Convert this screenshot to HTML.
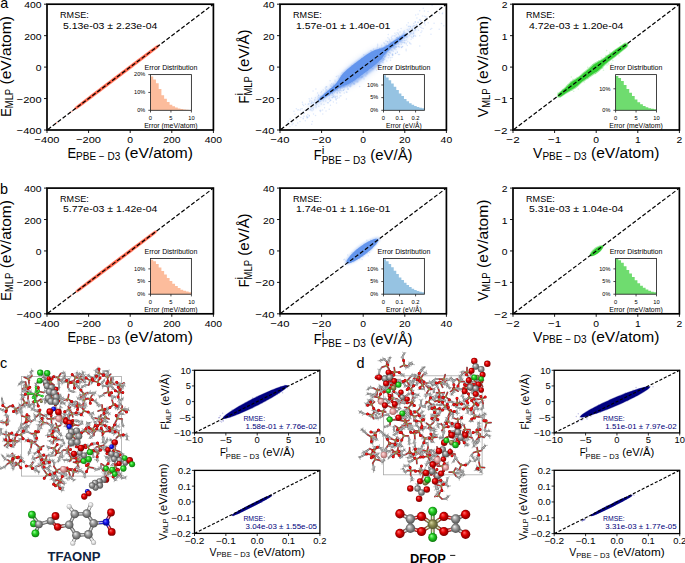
<!DOCTYPE html><html><head><meta charset="utf-8"><style>html,body{margin:0;padding:0;background:#fff;width:685px;height:563px;overflow:hidden}svg{display:block}text{font-family:"Liberation Sans",sans-serif}</style></head><body>
<svg width="685" height="563" viewBox="0 0 685 563">
<rect width="685" height="563" fill="#fff"/>
<defs><filter id="b1" x="-20%" y="-20%" width="140%" height="140%"><feGaussianBlur stdDeviation="0.7"/></filter><filter id="b2" x="-20%" y="-20%" width="140%" height="140%"><feGaussianBlur stdDeviation="1.3"/></filter><filter id="b3" x="-30%" y="-30%" width="160%" height="160%"><feGaussianBlur stdDeviation="2.5"/></filter></defs>
<path d="M73.26 110.15L74.48 107.24L76.61 105.53L78.75 103.84L80.91 102.17L83.07 100.5L85.23 98.84L87.4 97.18L89.56 95.52L91.73 93.87L93.9 92.21L96.07 90.56L98.24 88.91L100.42 87.26L102.59 85.61L104.76 83.96L106.94 82.31L109.11 80.67L111.29 79.02L113.46 77.37L115.64 75.73L117.81 74.08L119.99 72.44L122.17 70.79L124.35 69.15L126.53 67.51L128.7 65.87L130.88 64.23L133.06 62.59L135.24 60.95L137.43 59.31L139.61 57.67L141.79 56.04L143.98 54.4L146.17 52.77L148.35 51.15L150.55 49.52L152.75 47.91L154.95 46.3L157.18 44.72L160.31 44.34L160.31 44.34L159.08 47.24L156.96 48.96L154.81 50.64L152.66 52.32L150.5 53.98L148.34 55.65L146.17 57.3L144 58.96L141.84 60.62L139.67 62.27L137.5 63.92L135.32 65.58L133.15 67.23L130.98 68.88L128.81 70.52L126.63 72.17L124.46 73.82L122.28 75.47L120.11 77.11L117.93 78.76L115.75 80.4L113.58 82.05L111.4 83.69L109.22 85.33L107.04 86.98L104.86 88.62L102.68 90.26L100.5 91.9L98.32 93.54L96.14 95.18L93.96 96.81L91.77 98.45L89.59 100.08L87.4 101.71L85.21 103.34L83.02 104.96L80.82 106.58L78.62 108.18L76.39 109.76L73.26 110.15Z" fill="#ff6347" opacity="0.45"/>
<path d="M74.46 109.24L75.88 106.73L77.95 105.06L80.04 103.43L82.13 101.8L84.23 100.18L86.34 98.56L88.44 96.95L90.55 95.34L92.66 93.73L94.77 92.12L96.88 90.51L98.99 88.91L101.11 87.3L103.22 85.7L105.33 84.09L107.45 82.49L109.56 80.89L111.68 79.29L113.79 77.69L115.91 76.09L118.03 74.49L120.14 72.89L122.26 71.29L124.38 69.69L126.5 68.09L128.62 66.5L130.74 64.9L132.86 63.31L134.98 61.71L137.1 60.12L139.22 58.53L141.34 56.94L143.47 55.35L145.6 53.76L147.72 52.18L149.86 50.6L151.99 49.02L154.14 47.46L156.3 45.93L159.11 45.24L159.11 45.24L157.69 47.76L155.62 49.42L153.53 51.06L151.44 52.69L149.34 54.31L147.23 55.92L145.12 57.54L143.02 59.15L140.91 60.76L138.8 62.37L136.69 63.97L134.57 65.58L132.46 67.18L130.35 68.79L128.23 70.39L126.12 71.99L124.01 73.6L121.89 75.2L119.77 76.8L117.66 78.4L115.54 80L113.42 81.6L111.31 83.2L109.19 84.79L107.07 86.39L104.95 87.99L102.83 89.58L100.71 91.18L98.59 92.77L96.47 94.37L94.35 95.96L92.22 97.55L90.1 99.14L87.97 100.72L85.84 102.31L83.71 103.89L81.57 105.46L79.43 107.02L77.27 108.56L74.46 109.24Z" fill="#ff6347"/>
<path d="M70.18 112.3h0M56.57 122.77h0M71.96 111.44h0" stroke="#ff6347" stroke-width="1.8" stroke-linecap="round" fill="none" opacity="0.5"/>
<path d="M74.51 293.02L75.64 290.19L77.68 288.54L79.74 286.92L81.8 285.32L83.87 283.72L85.95 282.12L88.03 280.53L90.1 278.94L92.19 277.35L94.27 275.77L96.35 274.18L98.43 272.6L100.52 271.02L102.6 269.44L104.69 267.86L106.77 266.27L108.86 264.7L110.94 263.12L113.03 261.54L115.12 259.96L117.21 258.38L119.3 256.81L121.38 255.23L123.47 253.66L125.56 252.08L127.65 250.51L129.75 248.94L131.84 247.36L133.93 245.79L136.02 244.22L138.12 242.66L140.21 241.09L142.31 239.52L144.41 237.96L146.51 236.4L148.61 234.85L150.72 233.3L152.84 231.76L154.98 230.25L158.02 229.93L158.02 229.93L156.88 232.77L154.85 234.42L152.79 236.03L150.72 237.64L148.65 239.24L146.58 240.83L144.5 242.42L142.42 244.01L140.34 245.6L138.26 247.19L136.18 248.77L134.1 250.36L132.01 251.94L129.93 253.52L127.84 255.1L125.76 256.68L123.67 258.26L121.58 259.84L119.5 261.42L117.41 262.99L115.32 264.57L113.23 266.15L111.14 267.72L109.05 269.3L106.96 270.87L104.87 272.45L102.78 274.02L100.69 275.59L98.6 277.16L96.5 278.73L94.41 280.3L92.31 281.87L90.22 283.43L88.12 284.99L86.02 286.55L83.91 288.11L81.8 289.66L79.69 291.19L77.55 292.7L74.51 293.02Z" fill="#ff6347" opacity="0.45"/>
<path d="M75.7 292.12L77.04 289.67L79.02 288.07L81.02 286.5L83.03 284.94L85.04 283.39L87.05 281.84L89.07 280.3L91.09 278.75L93.11 277.21L95.13 275.67L97.16 274.13L99.18 272.6L101.21 271.06L103.23 269.52L105.26 267.99L107.28 266.45L109.31 264.92L111.33 263.39L113.36 261.85L115.39 260.32L117.42 258.79L119.45 257.26L121.48 255.73L123.51 254.2L125.54 252.67L127.57 251.14L129.6 249.61L131.63 248.08L133.66 246.56L135.69 245.03L137.73 243.51L139.76 241.99L141.8 240.47L143.84 238.95L145.88 237.43L147.92 235.92L149.97 234.42L152.03 232.92L154.1 231.45L156.82 230.84L156.82 230.84L155.49 233.29L153.51 234.88L151.51 236.45L149.5 238.01L147.49 239.56L145.47 241.11L143.46 242.66L141.44 244.2L139.42 245.74L137.39 247.28L135.37 248.82L133.35 250.36L131.32 251.9L129.3 253.43L127.27 254.97L125.25 256.5L123.22 258.04L121.19 259.57L119.17 261.1L117.14 262.63L115.11 264.17L113.08 265.7L111.05 267.23L109.02 268.76L106.99 270.29L104.96 271.82L102.93 273.34L100.9 274.87L98.87 276.4L96.83 277.92L94.8 279.45L92.76 280.97L90.73 282.49L88.69 284.01L86.65 285.52L84.61 287.03L82.56 288.54L80.5 290.03L78.42 291.5L75.7 292.12Z" fill="#ff6347"/>
<path d="M71.22 295.33h0M67.8 297.77h0" stroke="#ff6347" stroke-width="1.8" stroke-linecap="round" fill="none" opacity="0.5"/>
<path d="M354.75 72.24h0M357.45 73.83h0M334.88 90.67h0M398.32 39.14h0M396.42 41.61h0M376.19 57.43h0M308.16 104.14h0M379.01 53.77h0M315.53 115.57h0M336.82 90.55h0M373.84 60.26h0M382.1 56.89h0M373 58.93h0M338.77 77.98h0M378.97 50.38h0M345.97 84.79h0M353.25 76.11h0M383.58 51.47h0M351.88 81.14h0M344.57 76.33h0M337.6 86.18h0M380.94 61.62h0M362.98 62.94h0M300.82 117.53h0M362.25 72.23h0M380.01 55.69h0M314.79 99.56h0M383.07 48.33h0M408.89 31.32h0M370.43 68.09h0M385.09 54.58h0M352.41 82.2h0M334.52 92.69h0M410.94 44.1h0M316.77 101.72h0M408.33 30.41h0M311.7 124.34h0M377.01 61.01h0M325.59 90.97h0M398.73 40.35h0M370.93 60.36h0M412.95 26.52h0M379.29 53.32h0M310.03 100.14h0M393.09 42.62h0M303.15 117.93h0M395.48 53.27h0M356.03 69.16h0M317.53 93h0M381.96 54.65h0M372.96 57.8h0M365.53 61.54h0M343.89 84.78h0M397.17 42.28h0M333.48 85.53h0M412.09 33.91h0M320.36 101.31h0M359.85 71.9h0M411.85 37.62h0M407.83 41.86h0M337.31 84.4h0M397.65 37.15h0M374.71 58.76h0M367.69 62.27h0M357.81 71h0M382.27 53.68h0M386.97 47.21h0M427.05 17.54h0M351.19 78.92h0M361.79 65.45h0M352.42 74.51h0M430.98 34.24h0M327.47 93.73h0M376.18 57.19h0M348.77 75.96h0M374.12 62.17h0M440.23 7.15h0M346.55 81.18h0M356.93 73.12h0M399.29 47.28h0M359.99 66.61h0M387.52 41.82h0M310.83 110.02h0M351.76 73.93h0M406.13 50.82h0M402.67 46.44h0M389.41 55.81h0M367.15 60.01h0M358.85 70.59h0M389.08 47.8h0M358.12 65.59h0M398.24 43.25h0M393.87 46.35h0M366.8 62.42h0M369.76 60.37h0M319.85 110.4h0M385.91 55.69h0M335.17 97.46h0M402.28 34.14h0M413.81 35.68h0M366.23 70.39h0M384.49 43.8h0M331.58 83.66h0M396 44.29h0M296.36 108.82h0M362.13 71.42h0M375.84 56.66h0M414.88 35.43h0M396.16 34.68h0M410.88 33.18h0M337.75 82.12h0M367.43 64.39h0M410.22 34.18h0M292.11 124.74h0M302.17 108.68h0M375.44 61.6h0M362.08 65.6h0M363.88 62.11h0M359.99 66.26h0M406.75 25.11h0M340.44 80.89h0M307.7 117.46h0M297.79 110.11h0M324.73 97.27h0M357.93 72.21h0M344.57 81.04h0M421.01 24.1h0M378.63 51.63h0M360.3 75.73h0M343.78 77.59h0M313.34 109.68h0M394.04 40.41h0M362.68 65.25h0M371.71 66.69h0M316.05 107.81h0M394.91 47.18h0M337.2 91.9h0M315.48 104.92h0M325.35 94.61h0M287.5 122.85h0M348.18 89.13h0M387.8 50.91h0M295.95 125.4h0M374.27 61.78h0M387.02 46.22h0M384.47 50.39h0M404.65 32.8h0M383.1 62.84h0M389.23 41.41h0M355.53 75.99h0M431.77 28.45h0M373.46 48.92h0M332.61 87.5h0M424.59 22.52h0M379.8 51.17h0M335.33 89.65h0M371.57 58.1h0M363.28 68.84h0M332.54 93.28h0M392.19 45.64h0M338.93 90.91h0M390.54 60.33h0M382.69 51h0M416.39 25.09h0M360.81 67.76h0M298.52 109.84h0M375.89 61.67h0M401.07 28.61h0M321.21 103.92h0M372.9 59.95h0M353.45 79.97h0M428.07 11.6h0M329.65 101.28h0M415.21 22.28h0M419.47 20.09h0M335.51 87.65h0M297.69 123.06h0M361.09 67.56h0M341.09 85.45h0M377.78 55.31h0M383.86 51.45h0M351.96 73.06h0M367.2 68.46h0M344.03 82.6h0M360.19 69.73h0M363.64 67.06h0M362.27 74.11h0M375.09 54.22h0M378.29 57.58h0M380.42 59.61h0M303.3 112.98h0M332.38 87.4h0M336.54 103.09h0M326.6 86.98h0M354.84 80.71h0M338.35 84.2h0M379.45 54.98h0M409.22 28.9h0M362.17 66.47h0M413.76 23.57h0M399.56 46.63h0M357.78 69.11h0M352.25 71.62h0M380.88 50.28h0M351.92 65.61h0M404.18 38.39h0M361.71 58.47h0M351.14 73.26h0M395.27 43.83h0M326.24 94.97h0M372.99 55.56h0M388.92 48.53h0M389.86 45.09h0M370.46 62.38h0M354.79 71.46h0M332.06 95.17h0M366.99 71.12h0M354.6 83.98h0M340.83 82.15h0M382.2 54.01h0M359.57 77.03h0M420.64 21.19h0M401.29 44.3h0M361.84 76.94h0M386.57 45.59h0M303.63 113.5h0M388.32 57.86h0M309.22 116.11h0M347.27 87.1h0M364.52 66.09h0M382.55 49.99h0M408.43 26.61h0M323.6 101.07h0M333.08 96.91h0M361.4 69.45h0M383.27 60.47h0M324.57 97.44h0M358.28 73.17h0M363.48 71.01h0M385.51 49.44h0" stroke="#6495ed" stroke-width="1.5" stroke-linecap="round" fill="none" opacity="0.22"/>
<path d="M362.54 71.39h0M364.04 79.1h0M332.59 91.04h0M315.41 102.99h0M371.51 67.65h0M356.67 74.42h0M377.29 54.58h0M364.51 70.58h0M359.53 71.16h0M386.71 48.82h0M344.27 89.32h0M353.72 78.65h0M328.84 94.74h0M348.09 79.03h0M381.65 56.14h0M439.32 12.97h0M398.82 40.49h0M406.12 49.18h0M339.41 84.82h0M377.7 45.66h0M371.52 56.06h0M386.1 45.9h0M380.63 55.67h0M382.72 58.5h0M404.53 42.75h0M367.48 55.57h0M356.83 72.84h0M401.04 39.35h0M337.58 86.12h0M380.9 51.25h0M334.99 80.37h0M417.13 27.22h0M373.48 62.22h0M411.2 36.14h0M386.67 52.77h0M340.11 81.93h0M406.59 35.36h0M340.42 81.24h0M361.81 67.89h0M409.16 26.23h0M342.15 73.07h0M362.59 65.41h0M343.45 83.26h0M302.45 102.16h0M411.12 39.25h0M320.87 110.28h0M402.79 40.83h0M362.69 69.78h0M362.33 73.33h0M367.57 70.62h0M361.11 68.42h0M379.45 56.92h0M334.75 88.75h0M344.97 74.47h0M388.78 49.36h0M350.56 80.98h0M335.02 91.33h0M372.3 58.93h0M377.24 47.28h0M341.48 84.46h0M346.97 79.56h0M368.09 62.67h0M355.61 72.24h0M364.17 64.22h0M306.53 117.02h0M365.92 70.19h0M328.98 90.47h0M341.74 81.16h0M387.04 48.51h0M380.45 55.56h0M319.13 101.61h0M379.69 58.12h0M359.32 67.92h0M334.34 86.51h0M425.25 24.97h0M368.98 64.37h0M412.18 29.07h0M394.42 48.2h0M363.5 67.91h0M302.7 104.21h0M397.21 51.77h0M388.07 49.97h0M377.48 55.59h0M316.81 104.5h0M413.36 33.78h0M334.99 96.97h0M324.09 95.71h0M416.65 24.88h0M367.13 55.35h0M348.98 82.09h0M379.59 53.07h0M334.74 96.1h0M372.76 59.78h0M322.88 99.79h0M345.62 79.18h0M360.45 70.55h0M350.42 72.98h0M409.45 35.38h0M392.92 49.64h0M364.81 63.8h0M413.47 32.5h0M361.25 68.77h0M316.15 103.57h0M341.54 82.62h0M333.38 101.94h0M364.71 65.9h0M344.42 78.01h0M356.57 75.79h0M382.81 60.7h0M342.43 83.91h0M391.5 47.57h0M375.25 61.93h0M370.05 55.5h0M336.36 76.46h0M343.42 82.98h0M367.42 60.53h0M330.46 105.19h0M381.45 50.39h0M377.64 44.17h0M370.01 61.86h0M392.69 43.81h0M420.97 32.5h0M359.61 86.59h0M390.86 49.14h0M387.88 37.81h0M364.3 68.29h0M349.98 82.09h0M342.36 80.69h0M365.05 66.44h0M356.59 69.19h0M380.09 56.01h0M385.58 51.95h0M323.19 89.99h0M381.02 59.15h0M397.49 40.24h0M309.16 98.72h0M372.71 56.9h0M370.62 63.14h0M311.64 100.93h0M365.52 67.51h0M375.03 58.81h0M386.46 52.39h0M367.02 73.91h0M348.98 75.71h0M407.71 36.65h0M356.93 66.2h0M352.02 73.26h0M417.43 26.85h0M405.15 40.55h0M370.79 62.7h0M365.39 61.72h0M442.69 13.07h0M344.48 79.83h0M328.99 91.18h0M382.9 54.56h0M384.53 59.43h0M392.08 54.24h0M343.13 86.09h0M349.29 74.65h0M367.4 66.58h0M377.67 49.53h0M363.49 66.41h0M402.8 36.59h0M315.92 89.05h0M441.47 23.49h0M361.93 67.36h0M393.06 41.88h0M357.56 77.03h0M365.21 62.28h0M332.03 97.48h0M366.99 73.09h0M356.62 75h0M379.97 58.72h0M336.87 90.12h0M363.71 70.43h0M362.93 65.28h0M397.06 32.63h0M340.05 87.79h0M340.96 85.09h0M383.81 59.04h0M378.86 56.39h0M304.79 110.29h0M407.33 45.59h0M389.23 47.33h0M378.15 54.72h0M406.25 36.9h0M392.92 47.82h0M389.23 52.59h0M357.07 65.52h0M378.57 57.22h0M329.65 98h0M368.23 60.26h0M376.42 55.67h0M360.02 65h0M352.75 78.54h0M392.17 45.86h0M356.34 75.84h0M354.48 71.95h0M377.93 62.46h0M377.2 56.69h0M330.04 88.91h0M355.77 75.21h0M386.08 43.93h0M340.97 82.7h0M330.11 80.79h0M345.51 75.8h0M341.4 80.54h0M443.78 25.86h0M349.01 76.5h0M362.37 71.51h0M432.39 15.22h0M308.87 103.64h0M305.41 104.2h0M345.23 80.99h0M403.9 36.64h0M324.59 107.64h0M399.67 36.24h0M335.8 84.31h0M378.36 53.56h0M293 123.41h0M390.84 43.28h0M398.43 54.58h0M368.38 62.09h0M353.42 75.34h0M393.41 47.63h0M402.78 42.7h0M373.63 62.54h0M370.46 65.55h0M309.66 101.57h0M374.88 61.77h0M368.36 59.94h0M333.1 91.46h0M379.98 52.88h0M357.88 81.64h0M402.73 36.29h0M364.96 67.9h0M373.31 62.34h0M333.28 94.83h0M346.4 83.81h0M325.27 93.12h0" stroke="#6495ed" stroke-width="1.5" stroke-linecap="round" fill="none" opacity="0.22"/>
<path d="M320.31 96.58h0M330.69 90.73h0M407.25 33.57h0M340.56 84.97h0M372.26 68.6h0M344.22 81.65h0M348.85 78.58h0M385.53 47.3h0M391.38 43.64h0M354.85 74.5h0M356.01 74.92h0M361.82 76.53h0M353.42 75.61h0M332.99 91.08h0M380.83 55.56h0M439.21 29.24h0M361.21 77.5h0M388.26 34.6h0M283.69 127.22h0M381.26 55.9h0M386.83 61.1h0M390.24 45.69h0M365.87 68.46h0M385.53 53.64h0M372.19 63.53h0M292.42 121.85h0M368.89 60.55h0M336.13 88.75h0M383.35 52.16h0M398.01 30.08h0M339.98 95.99h0M387.43 41.68h0M391.31 42.46h0M345.96 84.67h0M394.69 49.17h0M309.37 115.52h0M343.87 86.4h0M372.96 64h0M406.03 36.2h0M325.78 89h0M344.87 80.88h0M364.21 68.61h0M375.87 61.64h0M312.36 121.53h0M325.74 100.91h0M363.16 67.91h0M381.46 53.72h0M340.46 88.99h0M296.98 119.39h0M378.26 54.21h0M360.48 70.89h0M393.84 44.86h0M386.11 47.8h0M368.08 58.76h0M346.57 82.43h0M340.22 89.64h0M408.27 22.85h0M363.62 65.48h0M399.26 36.18h0M406 43.1h0M342.52 81.49h0M409.49 32.47h0M337.51 89.4h0M344.99 86.17h0M413.79 33.78h0M360.45 61.45h0M400.86 37.68h0M343.5 80.97h0M413.81 25.82h0M403.97 36.7h0M380.94 55.66h0M374.71 53.35h0M318.52 102.27h0M372.87 63.29h0M352.48 72.69h0M425.74 16.4h0M377.77 64.08h0M425.25 20.66h0M365.11 71.21h0M364.35 71.73h0M365.34 64.57h0M364.45 66.02h0M333.18 83.23h0M347.53 89.04h0M359.59 74.11h0M332.72 93.11h0M375.82 63.82h0M356.72 66.99h0M386.15 51.52h0M368.32 64.74h0M361.04 66.75h0M365.85 76.08h0M365.04 70.31h0M386.25 53.73h0M364.3 58.05h0M333.62 96.75h0M326.03 110.9h0M302.86 111.23h0M348.11 88.8h0M314.84 100.81h0M340.18 87.41h0M371.6 55.64h0M422.49 16.12h0M368.21 63.54h0M416.88 17.92h0M353.11 73.69h0M373.04 60.43h0M351.08 83.58h0M350.54 85.11h0M401.54 35.98h0M321.61 91.42h0M397.37 52.49h0M420.11 19.59h0M434.08 23.28h0M379.95 53.4h0M370.09 62.16h0M401.63 47.41h0M328.31 102.68h0M347.62 82.82h0M375.14 57.86h0M366.32 68.49h0M347.76 75.33h0M388.12 48.75h0M350.35 70.84h0M343.51 79.81h0M401.54 40.64h0M393.16 51.32h0M395.78 42.37h0M311.31 103.05h0M332.23 84.66h0M342.73 84.41h0M373.74 61.61h0M373.45 62.79h0M385.42 51.28h0M376.47 69.99h0M400.97 39.37h0M306.81 110.09h0M376.48 53.02h0M325.26 88.07h0M354.02 64.87h0M357.95 69.2h0M354.75 79.58h0M396.52 37.78h0M410.48 26.94h0M349.61 86.48h0M344.86 85.34h0M336.52 85.22h0M375.04 60.37h0M369.81 63.73h0M369.22 60.29h0M396.41 46.74h0M311.61 98.15h0M365.43 61.79h0M312.6 108.5h0M367.67 70.56h0M345.87 77.74h0M394.09 35.77h0M340.03 93.07h0M378.44 52.08h0M372.85 66.41h0M386.98 46.02h0M382.79 55.65h0M372 57.92h0M350.47 86.67h0M373.44 58.2h0M362.71 64.89h0M345.48 81.91h0M353.03 73.24h0M415.69 30.03h0M424.35 11.02h0M387.76 46.48h0M421.08 25.55h0M362.56 73.03h0M376.03 52.05h0M380.01 53.36h0M357.24 71.88h0M315.42 97.77h0M353.38 80.64h0M342.06 88.32h0M388.59 43.3h0M317.98 96.68h0M393.83 48.05h0M318.81 106.32h0M342.96 81.71h0M357.03 82h0M374.67 66.12h0M396.01 49.78h0M343.97 86.96h0M343.67 76.6h0M389.65 44.92h0M377.53 64.22h0M348.66 81.74h0M331.47 89.3h0M342.1 87.69h0M336.2 100h0M379.85 48.99h0M371.58 65.94h0M401.97 37.06h0M389.74 40.05h0M401.17 41.92h0M395.49 39.35h0M316.19 106.21h0M318.89 102.27h0M384.96 56.87h0M293.97 111.22h0M372.78 54.12h0M318.7 95.38h0M423.29 8.36h0M356.74 71.83h0M357.05 68.52h0M396.88 42.16h0M318.48 97.43h0M347.58 76.95h0M368.95 56.6h0M401.54 41.7h0M371.29 53.99h0M345.85 79.13h0M398.49 34.14h0M383.59 59.02h0M323.06 96.99h0M370.73 50.71h0M333.61 84.44h0M392.74 54.41h0M337.47 86.68h0M348.61 79.87h0M380.84 58.59h0M380.32 58.16h0M345.37 78.99h0M345.03 80.44h0M414.95 28.81h0M357.84 69.04h0M349.96 73.18h0M321.3 96.11h0M349.5 82.28h0M423.2 28.42h0M417.95 22.34h0M413.27 36.3h0M398.18 33.19h0M360.55 70.65h0M441.71 7.38h0" stroke="#6495ed" stroke-width="1.5" stroke-linecap="round" fill="none" opacity="0.22"/>
<path d="M351.92 79.56h0M377.48 55.76h0M366.12 58.53h0M352.51 74.05h0M413.56 36.26h0M392.23 35.95h0M323.97 104.4h0M335.82 99.1h0M382.63 62.12h0M376.59 51.06h0M313.44 107.76h0M300.22 110.35h0M341.13 86.15h0M364.66 64.77h0M352.9 75.82h0M346.29 80.33h0M326.41 95.55h0M303.98 116.27h0M424.85 20.95h0M323.07 96.93h0M337.32 96.71h0M338.69 82.87h0M376.46 58.52h0M337.24 93.56h0M406.36 34h0M339.16 97.77h0M313.06 90.98h0M327.55 95.5h0M371.03 62.87h0M358.05 78.08h0M325.92 86.84h0M337.77 82.98h0M310.82 109.5h0M370.14 58.3h0M326.54 92.42h0M377.95 60.34h0M381.27 58.69h0M338.65 86.77h0M335.97 96.76h0M348.73 75.5h0M348.28 73.54h0M330.63 100.28h0M412.28 28.47h0M396.31 47.56h0M389.01 47.23h0M384.63 51.77h0M404.31 40.81h0M337.13 95.88h0M403.08 42.21h0M333.24 96h0M352.66 82.02h0M356.07 76.28h0M348.64 83.75h0M366.08 67.81h0M367.16 64.07h0M379.62 65.59h0M348.75 82.86h0M392.63 54.02h0M341.92 85.69h0M351.12 72.76h0M347.7 75.31h0M322.65 110.02h0M401.68 36.47h0M379.28 55.36h0M382.23 59.48h0M395.66 46.46h0M395.22 43.42h0M305.35 120.83h0M400.36 40.79h0M350.84 76.33h0M351.65 79.37h0M366.98 64.65h0M412.26 30.73h0M418.05 14.31h0M415.41 21.64h0M367.89 63.98h0M360.94 72.9h0M363.15 70.78h0M414.66 25.74h0M354.07 83.98h0M363.12 69.87h0M332.44 97.77h0M290.18 119.1h0M356.8 62.33h0M363.3 68.63h0M409.68 32.14h0M370.1 64.47h0M341.14 77.4h0M391.37 37.34h0M352.77 75.85h0M333.41 85.46h0M317.89 98.91h0M395.13 35.98h0M331.17 86.41h0M343.08 87.16h0M318.45 95h0M418.45 30.19h0M340.61 86.93h0M350.86 86.1h0M339.67 79.93h0M424.47 23.6h0M343.18 85.82h0M300.84 109.03h0M326.47 89.87h0M313.54 114.01h0M374.84 62.7h0M388.91 48.63h0M324.79 93.55h0M395.72 53.62h0M420.66 21.31h0M392.87 55.26h0M341.89 85.99h0M402.32 46.75h0M341.01 95.72h0M355.58 72.35h0M312.06 110.64h0M376.64 50.37h0M385.92 52.45h0M329.02 99.36h0M342.45 83.05h0M359.14 64.36h0M375.45 63.6h0M410.38 26.42h0M368.67 66.97h0M307.66 117.07h0M395.17 48.26h0M321.33 98.59h0M370.5 59.93h0M381.53 47.21h0M334.74 84.46h0M330.66 88.89h0M369.21 62.52h0M394.93 44.21h0M397.1 37.5h0M369.47 65.75h0M341.26 87.4h0M357.59 72.45h0M382.53 49.67h0M338.35 90.66h0M353.4 74.65h0M326.63 86.78h0M343.51 77.75h0M289.49 123.88h0M372.46 60.26h0M382.54 52.11h0M373.05 68.71h0M346.96 92.29h0M383.32 51.37h0M359.47 74.46h0M341.1 75.79h0M419.42 25.98h0M409.64 42.44h0M303.86 116.31h0M337.52 90.5h0M363.75 54.7h0M342.79 83.28h0M372.89 60.93h0M389.08 38.93h0M323.86 96.89h0M354.79 72.89h0M320.47 111.51h0M288.19 120.88h0M369.97 62.67h0M289.85 126.39h0M343.4 90.35h0M332.98 87.19h0M381.42 54.44h0M381.8 56.93h0M366.19 65.68h0M381.85 54.34h0M359.71 71.32h0M338.07 75.98h0M379.42 53.79h0M432.09 5.56h0M312.21 102.24h0M385.96 40.96h0M403.76 32.82h0M328.86 99.1h0M371.51 59.6h0M332.43 93.5h0M351.09 76.98h0M375.36 60.21h0M321.03 92.69h0M415.25 29.43h0M395.51 41.21h0M383.89 50.05h0M338.22 84.03h0M398.63 46.28h0M419.73 10.8h0M415.71 14.97h0M388.52 50.69h0M346.78 84.51h0M367.77 64.79h0M390.26 57.78h0M361.81 66.42h0M378.55 55.2h0M357.59 72.88h0M337.24 86.79h0M362.61 67.26h0M336.61 87.99h0M364.34 64.78h0M328.94 91.65h0M393.8 41.7h0M353.32 77.82h0M354.93 71.17h0M414.03 30.68h0M342.59 81.81h0M372.41 65.07h0M340.72 85.62h0M388.31 55.11h0M330.18 90.3h0M324.62 96.64h0M375.48 59.32h0M331.67 92.27h0M352.67 74.55h0M334.47 84.07h0M311.1 108.64h0M362.39 64.85h0M343.29 80.47h0M344.19 78.89h0M420.71 27.28h0M380.22 59.58h0M391.86 39.81h0M367.35 69.58h0M374.29 54.42h0M396.56 38.29h0M307.81 114.58h0M413 38h0M394.93 33.37h0M385.53 45.44h0M356.04 79.04h0M361.12 70.51h0M361.12 66.84h0M358.99 70.47h0M377.54 57.28h0M421.38 21.12h0M367.11 66.01h0M340.85 78.35h0M370.99 66.79h0M346.37 81.49h0" stroke="#6495ed" stroke-width="1.5" stroke-linecap="round" fill="none" opacity="0.22"/>
<path d="M347.34 75.02h0M325.57 93.72h0M370.97 67.21h0M365.7 66.6h0M381.03 56.77h0M377.25 64.92h0M327.29 90.82h0M397.27 42.42h0M342.33 78.57h0M300.01 121.6h0M383.87 49.2h0M336.11 99.08h0M409.87 31.87h0M335.26 88.93h0M399.47 54.6h0M397.41 38.04h0M294.95 114.2h0M303.54 105.59h0M371.72 51.28h0M344.5 82.22h0M399.14 44.51h0M342.41 85.71h0M363.82 72.1h0M378.21 54.18h0M362.91 61.32h0M350.71 71.66h0M344.8 78.36h0M301.6 113.3h0M359.42 73.08h0M345.34 83.32h0M346.41 91.97h0M346.27 83.6h0M349.71 83.38h0M358.08 68.67h0M357.06 74.91h0M404.47 30.99h0M390.41 41.29h0M353.84 75.76h0M401.04 42.65h0M359.42 69.38h0M376.5 59.31h0M395.85 44.4h0M384.52 46.53h0M383.27 49.26h0M330.62 100.28h0M343.13 80.93h0M415.57 36.17h0M375.62 62.53h0M341.31 86.06h0M385.55 50.13h0M404.38 42.67h0M389.98 42.88h0M365.27 64.57h0M348.57 84.46h0M352.5 79.17h0M416.02 26.86h0M372.36 57.85h0M336.86 83.27h0M379.35 62.84h0M381.88 51.27h0M374.87 51.85h0M349.64 75.99h0M390.1 52.39h0M406.34 43.93h0M321.02 96.88h0M329.57 94.19h0M311.3 106.9h0M326.89 93.6h0M313.74 102.67h0M355.36 73.75h0M361.59 68.79h0M329.24 109.17h0M366.92 69.1h0M348.53 77.19h0M303.22 118.79h0M347.04 85.53h0M374.73 60.02h0M340.3 90.58h0M391.42 50.22h0M381.61 51.99h0M307.15 117.91h0M363.44 66.55h0M386.88 46.04h0M398 43.88h0M355.67 70.44h0M348.06 74.63h0M311.28 103.17h0M362.52 77.03h0M394.44 42.78h0M366.76 69.76h0M345.72 74.19h0M346.38 99.07h0M339.73 92.21h0M360.58 71.74h0M337.07 92.39h0M401.31 47.35h0M428.25 22.71h0M326.99 91.03h0M384.44 57.11h0M392.44 55.45h0M331.6 85.91h0M358.6 77.31h0M378.29 52.31h0M366.8 72.69h0M352.04 74.65h0M383.92 42.86h0M356.96 74.94h0M360.42 65.3h0M330.55 85.71h0M341.33 82.33h0M388.84 54.69h0M360.76 68.95h0M384.93 56.23h0M337.45 98.16h0M360.03 77h0M395.07 46.91h0M407.28 29.52h0M363.25 65.12h0M329.41 95.5h0M348.6 85.34h0M364.83 67.46h0M419.75 46.04h0M344.77 86.65h0M348.24 77.43h0M376.82 57.68h0M347.75 77.45h0M379.52 64.16h0M358.55 77.68h0M325.89 95.46h0M365.7 65.75h0M336.58 89.3h0M333.89 88.21h0M381.71 45.25h0M406.69 39.99h0M351.52 81.35h0M369.5 54.48h0M391.98 57.51h0M327.55 102.69h0M380.43 55.07h0M369.74 55.21h0M339.75 90.29h0M425.58 18.56h0M344.21 92.98h0M322.78 114.08h0M366.09 65.74h0M396.05 44.04h0M343.67 86.62h0M430.5 29.36h0M369.49 63.24h0M384.64 53.89h0M378.06 52.99h0M360.23 72.29h0M360.05 74.63h0M358 73.34h0M367.93 58.75h0M407.01 37.65h0M382.54 52.03h0M388.25 49.06h0M373.47 62.41h0M336.79 83.54h0M403.54 33.65h0M377.31 56.2h0M353.66 83.68h0M384.69 50.86h0M348.57 83.84h0M409.92 43.49h0M418.17 22.29h0M442.26 13.77h0M364.29 69.33h0M369.38 64.32h0M337.46 82.04h0M340.22 88.11h0M382.95 55.78h0M349.33 76.93h0M355 79.99h0M361.18 70.55h0M421.87 30.97h0M397 46.85h0M353.36 77.03h0M370.8 58.55h0M421.87 27.98h0M403.56 31.61h0M391.84 50.43h0M393.02 46.14h0M375.86 59.75h0M382.5 47.92h0M400.65 40.96h0M391.91 38.4h0M330.32 84.99h0M319.82 97.63h0M379.45 48.54h0M373.92 62.13h0M341.71 90.87h0M389.03 49.8h0M339.8 83.09h0M340.68 87.39h0M345.63 73.61h0M411.15 32.84h0M313.02 104.28h0M365.6 64.85h0M382.79 54.85h0M391.34 42.31h0M371.57 63.54h0M347.09 77.01h0M329.35 94.6h0M343.51 90.15h0M383.32 53.02h0M363.43 64.37h0M316.53 103.81h0M371.43 58.18h0M327.44 91.1h0M368.17 58.46h0M398.82 38.03h0M432.56 15.68h0M351.22 78.75h0M334.07 90.29h0M304.34 113.18h0M375.37 54.29h0M349.89 71.87h0M343.54 83.64h0M306.59 116.11h0M335.1 81.76h0M383.01 58.29h0M379.54 53.49h0M356.68 72.94h0M355.63 76.19h0M309.05 109.63h0M400.05 31.99h0M356.87 76.12h0M355.59 70.07h0M376.19 60.87h0M375.72 59.55h0M380.97 56.57h0M318.02 101.91h0M390.33 53.13h0M358.94 67.76h0M353.74 78.15h0M424.44 16.16h0M398.4 46.58h0M419.72 35.71h0" stroke="#6495ed" stroke-width="1.5" stroke-linecap="round" fill="none" opacity="0.22"/>
<path d="M306.76 109.81L307.7 107.18L309.19 105.28L310.77 103.51L312.4 101.8L314.07 100.13L315.76 98.5L317.47 96.89L319.19 95.3L320.93 93.73L322.68 92.18L324.44 90.63L326.2 89.1L327.97 87.57L329.73 86.03L331.47 84.46L333.17 82.83L334.8 81.13L336.37 79.34L337.89 77.48L339.39 75.59L340.89 73.71L342.44 71.89L344.05 70.14L345.71 68.48L347.44 66.9L349.22 65.37L351.03 63.9L352.86 62.46L354.71 61.03L356.57 59.62L358.43 58.22L360.31 56.83L362.2 55.46L364.11 54.12L366.05 52.82L368.05 51.59L370.1 50.44L372.22 49.37L374.4 48.38L376.61 47.44L378.84 46.52L381.04 45.57L383.19 44.54L385.28 43.43L387.31 42.24L389.29 41L391.25 39.72L393.21 38.44L395.16 37.16L397.13 35.89L399.1 34.63L401.09 33.39L403.09 32.16L405.1 30.96L407.13 29.78L409.19 28.63L411.28 27.52L413.42 26.48L415.65 25.57L418.44 25.39L418.44 25.39L417.5 28.02L416.01 29.92L414.43 31.69L412.8 33.4L411.13 35.07L409.44 36.7L407.73 38.31L406.01 39.9L404.27 41.47L402.52 43.02L400.76 44.57L399 46.1L397.23 47.63L395.47 49.17L393.73 50.74L392.03 52.37L390.4 54.07L388.83 55.86L387.31 57.72L385.81 59.61L384.31 61.49L382.76 63.31L381.15 65.06L379.49 66.72L377.76 68.3L375.98 69.83L374.17 71.3L372.34 72.74L370.49 74.17L368.63 75.58L366.77 76.98L364.89 78.37L363 79.74L361.09 81.08L359.15 82.38L357.15 83.61L355.1 84.76L352.98 85.83L350.8 86.82L348.59 87.76L346.36 88.68L344.16 89.63L342.01 90.66L339.92 91.77L337.89 92.96L335.91 94.2L333.95 95.48L331.99 96.76L330.04 98.04L328.07 99.31L326.1 100.57L324.11 101.81L322.11 103.04L320.1 104.24L318.07 105.42L316.01 106.57L313.92 107.68L311.78 108.72L309.55 109.63L306.76 109.81Z" fill="#6495ed" opacity="0.2" filter="url(#b3)"/>
<path d="M317.93 101.07L318.8 99.13L320.07 97.71L321.4 96.37L322.76 95.08L324.14 93.81L325.53 92.55L326.94 91.32L328.35 90.09L329.77 88.88L331.2 87.67L332.62 86.46L334.02 85.21L335.35 83.87L336.56 82.38L337.65 80.73L338.67 78.98L339.68 77.22L340.74 75.53L341.88 73.94L343.12 72.48L344.43 71.12L345.8 69.84L347.21 68.61L348.64 67.41L350.1 66.24L351.56 65.08L353.03 63.93L354.51 62.78L355.99 61.65L357.47 60.52L358.97 59.4L360.46 58.28L361.96 57.17L363.47 56.08L365 54.99L366.53 53.93L368.1 52.9L369.7 51.93L371.37 51.04L373.12 50.26L374.96 49.59L376.88 49.04L378.85 48.56L380.81 48.06L382.69 47.45L384.45 46.68L386.09 45.75L387.67 44.74L389.21 43.69L390.76 42.64L392.31 41.6L393.87 40.56L395.43 39.53L397 38.52L398.59 37.52L400.19 36.54L401.8 35.58L403.45 34.67L405.16 33.83L407.27 33.53L407.27 33.53L406.4 35.47L405.13 36.89L403.8 38.23L402.44 39.52L401.06 40.79L399.67 42.05L398.26 43.28L396.85 44.51L395.43 45.72L394 46.93L392.57 48.13L391.14 49.33L389.73 50.57L388.4 51.9L387.18 53.38L386.08 55.02L385.06 56.77L384.06 58.54L383 60.24L381.86 61.83L380.63 63.29L379.32 64.65L377.95 65.94L376.54 67.16L375.09 68.35L373.64 69.52L372.17 70.67L370.69 71.82L369.21 72.95L367.73 74.08L366.23 75.2L364.74 76.32L363.24 77.43L361.73 78.53L360.21 79.62L358.69 80.7L357.15 81.75L355.58 82.77L353.97 83.74L352.3 84.63L350.56 85.42L348.73 86.09L346.81 86.65L344.84 87.14L342.87 87.64L340.99 88.24L339.23 89L337.57 89.91L335.99 90.92L334.44 91.96L332.89 93L331.33 94.04L329.77 95.07L328.2 96.08L326.61 97.08L325.01 98.06L323.4 99.02L321.75 99.93L320.04 100.77L317.93 101.07Z" fill="#6495ed" opacity="0.55" filter="url(#b2)"/>
<path d="M317.93 101.07L318.54 99.56L319.48 98.48L320.47 97.46L321.48 96.48L322.5 95.51L323.54 94.56L324.58 93.62L325.64 92.7L326.7 91.77L327.76 90.86L328.83 89.95L329.9 89.04L330.97 88.14L332.04 87.24L333.11 86.33L334.16 85.4L335.18 84.42L336.14 83.37L337.03 82.23L337.86 81.01L338.66 79.74L339.44 78.45L340.23 77.18L341.06 75.95L341.93 74.78L342.85 73.67L343.81 72.62L344.81 71.63L345.84 70.67L346.89 69.74L347.96 68.83L349.05 67.94L350.14 67.06L351.23 66.19L352.33 65.33L353.44 64.47L354.55 63.61L355.66 62.76L356.77 61.91L357.88 61.06L359 60.22L360.12 59.38L361.25 58.55L362.37 57.71L363.5 56.89L364.64 56.07L365.78 55.26L366.93 54.46L368.1 53.68L369.28 52.93L370.5 52.21L371.74 51.53L373.03 50.91L374.36 50.36L375.74 49.86L377.17 49.42L378.62 49.02L380.07 48.62L381.5 48.19L382.87 47.69L384.19 47.1L385.43 46.43L386.63 45.7L387.81 44.92L388.96 44.13L390.12 43.34L391.28 42.55L392.44 41.76L393.6 40.98L394.76 40.2L395.94 39.43L397.11 38.66L398.29 37.9L399.48 37.15L400.68 36.41L401.88 35.69L403.11 34.99L404.36 34.32L405.65 33.71L407.27 33.53L407.27 33.53L406.52 34.86L405.54 35.88L404.52 36.86L403.48 37.8L402.43 38.74L401.38 39.66L400.31 40.57L399.24 41.48L398.17 42.38L397.09 43.28L396.01 44.17L394.93 45.06L393.84 45.95L392.76 46.83L391.67 47.71L390.58 48.6L389.51 49.5L388.45 50.42L387.43 51.39L386.46 52.43L385.53 53.53L384.65 54.68L383.78 55.85L382.91 57.02L382.02 58.16L381.1 59.27L380.14 60.32L379.15 61.33L378.13 62.3L377.08 63.24L376.02 64.15L374.94 65.04L373.84 65.92L372.75 66.79L371.64 67.65L370.54 68.51L369.43 69.37L368.32 70.22L367.2 71.07L366.09 71.91L364.97 72.75L363.85 73.59L362.73 74.43L361.6 75.27L360.48 76.1L359.35 76.93L358.22 77.75L357.08 78.57L355.94 79.38L354.79 80.18L353.62 80.96L352.44 81.72L351.24 82.45L350.01 83.15L348.75 83.8L347.45 84.4L346.12 84.96L344.76 85.49L343.4 86.01L342.04 86.53L340.71 87.1L339.43 87.73L338.2 88.42L337.01 89.16L335.84 89.94L334.69 90.74L333.54 91.54L332.39 92.34L331.24 93.14L330.09 93.94L328.93 94.73L327.77 95.52L326.61 96.3L325.44 97.07L324.26 97.84L323.08 98.59L321.88 99.33L320.67 100.05L319.42 100.72L317.93 101.07Z" fill="#6495ed" filter="url(#b1)"/>
<path d="M357.32 252.52h0M374.41 245.28h0M357.03 254.48h0M346.38 260.79h0M367.54 248.64h0M365.46 246.25h0M364.11 248.14h0M375.05 243.23h0M364.53 251.08h0M371.18 245.83h0M365.96 247.95h0M360.49 247.27h0M359.75 248.73h0M366.77 243.38h0M359.85 250.14h0M369.31 247.88h0M364.77 249.69h0M360.32 248.69h0M359.6 258.71h0M349.86 262.19h0M357.51 254.73h0M364.13 244.09h0M364.18 248.28h0M355.93 254.06h0M370.71 240.11h0M345.87 260.26h0M373.27 239.91h0M351.52 260.38h0M366.37 246.73h0M357.67 257.59h0M372.08 248.24h0M373.49 242.63h0" stroke="#6495ed" stroke-width="1.4" stroke-linecap="round" fill="none" opacity="0.22"/>
<path d="M366.81 251.91h0M356.85 253.04h0M347.69 254.88h0M353.78 261.87h0M362.13 249.82h0M368.71 247.52h0M361.26 252.67h0M362.07 259.61h0M369.47 244.89h0M364.64 251.31h0M364.45 249.57h0M360.3 249.31h0M348.86 260.4h0M354.84 257.86h0M375.83 244.76h0M362.6 252.72h0M371.35 247.58h0M348.71 259.57h0M360.27 253.69h0M372.23 246.66h0M359.42 252.87h0M366.45 249.64h0M366.8 240.2h0M356.54 249.62h0M343.8 259.86h0M359.66 252.72h0M360.85 254.23h0M353.37 259.26h0M370.54 240.99h0M360.63 254.07h0M359 257.55h0M375.16 239.02h0" stroke="#6495ed" stroke-width="1.4" stroke-linecap="round" fill="none" opacity="0.22"/>
<path d="M364.12 251.28h0M352.54 254.1h0M369.99 248.47h0M371.86 247.64h0M368.91 249.26h0M358.57 252.41h0M364.28 246.46h0M353.58 252.53h0M372.82 243.24h0M367.25 249.88h0M363.28 254.46h0M362.89 250.1h0M371.21 241.13h0M369.31 247.04h0M361.28 252.97h0M367.07 253.51h0M370.87 249.81h0M358.52 253.94h0M356.02 250.6h0M359.45 248.52h0M372.31 245.29h0M363.61 246.08h0M359.82 252.75h0M358.13 254.11h0M359.67 252.88h0M367.93 242.23h0M363.22 249.84h0M369.52 246.66h0M352.59 254.74h0M353.85 254.44h0M352.17 252.69h0M353.13 255.22h0" stroke="#6495ed" stroke-width="1.4" stroke-linecap="round" fill="none" opacity="0.22"/>
<path d="M375.62 244.48h0M375.27 244.25h0M347.73 259.55h0M368.19 247.36h0M343.26 265.75h0M360.73 253.52h0M362.96 256.22h0M355.38 250.61h0M374.96 242.87h0M356.43 254.3h0M369.46 243.3h0M353.28 257.41h0M361.46 247.39h0M370.8 242.94h0M372.47 244.83h0M375.01 243.06h0M364.14 246.87h0M356.62 257.77h0M348.75 260.79h0M362.55 251.95h0M369.55 252.4h0M362.19 250.97h0M359.28 250.97h0M376.7 241.89h0M356.27 257.72h0M362.35 249.33h0M354.32 253.88h0M353.31 255.16h0M365.07 247.6h0M379.5 239.15h0M360.53 251.03h0M371.24 248.82h0" stroke="#6495ed" stroke-width="1.4" stroke-linecap="round" fill="none" opacity="0.22"/>
<path d="M365.71 250.87h0M365.2 244.54h0M363.05 250.91h0M368.27 255.72h0M367.52 245.37h0M364.34 250.82h0M357.18 255.6h0M371.96 244.2h0M377.12 248.89h0M358.56 253.11h0M364.8 254.26h0M355.46 252.27h0M354.25 260.65h0M355 258.54h0M366.5 246.06h0M344.34 259.3h0M358.87 255.63h0M375.42 241.54h0M354.06 259.57h0M358.52 257.3h0M358.63 251.18h0M367.26 251.72h0M354.73 256.48h0M361.64 249.35h0M359.3 251.99h0M378.46 238.59h0M353.67 256.56h0M356.93 256.42h0M363.44 249.25h0M359.05 250.97h0M362.95 254.67h0M369.8 246.69h0" stroke="#6495ed" stroke-width="1.4" stroke-linecap="round" fill="none" opacity="0.22"/>
<path d="M344.95 264.26L344.94 262.43L345.38 261.18L345.92 260.08L346.52 259.04L347.15 258.06L347.82 257.12L348.51 256.21L349.23 255.33L349.96 254.48L350.71 253.64L351.47 252.83L352.25 252.04L353.05 251.26L353.85 250.5L354.67 249.76L355.5 249.03L356.34 248.31L357.19 247.61L358.05 246.93L358.92 246.26L359.8 245.6L360.7 244.96L361.6 244.34L362.52 243.72L363.44 243.13L364.38 242.54L365.33 241.98L366.3 241.43L367.27 240.89L368.26 240.38L369.27 239.89L370.29 239.42L371.33 238.97L372.4 238.55L373.49 238.17L374.6 237.82L375.76 237.53L376.98 237.32L378.29 237.23L380.05 237.74L380.05 237.74L379.9 239.36L379.38 240.5L378.78 241.53L378.13 242.49L377.45 243.42L376.74 244.31L376.02 245.17L375.27 246.01L374.51 246.83L373.74 247.63L372.96 248.42L372.16 249.19L371.35 249.94L370.53 250.69L369.71 251.42L368.87 252.13L368.02 252.84L367.17 253.53L366.3 254.21L365.43 254.88L364.55 255.54L363.66 256.18L362.76 256.81L361.85 257.44L360.93 258.05L360 258.64L359.06 259.23L358.12 259.8L357.16 260.35L356.19 260.89L355.21 261.42L354.21 261.92L353.2 262.41L352.17 262.87L351.12 263.31L350.04 263.71L348.94 264.07L347.78 264.37L346.55 264.56L344.95 264.26Z" fill="#6495ed" opacity="0.4" filter="url(#b2)"/>
<path d="M346.54 263.26L346.51 261.55L346.94 260.47L347.46 259.5L348.03 258.59L348.64 257.73L349.27 256.91L349.92 256.12L350.59 255.34L351.28 254.59L351.97 253.86L352.68 253.14L353.41 252.43L354.14 251.74L354.88 251.07L355.63 250.4L356.39 249.75L357.16 249.11L357.94 248.48L358.72 247.86L359.52 247.25L360.32 246.65L361.13 246.07L361.95 245.49L362.77 244.93L363.61 244.37L364.45 243.83L365.31 243.3L366.17 242.79L367.05 242.29L367.93 241.8L368.83 241.33L369.74 240.88L370.67 240.44L371.61 240.03L372.58 239.65L373.57 239.3L374.59 239L375.67 238.77L376.83 238.65L378.46 239.14L378.46 239.14L378.34 240.65L377.84 241.65L377.27 242.55L376.66 243.4L376.02 244.21L375.36 244.99L374.68 245.75L373.98 246.5L373.28 247.22L372.56 247.93L371.84 248.63L371.1 249.31L370.36 249.99L369.61 250.65L368.85 251.31L368.08 251.95L367.3 252.58L366.52 253.21L365.74 253.82L364.94 254.43L364.14 255.03L363.33 255.62L362.52 256.2L361.7 256.77L360.87 257.33L360.03 257.88L359.19 258.43L358.33 258.96L357.47 259.48L356.6 259.99L355.73 260.48L354.83 260.96L353.93 261.43L353.01 261.87L352.08 262.29L351.12 262.69L350.14 263.04L349.12 263.35L348.02 263.55L346.54 263.26Z" fill="#6495ed" filter="url(#b1)"/>
<path d="M614.04 55.9h0M601.91 62.28h0M569.1 91.23h0M619.02 55.7h0M606.57 56.51h0M600.11 62.6h0M584.36 76.48h0M595.9 66.51h0M604.9 61.52h0M581.67 80.12h0M601.93 67.97h0M572.15 86.88h0M583.76 77.69h0M587.3 74.95h0M608.53 63.9h0M586.88 73.18h0M599.29 61.72h0M611.94 58.63h0M603.89 62.66h0M577.03 77.56h0M583.27 79.75h0M587.01 76.92h0M609.15 56.61h0M615.75 51.53h0M580.86 76.07h0M582.29 79.36h0M589.82 72.22h0M613.71 56.02h0M598.68 65.71h0M572.98 88.23h0M588.43 72.21h0M597.44 65.18h0M594.15 70.36h0M601.3 66.55h0M570.46 87.92h0M569.25 89.37h0M580.84 80.72h0M593.06 72.2h0M587.94 78.71h0M596.38 69.92h0M603.48 70.2h0M578.8 79.96h0M586.47 74.58h0M596.53 71.59h0M596.38 66.94h0M575.2 81.22h0M591.84 70.74h0M584.32 74.89h0M592.76 66.81h0M601.21 65.51h0" stroke="#32cd32" stroke-width="1.6" stroke-linecap="round" fill="none" opacity="0.2"/>
<path d="M587.63 71.31h0M585.98 74.12h0M601.8 63.79h0M594.64 68.06h0M596.06 69.82h0M613.39 54.9h0M583.13 79.47h0M600.31 67.57h0M572.92 79.28h0M613.46 51.39h0M615.03 51.53h0M562.43 89.56h0M613.04 53.34h0M557.74 92.96h0M616.58 53.53h0M593.78 67.07h0M589.71 69.21h0M593.11 67.82h0M596.22 71.8h0M571.34 77.07h0M595.61 64.13h0M609.65 52.34h0M602.96 64.13h0M595.71 73.47h0M588.23 70.89h0M594.89 66.09h0M616.6 54.79h0M584.24 82.02h0M574.6 82.28h0M571.25 82.34h0M600.67 65.57h0M591.24 70.61h0M620.15 42.78h0M593.61 66.6h0M615.24 51.62h0M599.1 65.85h0M587.47 77.7h0M626.57 45.85h0M597.25 66.81h0M593.15 64.5h0M591.26 72.01h0M580 79.82h0M584.93 75.43h0M600.62 66.67h0M624.42 43.64h0M605.62 58.29h0M605.74 58.32h0M615.36 50.07h0M616.43 53.68h0M593.69 71.54h0" stroke="#32cd32" stroke-width="1.6" stroke-linecap="round" fill="none" opacity="0.2"/>
<path d="M607.88 56.24h0M583.92 75.08h0M615.4 56.26h0M590.23 70.16h0M591.55 69.89h0M612.4 54.3h0M572.94 83h0M590.88 71.2h0M584.97 80.04h0M571.9 86.91h0M578.25 89.03h0M613.96 57.48h0M579.56 78.52h0M616.72 54.24h0M604.66 62.52h0M597.78 66h0M595.26 73.57h0M567.64 89.22h0M617.57 52.95h0M601.57 62.97h0M599.57 62.05h0M566.69 89.01h0M590.1 73.03h0M579.21 82.65h0M576.65 85.5h0M621.75 48.16h0M606.77 62.38h0M561.34 93.44h0M617.37 51.62h0M575.93 83.54h0M577.61 85.65h0M589.29 73.9h0M580.06 82.3h0M576.46 81.74h0M616.82 52.53h0M564.64 90.56h0M573.15 85.4h0M593.66 67.79h0M612.8 56.58h0M571.72 86.56h0M598.71 67.66h0M605.61 55.46h0M567.86 87.87h0M612.8 60.59h0M596.54 67.91h0M566.5 86.1h0M597.09 68.24h0M599.38 63.21h0M605.04 59.12h0M601.35 67.06h0" stroke="#32cd32" stroke-width="1.6" stroke-linecap="round" fill="none" opacity="0.2"/>
<path d="M585.31 75.36h0M587.7 77.03h0M561.24 93.21h0M594.08 70.82h0M586.83 77.2h0M580.02 80.02h0M580.73 77.21h0M590.08 71.75h0M597.84 62.54h0M602.66 61.95h0M591.04 73.76h0M585.88 73.3h0M597.12 67.94h0M572.08 90.23h0M596.75 64.07h0M601.03 67.88h0M588.75 72.49h0M576.51 81.38h0M590.45 74.3h0M570.32 84.69h0M600.05 67.19h0M574.1 81.6h0M603.32 63.01h0M620.35 50.1h0M573.1 81.77h0M588.99 71.94h0M594.76 71.53h0M572.68 85.85h0M618.14 53.86h0M615.61 52.18h0M573.32 84.02h0M603.66 64.5h0M600.36 67.61h0M602.92 68.02h0M591.42 73.49h0M567.75 89.72h0M596.41 68.98h0M572.24 85h0M562.08 91.73h0M598.71 60.69h0M607.28 58.09h0M597.16 66.7h0M568.02 84.53h0M602.09 63.89h0M571.06 82.17h0M603.44 65.49h0M601.49 57.96h0M591.75 69.7h0M586.49 76.68h0M606.67 50.59h0" stroke="#32cd32" stroke-width="1.6" stroke-linecap="round" fill="none" opacity="0.2"/>
<path d="M594.86 68.88h0M606.65 60.49h0M603.96 59.22h0M576.88 85.24h0M590.27 69.56h0M595.68 64.27h0M568.55 86.97h0M581.96 77.98h0M599.55 67.81h0M590.44 75.26h0M598.43 68.3h0M583.98 76.1h0M579.96 76.43h0M580.66 76.78h0M598.97 68.43h0M590.16 74.51h0M586.92 75.31h0M624.24 47.53h0M618.77 49.14h0M573.71 91.25h0M607.03 65.12h0M603.48 59h0M599.63 65.52h0M588.07 72.9h0M588.3 75.04h0M584.77 72.74h0M581.62 77.42h0M574.13 86.27h0M569.62 88.17h0M603.88 60.81h0M583.47 75.35h0M586.28 73.92h0M596.59 65.63h0M569.49 85.45h0M587.74 67.37h0M589.48 74.19h0M617.3 49.94h0M624.22 44.84h0M588.23 71.42h0M579.95 81.09h0M583.59 77.68h0M606.59 61.05h0M598.87 66.94h0M611.55 63.92h0M588.94 72.5h0M572.98 82.11h0M594.58 65h0M608.12 56.63h0M591.68 74.08h0M589.61 73.83h0" stroke="#32cd32" stroke-width="1.6" stroke-linecap="round" fill="none" opacity="0.2"/>
<path d="M556.94 97.19L557.28 93.92L558.92 92.37L560.61 90.89L562.32 89.44L564.02 87.97L565.67 86.44L567.25 84.81L568.79 83.13L570.42 81.56L572.21 80.22L574.16 79.08L576.14 77.98L578.03 76.77L579.79 75.38L581.44 73.85L583.09 72.3L584.82 70.88L586.61 69.53L588.34 68.1L589.95 66.52L591.57 64.93L593.31 63.52L595.23 62.35L597.26 61.31L599.29 60.29L601.26 59.17L603.15 57.95L604.99 56.67L606.81 55.36L608.62 54.03L610.43 52.71L612.24 51.39L614.06 50.08L615.88 48.77L617.71 47.48L619.55 46.19L621.41 44.93L623.29 43.7L625.23 42.55L628.46 43.11L628.46 43.11L628.12 46.38L626.48 47.93L624.79 49.41L623.07 50.85L621.33 52.27L619.59 53.68L617.83 55.07L616.08 56.46L614.31 57.85L612.55 59.23L610.78 60.61L609.02 62L607.28 63.42L605.6 64.91L603.99 66.5L602.44 68.17L600.9 69.84L599.24 71.37L597.41 72.66L595.45 73.78L593.49 74.91L591.63 76.17L589.85 77.53L588.01 78.81L586.07 79.97L584.15 81.14L582.34 82.46L580.65 83.95L579.05 85.55L577.42 87.11L575.65 88.48L573.69 89.61L571.66 90.64L569.66 91.72L567.74 92.89L565.86 94.12L564 95.37L562.11 96.6L560.17 97.75L556.94 97.19Z" fill="#32cd32" opacity="0.45" filter="url(#b1)"/>
<path d="M557.74 96.58L558.42 93.86L560.06 92.39L561.73 90.97L563.42 89.57L565.09 88.14L566.72 86.67L568.31 85.13L569.89 83.58L571.54 82.14L573.33 80.86L575.2 79.71L577.08 78.56L578.88 77.32L580.6 75.95L582.24 74.49L583.89 73.03L585.61 71.67L587.36 70.35L589.06 68.96L590.68 67.48L592.3 65.99L594.02 64.62L595.85 63.42L597.77 62.32L599.7 61.24L601.58 60.09L603.41 58.88L605.2 57.61L606.97 56.32L608.74 55.02L610.5 53.72L612.27 52.42L614.04 51.13L615.81 49.84L617.59 48.56L619.38 47.29L621.18 46.04L622.99 44.81L624.85 43.63L627.66 43.72L627.66 43.72L626.98 46.44L625.34 47.91L623.66 49.33L621.97 50.71L620.26 52.09L618.54 53.45L616.82 54.8L615.09 56.15L613.36 57.5L611.63 58.84L609.9 60.19L608.17 61.54L606.46 62.92L604.8 64.35L603.18 65.85L601.62 67.41L600.04 68.95L598.38 70.39L596.59 71.67L594.72 72.82L592.85 73.98L591.05 75.23L589.3 76.56L587.52 77.84L585.67 79.03L583.82 80.21L582.04 81.49L580.35 82.89L578.73 84.38L577.11 85.87L575.4 87.24L573.56 88.44L571.64 89.54L569.73 90.64L567.86 91.81L566.04 93.03L564.23 94.27L562.41 95.5L560.55 96.67L557.74 96.58Z" fill="#32cd32"/>
<path d="M589.58 256.2L589.4 255.24L589.5 254.64L589.65 254.11L589.83 253.62L590.04 253.17L590.27 252.74L590.51 252.33L590.76 251.93L591.03 251.55L591.3 251.19L591.59 250.83L591.88 250.49L592.18 250.16L592.49 249.84L592.8 249.52L593.13 249.22L593.45 248.93L593.79 248.64L594.13 248.36L594.48 248.09L594.83 247.83L595.19 247.58L595.56 247.33L595.93 247.1L596.31 246.87L596.7 246.65L597.1 246.45L597.5 246.25L597.91 246.06L598.33 245.88L598.75 245.72L599.19 245.57L599.64 245.43L600.1 245.31L600.57 245.21L601.07 245.14L601.59 245.09L602.14 245.09L602.75 245.17L603.62 245.6L603.62 245.6L603.7 246.43L603.56 246.97L603.37 247.46L603.16 247.9L602.92 248.32L602.67 248.72L602.41 249.11L602.14 249.48L601.86 249.83L601.57 250.18L601.28 250.52L600.97 250.85L600.66 251.17L600.35 251.48L600.03 251.78L599.7 252.08L599.37 252.37L599.03 252.65L598.68 252.93L598.34 253.2L597.98 253.46L597.62 253.71L597.26 253.96L596.89 254.2L596.51 254.44L596.13 254.66L595.75 254.88L595.35 255.09L594.96 255.29L594.55 255.49L594.14 255.67L593.72 255.84L593.28 256L592.84 256.15L592.39 256.28L591.92 256.39L591.44 256.47L590.92 256.52L590.36 256.51L589.58 256.2Z" fill="#32cd32" opacity="0.4" filter="url(#b1)"/>
<path d="M590.22 255.72L590.18 255.01L590.33 254.54L590.51 254.12L590.72 253.73L590.94 253.36L591.18 253.01L591.42 252.67L591.67 252.34L591.94 252.03L592.2 251.72L592.48 251.42L592.76 251.12L593.04 250.84L593.33 250.56L593.63 250.28L593.93 250.02L594.23 249.75L594.54 249.5L594.85 249.25L595.17 249L595.49 248.77L595.82 248.53L596.15 248.31L596.48 248.09L596.82 247.87L597.16 247.66L597.51 247.46L597.86 247.26L598.22 247.08L598.59 246.89L598.96 246.72L599.33 246.56L599.72 246.4L600.11 246.26L600.52 246.13L600.93 246.02L601.36 245.92L601.82 245.86L602.31 245.85L602.98 246.08L602.98 246.08L603.06 246.84L602.93 247.33L602.76 247.77L602.56 248.18L602.35 248.56L602.12 248.92L601.89 249.27L601.64 249.61L601.39 249.94L601.12 250.25L600.85 250.56L600.58 250.86L600.3 251.15L600.01 251.43L599.72 251.71L599.42 251.98L599.12 252.24L598.81 252.5L598.5 252.75L598.18 252.99L597.86 253.23L597.53 253.46L597.2 253.69L596.87 253.91L596.53 254.12L596.18 254.33L595.83 254.52L595.47 254.72L595.11 254.9L594.74 255.07L594.36 255.24L593.98 255.4L593.59 255.54L593.19 255.67L592.78 255.79L592.35 255.89L591.91 255.97L591.44 256.01L590.93 256L590.22 255.72Z" fill="#32cd32"/>
<line x1="47" y1="130" x2="213.4" y2="4.2" stroke="#000" stroke-width="1.2" stroke-dasharray="4.1 2.1" stroke-dashoffset="-1.0"/>
<path d="M150.5 110.3V76.39H153.23V79.6H155.95V83.17H158.68V89.06H161.41V95.13H164.13V98.7H166.86V101.91H169.59V104.77H172.31V106.37H175.04V107.62H177.77V108.52H180.49V109.05H183.22V109.41H185.95V109.76H188.67V109.94H191.4V110.3Z" fill="#fcbc9c"/>
<text x="148.89" y="119.6" font-size="5.35" textLength="3.21" lengthAdjust="spacingAndGlyphs">0</text>
<text x="169.34" y="119.6" font-size="5.35" textLength="3.21" lengthAdjust="spacingAndGlyphs">5</text>
<text x="188.19" y="119.6" font-size="5.35" textLength="6.43" lengthAdjust="spacingAndGlyphs">10</text>
<text x="137.29" y="112.14" font-size="5.35" textLength="8.01" lengthAdjust="spacingAndGlyphs">0%</text>
<text x="134.08" y="94.29" font-size="5.35" textLength="11.22" lengthAdjust="spacingAndGlyphs">10%</text>
<text x="134.08" y="76.44" font-size="5.35" textLength="11.22" lengthAdjust="spacingAndGlyphs">20%</text>
<path d="M150.5 110.3v2.2M170.95 110.3v2.2M191.4 110.3v2.2M150.5 110.3h-2.2M150.5 92.45h-2.2M150.5 74.6h-2.2" stroke="#000" stroke-width=".7" fill="none"/>
<rect x="150.5" y="74.6" width="40.9" height="35.7" fill="none" stroke="#222" stroke-width=".85"/>
<text x="144.58" y="69.9" font-size="6.51" textLength="52.74" lengthAdjust="spacingAndGlyphs">Error Distribution</text>
<text x="144.26" y="128.1" font-size="6.48" textLength="53.38" lengthAdjust="spacingAndGlyphs">Error (meV/atom)</text>
<path d="M47 130v3M88.6 130v3M130.2 130v3M171.8 130v3M213.4 130v3M47 130h-3M47 98.55h-3M47 67.1h-3M47 35.65h-3M47 4.2h-3" stroke="#000" stroke-width="0.9" fill="none"/>
<rect x="47" y="4.2" width="166.4" height="125.8" fill="none" stroke="#000" stroke-width="1.7"/>
<text x="34.57" y="142.8" font-size="9.86" textLength="24.86" lengthAdjust="spacingAndGlyphs">−400</text>
<text x="76.17" y="142.8" font-size="9.86" textLength="24.86" lengthAdjust="spacingAndGlyphs">−200</text>
<text x="127.32" y="142.8" font-size="9.86" textLength="5.76" lengthAdjust="spacingAndGlyphs">0</text>
<text x="163.16" y="142.8" font-size="9.86" textLength="17.27" lengthAdjust="spacingAndGlyphs">200</text>
<text x="204.76" y="142.8" font-size="9.86" textLength="17.27" lengthAdjust="spacingAndGlyphs">400</text>
<text x="16.74" y="134" font-size="9.86" textLength="24.86" lengthAdjust="spacingAndGlyphs">−400</text>
<text x="16.74" y="102.55" font-size="9.86" textLength="24.86" lengthAdjust="spacingAndGlyphs">−200</text>
<text x="35.84" y="71.1" font-size="9.86" textLength="5.76" lengthAdjust="spacingAndGlyphs">0</text>
<text x="24.33" y="39.65" font-size="9.86" textLength="17.27" lengthAdjust="spacingAndGlyphs">200</text>
<text x="24.33" y="8.2" font-size="9.86" textLength="17.27" lengthAdjust="spacingAndGlyphs">400</text>
<text x="67.41" y="157.8" font-size="14.47" textLength="8.62" lengthAdjust="spacingAndGlyphs">E</text>
<text x="76.03" y="159.7" font-size="10.13" textLength="44.27" lengthAdjust="spacingAndGlyphs">PBE − D3</text>
<text x="124.64" y="157.8" font-size="14.47" textLength="68.35" lengthAdjust="spacingAndGlyphs">(eV/atom)</text>
<g transform="translate(10.9 66.5) rotate(-90)">
<text x="-50.32" y="0" font-size="14.47" textLength="8.62" lengthAdjust="spacingAndGlyphs">E</text>
<text x="-41.7" y="1.9" font-size="10.13" textLength="19.33" lengthAdjust="spacingAndGlyphs">MLP</text>
<text x="-18.03" y="0" font-size="14.47" textLength="68.35" lengthAdjust="spacingAndGlyphs">(eV/atom)</text>
</g>
<text x="60.1" y="17.7" font-size="9.86" textLength="28.61" lengthAdjust="spacingAndGlyphs">RMSE:</text>
<text x="62.98" y="28.5" font-size="9.86" textLength="94.34" lengthAdjust="spacingAndGlyphs">5.13e-03 ± 2.23e-04</text>
<line x1="280" y1="130" x2="446.4" y2="4.2" stroke="#000" stroke-width="1.2" stroke-dasharray="4.1 2.1" stroke-dashoffset="-1.0"/>
<path d="M383.5 110.3V75.36H386.06V77.39H388.61V80.17H391.17V83.46H393.73V86.75H396.28V90.04H398.84V93.59H401.39V96.12H403.95V98.91H406.51V101.19H409.06V103.21H411.62V104.73H414.17V106H416.73V107.01H419.29V107.77H421.84V108.27H424.4V110.3Z" fill="#96c3e2"/>
<text x="381.89" y="119.6" font-size="5.35" textLength="3.21" lengthAdjust="spacingAndGlyphs">0</text>
<text x="395.52" y="119.6" font-size="5.35" textLength="8.03" lengthAdjust="spacingAndGlyphs">0.1</text>
<text x="411.56" y="119.6" font-size="5.35" textLength="8.03" lengthAdjust="spacingAndGlyphs">0.2</text>
<text x="370.29" y="112.14" font-size="5.35" textLength="8.01" lengthAdjust="spacingAndGlyphs">0%</text>
<text x="370.29" y="99.48" font-size="5.35" textLength="8.01" lengthAdjust="spacingAndGlyphs">5%</text>
<text x="367.08" y="86.82" font-size="5.35" textLength="11.22" lengthAdjust="spacingAndGlyphs">10%</text>
<path d="M383.5 110.3v2.2M399.54 110.3v2.2M415.58 110.3v2.2M383.5 110.3h-2.2M383.5 97.64h-2.2M383.5 84.98h-2.2" stroke="#000" stroke-width=".7" fill="none"/>
<rect x="383.5" y="74.6" width="40.9" height="35.7" fill="none" stroke="#222" stroke-width=".85"/>
<text x="377.58" y="69.9" font-size="6.51" textLength="52.74" lengthAdjust="spacingAndGlyphs">Error Distribution</text>
<text x="386.06" y="128.1" font-size="6.48" textLength="35.78" lengthAdjust="spacingAndGlyphs">Error (eV/Å)</text>
<path d="M280 130v3M321.6 130v3M363.2 130v3M404.8 130v3M446.4 130v3M280 130h-3M280 98.55h-3M280 67.1h-3M280 35.65h-3M280 4.2h-3" stroke="#000" stroke-width="0.9" fill="none"/>
<rect x="280" y="4.2" width="166.4" height="125.8" fill="none" stroke="#000" stroke-width="1.7"/>
<text x="270.45" y="142.8" font-size="9.86" textLength="19.1" lengthAdjust="spacingAndGlyphs">−40</text>
<text x="312.05" y="142.8" font-size="9.86" textLength="19.1" lengthAdjust="spacingAndGlyphs">−20</text>
<text x="360.32" y="142.8" font-size="9.86" textLength="5.76" lengthAdjust="spacingAndGlyphs">0</text>
<text x="399.04" y="142.8" font-size="9.86" textLength="11.52" lengthAdjust="spacingAndGlyphs">20</text>
<text x="440.64" y="142.8" font-size="9.86" textLength="11.52" lengthAdjust="spacingAndGlyphs">40</text>
<text x="255.5" y="134" font-size="9.86" textLength="19.1" lengthAdjust="spacingAndGlyphs">−40</text>
<text x="255.5" y="102.55" font-size="9.86" textLength="19.1" lengthAdjust="spacingAndGlyphs">−20</text>
<text x="268.84" y="71.1" font-size="9.86" textLength="5.76" lengthAdjust="spacingAndGlyphs">0</text>
<text x="263.08" y="39.65" font-size="9.86" textLength="11.52" lengthAdjust="spacingAndGlyphs">20</text>
<text x="263.08" y="8.2" font-size="9.86" textLength="11.52" lengthAdjust="spacingAndGlyphs">40</text>
<text x="313.81" y="160" font-size="14.47" textLength="7.85" lengthAdjust="spacingAndGlyphs">F</text>
<text x="321.66" y="154.4" font-size="10.13" textLength="2.65" lengthAdjust="spacingAndGlyphs">i</text>
<text x="321.66" y="163.5" font-size="10.13" textLength="44.27" lengthAdjust="spacingAndGlyphs">PBE − D3</text>
<text x="370.27" y="160" font-size="14.47" textLength="42.32" lengthAdjust="spacingAndGlyphs">(eV/Å)</text>
<g transform="translate(248.6 66.5) rotate(-90)">
<text x="-36.92" y="0" font-size="14.47" textLength="7.85" lengthAdjust="spacingAndGlyphs">F</text>
<text x="-29.07" y="-5.6" font-size="10.13" textLength="2.65" lengthAdjust="spacingAndGlyphs">i</text>
<text x="-29.07" y="3.3" font-size="10.13" textLength="19.33" lengthAdjust="spacingAndGlyphs">MLP</text>
<text x="-5.4" y="0" font-size="14.47" textLength="42.32" lengthAdjust="spacingAndGlyphs">(eV/Å)</text>
</g>
<text x="293.1" y="17.7" font-size="9.86" textLength="28.61" lengthAdjust="spacingAndGlyphs">RMSE:</text>
<text x="295.98" y="28.5" font-size="9.86" textLength="94.34" lengthAdjust="spacingAndGlyphs">1.57e-01 ± 1.40e-01</text>
<line x1="513" y1="130" x2="679.4" y2="4.2" stroke="#000" stroke-width="1.2" stroke-dasharray="4.1 2.1" stroke-dashoffset="-1.0"/>
<path d="M615.6 110.3V76.11H618.33V78.04H621.05V81.05H623.78V84.92H626.51V89.01H629.23V92.67H631.96V96.11H634.69V99.55H637.41V102.13H640.14V104.28H642.87V106H645.59V107.29H648.32V108.15H651.05V108.79H653.77V109.22H656.5V110.3Z" fill="#6fdc6f"/>
<text x="613.99" y="119.6" font-size="5.35" textLength="3.21" lengthAdjust="spacingAndGlyphs">0</text>
<text x="634.44" y="119.6" font-size="5.35" textLength="3.21" lengthAdjust="spacingAndGlyphs">5</text>
<text x="653.29" y="119.6" font-size="5.35" textLength="6.43" lengthAdjust="spacingAndGlyphs">10</text>
<text x="602.39" y="112.14" font-size="5.35" textLength="8.01" lengthAdjust="spacingAndGlyphs">0%</text>
<text x="599.18" y="90.63" font-size="5.35" textLength="11.22" lengthAdjust="spacingAndGlyphs">10%</text>
<path d="M615.6 110.3v2.2M636.05 110.3v2.2M656.5 110.3v2.2M615.6 110.3h-2.2M615.6 88.79h-2.2" stroke="#000" stroke-width=".7" fill="none"/>
<rect x="615.6" y="74.6" width="40.9" height="35.7" fill="none" stroke="#222" stroke-width=".85"/>
<text x="609.68" y="69.9" font-size="6.51" textLength="52.74" lengthAdjust="spacingAndGlyphs">Error Distribution</text>
<text x="609.36" y="128.1" font-size="6.48" textLength="53.38" lengthAdjust="spacingAndGlyphs">Error (meV/atom)</text>
<path d="M513 130v3M554.6 130v3M596.2 130v3M637.8 130v3M679.4 130v3M513 130h-3M513 98.55h-3M513 67.1h-3M513 35.65h-3M513 4.2h-3" stroke="#000" stroke-width="0.9" fill="none"/>
<rect x="513" y="4.2" width="166.4" height="125.8" fill="none" stroke="#000" stroke-width="1.7"/>
<text x="506.33" y="142.8" font-size="9.86" textLength="13.34" lengthAdjust="spacingAndGlyphs">−2</text>
<text x="547.93" y="142.8" font-size="9.86" textLength="13.34" lengthAdjust="spacingAndGlyphs">−1</text>
<text x="593.32" y="142.8" font-size="9.86" textLength="5.76" lengthAdjust="spacingAndGlyphs">0</text>
<text x="634.92" y="142.8" font-size="9.86" textLength="5.76" lengthAdjust="spacingAndGlyphs">1</text>
<text x="676.52" y="142.8" font-size="9.86" textLength="5.76" lengthAdjust="spacingAndGlyphs">2</text>
<text x="494.26" y="134" font-size="9.86" textLength="13.34" lengthAdjust="spacingAndGlyphs">−2</text>
<text x="494.26" y="102.55" font-size="9.86" textLength="13.34" lengthAdjust="spacingAndGlyphs">−1</text>
<text x="501.84" y="71.1" font-size="9.86" textLength="5.76" lengthAdjust="spacingAndGlyphs">0</text>
<text x="501.84" y="39.65" font-size="9.86" textLength="5.76" lengthAdjust="spacingAndGlyphs">1</text>
<text x="501.84" y="8.2" font-size="9.86" textLength="5.76" lengthAdjust="spacingAndGlyphs">2</text>
<text x="533.05" y="157.7" font-size="14.47" textLength="9.34" lengthAdjust="spacingAndGlyphs">V</text>
<text x="542.39" y="159.6" font-size="10.13" textLength="44.27" lengthAdjust="spacingAndGlyphs">PBE − D3</text>
<text x="591" y="157.7" font-size="14.47" textLength="68.35" lengthAdjust="spacingAndGlyphs">(eV/atom)</text>
<g transform="translate(488.2 66.5) rotate(-90)">
<text x="-50.68" y="0" font-size="14.47" textLength="9.34" lengthAdjust="spacingAndGlyphs">V</text>
<text x="-41.34" y="1.9" font-size="10.13" textLength="19.33" lengthAdjust="spacingAndGlyphs">MLP</text>
<text x="-17.67" y="0" font-size="14.47" textLength="68.35" lengthAdjust="spacingAndGlyphs">(eV/atom)</text>
</g>
<text x="526.1" y="17.7" font-size="9.86" textLength="28.61" lengthAdjust="spacingAndGlyphs">RMSE:</text>
<text x="528.98" y="28.5" font-size="9.86" textLength="94.34" lengthAdjust="spacingAndGlyphs">4.72e-03 ± 1.20e-04</text>
<line x1="47" y1="313.8" x2="213.4" y2="188.1" stroke="#000" stroke-width="1.2" stroke-dasharray="4.1 2.1" stroke-dashoffset="-1.0"/>
<path d="M150.5 294.2V259.77H153.23V261.29H155.95V264.07H158.68V267.61H161.41V270.91H164.13V274.45H166.86V278H169.59V281.03H172.31V283.82H175.04V286.1H177.77V288.12H180.49V289.64H183.22V290.66H185.95V291.41H188.67V292.17H191.4V294.2Z" fill="#fcbc9c"/>
<text x="148.89" y="303.5" font-size="5.35" textLength="3.21" lengthAdjust="spacingAndGlyphs">0</text>
<text x="169.34" y="303.5" font-size="5.35" textLength="3.21" lengthAdjust="spacingAndGlyphs">5</text>
<text x="188.19" y="303.5" font-size="5.35" textLength="6.43" lengthAdjust="spacingAndGlyphs">10</text>
<text x="137.29" y="296.04" font-size="5.35" textLength="8.01" lengthAdjust="spacingAndGlyphs">0%</text>
<text x="137.29" y="283.38" font-size="5.35" textLength="8.01" lengthAdjust="spacingAndGlyphs">5%</text>
<text x="134.08" y="270.72" font-size="5.35" textLength="11.22" lengthAdjust="spacingAndGlyphs">10%</text>
<path d="M150.5 294.2v2.2M170.95 294.2v2.2M191.4 294.2v2.2M150.5 294.2h-2.2M150.5 281.54h-2.2M150.5 268.88h-2.2" stroke="#000" stroke-width=".7" fill="none"/>
<rect x="150.5" y="258.5" width="40.9" height="35.7" fill="none" stroke="#222" stroke-width=".85"/>
<text x="144.58" y="253.8" font-size="6.51" textLength="52.74" lengthAdjust="spacingAndGlyphs">Error Distribution</text>
<text x="144.26" y="312" font-size="6.48" textLength="53.38" lengthAdjust="spacingAndGlyphs">Error (meV/atom)</text>
<path d="M47 313.8v3M88.6 313.8v3M130.2 313.8v3M171.8 313.8v3M213.4 313.8v3M47 313.8h-3M47 282.38h-3M47 250.95h-3M47 219.53h-3M47 188.1h-3" stroke="#000" stroke-width="0.9" fill="none"/>
<rect x="47" y="188.1" width="166.4" height="125.7" fill="none" stroke="#000" stroke-width="1.7"/>
<text x="34.57" y="326.6" font-size="9.86" textLength="24.86" lengthAdjust="spacingAndGlyphs">−400</text>
<text x="76.17" y="326.6" font-size="9.86" textLength="24.86" lengthAdjust="spacingAndGlyphs">−200</text>
<text x="127.32" y="326.6" font-size="9.86" textLength="5.76" lengthAdjust="spacingAndGlyphs">0</text>
<text x="163.16" y="326.6" font-size="9.86" textLength="17.27" lengthAdjust="spacingAndGlyphs">200</text>
<text x="204.76" y="326.6" font-size="9.86" textLength="17.27" lengthAdjust="spacingAndGlyphs">400</text>
<text x="16.74" y="317.8" font-size="9.86" textLength="24.86" lengthAdjust="spacingAndGlyphs">−400</text>
<text x="16.74" y="286.37" font-size="9.86" textLength="24.86" lengthAdjust="spacingAndGlyphs">−200</text>
<text x="35.84" y="254.95" font-size="9.86" textLength="5.76" lengthAdjust="spacingAndGlyphs">0</text>
<text x="24.33" y="223.52" font-size="9.86" textLength="17.27" lengthAdjust="spacingAndGlyphs">200</text>
<text x="24.33" y="192.1" font-size="9.86" textLength="17.27" lengthAdjust="spacingAndGlyphs">400</text>
<text x="67.41" y="341.6" font-size="14.47" textLength="8.62" lengthAdjust="spacingAndGlyphs">E</text>
<text x="76.03" y="343.5" font-size="10.13" textLength="44.27" lengthAdjust="spacingAndGlyphs">PBE − D3</text>
<text x="124.64" y="341.6" font-size="14.47" textLength="68.35" lengthAdjust="spacingAndGlyphs">(eV/atom)</text>
<g transform="translate(10.9 250.35) rotate(-90)">
<text x="-50.32" y="0" font-size="14.47" textLength="8.62" lengthAdjust="spacingAndGlyphs">E</text>
<text x="-41.7" y="1.9" font-size="10.13" textLength="19.33" lengthAdjust="spacingAndGlyphs">MLP</text>
<text x="-18.03" y="0" font-size="14.47" textLength="68.35" lengthAdjust="spacingAndGlyphs">(eV/atom)</text>
</g>
<text x="60.1" y="201.6" font-size="9.86" textLength="28.61" lengthAdjust="spacingAndGlyphs">RMSE:</text>
<text x="62.98" y="212.4" font-size="9.86" textLength="94.34" lengthAdjust="spacingAndGlyphs">5.77e-03 ± 1.42e-04</text>
<line x1="280" y1="313.8" x2="446.4" y2="188.1" stroke="#000" stroke-width="1.2" stroke-dasharray="4.1 2.1" stroke-dashoffset="-1.0"/>
<path d="M383.5 294.2V259.26H386.06V261.29H388.61V264.07H391.17V267.36H393.73V270.65H396.28V273.94H398.84V277.49H401.39V280.02H403.95V282.81H406.51V285.09H409.06V287.11H411.62V288.63H414.17V289.9H416.73V290.91H419.29V291.67H421.84V292.17H424.4V294.2Z" fill="#96c3e2"/>
<text x="381.89" y="303.5" font-size="5.35" textLength="3.21" lengthAdjust="spacingAndGlyphs">0</text>
<text x="395.52" y="303.5" font-size="5.35" textLength="8.03" lengthAdjust="spacingAndGlyphs">0.1</text>
<text x="411.56" y="303.5" font-size="5.35" textLength="8.03" lengthAdjust="spacingAndGlyphs">0.2</text>
<text x="370.29" y="296.04" font-size="5.35" textLength="8.01" lengthAdjust="spacingAndGlyphs">0%</text>
<text x="370.29" y="283.38" font-size="5.35" textLength="8.01" lengthAdjust="spacingAndGlyphs">5%</text>
<text x="367.08" y="270.72" font-size="5.35" textLength="11.22" lengthAdjust="spacingAndGlyphs">10%</text>
<path d="M383.5 294.2v2.2M399.54 294.2v2.2M415.58 294.2v2.2M383.5 294.2h-2.2M383.5 281.54h-2.2M383.5 268.88h-2.2" stroke="#000" stroke-width=".7" fill="none"/>
<rect x="383.5" y="258.5" width="40.9" height="35.7" fill="none" stroke="#222" stroke-width=".85"/>
<text x="377.58" y="253.8" font-size="6.51" textLength="52.74" lengthAdjust="spacingAndGlyphs">Error Distribution</text>
<text x="386.06" y="312" font-size="6.48" textLength="35.78" lengthAdjust="spacingAndGlyphs">Error (eV/Å)</text>
<path d="M280 313.8v3M321.6 313.8v3M363.2 313.8v3M404.8 313.8v3M446.4 313.8v3M280 313.8h-3M280 282.38h-3M280 250.95h-3M280 219.53h-3M280 188.1h-3" stroke="#000" stroke-width="0.9" fill="none"/>
<rect x="280" y="188.1" width="166.4" height="125.7" fill="none" stroke="#000" stroke-width="1.7"/>
<text x="270.45" y="326.6" font-size="9.86" textLength="19.1" lengthAdjust="spacingAndGlyphs">−40</text>
<text x="312.05" y="326.6" font-size="9.86" textLength="19.1" lengthAdjust="spacingAndGlyphs">−20</text>
<text x="360.32" y="326.6" font-size="9.86" textLength="5.76" lengthAdjust="spacingAndGlyphs">0</text>
<text x="399.04" y="326.6" font-size="9.86" textLength="11.52" lengthAdjust="spacingAndGlyphs">20</text>
<text x="440.64" y="326.6" font-size="9.86" textLength="11.52" lengthAdjust="spacingAndGlyphs">40</text>
<text x="255.5" y="317.8" font-size="9.86" textLength="19.1" lengthAdjust="spacingAndGlyphs">−40</text>
<text x="255.5" y="286.37" font-size="9.86" textLength="19.1" lengthAdjust="spacingAndGlyphs">−20</text>
<text x="268.84" y="254.95" font-size="9.86" textLength="5.76" lengthAdjust="spacingAndGlyphs">0</text>
<text x="263.08" y="223.52" font-size="9.86" textLength="11.52" lengthAdjust="spacingAndGlyphs">20</text>
<text x="263.08" y="192.1" font-size="9.86" textLength="11.52" lengthAdjust="spacingAndGlyphs">40</text>
<text x="313.81" y="343.8" font-size="14.47" textLength="7.85" lengthAdjust="spacingAndGlyphs">F</text>
<text x="321.66" y="338.2" font-size="10.13" textLength="2.65" lengthAdjust="spacingAndGlyphs">i</text>
<text x="321.66" y="347.3" font-size="10.13" textLength="44.27" lengthAdjust="spacingAndGlyphs">PBE − D3</text>
<text x="370.27" y="343.8" font-size="14.47" textLength="42.32" lengthAdjust="spacingAndGlyphs">(eV/Å)</text>
<g transform="translate(248.6 250.35) rotate(-90)">
<text x="-36.92" y="0" font-size="14.47" textLength="7.85" lengthAdjust="spacingAndGlyphs">F</text>
<text x="-29.07" y="-5.6" font-size="10.13" textLength="2.65" lengthAdjust="spacingAndGlyphs">i</text>
<text x="-29.07" y="3.3" font-size="10.13" textLength="19.33" lengthAdjust="spacingAndGlyphs">MLP</text>
<text x="-5.4" y="0" font-size="14.47" textLength="42.32" lengthAdjust="spacingAndGlyphs">(eV/Å)</text>
</g>
<text x="293.1" y="201.6" font-size="9.86" textLength="28.61" lengthAdjust="spacingAndGlyphs">RMSE:</text>
<text x="295.98" y="212.4" font-size="9.86" textLength="94.34" lengthAdjust="spacingAndGlyphs">1.74e-01 ± 1.16e-01</text>
<line x1="513" y1="313.8" x2="679.4" y2="188.1" stroke="#000" stroke-width="1.2" stroke-dasharray="4.1 2.1" stroke-dashoffset="-1.0"/>
<path d="M615.6 294.2V259.01H618.33V260.27H621.05V262.8H623.78V266.35H626.51V269.89H629.23V273.44H631.96V276.98H634.69V280.27H637.41V283.31H640.14V285.84H642.87V287.87H645.59V289.39H648.32V290.66H651.05V291.67H653.77V292.17H656.5V294.2Z" fill="#6fdc6f"/>
<text x="613.99" y="303.5" font-size="5.35" textLength="3.21" lengthAdjust="spacingAndGlyphs">0</text>
<text x="634.44" y="303.5" font-size="5.35" textLength="3.21" lengthAdjust="spacingAndGlyphs">5</text>
<text x="653.29" y="303.5" font-size="5.35" textLength="6.43" lengthAdjust="spacingAndGlyphs">10</text>
<text x="602.39" y="296.04" font-size="5.35" textLength="8.01" lengthAdjust="spacingAndGlyphs">0%</text>
<text x="602.39" y="283.38" font-size="5.35" textLength="8.01" lengthAdjust="spacingAndGlyphs">5%</text>
<text x="599.18" y="270.72" font-size="5.35" textLength="11.22" lengthAdjust="spacingAndGlyphs">10%</text>
<path d="M615.6 294.2v2.2M636.05 294.2v2.2M656.5 294.2v2.2M615.6 294.2h-2.2M615.6 281.54h-2.2M615.6 268.88h-2.2" stroke="#000" stroke-width=".7" fill="none"/>
<rect x="615.6" y="258.5" width="40.9" height="35.7" fill="none" stroke="#222" stroke-width=".85"/>
<text x="609.68" y="253.8" font-size="6.51" textLength="52.74" lengthAdjust="spacingAndGlyphs">Error Distribution</text>
<text x="609.36" y="312" font-size="6.48" textLength="53.38" lengthAdjust="spacingAndGlyphs">Error (meV/atom)</text>
<path d="M513 313.8v3M554.6 313.8v3M596.2 313.8v3M637.8 313.8v3M679.4 313.8v3M513 313.8h-3M513 282.38h-3M513 250.95h-3M513 219.53h-3M513 188.1h-3" stroke="#000" stroke-width="0.9" fill="none"/>
<rect x="513" y="188.1" width="166.4" height="125.7" fill="none" stroke="#000" stroke-width="1.7"/>
<text x="506.33" y="326.6" font-size="9.86" textLength="13.34" lengthAdjust="spacingAndGlyphs">−2</text>
<text x="547.93" y="326.6" font-size="9.86" textLength="13.34" lengthAdjust="spacingAndGlyphs">−1</text>
<text x="593.32" y="326.6" font-size="9.86" textLength="5.76" lengthAdjust="spacingAndGlyphs">0</text>
<text x="634.92" y="326.6" font-size="9.86" textLength="5.76" lengthAdjust="spacingAndGlyphs">1</text>
<text x="676.52" y="326.6" font-size="9.86" textLength="5.76" lengthAdjust="spacingAndGlyphs">2</text>
<text x="494.26" y="317.8" font-size="9.86" textLength="13.34" lengthAdjust="spacingAndGlyphs">−2</text>
<text x="494.26" y="286.37" font-size="9.86" textLength="13.34" lengthAdjust="spacingAndGlyphs">−1</text>
<text x="501.84" y="254.95" font-size="9.86" textLength="5.76" lengthAdjust="spacingAndGlyphs">0</text>
<text x="501.84" y="223.52" font-size="9.86" textLength="5.76" lengthAdjust="spacingAndGlyphs">1</text>
<text x="501.84" y="192.1" font-size="9.86" textLength="5.76" lengthAdjust="spacingAndGlyphs">2</text>
<text x="533.05" y="341.5" font-size="14.47" textLength="9.34" lengthAdjust="spacingAndGlyphs">V</text>
<text x="542.39" y="343.4" font-size="10.13" textLength="44.27" lengthAdjust="spacingAndGlyphs">PBE − D3</text>
<text x="591" y="341.5" font-size="14.47" textLength="68.35" lengthAdjust="spacingAndGlyphs">(eV/atom)</text>
<g transform="translate(488.2 250.35) rotate(-90)">
<text x="-50.68" y="0" font-size="14.47" textLength="9.34" lengthAdjust="spacingAndGlyphs">V</text>
<text x="-41.34" y="1.9" font-size="10.13" textLength="19.33" lengthAdjust="spacingAndGlyphs">MLP</text>
<text x="-17.67" y="0" font-size="14.47" textLength="68.35" lengthAdjust="spacingAndGlyphs">(eV/atom)</text>
</g>
<text x="526.1" y="201.6" font-size="9.86" textLength="28.61" lengthAdjust="spacingAndGlyphs">RMSE:</text>
<text x="528.98" y="212.4" font-size="9.86" textLength="94.34" lengthAdjust="spacingAndGlyphs">5.31e-03 ± 1.04e-04</text>
<text x="0.3" y="7.6" font-size="14.4">a</text>
<text x="0.1" y="193.7" font-size="14.4">b</text>
<path d="M261.18 399.99h0M218.85 417.86h0M245.05 407.65h0M275.76 391.66h0M228.04 414.84h0M252.67 407.64h0M260.53 401.57h0M238.36 409.49h0M262.13 399.15h0M265.06 398.35h0M260.59 399.57h0M221.54 421.91h0M251.41 404.52h0M241.92 406.65h0M254.42 398.82h0M271.3 390.45h0M252.34 402.68h0M245.81 407.11h0" stroke="#3a3ab0" stroke-width="1.5" stroke-linecap="round" fill="none" opacity="0.3"/>
<path d="M243.2 410.07h0M239.81 407.22h0M260 397.03h0M273.44 390.9h0M277.97 391.83h0M273.26 393.61h0M242.52 405.9h0M232.16 409.98h0M274.33 394.17h0M260.97 398.33h0M263.84 398.42h0M226.82 416.26h0M273.62 391.09h0M268.92 392.79h0M233.39 413.1h0M261.93 396.53h0M258.26 399.39h0M256.43 396.99h0" stroke="#3a3ab0" stroke-width="1.5" stroke-linecap="round" fill="none" opacity="0.3"/>
<path d="M252.61 398.12h0M262.01 402.45h0M259.42 402.92h0M240.06 409.18h0M264.9 395.73h0M277.57 390.33h0M236.41 411.7h0M262.92 398.72h0M240.81 410.03h0M222.96 420.42h0M253.55 403.61h0M254.89 399.23h0M261.89 398.72h0M230.26 416.86h0M264.28 399.29h0M265.63 399.03h0M258.28 400.63h0M277.56 391.58h0" stroke="#3a3ab0" stroke-width="1.5" stroke-linecap="round" fill="none" opacity="0.3"/>
<path d="M246.83 405.73h0M255.03 398.56h0M250.02 405.76h0M247.81 404.75h0M259.83 398.24h0M222.63 413.23h0M255.58 404.37h0M258.32 399.58h0M256.8 404.33h0M264.19 394.59h0M279.32 393.04h0M284.96 385.13h0M246.86 405.17h0M289 385.69h0M255.38 403.11h0M282.58 392.76h0M287.38 387.84h0M277.06 394.43h0" stroke="#3a3ab0" stroke-width="1.5" stroke-linecap="round" fill="none" opacity="0.3"/>
<path d="M235.09 413.41h0M274.89 395.51h0M269.09 396.36h0M282.9 388.72h0M266.12 396.88h0M247.33 406.04h0M256.38 399.99h0M238.82 409.86h0M258.12 401.91h0M223.29 421.08h0M280.07 388.6h0M220.27 415.81h0M240.21 410.35h0M261.65 401.17h0M220.2 421.22h0M280.51 387.27h0M219.38 417.54h0M255.58 400.78h0" stroke="#3a3ab0" stroke-width="1.5" stroke-linecap="round" fill="none" opacity="0.3"/>
<path d="M221.84 418.83L222.95 416.88L224.38 415.54L225.86 414.33L227.38 413.18L228.92 412.08L230.47 411.02L232.04 409.98L233.63 408.96L235.22 407.97L236.82 407L238.44 406.04L240.05 405.09L241.68 404.16L243.31 403.25L244.95 402.34L246.6 401.45L248.25 400.57L249.9 399.7L251.56 398.84L253.23 397.99L254.91 397.16L256.58 396.33L258.27 395.52L259.96 394.72L261.65 393.93L263.36 393.15L265.06 392.38L266.78 391.63L268.5 390.89L270.23 390.17L271.97 389.46L273.71 388.77L275.47 388.1L277.24 387.45L279.02 386.84L280.82 386.25L282.65 385.72L284.5 385.25L286.42 384.9L288.65 385.17L288.65 385.17L287.55 387.12L286.12 388.46L284.64 389.67L283.12 390.82L281.58 391.92L280.03 392.98L278.46 394.02L276.87 395.04L275.28 396.03L273.68 397L272.06 397.96L270.45 398.91L268.82 399.84L267.19 400.75L265.55 401.66L263.9 402.55L262.25 403.43L260.6 404.3L258.94 405.16L257.27 406.01L255.59 406.84L253.92 407.67L252.23 408.48L250.54 409.28L248.85 410.07L247.14 410.85L245.44 411.62L243.72 412.37L242 413.11L240.27 413.83L238.53 414.54L236.79 415.23L235.03 415.9L233.26 416.55L231.48 417.16L229.68 417.75L227.85 418.28L226 418.75L224.08 419.1L221.84 418.83Z" fill="#000080" opacity="0.4" filter="url(#b1)"/>
<path d="M222.5 418.5L223.65 416.71L225.07 415.45L226.55 414.3L228.05 413.21L229.57 412.16L231.11 411.15L232.67 410.15L234.23 409.18L235.8 408.22L237.38 407.28L238.96 406.35L240.56 405.44L242.15 404.53L243.76 403.64L245.37 402.76L246.98 401.89L248.6 401.04L250.23 400.19L251.86 399.35L253.5 398.52L255.14 397.7L256.78 396.89L258.43 396.09L260.08 395.29L261.74 394.51L263.41 393.74L265.08 392.98L266.76 392.24L268.44 391.5L270.13 390.78L271.82 390.07L273.53 389.38L275.24 388.7L276.96 388.05L278.7 387.41L280.45 386.81L282.22 386.25L284.02 385.75L285.87 385.36L288 385.5L288 385.5L286.85 387.29L285.43 388.55L283.95 389.7L282.45 390.79L280.93 391.84L279.39 392.85L277.83 393.85L276.27 394.82L274.7 395.78L273.12 396.72L271.54 397.65L269.94 398.56L268.35 399.47L266.74 400.36L265.13 401.24L263.52 402.11L261.9 402.96L260.27 403.81L258.64 404.65L257 405.48L255.36 406.3L253.72 407.11L252.07 407.91L250.42 408.71L248.76 409.49L247.09 410.26L245.42 411.02L243.74 411.76L242.06 412.5L240.37 413.22L238.68 413.93L236.97 414.62L235.26 415.3L233.54 415.95L231.8 416.59L230.05 417.19L228.28 417.75L226.48 418.25L224.63 418.64L222.5 418.5Z" fill="#000080"/>
<line x1="194.5" y1="432.9" x2="319.9" y2="370.3" stroke="#000" stroke-width="1.15" stroke-dasharray="3.1 1.8"/>
<path d="M194.5 432.9v2.6M225.85 432.9v2.6M257.2 432.9v2.6M288.55 432.9v2.6M319.9 432.9v2.6M194.5 432.9h-2.6M194.5 417.25h-2.6M194.5 401.6h-2.6M194.5 385.95h-2.6M194.5 370.3h-2.6" stroke="#000" stroke-width="0.8" fill="none"/>
<rect x="194.5" y="370.3" width="125.4" height="62.6" fill="none" stroke="#000" stroke-width="1.3"/>
<text x="185.85" y="443.2" font-size="8.94" textLength="17.3" lengthAdjust="spacingAndGlyphs">−10</text>
<text x="219.81" y="443.2" font-size="8.94" textLength="12.09" lengthAdjust="spacingAndGlyphs">−5</text>
<text x="254.59" y="443.2" font-size="8.94" textLength="5.22" lengthAdjust="spacingAndGlyphs">0</text>
<text x="285.94" y="443.2" font-size="8.94" textLength="5.22" lengthAdjust="spacingAndGlyphs">5</text>
<text x="314.68" y="443.2" font-size="8.94" textLength="10.43" lengthAdjust="spacingAndGlyphs">10</text>
<text x="173.7" y="436.39" font-size="8.94" textLength="17.3" lengthAdjust="spacingAndGlyphs">−10</text>
<text x="178.91" y="420.74" font-size="8.94" textLength="12.09" lengthAdjust="spacingAndGlyphs">−5</text>
<text x="185.78" y="405.09" font-size="8.94" textLength="5.22" lengthAdjust="spacingAndGlyphs">0</text>
<text x="185.78" y="389.44" font-size="8.94" textLength="5.22" lengthAdjust="spacingAndGlyphs">5</text>
<text x="180.57" y="373.79" font-size="8.94" textLength="10.43" lengthAdjust="spacingAndGlyphs">10</text>
<text x="219.93" y="455.9" font-size="10.92" textLength="5.92" lengthAdjust="spacingAndGlyphs">F</text>
<text x="225.85" y="451.6" font-size="7.64" textLength="2" lengthAdjust="spacingAndGlyphs">i</text>
<text x="225.85" y="458.5" font-size="7.64" textLength="33.41" lengthAdjust="spacingAndGlyphs">PBE − D3</text>
<text x="262.54" y="455.9" font-size="10.92" textLength="31.94" lengthAdjust="spacingAndGlyphs">(eV/Å)</text>
<g transform="translate(168.9 401.6) rotate(-90)">
<text x="-27.86" y="0" font-size="10.92" textLength="5.92" lengthAdjust="spacingAndGlyphs">F</text>
<text x="-21.94" y="-4.3" font-size="7.64" textLength="2" lengthAdjust="spacingAndGlyphs">i</text>
<text x="-21.94" y="2.5" font-size="7.64" textLength="14.59" lengthAdjust="spacingAndGlyphs">MLP</text>
<text x="-4.08" y="0" font-size="10.92" textLength="31.94" lengthAdjust="spacingAndGlyphs">(eV/Å)</text>
</g>
<text x="243.4" y="421" font-size="7.54" textLength="21.65" lengthAdjust="spacingAndGlyphs" fill="#00007a">RMSE:</text>
<text x="245.58" y="428.9" font-size="7.54" textLength="71.4" lengthAdjust="spacingAndGlyphs" fill="#00007a">1.58e-01 ± 7.76e-02</text>
<path d="M252.46 504.77h0M238.66 512.88h0M242.51 510.48h0M260.69 501.95h0M273.7 494.87h0M243.7 508.98h0" stroke="#3a3ab0" stroke-width="1.5" stroke-linecap="round" fill="none" opacity="0.3"/>
<path d="M257.89 502.64h0M237.75 513.42h0M229.88 515.62h0M265.94 496.71h0M258.54 501.75h0M261.83 499.56h0" stroke="#3a3ab0" stroke-width="1.5" stroke-linecap="round" fill="none" opacity="0.3"/>
<path d="M248.28 506.94h0M233.19 515.7h0M261.7 499.43h0M247.09 507.28h0M251.14 505.53h0M244.59 509.13h0" stroke="#3a3ab0" stroke-width="1.5" stroke-linecap="round" fill="none" opacity="0.3"/>
<path d="M251.45 504.68h0M259.12 501.74h0M264.65 498.04h0M262.2 499.5h0M239.61 513.06h0M274.11 493.12h0" stroke="#3a3ab0" stroke-width="1.5" stroke-linecap="round" fill="none" opacity="0.3"/>
<path d="M238.56 511.09h0M261.76 502.45h0M264.42 499.87h0M267.93 497.84h0M242.35 511.54h0M248.62 506.21h0" stroke="#3a3ab0" stroke-width="1.5" stroke-linecap="round" fill="none" opacity="0.3"/>
<path d="M231.4 515.8L232.02 514.49L232.96 513.8L233.92 513.16L234.9 512.55L235.89 511.96L236.89 511.38L237.89 510.81L238.89 510.25L239.9 509.7L240.91 509.14L241.92 508.6L242.93 508.05L243.95 507.51L244.97 506.98L245.98 506.44L247 505.91L248.02 505.38L249.05 504.86L250.07 504.33L251.09 503.81L252.12 503.29L253.15 502.77L254.17 502.26L255.2 501.75L256.23 501.24L257.27 500.73L258.3 500.23L259.34 499.73L260.37 499.23L261.41 498.74L262.45 498.25L263.5 497.77L264.54 497.29L265.59 496.82L266.65 496.36L267.71 495.91L268.78 495.47L269.86 495.07L270.98 494.73L272.4 495L272.4 495L271.78 496.31L270.84 497L269.88 497.64L268.9 498.25L267.91 498.84L266.91 499.42L265.91 499.99L264.91 500.55L263.9 501.1L262.89 501.66L261.88 502.2L260.87 502.75L259.85 503.29L258.83 503.82L257.82 504.36L256.8 504.89L255.78 505.42L254.75 505.94L253.73 506.47L252.71 506.99L251.68 507.51L250.65 508.03L249.63 508.54L248.6 509.05L247.57 509.56L246.53 510.07L245.5 510.57L244.46 511.07L243.43 511.57L242.39 512.06L241.35 512.55L240.3 513.03L239.26 513.51L238.21 513.98L237.15 514.44L236.09 514.89L235.02 515.33L233.94 515.73L232.82 516.07L231.4 515.8Z" fill="#000080" opacity="0.4" filter="url(#b1)"/>
<path d="M231.8 515.6L232.46 514.4L233.38 513.74L234.34 513.13L235.3 512.54L236.28 511.97L237.26 511.41L238.24 510.86L239.23 510.31L240.22 509.77L241.21 509.23L242.2 508.7L243.19 508.17L244.19 507.64L245.19 507.12L246.19 506.59L247.19 506.07L248.19 505.56L249.19 505.04L250.19 504.53L251.2 504.02L252.2 503.51L253.21 503L254.22 502.5L255.23 501.99L256.24 501.49L257.25 501L258.26 500.5L259.27 500.01L260.29 499.52L261.31 499.03L262.33 498.55L263.35 498.07L264.37 497.6L265.4 497.13L266.43 496.67L267.46 496.22L268.51 495.79L269.56 495.38L270.65 495.02L272 495.2L272 495.2L271.34 496.4L270.42 497.06L269.46 497.67L268.5 498.26L267.52 498.83L266.54 499.39L265.56 499.94L264.57 500.49L263.58 501.03L262.59 501.57L261.6 502.1L260.61 502.63L259.61 503.16L258.61 503.68L257.61 504.21L256.61 504.73L255.61 505.24L254.61 505.76L253.61 506.27L252.6 506.78L251.6 507.29L250.59 507.8L249.58 508.3L248.57 508.81L247.56 509.31L246.55 509.8L245.54 510.3L244.53 510.79L243.51 511.28L242.49 511.77L241.47 512.25L240.45 512.73L239.43 513.2L238.4 513.67L237.37 514.13L236.34 514.58L235.29 515.01L234.24 515.42L233.15 515.78L231.8 515.6Z" fill="#000080"/>
<line x1="194.5" y1="533.4" x2="319.9" y2="470.4" stroke="#000" stroke-width="1.15" stroke-dasharray="3.1 1.8"/>
<path d="M194.5 533.4v2.6M225.85 533.4v2.6M257.2 533.4v2.6M288.55 533.4v2.6M319.9 533.4v2.6M194.5 533.4h-2.6M194.5 517.65h-2.6M194.5 501.9h-2.6M194.5 486.15h-2.6M194.5 470.4h-2.6" stroke="#000" stroke-width="0.8" fill="none"/>
<rect x="194.5" y="470.4" width="125.4" height="63" fill="none" stroke="#000" stroke-width="1.3"/>
<text x="184.54" y="543.7" font-size="8.94" textLength="19.91" lengthAdjust="spacingAndGlyphs">−0.2</text>
<text x="215.89" y="543.7" font-size="8.94" textLength="19.91" lengthAdjust="spacingAndGlyphs">−0.1</text>
<text x="250.68" y="543.7" font-size="8.94" textLength="13.04" lengthAdjust="spacingAndGlyphs">0.0</text>
<text x="282.03" y="543.7" font-size="8.94" textLength="13.04" lengthAdjust="spacingAndGlyphs">0.1</text>
<text x="313.38" y="543.7" font-size="8.94" textLength="13.04" lengthAdjust="spacingAndGlyphs">0.2</text>
<text x="171.09" y="536.89" font-size="8.94" textLength="19.91" lengthAdjust="spacingAndGlyphs">−0.2</text>
<text x="171.09" y="521.14" font-size="8.94" textLength="19.91" lengthAdjust="spacingAndGlyphs">−0.1</text>
<text x="177.96" y="505.39" font-size="8.94" textLength="13.04" lengthAdjust="spacingAndGlyphs">0.0</text>
<text x="177.96" y="489.64" font-size="8.94" textLength="13.04" lengthAdjust="spacingAndGlyphs">0.1</text>
<text x="177.96" y="473.89" font-size="8.94" textLength="13.04" lengthAdjust="spacingAndGlyphs">0.2</text>
<text x="209.55" y="556" font-size="10.92" textLength="7.05" lengthAdjust="spacingAndGlyphs">V</text>
<text x="216.59" y="557.4" font-size="7.64" textLength="33.41" lengthAdjust="spacingAndGlyphs">PBE − D3</text>
<text x="253.28" y="556" font-size="10.92" textLength="51.58" lengthAdjust="spacingAndGlyphs">(eV/atom)</text>
<g transform="translate(167 501.9) rotate(-90)">
<text x="-38.24" y="0" font-size="10.92" textLength="7.05" lengthAdjust="spacingAndGlyphs">V</text>
<text x="-31.19" y="1.4" font-size="7.64" textLength="14.59" lengthAdjust="spacingAndGlyphs">MLP</text>
<text x="-13.34" y="0" font-size="10.92" textLength="51.58" lengthAdjust="spacingAndGlyphs">(eV/atom)</text>
</g>
<text x="243.4" y="521.1" font-size="7.54" textLength="21.65" lengthAdjust="spacingAndGlyphs" fill="#00007a">RMSE:</text>
<text x="245.58" y="529" font-size="7.54" textLength="71.4" lengthAdjust="spacingAndGlyphs" fill="#00007a">3.04e-03 ± 1.55e-05</text>
<path d="M600.54 411.94h0M631.69 395.8h0M587.63 417.06h0M627.21 393.97h0M589.98 412.69h0M608.64 405.17h0M625.29 393.18h0M599.33 406.92h0M640.92 391.3h0M612.48 405.73h0M640.86 391.83h0M599.5 408.45h0M595.51 412.44h0M606.86 402.37h0M609.76 403.08h0M581.81 420.21h0M606.74 408.61h0M612.05 401.93h0" stroke="#3a3ab0" stroke-width="1.5" stroke-linecap="round" fill="none" opacity="0.3"/>
<path d="M593.97 410.44h0M592.62 409.92h0M637.4 391.33h0M604.89 406.36h0M600.15 408.57h0M622.74 399.18h0M636.07 387.49h0M601.81 406.89h0M633.98 392.39h0M609.73 405.16h0M638.28 390.58h0M627.58 398.12h0M629.35 394.08h0M610.14 402.67h0M630.23 397.73h0M582.89 416.24h0M627.88 396.23h0M588.48 416.29h0" stroke="#3a3ab0" stroke-width="1.5" stroke-linecap="round" fill="none" opacity="0.3"/>
<path d="M601.82 407.56h0M596.46 412.98h0M595.25 410.74h0M602.45 408.52h0M616.18 402h0M630.56 397.62h0M578.32 413.72h0M612.64 401.34h0M642.55 388.87h0M617.03 404.22h0M576.3 416.59h0M630.63 393.99h0M577.25 422.57h0M590.83 414.76h0M619.54 402.04h0M653.02 386.78h0M601.02 406.15h0M623.47 400.1h0" stroke="#3a3ab0" stroke-width="1.5" stroke-linecap="round" fill="none" opacity="0.3"/>
<path d="M633.07 390.15h0M586.04 414.9h0M590.87 416.31h0M629.36 394.27h0M637.84 391.17h0M614.86 403.34h0M587.85 415.89h0M633.42 394.56h0M627.63 400.39h0M635.34 390.55h0M616.66 403.69h0M583.8 415.53h0M586.4 417.75h0M640.06 388.65h0M606.36 408.43h0M613.28 401.86h0M579.48 419.62h0M612.03 401.73h0" stroke="#3a3ab0" stroke-width="1.5" stroke-linecap="round" fill="none" opacity="0.3"/>
<path d="M616.44 400.35h0M587.07 419.1h0M623.13 400.29h0M612.32 403.84h0M627.06 398.3h0M649.48 386.96h0M627.17 395.35h0M639.5 390.49h0M598.56 405.14h0M625.89 396.04h0M626.67 398.2h0M599.26 410.03h0M642.46 389.3h0M625.51 393.44h0M626.86 399.24h0M622.19 396.32h0M620.4 400.25h0M619.92 402.11h0" stroke="#3a3ab0" stroke-width="1.5" stroke-linecap="round" fill="none" opacity="0.3"/>
<path d="M579.3 417.3L580.59 415.39L582.16 414.11L583.78 412.96L585.43 411.87L587.1 410.84L588.78 409.84L590.48 408.87L592.19 407.92L593.91 406.99L595.63 406.09L597.37 405.19L599.11 404.32L600.85 403.46L602.6 402.61L604.36 401.78L606.12 400.95L607.89 400.14L609.66 399.34L611.44 398.56L613.22 397.78L615.01 397.02L616.8 396.26L618.6 395.52L620.4 394.79L622.21 394.08L624.02 393.37L625.84 392.68L627.67 392L629.5 391.33L631.33 390.68L633.18 390.05L635.03 389.44L636.89 388.84L638.76 388.28L640.65 387.73L642.55 387.23L644.47 386.77L646.42 386.39L648.42 386.12L650.7 386.5L650.7 386.5L649.41 388.41L647.84 389.69L646.22 390.84L644.57 391.93L642.9 392.96L641.22 393.96L639.52 394.93L637.81 395.88L636.09 396.81L634.37 397.71L632.63 398.61L630.89 399.48L629.15 400.34L627.4 401.19L625.64 402.02L623.88 402.85L622.11 403.66L620.34 404.46L618.56 405.24L616.78 406.02L614.99 406.78L613.2 407.54L611.4 408.28L609.6 409.01L607.79 409.72L605.98 410.43L604.16 411.12L602.33 411.8L600.5 412.47L598.67 413.12L596.82 413.75L594.97 414.36L593.11 414.96L591.24 415.52L589.35 416.07L587.45 416.57L585.53 417.03L583.58 417.41L581.58 417.68L579.3 417.3Z" fill="#000080" opacity="0.4" filter="url(#b1)"/>
<path d="M580 417L581.32 415.25L582.88 414.05L584.49 412.97L586.12 411.94L587.77 410.95L589.43 410L591.11 409.07L592.79 408.16L594.48 407.27L596.18 406.39L597.89 405.53L599.6 404.69L601.31 403.85L603.03 403.03L604.76 402.22L606.49 401.42L608.22 400.63L609.96 399.85L611.71 399.08L613.46 398.32L615.21 397.57L616.96 396.83L618.72 396.1L620.49 395.38L622.26 394.67L624.03 393.97L625.81 393.28L627.6 392.61L629.39 391.94L631.18 391.29L632.98 390.66L634.79 390.04L636.61 389.44L638.43 388.86L640.27 388.3L642.12 387.78L643.99 387.3L645.88 386.87L647.82 386.56L650 386.8L650 386.8L648.68 388.55L647.12 389.75L645.51 390.83L643.88 391.86L642.23 392.85L640.57 393.8L638.89 394.73L637.21 395.64L635.52 396.53L633.82 397.41L632.11 398.27L630.4 399.11L628.69 399.95L626.97 400.77L625.24 401.58L623.51 402.38L621.78 403.17L620.04 403.95L618.29 404.72L616.54 405.48L614.79 406.23L613.04 406.97L611.28 407.7L609.51 408.42L607.74 409.13L605.97 409.83L604.19 410.52L602.4 411.19L600.61 411.86L598.82 412.51L597.02 413.14L595.21 413.76L593.39 414.36L591.57 414.94L589.73 415.5L587.88 416.02L586.01 416.5L584.12 416.93L582.18 417.24L580 417Z" fill="#000080"/>
<line x1="554.2" y1="432.9" x2="679.7" y2="370.3" stroke="#000" stroke-width="1.15" stroke-dasharray="3.1 1.8"/>
<path d="M554.2 432.9v2.6M585.58 432.9v2.6M616.95 432.9v2.6M648.33 432.9v2.6M679.7 432.9v2.6M554.2 432.9h-2.6M554.2 417.25h-2.6M554.2 401.6h-2.6M554.2 385.95h-2.6M554.2 370.3h-2.6" stroke="#000" stroke-width="0.8" fill="none"/>
<rect x="554.2" y="370.3" width="125.5" height="62.6" fill="none" stroke="#000" stroke-width="1.3"/>
<text x="545.55" y="443.2" font-size="8.94" textLength="17.3" lengthAdjust="spacingAndGlyphs">−10</text>
<text x="579.53" y="443.2" font-size="8.94" textLength="12.09" lengthAdjust="spacingAndGlyphs">−5</text>
<text x="614.34" y="443.2" font-size="8.94" textLength="5.22" lengthAdjust="spacingAndGlyphs">0</text>
<text x="645.72" y="443.2" font-size="8.94" textLength="5.22" lengthAdjust="spacingAndGlyphs">5</text>
<text x="674.48" y="443.2" font-size="8.94" textLength="10.43" lengthAdjust="spacingAndGlyphs">10</text>
<text x="533.4" y="436.39" font-size="8.94" textLength="17.3" lengthAdjust="spacingAndGlyphs">−10</text>
<text x="538.61" y="420.74" font-size="8.94" textLength="12.09" lengthAdjust="spacingAndGlyphs">−5</text>
<text x="545.48" y="405.09" font-size="8.94" textLength="5.22" lengthAdjust="spacingAndGlyphs">0</text>
<text x="545.48" y="389.44" font-size="8.94" textLength="5.22" lengthAdjust="spacingAndGlyphs">5</text>
<text x="540.27" y="373.79" font-size="8.94" textLength="10.43" lengthAdjust="spacingAndGlyphs">10</text>
<text x="579.68" y="455.9" font-size="10.92" textLength="5.92" lengthAdjust="spacingAndGlyphs">F</text>
<text x="585.6" y="451.6" font-size="7.64" textLength="2" lengthAdjust="spacingAndGlyphs">i</text>
<text x="585.6" y="458.5" font-size="7.64" textLength="33.41" lengthAdjust="spacingAndGlyphs">PBE − D3</text>
<text x="622.29" y="455.9" font-size="10.92" textLength="31.94" lengthAdjust="spacingAndGlyphs">(eV/Å)</text>
<g transform="translate(528.6 401.6) rotate(-90)">
<text x="-27.86" y="0" font-size="10.92" textLength="5.92" lengthAdjust="spacingAndGlyphs">F</text>
<text x="-21.94" y="-4.3" font-size="7.64" textLength="2" lengthAdjust="spacingAndGlyphs">i</text>
<text x="-21.94" y="2.5" font-size="7.64" textLength="14.59" lengthAdjust="spacingAndGlyphs">MLP</text>
<text x="-4.08" y="0" font-size="10.92" textLength="31.94" lengthAdjust="spacingAndGlyphs">(eV/Å)</text>
</g>
<text x="603.1" y="421" font-size="7.54" textLength="21.65" lengthAdjust="spacingAndGlyphs" fill="#00007a">RMSE:</text>
<text x="605.28" y="428.9" font-size="7.54" textLength="71.4" lengthAdjust="spacingAndGlyphs" fill="#00007a">1.51e-01 ± 7.97e-02</text>
<path d="M594.66 514.64h0M604.37 510.2h0M609.82 506.08h0M610.39 505.3h0M608.14 506.84h0M611.1 506.16h0" stroke="#3a3ab0" stroke-width="1.5" stroke-linecap="round" fill="none" opacity="0.3"/>
<path d="M612.98 506.02h0M617.79 502.62h0M596.03 513.5h0M619.56 502.07h0M618.01 501.78h0M634.09 495.19h0" stroke="#3a3ab0" stroke-width="1.5" stroke-linecap="round" fill="none" opacity="0.3"/>
<path d="M609.64 505.99h0M632.81 494.67h0M622.7 501.18h0M602.47 508.58h0M606.59 506.1h0M601.05 510.94h0" stroke="#3a3ab0" stroke-width="1.5" stroke-linecap="round" fill="none" opacity="0.3"/>
<path d="M588.31 516.5h0M614.51 502.28h0M613.86 504.54h0M591.21 515.67h0M624.74 498.28h0M628.74 496.18h0" stroke="#3a3ab0" stroke-width="1.5" stroke-linecap="round" fill="none" opacity="0.3"/>
<path d="M610.53 505.47h0M614.33 505.23h0M617.14 503.59h0M616.84 502.6h0M625.24 497.43h0M618.86 500.53h0" stroke="#3a3ab0" stroke-width="1.5" stroke-linecap="round" fill="none" opacity="0.3"/>
<path d="M590.18 516.11L590.85 514.79L591.82 514.08L592.83 513.44L593.84 512.82L594.87 512.22L595.9 511.64L596.94 511.06L597.98 510.49L599.02 509.92L600.06 509.36L601.11 508.81L602.16 508.26L603.21 507.71L604.26 507.17L605.32 506.62L606.37 506.08L607.43 505.55L608.49 505.01L609.55 504.48L610.61 503.95L611.67 503.43L612.73 502.9L613.79 502.38L614.86 501.86L615.93 501.35L616.99 500.83L618.06 500.32L619.13 499.81L620.21 499.31L621.28 498.81L622.36 498.31L623.44 497.82L624.52 497.33L625.6 496.86L626.69 496.39L627.79 495.93L628.89 495.49L630.01 495.08L631.16 494.73L632.62 494.99L632.62 494.99L631.95 496.31L630.98 497.02L629.97 497.66L628.96 498.28L627.93 498.88L626.9 499.46L625.86 500.04L624.82 500.61L623.78 501.18L622.74 501.74L621.69 502.29L620.64 502.84L619.59 503.39L618.54 503.93L617.48 504.48L616.43 505.02L615.37 505.55L614.31 506.09L613.25 506.62L612.19 507.15L611.13 507.67L610.07 508.2L609.01 508.72L607.94 509.24L606.87 509.75L605.81 510.27L604.74 510.78L603.67 511.29L602.59 511.79L601.52 512.29L600.44 512.79L599.36 513.28L598.28 513.77L597.2 514.24L596.11 514.71L595.01 515.17L593.91 515.61L592.79 516.02L591.64 516.37L590.18 516.11Z" fill="#000080" opacity="0.4" filter="url(#b1)"/>
<path d="M590.6 515.9L591.3 514.69L592.26 514.02L593.25 513.4L594.25 512.81L595.26 512.23L596.28 511.66L597.29 511.1L598.32 510.55L599.34 510L600.37 509.45L601.39 508.91L602.42 508.37L603.46 507.84L604.49 507.31L605.52 506.78L606.56 506.25L607.59 505.72L608.63 505.2L609.67 504.68L610.71 504.16L611.75 503.65L612.79 503.13L613.83 502.62L614.88 502.11L615.92 501.6L616.97 501.1L618.02 500.59L619.06 500.09L620.11 499.6L621.17 499.1L622.22 498.61L623.28 498.13L624.33 497.65L625.4 497.17L626.46 496.7L627.53 496.25L628.61 495.81L629.7 495.39L630.82 495.03L632.2 495.2L632.2 495.2L631.5 496.41L630.54 497.08L629.55 497.7L628.55 498.29L627.54 498.87L626.52 499.44L625.51 500L624.48 500.55L623.46 501.1L622.43 501.65L621.41 502.19L620.38 502.73L619.34 503.26L618.31 503.79L617.28 504.32L616.24 504.85L615.21 505.38L614.17 505.9L613.13 506.42L612.09 506.94L611.05 507.45L610.01 507.97L608.97 508.48L607.92 508.99L606.88 509.5L605.83 510L604.78 510.51L603.74 511.01L602.69 511.5L601.63 512L600.58 512.49L599.52 512.97L598.47 513.45L597.4 513.93L596.34 514.4L595.27 514.85L594.19 515.29L593.1 515.71L591.98 516.07L590.6 515.9Z" fill="#000080"/>
<path d="M582.3 520.6h0M583.2 520h0M584.5 519.6h0" stroke="#4040b0" stroke-width="1.8" stroke-linecap="round" fill="none" opacity="0.7"/>
<line x1="554.2" y1="533.6" x2="679.7" y2="470.3" stroke="#000" stroke-width="1.15" stroke-dasharray="3.1 1.8"/>
<path d="M554.2 533.6v2.6M585.58 533.6v2.6M616.95 533.6v2.6M648.33 533.6v2.6M679.7 533.6v2.6M554.2 533.6h-2.6M554.2 517.77h-2.6M554.2 501.95h-2.6M554.2 486.12h-2.6M554.2 470.3h-2.6" stroke="#000" stroke-width="0.8" fill="none"/>
<rect x="554.2" y="470.3" width="125.5" height="63.3" fill="none" stroke="#000" stroke-width="1.3"/>
<text x="544.24" y="543.9" font-size="8.94" textLength="19.91" lengthAdjust="spacingAndGlyphs">−0.2</text>
<text x="575.62" y="543.9" font-size="8.94" textLength="19.91" lengthAdjust="spacingAndGlyphs">−0.1</text>
<text x="610.43" y="543.9" font-size="8.94" textLength="13.04" lengthAdjust="spacingAndGlyphs">0.0</text>
<text x="641.8" y="543.9" font-size="8.94" textLength="13.04" lengthAdjust="spacingAndGlyphs">0.1</text>
<text x="673.18" y="543.9" font-size="8.94" textLength="13.04" lengthAdjust="spacingAndGlyphs">0.2</text>
<text x="530.79" y="537.09" font-size="8.94" textLength="19.91" lengthAdjust="spacingAndGlyphs">−0.2</text>
<text x="530.79" y="521.26" font-size="8.94" textLength="19.91" lengthAdjust="spacingAndGlyphs">−0.1</text>
<text x="537.66" y="505.44" font-size="8.94" textLength="13.04" lengthAdjust="spacingAndGlyphs">0.0</text>
<text x="537.66" y="489.61" font-size="8.94" textLength="13.04" lengthAdjust="spacingAndGlyphs">0.1</text>
<text x="537.66" y="473.79" font-size="8.94" textLength="13.04" lengthAdjust="spacingAndGlyphs">0.2</text>
<text x="569.3" y="556.2" font-size="10.92" textLength="7.05" lengthAdjust="spacingAndGlyphs">V</text>
<text x="576.34" y="557.6" font-size="7.64" textLength="33.41" lengthAdjust="spacingAndGlyphs">PBE − D3</text>
<text x="613.03" y="556.2" font-size="10.92" textLength="51.58" lengthAdjust="spacingAndGlyphs">(eV/atom)</text>
<g transform="translate(526.7 501.95) rotate(-90)">
<text x="-38.24" y="0" font-size="10.92" textLength="7.05" lengthAdjust="spacingAndGlyphs">V</text>
<text x="-31.19" y="1.4" font-size="7.64" textLength="14.59" lengthAdjust="spacingAndGlyphs">MLP</text>
<text x="-13.34" y="0" font-size="10.92" textLength="51.58" lengthAdjust="spacingAndGlyphs">(eV/atom)</text>
</g>
<text x="603.1" y="521" font-size="7.54" textLength="21.65" lengthAdjust="spacingAndGlyphs" fill="#00007a">RMSE:</text>
<text x="605.28" y="528.9" font-size="7.54" textLength="71.4" lengthAdjust="spacingAndGlyphs" fill="#00007a">3.31e-03 ± 1.77e-05</text>
<text x="0" y="368.1" font-size="14.4">c</text>
<text x="356.4" y="367.9" font-size="14.4">d</text>
<defs><radialGradient id="gC" cx="50%" cy="50%" r="55%" fx="34%" fy="30%"><stop offset="0" stop-color="#f4f4f4"/><stop offset=".45" stop-color="#9a9a9a"/><stop offset="1" stop-color="#454545"/></radialGradient><radialGradient id="gO" cx="50%" cy="50%" r="55%" fx="34%" fy="30%"><stop offset="0" stop-color="#ff7070"/><stop offset=".45" stop-color="#e00000"/><stop offset="1" stop-color="#6a0000"/></radialGradient><radialGradient id="gF" cx="50%" cy="50%" r="55%" fx="34%" fy="30%"><stop offset="0" stop-color="#a0ffa0"/><stop offset=".45" stop-color="#22d022"/><stop offset="1" stop-color="#0a6a0a"/></radialGradient><radialGradient id="gN" cx="50%" cy="50%" r="55%" fx="34%" fy="30%"><stop offset="0" stop-color="#8080ff"/><stop offset=".45" stop-color="#1010f0"/><stop offset="1" stop-color="#00006a"/></radialGradient><radialGradient id="gL" cx="50%" cy="50%" r="55%" fx="34%" fy="30%"><stop offset="0" stop-color="#ffe8e8"/><stop offset=".45" stop-color="#e8a8a8"/><stop offset="1" stop-color="#9a6060"/></radialGradient><radialGradient id="gH" cx="50%" cy="50%" r="55%" fx="34%" fy="30%"><stop offset="0" stop-color="#ffffff"/><stop offset=".45" stop-color="#e6e6e6"/><stop offset="1" stop-color="#9a9a9a"/></radialGradient><radialGradient id="gP" cx="50%" cy="50%" r="55%" fx="34%" fy="30%"><stop offset="0" stop-color="#d8d8a0"/><stop offset=".45" stop-color="#8c8c50"/><stop offset="1" stop-color="#4a4a28"/></radialGradient></defs>
<rect x="21.4" y="376.5" width="100" height="99.6" fill="none" stroke="#a8a8a8" stroke-width=".8"/>
<rect x="383.4" y="375.8" width="98.7" height="99" fill="none" stroke="#a8a8a8" stroke-width=".8"/>
<path d="M31.9 514.6L38.9 524.3M33.6 523.8L38.9 524.3M35.4 533.3L38.9 524.3M38.9 524.3L50.7 520.8M50.7 520.8L55.5 516M50.7 520.8L57.6 527M57.6 527L69.2 524.8M69.2 524.8L74.8 514M74.8 514L86.8 513.6M86.8 513.6L93.6 523.2M93.6 523.2L88.4 534.4M88.4 534.4L76.4 535.2M76.4 535.2L69.2 524.8M74.8 514L69.2 506.4M86.8 513.6L90.8 504.8M76.4 535.2L72.8 543.2M88.4 534.4L93.6 542.4M93.6 523.2L106.1 522.2M106.1 522.2L111 512.5M106.1 522.2L111.7 531.9" stroke="#505050" stroke-width="3.4" stroke-linecap="round" fill="none"/>
<path d="M31.9 514.6L35.4 519.45" stroke="#22c022" stroke-width="2.6" stroke-linecap="round"/>
<path d="M35.4 519.45L38.9 524.3" stroke="#8e8e8e" stroke-width="2.6" stroke-linecap="round"/>
<path d="M33.6 523.8L36.25 524.05" stroke="#22c022" stroke-width="2.6" stroke-linecap="round"/>
<path d="M36.25 524.05L38.9 524.3" stroke="#8e8e8e" stroke-width="2.6" stroke-linecap="round"/>
<path d="M35.4 533.3L37.15 528.8" stroke="#22c022" stroke-width="2.6" stroke-linecap="round"/>
<path d="M37.15 528.8L38.9 524.3" stroke="#8e8e8e" stroke-width="2.6" stroke-linecap="round"/>
<path d="M38.9 524.3L44.8 522.55" stroke="#8e8e8e" stroke-width="2.6" stroke-linecap="round"/>
<path d="M44.8 522.55L50.7 520.8" stroke="#8e8e8e" stroke-width="2.6" stroke-linecap="round"/>
<path d="M50.7 520.8L53.1 518.4" stroke="#8e8e8e" stroke-width="2.6" stroke-linecap="round"/>
<path d="M53.1 518.4L55.5 516" stroke="#d01010" stroke-width="2.6" stroke-linecap="round"/>
<path d="M50.7 520.8L54.15 523.9" stroke="#8e8e8e" stroke-width="2.6" stroke-linecap="round"/>
<path d="M54.15 523.9L57.6 527" stroke="#d01010" stroke-width="2.6" stroke-linecap="round"/>
<path d="M57.6 527L63.4 525.9" stroke="#d01010" stroke-width="2.6" stroke-linecap="round"/>
<path d="M63.4 525.9L69.2 524.8" stroke="#8e8e8e" stroke-width="2.6" stroke-linecap="round"/>
<path d="M69.2 524.8L72 519.4" stroke="#8e8e8e" stroke-width="2.6" stroke-linecap="round"/>
<path d="M72 519.4L74.8 514" stroke="#8e8e8e" stroke-width="2.6" stroke-linecap="round"/>
<path d="M74.8 514L80.8 513.8" stroke="#8e8e8e" stroke-width="2.6" stroke-linecap="round"/>
<path d="M80.8 513.8L86.8 513.6" stroke="#8e8e8e" stroke-width="2.6" stroke-linecap="round"/>
<path d="M86.8 513.6L90.2 518.4" stroke="#8e8e8e" stroke-width="2.6" stroke-linecap="round"/>
<path d="M90.2 518.4L93.6 523.2" stroke="#8e8e8e" stroke-width="2.6" stroke-linecap="round"/>
<path d="M93.6 523.2L91 528.8" stroke="#8e8e8e" stroke-width="2.6" stroke-linecap="round"/>
<path d="M91 528.8L88.4 534.4" stroke="#8e8e8e" stroke-width="2.6" stroke-linecap="round"/>
<path d="M88.4 534.4L82.4 534.8" stroke="#8e8e8e" stroke-width="2.6" stroke-linecap="round"/>
<path d="M82.4 534.8L76.4 535.2" stroke="#8e8e8e" stroke-width="2.6" stroke-linecap="round"/>
<path d="M76.4 535.2L72.8 530" stroke="#8e8e8e" stroke-width="2.6" stroke-linecap="round"/>
<path d="M72.8 530L69.2 524.8" stroke="#8e8e8e" stroke-width="2.6" stroke-linecap="round"/>
<path d="M74.8 514L72 510.2" stroke="#8e8e8e" stroke-width="2.6" stroke-linecap="round"/>
<path d="M72 510.2L69.2 506.4" stroke="#d8d8d8" stroke-width="2.6" stroke-linecap="round"/>
<path d="M86.8 513.6L88.8 509.2" stroke="#8e8e8e" stroke-width="2.6" stroke-linecap="round"/>
<path d="M88.8 509.2L90.8 504.8" stroke="#d8d8d8" stroke-width="2.6" stroke-linecap="round"/>
<path d="M76.4 535.2L74.6 539.2" stroke="#8e8e8e" stroke-width="2.6" stroke-linecap="round"/>
<path d="M74.6 539.2L72.8 543.2" stroke="#d8d8d8" stroke-width="2.6" stroke-linecap="round"/>
<path d="M88.4 534.4L91 538.4" stroke="#8e8e8e" stroke-width="2.6" stroke-linecap="round"/>
<path d="M91 538.4L93.6 542.4" stroke="#d8d8d8" stroke-width="2.6" stroke-linecap="round"/>
<path d="M93.6 523.2L99.85 522.7" stroke="#8e8e8e" stroke-width="2.6" stroke-linecap="round"/>
<path d="M99.85 522.7L106.1 522.2" stroke="#1818e0" stroke-width="2.6" stroke-linecap="round"/>
<path d="M106.1 522.2L108.55 517.35" stroke="#1818e0" stroke-width="2.6" stroke-linecap="round"/>
<path d="M108.55 517.35L111 512.5" stroke="#d01010" stroke-width="2.6" stroke-linecap="round"/>
<path d="M106.1 522.2L108.9 527.05" stroke="#1818e0" stroke-width="2.6" stroke-linecap="round"/>
<path d="M108.9 527.05L111.7 531.9" stroke="#d01010" stroke-width="2.6" stroke-linecap="round"/>
<path d="M31.9 514.6L38.9 524.3M33.6 523.8L38.9 524.3M35.4 533.3L38.9 524.3M38.9 524.3L50.7 520.8M50.7 520.8L55.5 516M50.7 520.8L57.6 527M57.6 527L69.2 524.8M69.2 524.8L74.8 514M74.8 514L86.8 513.6M86.8 513.6L93.6 523.2M93.6 523.2L88.4 534.4M88.4 534.4L76.4 535.2M76.4 535.2L69.2 524.8M74.8 514L69.2 506.4M86.8 513.6L90.8 504.8M76.4 535.2L72.8 543.2M88.4 534.4L93.6 542.4M93.6 523.2L106.1 522.2M106.1 522.2L111 512.5M106.1 522.2L111.7 531.9" stroke="#ffffff" stroke-width="0.78" stroke-linecap="round" fill="none"/>
<circle cx="31.9" cy="514.6" r="3.9" fill="url(#gF)"/>
<circle cx="33.6" cy="523.8" r="3.5" fill="url(#gF)"/>
<circle cx="35.4" cy="533.3" r="3.9" fill="url(#gF)"/>
<circle cx="38.9" cy="524.3" r="3.9" fill="url(#gC)"/>
<circle cx="50.7" cy="520.8" r="3.9" fill="url(#gC)"/>
<circle cx="55.5" cy="516" r="3.9" fill="url(#gO)"/>
<circle cx="57.6" cy="527" r="3.7" fill="url(#gO)"/>
<circle cx="69.2" cy="524.8" r="4.3" fill="url(#gC)"/>
<circle cx="74.8" cy="514" r="4.3" fill="url(#gC)"/>
<circle cx="86.8" cy="513.6" r="4.3" fill="url(#gC)"/>
<circle cx="93.6" cy="523.2" r="4.3" fill="url(#gC)"/>
<circle cx="88.4" cy="534.4" r="4.3" fill="url(#gC)"/>
<circle cx="76.4" cy="535.2" r="4.3" fill="url(#gC)"/>
<circle cx="69.2" cy="506.4" r="2.5" fill="url(#gH)"/>
<circle cx="90.8" cy="504.8" r="2.5" fill="url(#gH)"/>
<circle cx="72.8" cy="543.2" r="2.5" fill="url(#gH)"/>
<circle cx="93.6" cy="542.4" r="2.5" fill="url(#gH)"/>
<circle cx="106.1" cy="522.2" r="3.4" fill="url(#gN)"/>
<circle cx="111" cy="512.5" r="3.9" fill="url(#gO)"/>
<circle cx="111.7" cy="531.9" r="3.9" fill="url(#gO)"/>
<text x="47.4" y="560.8" font-size="13.1" font-weight="bold" fill="#0f2240">TFAONP</text>
<path d="M399.9 513.8L410.4 519M399.9 533.5L410.4 528.3M465.6 514.5L455.7 519M465.6 534.2L455.7 528.3M410.4 519L410.4 528.3M455.7 519L455.7 528.3M410.4 519L421.5 516.4M410.4 528.3L421.5 531.5M455.7 519L443.9 516.4M455.7 528.3L443.9 531.5M421.5 516.4L432.7 524.3M421.5 531.5L432.7 524.3M443.9 516.4L432.7 524.3M443.9 531.5L432.7 524.3M432.7 511.2L432.7 524.3M432.7 537.5L432.7 524.3" stroke="#505050" stroke-width="3.8" stroke-linecap="round" fill="none"/>
<path d="M399.9 513.8L405.15 516.4" stroke="#d01010" stroke-width="3" stroke-linecap="round"/>
<path d="M405.15 516.4L410.4 519" stroke="#8e8e8e" stroke-width="3" stroke-linecap="round"/>
<path d="M399.9 533.5L405.15 530.9" stroke="#d01010" stroke-width="3" stroke-linecap="round"/>
<path d="M405.15 530.9L410.4 528.3" stroke="#8e8e8e" stroke-width="3" stroke-linecap="round"/>
<path d="M465.6 514.5L460.65 516.75" stroke="#d01010" stroke-width="3" stroke-linecap="round"/>
<path d="M460.65 516.75L455.7 519" stroke="#8e8e8e" stroke-width="3" stroke-linecap="round"/>
<path d="M465.6 534.2L460.65 531.25" stroke="#d01010" stroke-width="3" stroke-linecap="round"/>
<path d="M460.65 531.25L455.7 528.3" stroke="#8e8e8e" stroke-width="3" stroke-linecap="round"/>
<path d="M410.4 519L410.4 523.65" stroke="#8e8e8e" stroke-width="3" stroke-linecap="round"/>
<path d="M410.4 523.65L410.4 528.3" stroke="#8e8e8e" stroke-width="3" stroke-linecap="round"/>
<path d="M455.7 519L455.7 523.65" stroke="#8e8e8e" stroke-width="3" stroke-linecap="round"/>
<path d="M455.7 523.65L455.7 528.3" stroke="#8e8e8e" stroke-width="3" stroke-linecap="round"/>
<path d="M410.4 519L415.95 517.7" stroke="#8e8e8e" stroke-width="3" stroke-linecap="round"/>
<path d="M415.95 517.7L421.5 516.4" stroke="#d01010" stroke-width="3" stroke-linecap="round"/>
<path d="M410.4 528.3L415.95 529.9" stroke="#8e8e8e" stroke-width="3" stroke-linecap="round"/>
<path d="M415.95 529.9L421.5 531.5" stroke="#d01010" stroke-width="3" stroke-linecap="round"/>
<path d="M455.7 519L449.8 517.7" stroke="#8e8e8e" stroke-width="3" stroke-linecap="round"/>
<path d="M449.8 517.7L443.9 516.4" stroke="#d01010" stroke-width="3" stroke-linecap="round"/>
<path d="M455.7 528.3L449.8 529.9" stroke="#8e8e8e" stroke-width="3" stroke-linecap="round"/>
<path d="M449.8 529.9L443.9 531.5" stroke="#d01010" stroke-width="3" stroke-linecap="round"/>
<path d="M421.5 516.4L427.1 520.35" stroke="#d01010" stroke-width="3" stroke-linecap="round"/>
<path d="M427.1 520.35L432.7 524.3" stroke="#8c8c50" stroke-width="3" stroke-linecap="round"/>
<path d="M421.5 531.5L427.1 527.9" stroke="#d01010" stroke-width="3" stroke-linecap="round"/>
<path d="M427.1 527.9L432.7 524.3" stroke="#8c8c50" stroke-width="3" stroke-linecap="round"/>
<path d="M443.9 516.4L438.3 520.35" stroke="#d01010" stroke-width="3" stroke-linecap="round"/>
<path d="M438.3 520.35L432.7 524.3" stroke="#8c8c50" stroke-width="3" stroke-linecap="round"/>
<path d="M443.9 531.5L438.3 527.9" stroke="#d01010" stroke-width="3" stroke-linecap="round"/>
<path d="M438.3 527.9L432.7 524.3" stroke="#8c8c50" stroke-width="3" stroke-linecap="round"/>
<path d="M432.7 511.2L432.7 517.75" stroke="#22c022" stroke-width="3" stroke-linecap="round"/>
<path d="M432.7 517.75L432.7 524.3" stroke="#8c8c50" stroke-width="3" stroke-linecap="round"/>
<path d="M432.7 537.5L432.7 530.9" stroke="#22c022" stroke-width="3" stroke-linecap="round"/>
<path d="M432.7 530.9L432.7 524.3" stroke="#8c8c50" stroke-width="3" stroke-linecap="round"/>
<path d="M399.9 513.8L410.4 519M399.9 533.5L410.4 528.3M465.6 514.5L455.7 519M465.6 534.2L455.7 528.3M410.4 519L410.4 528.3M455.7 519L455.7 528.3M410.4 519L421.5 516.4M410.4 528.3L421.5 531.5M455.7 519L443.9 516.4M455.7 528.3L443.9 531.5M421.5 516.4L432.7 524.3M421.5 531.5L432.7 524.3M443.9 516.4L432.7 524.3M443.9 531.5L432.7 524.3M432.7 511.2L432.7 524.3M432.7 537.5L432.7 524.3" stroke="#ffffff" stroke-width="0.9" stroke-linecap="round" fill="none"/>
<circle cx="399.9" cy="513.8" r="4.7" fill="url(#gO)"/>
<circle cx="399.9" cy="533.5" r="4.7" fill="url(#gO)"/>
<circle cx="465.6" cy="514.5" r="4.7" fill="url(#gO)"/>
<circle cx="465.6" cy="534.2" r="4.7" fill="url(#gO)"/>
<circle cx="410.4" cy="519" r="4.7" fill="url(#gC)"/>
<circle cx="410.4" cy="528.3" r="4.7" fill="url(#gC)"/>
<circle cx="455.7" cy="519" r="4.7" fill="url(#gC)"/>
<circle cx="455.7" cy="528.3" r="4.7" fill="url(#gC)"/>
<circle cx="421.5" cy="516.4" r="4.6" fill="url(#gO)"/>
<circle cx="421.5" cy="531.5" r="4.6" fill="url(#gO)"/>
<circle cx="443.9" cy="516.4" r="4.6" fill="url(#gO)"/>
<circle cx="443.9" cy="531.5" r="4.6" fill="url(#gO)"/>
<circle cx="432.7" cy="511.2" r="4.5" fill="url(#gF)"/>
<circle cx="432.7" cy="537.5" r="4.5" fill="url(#gF)"/>
<circle cx="432.7" cy="524.3" r="5" fill="url(#gP)"/>
<text x="410.0" y="563.0" font-size="12.9" font-weight="bold">DFOP</text>
<path d="M450.1 555.4h5.2" stroke="#000" stroke-width=".9"/>
<path d="M28.5 386.0l-0.3 -1.3M28.5 386.0l2.1 1.0M28.5 386.0l-1.6 1.6M26.8 389.7l1.4 0.2M26.8 389.7l-1.8 -1.3M26.8 389.7l-0.7 2.1M30.9 371.9l-1.3 -0.1M30.9 371.9l-1.4 0.5M30.9 371.9l1.0 -2.0M32.0 370.9l-0.7 -2.2M32.0 370.9l0.9 0.9M32.0 370.9l1.6 0.0M28.3 376.3l-1.7 0.9M28.3 376.3l-0.8 -1.3M28.3 376.3l1.2 -1.3M30.0 376.5l-1.8 1.1M30.0 376.5l1.2 1.5M30.0 376.5l1.3 -1.0M64.1 372.7l-0.9 -1.8M64.1 372.7l1.3 1.2M64.1 372.7l1.3 -0.7M65.0 376.0l-2.2 -0.6M65.0 376.0l0.6 -0.3M65.0 376.0l0.3 2.2M58.8 384.0l1.9 -0.5M58.8 384.0l-1.8 -0.0M58.8 384.0l0.2 2.1M59.0 388.0l1.2 -0.7M59.0 388.0l0.6 2.1M59.0 388.0l0.4 -1.4M62.7 381.4l1.2 1.2M62.7 381.4l0.2 0.9M62.7 381.4l0.8 -2.2M62.3 382.7l0.9 -0.1M62.3 382.7l-0.4 2.2M62.3 382.7l-2.0 -1.2M76.9 382.4l0.7 0.4M76.9 382.4l1.4 1.1M76.9 382.4l0.1 -2.3M80.9 382.0l-0.9 -1.7M80.9 382.0l0.7 -0.9M80.9 382.0l1.8 1.0M79.6 373.7l2.0 -0.6M79.6 373.7l-1.7 -0.1M79.6 373.7l-0.5 -1.4M82.4 376.1l2.0 -0.5M82.4 376.1l0.3 1.7M82.4 376.1l-1.6 0.6M79.0 380.9l1.8 1.3M79.0 380.9l-1.9 1.3M79.0 380.9l-0.4 -1.5M79.9 382.7l-0.4 -1.2M79.9 382.7l-0.2 2.3M79.9 382.7l2.1 -0.4M83.8 375.6l1.8 -1.4M83.8 375.6l-1.1 0.2M83.8 375.6l0.7 2.1M84.5 378.8l0.3 -2.1M84.5 378.8l1.5 0.3M84.5 378.8l0.4 1.6M85.0 381.9l2.0 0.1M85.0 381.9l0.1 1.3M85.0 381.9l-1.7 0.7M83.6 378.7l1.9 0.5M83.6 378.7l-1.2 -1.6M83.6 378.7l0.5 -0.8M77.0 372.8l0.2 -2.1M77.0 372.8l1.0 1.5M77.0 372.8l-2.2 0.5M76.5 375.8l0.1 0.4M76.5 375.8l-2.1 0.5M76.5 375.8l1.5 1.3M94.4 379.8l0.5 2.1M94.4 379.8l-2.3 -0.4M94.4 379.8l0.6 -0.1M91.9 382.8l-1.0 2.0M91.9 382.8l-0.7 -0.5M104.3 374.4l-1.5 -1.6M104.3 374.4l-0.6 2.1M104.3 374.4l2.1 -0.5M106.4 376.6l2.1 -0.9M106.4 376.6l-0.5 0.8M106.4 376.6l-0.1 1.7M95.9 371.4l-2.0 -1.2M95.9 371.4l1.2 -0.8M95.9 371.4l-0.5 2.2M97.1 369.1l0.9 -2.1M97.1 369.1l-1.6 0.4M97.1 369.1l1.7 1.6M109.6 385.0l1.5 -1.6M109.6 385.0l-0.4 -0.3M109.6 385.0l-2.0 -0.3M106.9 386.4l1.0 1.8M106.9 386.4l-2.2 -0.1M106.9 386.4l0.2 0.2M107.5 374.1l0.3 -1.3M107.5 374.1l-1.8 -0.8M107.5 374.1l-0.5 2.2M108.2 372.4l-0.1 1.2M108.2 372.4l0.8 -2.1M103.7 371.5l2.2 -0.8M103.7 371.5l-1.1 -0.6M103.7 371.5l-1.1 -0.9M107.3 370.8l2.1 -0.9M107.3 370.8l0.0 1.1M107.3 370.8l-0.6 1.5M22.1 381.7l-1.9 -0.2M22.1 381.7l-0.4 -0.8M22.1 381.7l0.6 2.2M19.3 384.2l-1.5 1.7M19.3 384.2l-0.3 -1.1M19.3 384.2l2.1 0.9M26.9 390.2l0.4 2.3M26.9 390.2l-2.1 -0.3M26.9 390.2l0.1 -1.0M30.6 391.8l0.1 1.4M30.6 391.8l1.3 0.8M30.6 391.8l0.8 -2.1M25.3 391.6l0.5 0.8M25.3 391.6l-2.3 0.2M25.3 391.6l1.2 1.2M22.9 391.4l1.6 -1.2M22.9 391.4l-1.6 0.9M22.9 391.4l-1.0 -1.4M35.9 384.2l-0.1 2.3M35.9 384.2l-1.4 -1.1M35.9 384.2l-0.7 -0.4M36.4 386.4l1.9 -1.2M36.4 386.4l0.4 2.2M36.4 386.4l-1.5 -0.9M44.2 378.5l-1.5 -0.8M44.2 378.5l2.1 -0.9M44.2 378.5l0.1 2.3M48.3 378.6l1.7 -1.5M48.3 378.6l0.8 2.1M48.3 378.6l-0.9 -0.1M43.3 374.7l-2.2 -0.5M43.3 374.7l1.2 -1.9M43.3 374.7l0.1 1.3M41.8 374.6l-0.7 2.2M41.8 374.6l-1.6 -1.3M41.8 374.6l2.0 -0.1M52.5 377.4l-1.1 -0.7M52.5 377.4l1.5 -1.6M52.5 377.4l1.1 2.0M55.6 377.0l2.1 -0.5M55.6 377.0l-0.9 -1.8M55.6 377.0l0.2 1.8M48.0 381.4l-1.9 -0.7M48.0 381.4l0.1 -1.2M48.0 381.4l1.9 -0.4M48.9 377.4l-0.6 -0.4M48.9 377.4l2.1 1.0M48.9 377.4l0.1 -2.0M53.8 386.0l-1.4 1.8M53.8 386.0l-1.0 -1.7M53.8 386.0l1.9 0.6M56.5 388.9l-1.3 0.2M56.5 388.9l1.2 1.9M56.5 388.9l1.5 -1.7M64.1 377.5l-1.4 1.1M64.1 377.5l-1.0 -0.1M64.1 377.5l0.3 -2.1M61.4 379.8l1.6 -0.9M61.4 379.8l-0.8 1.9M61.4 379.8l-1.7 -1.5M75.5 383.7l2.0 1.0M75.5 383.7l-0.8 0.3M75.5 383.7l-1.5 0.9M77.0 386.4l-1.9 0.5M77.0 386.4l1.8 1.0M77.0 386.4l-0.2 0.8M69.9 390.6l1.7 1.6M69.9 390.6l-0.4 -0.1M69.9 390.6l-1.9 0.6M73.8 391.8l2.2 0.2M73.8 391.8l-0.4 -2.1M73.8 391.8l-1.2 0.4M69.3 382.7l0.2 2.2M69.3 382.7l-2.1 -0.8M69.3 382.7l0.4 -0.0M65.3 381.9l-0.8 -0.7M65.3 381.9l0.5 -1.8M65.3 381.9l-1.6 1.3M68.3 382.2l2.1 -0.8M68.3 382.2l-0.3 1.6M68.3 382.2l-1.5 -1.7M69.0 379.0l1.7 -1.5M69.0 379.0l-1.8 -0.9M69.0 379.0l0.7 1.9M80.4 378.1l0.7 -1.2M80.4 378.1l-1.5 -1.3M80.4 378.1l1.8 0.5M77.2 376.6l-1.9 1.2M77.2 376.6l-0.6 -1.6M77.2 376.6l0.8 -1.0M96.2 378.1l1.3 -1.2M96.2 378.1l-1.2 -1.5M96.2 378.1l1.4 1.2M94.9 375.7l-0.8 2.1M94.9 375.7l-0.7 -1.1M94.9 375.7l-0.8 -1.1M82.9 375.5l-0.2 -0.8M82.9 375.5l-0.1 -1.8M82.9 375.5l-1.7 1.5M83.0 372.4l-0.7 1.9M83.0 372.4l-1.1 -1.8M83.0 372.4l2.3 -0.3M84.7 385.4l1.1 1.7M84.7 385.4l0.5 -2.0M84.7 385.4l-2.3 0.4M82.2 387.2l-0.6 -1.9M82.2 387.2l-0.4 1.9M82.2 387.2l-1.2 0.1M102.0 383.3l0.8 -0.8M102.0 383.3l-0.5 -1.7M102.0 383.3l1.6 1.3M104.1 380.3l-0.2 -0.2M104.1 380.3l1.4 1.8M104.1 380.3l0.9 -1.9M91.5 377.8l2.1 -1.0M91.5 377.8l-0.5 0.0M91.5 377.8l-1.6 -1.2M88.3 375.3l1.1 -0.1M88.3 375.3l-2.2 -0.6M88.3 375.3l1.0 -1.4M98.6 374.5l1.6 -0.8M98.6 374.5l-2.1 -0.1M98.6 374.5l-0.1 -1.3M95.9 375.2l2.1 0.9M95.9 375.2l-1.4 1.6M95.9 375.2l-0.9 -0.9M118.4 384.8l-0.2 2.0M118.4 384.8l-0.3 0.4M118.4 384.8l2.1 -0.9M121.1 386.9l1.4 -1.2M121.1 386.9l1.2 1.4M121.1 386.9l-1.4 1.3M113.0 377.7l-2.2 0.1M113.0 377.7l1.2 -1.2M113.0 377.7l0.9 2.1M112.4 381.4l1.3 1.7M112.4 381.4l-2.2 0.4M112.4 381.4l0.1 -0.2M106.8 385.4l1.5 1.3M106.8 385.4l-2.1 0.7M106.8 385.4l0.2 -2.2M102.9 386.4l-0.4 2.2M102.9 386.4l-0.7 -1.2M102.9 386.4l-1.2 -0.7M120.9 389.8l2.1 -0.8M120.9 389.8l-0.9 0.8M120.9 389.8l0.1 1.7M118.7 392.1l1.0 -1.0M118.7 392.1l-0.8 2.1M118.7 392.1l-1.7 -1.3M120.4 384.0l1.0 -2.0M120.4 384.0l-1.1 0.6M120.4 384.0l1.6 1.6M123.6 385.2l0.2 -2.3M123.6 385.2l1.9 1.0M123.6 385.2l-0.3 0.7M123.2 384.6l-0.3 2.2M123.2 384.6l-1.7 -1.3M123.2 384.6l2.0 -0.8M119.2 385.1l-0.5 -2.2M119.2 385.1l0.6 0.3M119.2 385.1l-1.8 1.3M28.6 401.5l0.7 0.2M28.6 401.5l1.2 1.4M28.6 401.5l-2.2 0.5M28.7 404.1l1.8 1.0M28.7 404.1l-1.9 0.2M28.7 404.1l-0.3 1.0M22.7 396.8l-0.5 0.7M22.7 396.8l0.1 1.8M22.7 396.8l-1.6 -1.4M21.6 398.7l0.8 1.5M21.6 398.7l-1.4 1.1M21.6 398.7l1.7 -1.0M24.0 388.7l-1.0 -0.9M24.0 388.7l-1.5 1.2M24.0 388.7l0.9 -1.7M24.5 385.0l-0.5 -2.1M24.5 385.0l2.1 -0.0M24.5 385.0l-1.5 0.5M44.9 391.4l0.8 0.8M44.9 391.4l-0.2 -2.3M47.2 391.3l2.3 0.4M47.2 391.3l-0.6 -0.3M36.6 393.4l-1.5 -1.7M36.6 393.4l1.7 -0.6M36.6 393.4l-1.1 1.9M33.6 396.0l-0.6 -0.6M33.6 396.0l-1.2 1.8M35.3 398.5l0.8 0.6M35.3 398.5l0.9 1.4M35.3 398.5l-2.3 0.2M36.4 397.2l-1.8 -1.4M36.4 397.2l1.0 -0.6M36.4 397.2l-0.7 2.2M54.5 399.8l1.3 -0.6M54.5 399.8l-2.0 0.9M54.1 395.7l1.4 -1.9M54.1 395.7l-2.2 -0.7M51.8 401.9l0.8 2.1M51.8 401.9l1.6 -1.5M51.8 401.9l-2.0 -0.3M55.3 399.8l0.8 -2.0M55.3 399.8l1.8 1.3M55.3 399.8l-1.3 -0.4M53.1 391.1l0.1 -0.7M53.1 391.1l1.5 -1.2M50.2 390.8l-1.9 1.3M50.2 390.8l-0.5 -2.1M50.2 390.8l1.6 0.9M47.7 398.0l1.4 -1.6M47.7 398.0l-1.4 -0.9M47.7 398.0l-1.2 0.9M45.8 401.3l-1.0 -0.8M45.8 401.3l1.9 1.2M45.8 401.3l-1.5 1.4M59.8 395.0l0.9 -0.8M59.8 395.0l1.1 -0.9M59.8 395.0l0.2 2.3M60.0 399.1l1.3 1.8M60.0 399.1l-2.0 0.1M60.0 399.1l-0.4 0.0M62.4 401.9l1.3 0.2M62.4 401.9l-0.2 -2.2M62.4 401.9l1.0 1.1M64.5 403.7l1.3 1.9M64.5 403.7l-2.0 0.6M64.5 403.7l1.1 -1.6M63.5 399.0l0.0 -2.3M63.5 399.0l-0.2 0.5M63.5 399.0l-1.8 0.9M59.6 399.2l-0.5 2.2M59.6 399.2l-1.9 -1.3M61.2 397.4l-0.5 1.4M61.2 397.4l-1.7 0.1M61.2 397.4l0.2 -2.2M57.2 397.0l-2.1 0.5M57.2 397.0l-0.1 -1.3M75.1 402.3l0.2 2.0M75.1 402.3l1.5 -0.2M75.1 402.3l0.4 -1.7M77.0 405.7l1.6 -0.7M77.0 405.7l0.3 2.2M77.0 405.7l0.1 -1.3M83.1 396.4l0.7 1.9M83.1 396.4l-2.3 -0.2M83.1 396.4l0.5 0.1M80.2 394.8l0.7 0.2M80.2 394.8l-1.8 1.3M80.2 394.8l-0.5 -2.2M90.0 392.6l0.4 -2.3M90.0 392.6l0.6 0.9M90.0 392.6l1.2 0.9M93.4 393.6l0.4 -1.1M93.4 393.6l1.2 2.0M93.4 393.6l0.6 -1.3M78.7 387.8l-1.6 0.1M78.7 387.8l1.0 -2.1M78.7 387.8l-1.0 0.3M77.4 385.6l-0.7 -2.2M77.4 385.6l-0.6 1.2M77.4 385.6l2.3 0.1M95.1 401.2l-1.2 -0.7M95.1 401.2l1.5 -1.6M95.1 401.2l1.1 1.9M95.4 400.7l1.1 -2.0M95.4 400.7l-0.3 0.7M94.7 392.8l1.3 -1.3M94.7 392.8l-2.2 -0.7M94.7 392.8l0.7 -0.1M94.9 392.8l1.2 1.0M94.9 392.8l-2.0 -0.8M94.9 392.8l1.2 -1.7M81.4 399.2l-0.5 -2.2M81.4 399.2l-1.8 1.1M81.4 399.2l0.4 0.9M78.2 398.3l-1.7 -1.5M78.2 398.3l1.9 -1.2M78.2 398.3l-0.6 1.2M111.7 395.9l-2.1 0.8M111.7 395.9l-0.2 -2.2M111.7 395.9l1.4 0.1M112.9 397.7l-0.1 1.4M112.9 397.7l0.0 1.2M112.9 397.7l1.9 -1.2M103.1 395.0l-1.1 1.2M103.1 395.0l1.0 -1.8M103.1 395.0l1.6 1.3M99.7 396.6l-0.4 1.4M99.7 396.6l-1.6 -1.6M99.7 396.6l-0.1 1.3M110.7 384.5l1.8 1.4M110.7 384.5l0.4 -1.0M110.7 384.5l-0.2 -1.6M113.0 383.2l-0.3 2.3M113.0 383.2l-1.1 -1.1M113.0 383.2l2.2 -0.5M119.4 388.2l-1.5 -1.6M119.4 388.2l1.9 -1.0M119.4 388.2l-0.9 1.4M122.9 386.7l0.7 2.0M122.9 386.7l0.5 -0.2M122.9 386.7l1.0 -1.7M119.5 400.5l1.3 -0.4M119.5 400.5l-2.0 0.9M119.5 400.5l1.1 1.5M122.4 398.8l0.5 2.0M122.4 398.8l1.2 -1.7M122.4 398.8l0.5 0.1M113.4 388.5l0.5 0.7M113.4 388.5l-1.8 1.2M113.4 388.5l-0.5 -2.2M110.2 385.8l-1.2 -1.0M110.2 385.8l-0.6 -0.8M3.4 410.4l-0.5 1.7M3.4 410.4l-0.0 -2.0M3.4 410.4l-1.6 -0.1M-0.3 408.9l-1.8 1.1M-0.3 408.9l-0.6 -2.2M12.5 406.5l-0.1 -2.3M12.5 406.5l-1.3 0.7M12.5 406.5l2.2 0.6M15.7 408.7l-0.7 2.1M15.7 408.7l1.7 -0.5M15.7 408.7l0.8 -0.1M2.7 402.6l2.1 0.9M2.7 402.6l0.1 -2.3M2.7 402.6l-0.6 0.8M1.9 398.6l-0.3 -1.1M1.9 398.6l0.1 -1.6M23.6 406.4l0.7 -2.1M23.6 406.4l-0.7 -0.0M23.6 406.4l1.8 1.5M27.0 404.7l1.7 1.5M27.0 404.7l-0.8 -1.0M27.0 404.7l0.8 -1.6M19.1 409.1l-1.3 -1.7M19.1 409.1l0.2 -0.0M19.1 409.1l2.1 -0.2M19.8 405.0l-1.1 -2.0M19.8 405.0l1.8 -0.3M19.8 405.0l0.7 0.8M14.8 411.5l0.4 1.4M14.8 411.5l1.2 -1.9M14.8 411.5l-2.2 -0.5M17.0 413.4l-0.3 1.1M17.0 413.4l2.2 -0.5M17.0 413.4l-0.6 1.4M19.8 408.8l-1.4 0.3M19.8 408.8l-1.3 -0.6M19.8 408.8l1.1 1.9M20.5 411.9l1.6 0.5M20.5 411.9l-2.1 0.3M20.5 411.9l0.3 1.4M23.4 396.8l-2.1 0.7M23.4 396.8l0.1 -2.3M23.4 396.8l1.6 1.0M21.7 394.5l-1.7 0.3M21.7 394.5l-0.4 -1.9M21.7 394.5l0.1 1.8M27.4 405.1l1.2 1.9M27.4 405.1l-2.0 0.4M27.4 405.1l-0.5 -0.8M29.5 406.8l-2.0 0.9M29.5 406.8l1.6 1.6M29.5 406.8l0.6 -1.7M33.6 402.9l-1.8 -1.4M33.6 402.9l-0.7 2.2M33.6 402.9l0.8 -0.6M30.6 405.1l-0.8 -1.9M30.6 405.1l-0.5 1.9M30.6 405.1l-1.0 0.2M34.2 405.3l-1.3 1.9M34.2 405.3l0.1 -1.1M34.2 405.3l2.1 0.6M33.4 409.2l-1.7 1.3M33.4 409.2l2.0 0.6M33.4 409.2l0.2 0.2M44.9 399.5l1.7 -1.6M44.9 399.5l0.9 2.1M44.9 399.5l-1.4 -0.4M45.4 402.5l-0.5 0.8M45.4 402.5l-0.8 1.4M45.4 402.5l2.3 -0.2M55.7 408.5l2.2 -0.4M55.7 408.5l-1.2 -1.0M55.7 408.5l-0.4 2.3M53.9 410.2l-1.2 -2.0M53.9 410.2l-0.2 1.2M53.9 410.2l-0.8 1.3M51.9 398.8l1.0 -1.0M51.9 398.8l-2.2 0.5M51.9 398.8l1.1 1.9M49.1 401.9l0.5 1.1M49.1 401.9l-2.3 0.1M49.1 401.9l1.1 1.0M59.6 400.0l2.1 -0.8M59.6 400.0l0.0 0.3M61.1 403.4l2.2 0.6M61.1 403.4l-0.6 -0.3M61.1 403.4l-1.3 1.6M75.6 414.8l1.8 1.1M75.6 414.8l0.3 -0.2M78.8 413.8l-1.2 0.2M78.8 413.8l-0.1 -2.2M78.8 413.8l2.2 0.5M65.5 414.3l-1.9 0.4M65.5 414.3l1.8 1.1M64.2 417.2l-0.5 2.0M64.2 417.2l1.1 0.4M64.2 417.2l-2.0 -1.1M69.8 403.8l0.1 -2.2M69.8 403.8l-0.1 1.4M69.8 403.8l1.9 0.5M72.2 403.6l-0.1 2.3M72.2 403.6l-1.4 -1.1M72.2 403.6l2.2 -0.7M73.1 405.5l-0.1 -0.5M73.1 405.5l-2.0 0.8M73.1 405.5l0.5 -1.9M70.4 403.2l-2.3 -0.3M70.4 403.2l0.5 1.7M70.4 403.2l1.0 -2.0M76.5 402.5l-0.7 -2.0M76.5 402.5l-0.7 1.7M76.5 402.5l2.3 0.1M74.5 404.9l2.1 0.8M74.5 404.9l-1.3 1.0M74.5 404.9l-0.8 0.4M85.7 404.7l0.7 -2.0M85.7 404.7l1.6 1.6M85.7 404.7l-0.3 -0.3M84.3 404.9l1.1 -2.0M84.3 404.9l-0.5 0.7M84.3 404.9l-2.0 -0.3M85.0 396.8l0.5 -0.0M85.0 396.8l1.1 1.8M85.0 396.8l0.7 -2.0M86.8 393.3l1.8 1.4M86.8 393.3l-0.6 -1.0M86.8 393.3l0.6 -1.6M82.7 399.0l2.3 -0.2M82.7 399.0l-1.1 -1.2M82.7 399.0l-0.6 2.2M83.9 402.7l-0.2 2.0M83.9 402.7l1.0 0.3M83.9 402.7l1.3 -1.4M81.9 406.3l0.3 2.1M81.9 406.3l-0.6 -1.5M81.9 406.3l-1.7 0.1M79.9 404.2l2.3 0.4M79.9 404.2l-0.4 -1.8M79.9 404.2l-1.0 1.9M98.7 405.7l0.5 -2.1M98.7 405.7l0.1 1.5M98.7 405.7l-2.1 0.1M96.5 402.8l0.3 -1.6M96.5 402.8l-1.9 -0.5M96.5 402.8l1.9 0.0M108.4 413.5l-0.0 -2.1M108.4 413.5l0.0 -0.1M108.4 413.5l1.9 1.1M108.8 413.6l1.8 -0.8M108.8 413.6l-0.4 2.2M108.8 413.6l-1.9 -1.3M107.2 408.8l-0.1 -2.1M107.2 408.8l1.6 0.0M107.2 408.8l0.5 1.6M107.4 408.8l-1.1 -1.2M107.4 408.8l2.1 -0.8M107.4 408.8l0.1 2.2M107.3 409.9l-1.4 -1.8M107.3 409.9l-0.1 0.6M107.3 409.9l-0.7 1.7M105.9 411.4l-1.2 1.9M105.9 411.4l-0.6 -1.4M105.9 411.4l2.2 0.5M115.8 407.8l-0.2 -1.8M115.8 407.8l-0.4 2.0M115.8 407.8l-1.6 -0.2M117.8 408.7l0.9 -1.9M117.8 408.7l-0.5 1.6M117.8 408.7l1.5 0.9M112.5 396.8l1.8 -1.3M112.5 396.8l-0.9 -1.0M112.5 396.8l-1.6 0.1M115.0 397.1l0.9 2.1M115.0 397.1l1.7 -1.5M115.0 397.1l-1.6 -0.4M117.8 415.9l1.0 -0.6M117.8 415.9l-0.3 2.3M117.8 415.9l-2.1 -1.0M117.7 418.6l-1.0 1.4M117.7 418.6l2.2 0.6M117.7 418.6l-1.0 0.3M119.7 403.4l-1.6 -1.5M119.7 403.4l0.4 -0.3M118.5 407.1l1.5 0.8M118.5 407.1l-0.1 1.4M118.5 407.1l-2.1 -0.1M124.1 408.8l1.1 1.7M124.1 408.8l0.0 0.5M124.1 408.8l1.1 -2.0M128.0 409.7l1.6 1.0M128.0 409.7l0.7 -2.1M128.0 409.7l-0.3 1.2M26.6 425.7l0.8 0.1M26.6 425.7l-0.4 2.1M23.2 427.9l1.1 1.9M23.2 427.9l-0.9 -1.0M23.2 427.9l-1.7 0.6M29.0 418.3l-0.8 0.3M29.0 418.3l1.4 -1.8M29.0 418.3l1.2 1.9M30.9 421.7l2.2 -0.7M30.9 421.7l-0.0 1.5M30.9 421.7l-0.8 1.0M21.3 412.0l1.6 0.2M21.3 412.0l-2.1 -0.4M21.3 412.0l0.6 -1.8M21.4 409.4l0.8 2.0M21.4 409.4l-1.6 -0.8M21.4 409.4l1.7 -1.5M35.9 410.7l-1.3 1.1M35.9 410.7l-1.3 -1.4M35.9 410.7l1.0 1.5M32.2 408.9l0.0 0.4M32.2 408.9l-1.2 1.7M32.2 408.9l-1.0 -2.0M39.1 413.9l1.4 1.8M39.1 413.9l0.3 -1.1M39.1 413.9l-2.2 0.8M40.6 417.7l-1.2 1.8M40.6 417.7l1.0 0.5M40.6 417.7l1.6 -0.5M42.5 419.3l-0.1 2.0M42.5 419.3l2.2 -0.5M42.5 419.3l-1.2 0.2M39.6 422.2l-1.9 -1.2M39.6 422.2l-0.0 0.9M39.6 422.2l0.1 1.7M45.3 415.5l-1.8 1.2M45.3 415.5l1.2 -1.0M45.3 415.5l-0.8 -1.6M48.7 413.7l-0.4 -1.4M48.7 413.7l-0.3 2.2M48.7 413.7l2.1 -0.3M54.0 417.9l0.8 -1.2M54.0 417.9l-2.1 -0.8M54.0 417.9l-0.2 2.2M57.1 416.6l-0.2 -1.2M57.1 416.6l1.8 1.4M57.1 416.6l0.3 -1.4M53.1 426.0l0.6 0.0M53.1 426.0l0.2 2.1M53.1 426.0l1.3 -1.5M54.0 428.9l-1.4 -1.7M54.0 428.9l-1.1 1.5M54.0 428.9l1.8 -0.9M66.4 418.8l-0.4 1.3M66.4 418.8l1.4 1.2M66.4 418.8l1.0 -2.0M62.9 420.3l-0.4 2.1M62.9 420.3l-2.0 -1.1M62.7 417.9l1.7 -0.3M62.7 417.9l0.3 -1.5M62.7 417.9l-2.0 -0.4M59.2 415.8l-1.5 1.7M59.2 415.8l-0.8 -1.7M59.2 415.8l0.3 -0.7M59.8 410.5l-2.1 0.4M59.8 410.5l-0.2 -1.1M59.8 410.5l1.2 -1.3M60.5 406.9l-0.7 -0.9M60.5 406.9l2.1 0.9M60.5 406.9l0.0 -1.6M78.4 413.1l-1.0 -1.3M78.4 413.1l2.3 -0.2M78.4 413.1l-0.6 2.2M81.9 414.9l1.1 -2.0M81.9 414.9l-1.0 0.5M81.9 414.9l1.5 1.6M68.6 420.0l2.3 -0.3M68.6 420.0l-0.4 1.7M68.6 420.0l-0.9 0.5M70.4 421.7l0.9 1.4M70.4 421.7l1.6 -0.9M70.4 421.7l-1.1 -1.7M66.5 410.9l0.1 0.7M66.5 410.9l0.9 -2.1M66.5 410.9l-2.2 -0.1M64.2 414.3l-1.9 -0.8M64.2 414.3l-0.2 2.2M79.3 406.2l-0.9 1.9M79.3 406.2l-1.0 -1.9M79.3 406.2l-0.3 0.1M75.2 406.7l-1.0 1.8M75.2 406.7l-1.2 -1.9M75.2 406.7l-0.0 0.3M90.8 413.9l1.6 -1.2M90.8 413.9l0.9 1.9M90.8 413.9l-1.7 0.6M92.8 413.2l-1.9 0.9M92.8 413.2l1.6 1.6M92.8 413.2l0.8 -1.7M85.0 407.4l1.3 -1.3M85.0 407.4l-1.9 -1.2M85.0 407.4l1.2 0.5M83.1 407.2l-1.4 -1.3M83.1 407.2l0.4 2.0M93.2 418.8l1.1 -1.3M93.2 418.8l-2.2 -0.8M93.2 418.8l-0.0 2.2M91.7 416.4l0.1 2.0M91.7 416.4l-2.2 -0.8M91.7 416.4l1.4 -1.5M105.5 418.2l1.7 1.4M105.5 418.2l0.8 -2.2M105.5 418.2l-0.9 0.6M105.3 417.4l-1.8 1.1M105.3 417.4l1.1 -1.1M98.1 419.0l-1.0 -0.4M98.1 419.0l0.6 -2.0M98.1 419.0l-1.4 1.1M101.7 417.6l-1.3 -1.9M101.7 417.6l0.8 0.2M101.7 417.6l1.7 -0.1M104.8 412.8l1.4 -1.8M104.8 412.8l-1.6 -0.1M104.8 412.8l1.2 1.9M104.6 413.1l2.0 0.7M104.6 413.1l0.0 -2.3M104.6 413.1l-1.7 0.6M103.6 414.8l-0.9 0.7M103.6 414.8l0.9 -2.1M103.6 414.8l-1.6 -0.1M103.7 412.0l0.7 -0.9M103.7 412.0l-2.0 -1.0M103.7 412.0l1.6 -0.3M98.5 420.0l0.7 -0.9M98.5 420.0l-1.3 -1.5M98.5 420.0l-1.3 1.9M99.4 416.8l-0.5 -1.5M99.4 416.8l2.2 -0.2M99.4 416.8l-1.3 -0.5M116.6 426.3l-0.5 2.2M116.6 426.3l2.2 -0.3M116.6 426.3l-0.4 -1.0M118.6 426.3l-2.3 -0.0M118.6 426.3l0.8 1.3M118.6 426.3l0.8 -2.2M119.2 414.2l0.6 2.2M119.2 414.2l-0.4 -1.0M119.2 414.2l1.7 -1.1M122.9 414.0l0.3 -2.0M122.9 414.0l-1.5 -0.3M122.9 414.0l2.0 0.7M122.0 421.9l0.1 -0.1M122.0 421.9l-0.5 2.1M123.0 425.8l1.5 -0.2M123.0 425.8l-2.0 0.7M123.0 425.8l0.8 1.5M8.4 420.7l0.3 0.7M8.4 420.7l1.9 0.3M8.4 420.7l-0.5 -2.2M8.0 416.6l1.0 -1.4M8.0 416.6l-0.3 -1.1M8.0 416.6l-2.1 0.6M1.5 421.5l1.3 1.4M1.5 421.5l1.3 -1.6M1.5 421.5l-1.6 -1.0M3.1 422.1l2.2 -0.7M3.1 422.1l-0.0 2.1M3.1 422.1l-1.1 -1.5M6.3 414.5l-1.0 -2.1M6.3 414.5l-1.0 1.4M6.3 414.5l-0.2 0.9M5.7 414.2l1.9 0.7M5.7 414.2l-1.7 1.5M5.7 414.2l-0.6 -2.1M26.7 421.6l1.1 -0.8M26.7 421.6l-1.1 -1.7M26.7 421.6l-1.5 1.6M29.4 420.3l1.8 0.8M29.4 420.3l-2.0 0.2M29.4 420.3l0.4 -2.2M21.1 424.8l-0.7 -1.9M21.1 424.8l2.0 0.7M21.1 424.8l-1.5 1.7M20.6 428.1l0.4 0.7M20.6 428.1l0.6 1.6M20.6 428.1l-2.2 -0.4M34.9 419.2l0.5 -1.7M34.9 419.2l1.1 1.9M34.9 419.2l0.6 -0.5M34.6 415.2l1.9 -0.1M34.6 415.2l0.5 0.6M34.6 415.2l-1.1 -2.0M51.0 425.4l2.3 -0.3M51.0 425.4l-0.3 2.0M51.0 425.4l-1.1 0.0M52.3 428.5l0.5 1.2M52.3 428.5l1.6 -1.6M52.3 428.5l-0.2 1.4M43.1 423.7l2.1 -0.8M43.1 423.7l-0.2 2.2M43.1 423.7l-0.2 -0.2M47.0 423.0l-0.5 -0.4M47.0 423.0l-0.3 -1.9M47.0 423.0l2.2 0.7M40.9 427.7l-1.2 1.6M40.9 427.7l1.4 1.0M40.9 427.7l-1.4 -1.5M40.9 425.1l-2.1 -0.1M40.9 425.1l-0.0 1.6M40.9 425.1l0.6 -2.0M59.1 432.7l-0.4 0.3M59.1 432.7l0.9 1.9M61.0 435.4l-0.6 1.8M61.0 435.4l0.6 -1.7M61.0 435.4l1.8 0.5M61.2 422.3l1.2 1.8M61.2 422.3l-2.2 0.1M61.2 422.3l1.0 -1.9M64.3 420.2l2.2 0.5M64.3 420.2l-1.1 -0.8M64.3 420.2l-0.0 -1.6M51.2 429.2l0.7 -2.1M51.2 429.2l1.5 1.5M51.2 429.2l-2.1 0.4M49.6 431.4l-1.2 -1.2M49.6 431.4l1.3 1.6M49.6 431.4l-1.5 1.0M65.3 426.2l0.6 -2.2M65.3 426.2l-1.8 0.5M65.3 426.2l1.7 1.4M66.4 422.5l0.5 0.4M66.4 422.5l-0.9 -2.1M66.4 422.5l1.9 0.2M67.8 427.4l0.4 -0.3M67.8 427.4l-1.1 2.0M67.8 427.4l-1.3 -1.7M68.5 429.6l-0.7 -0.6M68.5 429.6l1.2 1.9M68.2 415.1l-1.6 -1.1M68.2 415.1l-0.4 -0.3M68.2 415.1l2.1 -0.9M70.2 411.6l1.2 -1.9M70.2 411.6l-0.3 1.2M70.2 411.6l1.1 1.3M76.6 420.6l-0.5 2.2M76.6 420.6l-0.5 -1.1M76.6 420.6l2.3 -0.2M78.7 421.6l-1.1 -1.7M78.7 421.6l2.1 -0.8M78.7 421.6l0.3 1.7M81.8 423.6l1.5 0.7M81.8 423.6l1.1 -0.6M81.8 423.6l-1.1 -1.8M82.1 421.8l0.8 -0.7M82.1 421.8l-0.3 -1.8M82.1 421.8l-2.0 1.1M71.8 427.5l0.8 1.8M71.8 427.5l1.3 -1.8M71.8 427.5l-2.2 -0.5M70.8 428.5l0.4 1.1M70.8 428.5l-0.7 1.5M70.8 428.5l-1.7 -1.5M95.1 422.0l-1.6 0.1M95.1 422.0l-0.8 -1.3M95.1 422.0l1.9 -0.9M97.2 425.3l0.7 1.9M97.2 425.3l1.8 -1.3M97.2 425.3l-1.0 0.6M90.0 431.2l-2.0 1.0M90.0 431.2l1.7 1.6M90.0 431.2l0.2 -1.5M93.1 433.9l0.4 1.3M93.1 433.9l0.6 -2.2M93.1 433.9l1.2 0.8M88.0 424.7l0.3 -1.0M88.0 424.7l1.1 -1.3M88.0 424.7l-2.2 0.2M89.6 422.9l1.9 -1.0M89.6 422.9l0.3 2.3M89.6 422.9l-1.8 -0.6M104.6 420.4l1.1 1.7M104.6 420.4l-1.0 -1.3M104.6 420.4l1.5 -1.3M107.2 421.8l0.7 0.4M107.2 421.8l1.7 0.5M107.2 421.8l-1.8 1.3M96.3 429.6l2.0 0.9M96.3 429.6l-1.3 -0.7M96.3 429.6l-1.2 1.6M93.3 432.4l-1.8 -1.4M93.3 432.4l-0.6 2.1M93.3 432.4l0.8 0.0M107.7 428.5l-0.4 0.3M107.7 428.5l-1.5 1.3M107.7 428.5l2.2 0.7M106.7 426.7l1.0 -2.0M106.7 426.7l-2.2 -0.4M106.7 426.7l1.2 1.1M118.7 431.0l0.8 1.6M118.7 431.0l-1.3 -1.5M118.7 431.0l1.8 -1.1M116.4 430.3l-2.2 0.6M116.4 430.3l-0.0 -1.7M116.4 430.3l1.2 1.8M107.4 428.6l0.9 -2.1M107.4 428.6l1.7 1.3M107.4 428.6l-1.7 -0.2M104.9 425.4l0.1 -1.4M104.9 425.4l0.9 -1.1M104.9 425.4l-2.2 0.5M111.6 428.1l1.0 2.0M111.6 428.1l-2.3 0.1M111.6 428.1l1.0 -1.7M115.2 430.0l0.3 -2.1M115.2 430.0l-0.9 1.3M115.2 430.0l2.0 0.9M0.5 433.2l-2.1 -0.8M0.5 433.2l1.0 -1.1M0.5 433.2l-0.0 2.3M1.0 429.2l-1.4 -1.2M1.0 429.2l2.2 -0.4M1.0 429.2l-0.4 -0.6M12.4 434.4l-0.3 -2.1M12.4 434.4l0.6 1.5M12.4 434.4l-2.0 0.7M16.0 435.3l1.1 0.9M16.0 435.3l-0.9 1.7M16.0 435.3l1.5 -1.1M11.1 441.0l-1.2 -1.8M11.1 441.0l-1.4 1.7M11.1 441.0l1.4 0.7M12.4 439.4l0.7 -1.9M12.4 439.4l-1.8 0.9M12.4 439.4l1.7 1.5M19.9 439.3l-1.8 -1.4M19.9 439.3l-0.8 2.0M19.9 439.3l1.2 0.3M18.4 441.3l2.1 0.8M18.4 441.3l-1.5 1.6M18.4 441.3l-0.5 -0.5M24.0 432.9l1.2 -0.1M24.0 432.9l-1.4 -1.8M24.0 432.9l1.5 0.0M22.6 431.2l-2.2 0.6M22.6 431.2l0.9 1.5M22.6 431.2l0.0 -2.1M26.3 428.3l1.0 1.9M26.3 428.3l-0.5 0.4M26.3 428.3l1.5 -1.8M28.5 426.0l1.0 2.0M28.5 426.0l-1.2 0.3M28.5 426.0l1.7 -1.5M38.4 429.0l2.1 0.9M38.4 429.0l0.1 -2.3M38.4 429.0l-1.1 0.8M38.6 425.0l1.2 -2.0M38.6 425.0l0.6 1.0M38.6 425.0l-2.3 -0.4M35.7 436.1l1.7 0.9M35.7 436.1l-1.8 1.4M35.7 436.1l-0.6 -2.1M36.0 439.7l-1.7 1.4M36.0 439.7l-0.1 -0.2M36.0 439.7l2.0 0.9M27.7 431.8l-0.1 -2.3M27.7 431.8l-1.9 0.7M24.0 430.9l-1.7 1.0M24.0 430.9l1.0 1.6M24.0 430.9l-0.9 -1.6M57.1 431.3l0.5 -1.2M57.1 431.3l1.9 1.1M57.1 431.3l-0.8 -1.4M59.5 433.4l-0.8 1.8M59.5 433.4l2.0 -0.7M59.5 433.4l0.4 0.6M52.6 433.2l-0.4 2.3M52.6 433.2l1.9 -0.5M52.6 433.2l-1.8 -1.1M54.9 430.4l-0.3 0.5M54.9 430.4l1.5 -1.7M57.3 437.4l0.6 0.1M57.3 437.4l1.8 0.5M57.3 437.4l-0.7 -2.1M56.5 440.4l-1.2 1.9M56.5 440.4l2.3 0.4M56.5 440.4l-0.6 -0.5M52.4 442.9l1.8 0.9M52.4 442.9l-1.9 1.0M52.4 442.9l-0.1 -2.3M49.7 440.9l1.3 -1.6M49.7 440.9l-2.2 -0.2M50.8 435.2l-2.0 0.4M50.8 435.2l0.6 -2.2M50.8 435.2l-0.3 0.5M47.6 435.0l1.1 1.6M47.6 435.0l-2.2 0.6M47.6 435.0l0.1 -2.0M62.9 440.2l-0.1 0.7M62.9 440.2l-1.7 1.0M62.9 440.2l-0.2 -2.3M64.1 443.3l0.6 1.8M64.1 443.3l-2.3 0.0M64.1 443.3l1.0 0.1M68.6 438.2l-0.3 -2.3M68.6 438.2l1.7 0.4M68.6 438.2l-2.0 0.9M66.8 436.7l0.2 2.3M66.8 436.7l2.0 -1.0M66.8 436.7l-1.7 -0.7M77.6 430.9l2.2 -0.3M77.6 430.9l-0.4 0.1M77.6 430.9l-1.2 -1.8M77.6 431.3l0.2 2.1M77.6 431.3l-2.0 -0.9M77.6 431.3l1.7 -1.3M74.6 442.9l-0.9 2.1M74.6 442.9l1.5 -0.3M74.6 442.9l-1.7 -1.5M70.7 443.3l-1.0 -1.3M70.7 443.3l0.2 -1.2M70.7 443.3l-1.2 1.9M81.4 431.8l-2.1 -0.9M81.4 431.8l-0.2 2.0M81.4 431.8l1.3 -1.5M83.6 430.2l2.1 -0.6M83.6 430.2l-1.5 -1.8M83.6 430.2l0.1 0.6M87.4 430.8l1.6 -1.7M87.4 430.8l1.0 2.0M87.4 430.8l-0.9 0.0M91.4 430.7l1.9 -1.2M91.4 430.7l-0.5 -0.0M91.4 430.7l0.3 2.2M88.2 425.5l-0.7 -2.2M88.2 425.5l0.2 1.1M88.2 425.5l2.0 -0.0M87.1 423.2l-0.7 -1.8M87.1 423.2l2.0 -0.5M87.1 423.2l0.3 1.8M91.1 436.6l-1.0 -2.1M91.1 436.6l0.7 0.4M91.1 436.6l-1.5 1.6M90.3 437.8l-1.5 0.6M90.3 437.8l-0.2 -2.2M90.3 437.8l2.1 0.4M99.9 430.2l1.5 1.0M99.9 430.2l-0.5 1.4M99.9 430.2l0.9 -2.0M102.6 432.8l-0.9 2.1M102.6 432.8l1.0 -0.7M102.6 432.8l1.6 0.1M85.8 430.2l-0.8 2.0M85.8 430.2l0.7 -1.3M85.8 430.2l-1.6 -1.1M88.7 432.3l0.1 -1.5M88.7 432.3l-1.1 1.9M88.7 432.3l2.1 0.5M112.1 432.6l-0.4 -1.4M112.1 432.6l0.7 -1.2M112.1 432.6l1.6 1.5M114.5 433.5l-1.0 -1.2M114.5 433.5l2.2 0.2M114.5 433.5l-1.0 2.1M101.7 425.2l0.7 -0.4M101.7 425.2l1.7 -0.6M101.7 425.2l-1.9 -1.2M103.3 421.5l2.0 0.3M103.3 421.5l0.4 -1.0M103.3 421.5l-1.3 -1.4M103.6 438.7l1.3 1.9M103.6 438.7l1.3 -1.7M103.6 438.7l-1.8 0.4M103.0 442.2l1.5 1.7M103.0 442.2l0.4 -1.0M103.0 442.2l-2.1 0.9M121.8 436.3l0.0 -0.9M121.8 436.3l2.1 0.6M121.8 436.3l-1.3 1.9M125.6 434.8l1.2 -1.7M125.6 434.8l-0.2 -0.3M125.6 434.8l1.1 2.0M126.9 435.8l0.2 -2.2M126.9 435.8l2.0 0.7M126.9 435.8l-0.5 1.4M127.2 439.4l-0.9 0.8M127.2 439.4l-1.5 0.2M127.2 439.4l1.9 1.2M114.0 429.6l-0.4 -2.3M114.0 429.6l-0.9 1.0M114.0 429.6l-1.0 0.9M110.1 430.7l1.3 0.0M110.1 430.7l-1.9 -1.3M110.1 430.7l-0.7 2.1M6.0 435.9l-0.8 -0.6M6.0 435.9l2.2 0.5M6.0 435.9l-0.3 -1.7M6.0 431.8l-2.1 0.2M6.0 431.8l1.5 0.3M6.0 431.8l0.2 -2.1M9.1 444.3l-0.3 -0.7M9.1 444.3l1.5 1.7M9.1 444.3l-2.0 0.7M7.1 447.1l0.1 1.2M7.1 447.1l1.2 1.2M7.1 447.1l-2.2 -0.3M13.8 443.5l0.6 2.1M13.8 443.5l1.2 -1.5M13.8 443.5l0.4 -0.4M12.9 441.3l0.8 -2.0M12.9 441.3l-1.0 1.2M12.9 441.3l-1.6 -0.3M6.3 440.5l0.8 1.0M6.3 440.5l-1.9 1.1M6.3 440.5l-0.5 -2.2M3.8 439.4l-0.7 -1.5M3.8 439.4l-1.1 2.0M3.8 439.4l-0.5 -0.8M14.4 443.1l-0.9 -2.1M14.4 443.1l-1.7 1.6M14.4 443.1l1.1 0.4M13.1 446.7l-2.0 1.1M13.1 446.7l1.4 0.3M13.1 446.7l0.9 0.9M16.8 433.4l1.6 -0.6M16.8 433.4l-0.4 -1.8M16.8 433.4l-1.9 0.6M19.0 430.1l1.6 1.2M19.0 430.1l-0.7 -1.8M19.0 430.1l0.9 -0.8M29.7 450.9l1.4 1.3M29.7 450.9l-1.9 1.2M28.8 453.6l2.3 -0.3M28.8 453.6l-0.6 -0.3M28.8 453.6l-0.6 2.1M35.1 437.7l0.1 -2.2M35.1 437.7l-1.2 1.1M35.1 437.7l-1.0 0.3M33.3 434.3l0.9 1.2M33.3 434.3l1.2 -1.9M33.3 434.3l-2.2 -0.5M28.7 439.6l0.5 0.2M28.7 439.6l-0.7 -2.1M28.7 439.6l-1.7 1.5M25.9 440.3l-0.9 1.6M25.9 440.3l-1.5 -1.8M25.9 440.3l2.0 -0.8M40.8 454.8l-1.4 -0.3M40.8 454.8l1.8 1.2M40.8 454.8l-1.1 1.2M40.4 458.7l-1.0 -0.5M40.4 458.7l-1.4 1.4M40.4 458.7l2.0 1.1M37.8 451.4l-0.8 -2.1M37.8 451.4l-1.0 0.6M37.8 451.4l-0.5 1.5M34.6 453.8l-0.8 1.9M34.6 453.8l0.6 -1.4M34.6 453.8l-1.6 -1.0M32.8 442.6l-0.7 2.0M32.8 442.6l-1.7 -0.9M32.8 442.6l0.5 -1.5M30.4 442.2l-1.2 -1.3M30.4 442.2l-0.1 2.2M30.4 442.2l-0.8 -0.2M60.5 453.4l0.3 -0.4M60.5 453.4l0.0 2.3M60.5 453.4l1.7 -1.0M62.3 457.1l1.8 -0.5M62.3 457.1l-0.2 2.3M62.3 457.1l0.2 -0.9M48.0 446.8l-0.8 0.3M48.0 446.8l-1.3 -1.5M48.6 448.2l-1.9 -1.3M48.6 448.2l-0.5 2.2M48.6 448.2l1.5 -0.8M54.6 449.8l-1.5 -0.1M54.6 449.8l2.1 0.6M54.6 449.8l-0.7 1.6M52.3 453.2l-2.0 -1.0M52.3 453.2l1.0 0.4M52.3 453.2l-0.3 2.0M71.6 445.5l1.0 0.5M71.6 445.5l1.6 0.1M71.6 445.5l-1.7 1.5M73.1 445.1l1.4 -1.8M73.1 445.1l1.1 1.9M73.1 445.1l-1.9 -0.3M61.4 452.7l0.8 1.4M61.4 452.7l-2.2 0.6M61.4 452.7l0.0 -2.2M62.2 456.6l0.2 1.6M62.2 456.6l1.9 -1.2M62.2 456.6l-0.4 1.0M71.5 455.1l-0.6 -2.2M71.5 455.1l1.8 0.5M71.5 455.1l-1.8 1.3M73.3 456.8l-1.5 1.8M73.3 456.8l-0.2 -1.5M73.3 456.8l2.2 0.8M83.9 446.9l-0.8 -0.1M83.9 446.9l1.2 1.9M83.9 446.9l1.3 -1.8M84.8 447.5l-2.1 0.6M84.8 447.5l1.5 0.9M84.8 447.5l0.2 -2.3M74.6 444.1l1.5 -1.7M74.6 444.1l-1.6 -0.8M74.6 444.1l-1.0 0.8M74.1 440.7l2.2 0.2M74.1 440.7l-0.6 -2.2M74.1 440.7l-0.4 0.7M81.4 454.8l2.0 -0.8M81.4 454.8l0.0 -0.1M81.4 454.8l-0.3 2.2M84.0 457.8l1.6 -1.6M84.0 457.8l-0.7 0.2M84.0 457.8l0.9 2.0M92.9 452.9l0.4 0.9M92.9 452.9l-1.2 1.5M92.9 452.9l2.0 -0.5M93.5 456.8l2.0 0.6M93.5 456.8l-1.7 1.3M93.5 456.8l-0.0 0.3M94.1 443.4l-0.5 2.2M94.1 443.4l-1.6 -0.9M94.1 443.4l2.1 -0.2M97.2 443.7l0.2 -1.6M97.2 443.7l1.7 1.6M86.3 445.2l0.7 1.6M86.3 445.2l-1.4 -1.4M86.3 445.2l1.8 -1.2M88.2 446.6l-1.0 -1.6M88.2 446.6l0.6 1.8M88.2 446.6l1.9 -0.9M105.6 442.8l2.0 -1.1M105.6 442.8l-0.9 -0.2M105.6 442.8l-1.4 -1.0M107.1 439.3l-0.4 1.5M107.1 439.3l0.2 -2.1M107.1 439.3l2.0 0.5M95.0 448.8l-1.5 0.7M95.0 448.8l-1.1 -0.9M95.0 448.8l1.3 1.8M98.3 451.3l0.6 1.9M98.3 451.3l1.6 -1.6M98.3 451.3l-0.3 0.4M102.6 448.4l-2.0 -1.1M102.6 448.4l0.9 -0.3M102.6 448.4l1.4 -0.9M104.2 449.7l0.4 1.9M104.2 449.7l-0.1 -1.8M104.2 449.7l1.7 -0.3M122.7 454.2l0.5 -0.4M122.7 454.2l-0.9 2.1M122.7 454.2l1.9 -0.2M123.6 457.6l1.1 -0.8M123.6 457.6l0.4 2.3M123.6 457.6l-2.3 -0.4M112.8 442.6l0.5 -2.2M112.8 442.6l-0.2 0.5M112.8 442.6l-2.0 0.5M110.6 439.8l-0.7 -1.7M110.6 439.8l1.2 -0.8M110.6 439.8l-1.8 1.2M110.2 453.3l1.8 1.0M110.2 453.3l-0.6 -1.9M110.2 453.3l-1.7 1.5M108.5 453.0l-1.4 -1.6M108.5 453.0l0.5 1.5M14.5 464.9l-2.2 -0.0M14.5 464.9l0.1 -0.4M14.5 464.9l1.2 -1.7M13.1 468.8l-2.0 -0.7M13.1 468.8l-0.2 2.0M13.1 468.8l1.5 0.2M10.3 456.1l1.7 1.4M10.3 456.1l-1.2 1.0M10.3 456.1l-1.4 -0.4M7.5 455.9l-1.8 1.4M7.5 455.9l-0.8 -2.1M7.5 455.9l1.2 -0.1M21.5 459.5l0.2 2.2M21.5 459.5l2.0 -1.1M21.5 459.5l-0.5 -0.3M23.8 461.9l1.0 1.9M23.8 461.9l-2.2 0.4M23.8 461.9l1.1 -0.7M33.1 457.5l-0.9 -2.1M33.1 457.5l-1.7 1.5M33.1 457.5l1.0 0.7M34.3 459.4l0.5 -0.5M34.3 459.4l1.3 1.7M34.3 459.4l-2.2 0.6M39.0 449.1l-1.3 -1.7M39.0 449.1l0.7 1.3M39.0 449.1l1.8 -0.9M38.4 449.1l2.2 -0.1M38.4 449.1l-0.7 -2.1M38.4 449.1l-1.4 1.0M45.5 460.1l1.9 -1.1M45.5 460.1l-1.2 -1.3M45.5 460.1l0.6 2.0M49.3 460.9l0.1 -2.3M49.3 460.9l-0.0 0.5M49.3 460.9l1.8 1.0M43.4 455.3l-0.8 1.6M43.4 455.3l-1.8 -1.2M43.4 455.3l1.5 -1.4M39.3 454.9l-2.2 0.7M39.3 454.9l1.0 0.3M39.3 454.9l0.1 -2.2M41.2 458.9l-0.4 -2.1M41.2 458.9l1.7 -0.1M41.2 458.9l-1.9 0.8M43.0 455.3l0.5 -1.1M43.0 455.3l1.2 -1.0M43.0 455.3l-2.2 -0.2M39.8 464.8l-0.5 2.2M39.8 464.8l-1.9 -1.2M36.1 466.5l-0.0 -0.5M36.1 466.5l-2.0 -0.5M36.1 466.5l0.4 2.3M51.7 455.7l0.3 0.3M51.7 455.7l-0.3 -2.2M51.7 455.7l-1.9 1.2M48.4 455.2l0.5 -2.2M48.4 455.2l-2.1 0.1M48.4 455.2l0.1 1.3M61.5 445.7l-1.9 -0.9M61.5 445.7l-0.0 -0.5M61.5 445.7l1.9 -0.9M62.1 445.8l0.1 0.9M62.1 445.8l-1.7 -1.5M62.1 445.8l2.0 -1.1M59.7 457.2l0.5 -0.5M59.7 457.2l0.9 2.1M59.7 457.2l-2.3 0.0M58.4 460.9l-0.3 1.8M58.4 460.9l-1.2 0.3M58.4 460.9l2.2 -0.2M77.2 457.2l0.5 -1.6M77.2 457.2l1.9 1.1M77.2 457.2l-1.5 1.5M79.9 458.4l-0.9 -1.5M79.9 458.4l1.1 -1.1M79.9 458.4l1.5 1.3M66.7 452.6l-1.7 1.5M66.7 452.6l-0.8 -1.8M66.7 452.6l0.8 -0.8M67.3 448.7l1.0 -1.0M67.3 448.7l-1.7 -1.3M67.3 448.7l1.5 0.3M68.1 460.0l-1.8 -1.4M68.1 460.0l-0.6 2.0M68.1 460.0l1.6 -1.0M64.2 460.0l0.0 0.2M64.2 460.0l-2.0 -0.9M64.2 460.0l0.3 2.1M85.5 463.2l-0.6 1.0M85.5 463.2l2.1 -0.9M85.5 463.2l0.0 1.6M83.3 460.6l-0.3 1.1M83.3 460.6l-2.0 -0.7M83.3 460.6l1.4 -1.8M74.3 455.5l-2.3 -0.1M74.3 455.5l1.1 -1.3M70.3 455.1l-0.9 -2.0M70.3 455.1l-1.6 1.2M76.7 455.6l2.2 0.6M76.7 455.6l-0.0 -1.6M76.7 455.6l-1.1 1.9M80.0 453.9l0.7 -1.1M80.0 453.9l0.4 -1.3M80.0 453.9l1.2 2.0M89.4 450.3l1.5 0.1M89.4 450.3l-2.1 0.4M89.4 450.3l0.5 1.6M87.0 453.0l-1.9 -0.6M87.0 453.0l-0.2 2.2M87.0 453.0l0.1 -1.3M97.5 460.5l-2.1 -0.6M97.5 460.5l1.3 0.4M97.5 460.5l-0.1 1.9M96.9 459.9l0.5 1.9M96.9 459.9l-2.3 -0.3M96.9 459.9l1.0 -1.8M102.4 446.7l-2.0 -1.0M102.4 446.7l0.3 1.8M102.4 446.7l1.7 -1.5M106.5 446.7l2.0 -0.8M106.5 446.7l0.3 1.5M106.5 446.7l-0.9 1.1M108.5 451.7l-0.8 0.6M108.5 451.7l-1.5 -1.4M108.5 451.7l2.0 -1.1M107.9 452.4l2.0 -1.1M107.9 452.4l0.3 2.2M107.9 452.4l-1.5 -0.8M114.9 447.3l-0.4 -1.4M114.9 447.3l1.4 -1.0M114.1 443.3l1.1 -1.8M114.1 443.3l-2.3 -0.4M114.1 443.3l0.9 0.3M107.7 458.3l1.2 0.8M107.7 458.3l-2.2 0.6M108.5 460.9l0.0 2.1M108.5 460.9l-2.0 -0.4M108.5 460.9l1.7 -0.2M110.1 456.2l-0.8 1.1M110.1 456.2l-0.2 -2.3M110.1 456.2l-1.2 0.6M106.1 457.0l-1.9 -1.2M106.1 457.0l0.8 -0.9M106.1 457.0l-0.5 2.2M122.4 462.4l0.9 0.1M122.4 462.4l-0.9 -2.1M122.4 462.4l1.6 0.4M126.3 461.7l1.8 1.4M126.3 461.7l-1.4 0.7M126.3 461.7l0.7 -2.2M122.7 456.2l0.6 0.5M122.7 456.2l-1.6 1.5M122.7 456.2l1.8 0.2M124.4 459.8l-1.6 0.4M124.4 459.8l-0.9 0.4M124.4 459.8l1.8 1.4M4.9 459.0l-1.2 -1.7M4.9 459.0l-1.0 2.0M4.9 459.0l-0.0 -0.2M2.4 455.7l0.0 -0.4M2.4 455.7l-1.3 -1.6M13.3 454.6l-0.9 0.3M13.3 454.6l2.3 0.1M13.3 454.6l-0.6 -2.0M9.5 455.9l-1.0 0.9M9.5 455.9l-1.3 -1.7M9.5 455.9l0.2 1.6M4.7 466.8l-1.6 -0.5M4.7 466.8l-0.8 -0.5M4.7 466.8l0.5 2.2M1.1 468.5l-1.5 1.2M1.1 468.5l-0.1 0.7M1.1 468.5l-0.5 -2.2M11.2 463.9l-1.8 -0.1M11.2 463.9l-0.3 1.7M11.2 463.9l0.3 -2.0M11.8 463.2l1.4 -1.8M11.8 463.2l1.0 1.9M11.8 463.2l-2.0 -0.3M20.7 456.8l-1.5 0.2M20.7 456.8l0.1 -2.2M20.7 456.8l2.1 0.7M19.6 457.8l0.5 -0.8M19.6 457.8l1.9 1.0M19.6 457.8l-1.7 1.6M13.5 464.9l0.7 -2.0M13.5 464.9l0.8 1.8M13.5 464.9l-2.3 0.1M12.4 465.9l-1.1 -0.1M12.4 465.9l2.3 -0.2M12.4 465.9l-0.5 2.0M35.8 469.3l0.9 -0.6M35.8 469.3l0.7 -1.5M35.8 469.3l0.7 2.1M38.7 472.2l1.1 -0.2M38.7 472.2l1.1 -1.3M38.7 472.2l-0.0 2.2M29.7 466.1l-0.1 0.3M29.7 466.1l0.9 1.9M29.7 466.1l1.4 -1.8M32.7 463.4l0.0 0.3M32.7 463.4l1.8 -1.3M32.7 463.4l-1.9 -1.1M34.8 470.4l0.5 2.2M34.8 470.4l1.9 -1.1M34.8 470.4l-0.8 -0.8M32.8 467.9l-1.4 1.3M32.8 467.9l-1.0 -2.0M32.8 467.9l1.9 -0.4M41.6 462.4l0.8 0.8M41.6 462.4l0.4 1.6M41.6 462.4l-2.3 -0.4M39.7 464.8l-1.5 -1.6M39.7 464.8l0.8 1.0M39.7 464.8l-1.0 1.6M47.5 469.1l-1.0 -1.1M47.5 469.1l0.3 -1.5M47.5 469.1l2.0 0.8M49.8 465.7l-0.4 0.9M49.8 465.7l0.6 -2.2M49.8 465.7l1.7 1.1M48.2 463.0l0.5 0.4M48.2 463.0l0.2 2.0M48.2 463.0l1.5 -1.6M49.7 460.0l2.0 0.6M49.7 460.0l-1.7 1.3M49.7 460.0l-0.4 -2.2M61.1 473.5l-0.6 2.2M61.1 473.5l1.8 -0.5M61.1 473.5l0.6 -0.4M64.4 472.9l0.6 -1.8M64.4 472.9l-1.4 1.3M64.4 472.9l1.9 1.2M54.4 463.1l2.0 -1.0M54.4 463.1l-0.9 0.3M54.4 463.1l-1.4 -1.3M52.6 460.5l1.9 -0.8M52.6 460.5l-0.5 -1.4M52.6 460.5l-1.8 0.0M54.1 476.5l-0.6 1.0M54.1 476.5l-0.9 1.2M54.1 476.5l2.3 0.0M53.1 479.3l-2.1 -0.3M53.1 479.3l1.4 -1.7M53.1 479.3l0.8 2.0M65.2 475.1l-0.4 2.0M65.2 475.1l2.2 -0.5M65.2 475.1l-0.6 0.2M62.4 474.4l-2.2 0.5M62.4 474.4l1.1 -0.2M62.4 474.4l0.2 -2.0M73.0 471.8l-0.6 1.3M73.0 471.8l1.0 -1.9M73.0 471.8l1.4 1.2M76.0 471.9l0.2 -1.3M76.0 471.9l1.8 1.5M70.7 478.0l-2.0 0.1M70.7 478.0l1.4 1.5M70.7 478.0l-0.3 0.5M74.0 479.9l-1.1 1.8M74.0 479.9l0.8 0.5M74.0 479.9l1.8 -0.5M80.7 456.8l-0.2 -1.0M80.7 456.8l-2.0 1.1M80.7 456.8l0.5 -1.6M77.0 455.4l-1.2 0.9M77.0 455.4l0.6 1.6M77.0 455.4l-1.3 -1.6M78.8 459.4l-1.1 -2.0M78.8 459.4l2.3 -0.3M78.8 459.4l-0.3 0.9M82.5 459.1l1.7 -0.5M82.5 459.1l0.9 0.5M82.5 459.1l-1.1 1.8M78.6 469.9l1.9 0.6M78.6 469.9l-1.8 1.2M78.6 469.9l-0.3 -2.3M78.9 471.3l-1.6 -0.1M78.9 471.3l2.1 0.4M78.9 471.3l-0.5 1.7M84.6 474.5l-0.4 2.1M84.6 474.5l-1.1 -0.3M84.6 474.5l-0.8 -1.5M84.6 476.8l0.2 1.3M84.6 476.8l1.4 0.9M84.6 476.8l-2.2 -0.0M96.1 469.6l-1.1 -1.7M96.1 469.6l1.8 0.6M96.1 469.6l-1.4 1.8M99.6 468.6l-0.4 1.3M99.6 468.6l2.2 -0.8M99.6 468.6l-1.4 -1.8M90.1 461.4l1.3 -1.4M90.1 461.4l0.1 -0.6M87.2 459.0l0.3 2.1M87.2 459.0l-1.7 0.1M87.2 459.0l-0.5 -1.6M100.9 467.2l-1.7 -0.1M100.9 467.2l1.6 1.5M100.9 467.2l-0.9 0.7M103.0 470.2l2.0 0.1M103.0 470.2l0.3 -0.4M103.0 470.2l-1.2 2.0M109.1 461.2l1.9 0.6M109.1 461.2l0.2 -2.1M109.1 461.2l-1.7 0.1M109.8 457.4l-0.3 -2.1M109.8 457.4l-2.0 0.7M109.8 457.4l1.6 -0.1M107.4 471.5l1.9 1.0M107.4 471.5l0.2 -2.3M107.4 471.5l-0.2 0.7M108.7 473.4l0.4 -1.8M108.7 473.4l1.9 1.2M108.7 473.4l-1.7 1.3M114.5 461.2l-2.2 0.3M114.5 461.2l0.2 -0.7M114.5 461.2l0.9 -1.6M112.4 457.9l-1.6 1.1M112.4 457.9l-0.8 -2.0M112.4 457.9l0.5 1.3M118.1 473.8l-1.8 -0.2M118.1 473.8l1.9 0.3M118.1 473.8l-0.3 1.8M121.3 476.0l2.1 -0.5M121.3 476.0l0.0 2.1M121.3 476.0l-0.6 -1.5M112.3 464.6l-1.9 1.2M112.3 464.6l0.4 -0.2M113.4 464.4l1.8 1.3M113.4 464.4l-0.5 -1.3M113.4 464.4l-1.8 1.3M42.1 467.3l2.0 -0.6M42.1 467.3l0.2 0.4M42.1 467.3l-1.5 -1.7M43.5 463.9l-0.5 -1.3M43.5 463.9l0.4 -1.3M43.5 463.9l1.9 1.2M49.4 470.4l1.5 -0.0M49.4 470.4l-0.3 -2.1M49.4 470.4l-2.0 0.8M47.1 468.4l-1.3 -0.4M47.1 468.4l-1.4 0.4M47.1 468.4l1.3 -1.8M51.7 475.8l0.2 0.7M51.7 475.8l-0.1 1.8M51.7 475.8l1.8 -1.3M52.7 472.3l-1.3 -1.8M52.7 472.3l1.4 0.7M52.7 472.3l1.3 -0.7M62.9 481.5l-1.0 1.8M62.9 481.5l-0.4 -1.9M62.9 481.5l2.3 0.3M64.3 483.8l2.2 -0.7M64.3 483.8l-0.8 0.8M64.3 483.8l-0.1 1.6M59.2 484.9l-2.3 -0.1M59.2 484.9l0.6 2.1M59.2 484.9l0.6 -1.5M61.2 488.2l-0.5 -1.6M61.2 488.2l-0.3 2.1M61.2 488.2l2.2 -0.2M66.0 474.8l0.6 1.1M66.0 474.8l-0.8 -2.1M66.0 474.8l1.8 -0.2M65.5 470.9l-0.9 -0.4M65.5 470.9l-1.5 -0.7M65.5 470.9l2.0 -1.2M76.9 467.1l0.1 -2.0M76.9 467.1l-1.8 -0.1M76.9 467.1l2.0 0.3M78.8 467.5l-2.3 -0.3M78.8 467.5l0.9 -1.6M78.8 467.5l0.9 -0.1M70.0 478.1l1.7 0.3M70.0 478.1l-1.0 2.0M70.0 478.1l-1.5 -1.5M67.0 478.5l-2.1 -0.0M67.0 478.5l-0.2 -0.5M67.0 478.5l0.9 2.1M80.3 470.4l1.5 -1.7M80.3 470.4l-0.1 1.4M80.3 470.4l0.7 1.2M82.7 472.3l0.9 1.9M82.7 472.3l0.1 -1.8M82.7 472.3l1.2 -0.5M116.1 473.8l1.0 1.6M116.1 473.8l0.0 0.6M116.1 473.8l1.1 -2.0M120.1 473.6l0.0 0.1M120.1 473.6l-0.7 -2.1M120.1 473.6l2.1 0.4M108.9 473.6l-1.9 -1.1M108.9 473.6l-0.6 1.9M108.9 473.6l1.1 -1.4M105.2 475.3l0.2 1.7M105.2 475.3l-2.2 -0.4M105.2 475.3l1.1 0.6M104.8 472.3l-0.6 -1.7M104.8 472.3l1.0 -0.9M104.8 472.3l-1.9 1.2M103.6 468.4l0.0 -2.3M103.6 468.4l-1.4 1.0M103.6 468.4l-0.7 0.4M115.1 480.0l2.1 0.7M115.1 480.0l-1.1 1.7M115.1 480.0l-1.2 -0.7M117.6 476.8l0.4 -2.0M117.6 476.8l-0.6 -0.5M117.6 476.8l1.9 1.3M121.7 478.1l-0.3 1.3M121.7 478.1l2.0 -1.1M121.7 478.1l-0.0 1.3M125.2 477.3l0.8 1.9M125.2 477.3l-1.2 0.6M125.2 477.3l1.8 -1.3M110.0 471.2l-0.5 -1.5M110.0 471.2l0.5 -1.1M110.0 471.2l-1.8 1.4M111.0 471.3l-2.3 0.1M111.0 471.3l0.6 -2.2M111.0 471.3l1.1 0.9M57.2 477.6l0.0 -1.5M57.2 477.6l-1.0 -1.0M57.2 477.6l-1.2 1.9M55.4 474.3l1.0 -2.1M55.4 474.3l-1.3 -0.1M55.4 474.3l-1.3 0.6M54.8 481.1l-0.7 -2.1M54.8 481.1l-1.2 1.5M54.8 481.1l2.2 0.2M51.9 478.8l-0.2 -2.3M51.9 478.8l-2.0 0.9M51.9 478.8l1.6 0.6M62.3 490.1l0.1 -1.9M62.3 490.1l-0.9 1.8M62.3 490.1l2.1 0.6M62.8 487.4l-2.1 0.3M62.8 487.4l1.6 -0.1M62.8 487.4l0.5 1.8" stroke="#c0c0c0" stroke-width="1.1" stroke-linecap="round" fill="none"/>
<path d="M28.6 379.1l0.4 3.9M29.1 383.0l-0.6 3.0M28.5 386.0l-1.7 3.6M28.6 379.1l3.2 -3.2M31.8 375.9l-0.9 -4.0M30.9 371.9l1.0 -1.0M28.6 379.1l-4.3 -1.8M28.6 379.1l0.7 1.1M29.4 380.2l-1.0 -3.9M28.3 376.3l1.6 0.2M58.1 377.7l2.5 -4.0M60.6 373.6l3.5 -0.9M64.1 372.7l0.9 3.3M58.1 377.7l0.2 2.3M58.3 379.9l0.5 4.0M58.8 384.0l0.2 4.0M58.1 377.7l-4.5 -1.0M58.1 377.7l1.8 2.7M60.0 380.4l2.7 1.0M62.7 381.4l-0.4 1.3M75.4 377.7l-2.0 4.3M73.4 381.9l3.5 0.5M76.9 382.4l3.9 -0.4M75.4 377.7l1.8 -1.1M77.3 376.5l2.4 -2.8M79.6 373.7l2.7 2.4M75.4 377.7l3.4 0.1M78.9 377.7l0.2 3.2M79.0 380.9l0.9 1.8M75.4 377.7l-3.2 -3.2M79.8 378.3l2.0 -3.1M81.8 375.2l1.9 0.4M83.8 375.6l0.8 3.2M79.8 378.3l-2.5 3.2M79.8 378.3l3.3 2.2M83.2 380.5l1.8 1.5M85.0 381.9l-1.4 -3.2M79.8 378.3l-2.9 -2.3M76.9 376.0l0.0 -3.1M77.0 372.8l-0.5 2.9M99.3 373.2l-2.8 3.1M96.5 376.3l-2.1 3.5M94.4 379.8l-2.5 3.0M99.3 373.2l-0.2 -4.2M99.3 373.2l4.4 1.6M103.7 374.8l0.6 -0.4M104.3 374.4l2.0 2.2M99.3 373.2l-1.4 -0.5M97.8 372.7l-1.9 -1.3M95.9 371.4l1.2 -2.3M107.6 377.0l3.1 -2.8M107.6 377.0l0.3 4.3M107.8 381.3l1.8 3.7M109.6 385.0l-2.7 1.4M107.6 377.0l0.9 0.2M108.5 377.2l-1.1 -3.1M107.5 374.1l0.8 -1.7M107.6 377.0l-4.3 -1.7M103.2 375.3l0.5 -3.8M103.7 371.5l3.6 -0.7M26.5 386.7l-0.9 -4.6M25.7 382.1l-3.6 -0.4M22.1 381.7l-2.8 2.5M26.5 386.7l3.3 0.6M29.8 387.3l-2.9 2.9M26.9 390.2l3.7 1.6M26.5 386.7l1.5 1.8M28.1 388.5l-2.8 3.0M25.3 391.6l-2.4 -0.2M26.5 386.7l-4.0 2.2M42.8 380.6l-4.5 0.6M38.3 381.2l-2.4 2.9M35.9 384.2l0.5 2.3M42.8 380.6l2.0 4.2M42.8 380.6l0.2 -2.5M43.0 378.1l1.2 0.4M44.2 378.5l4.1 0.1M42.8 380.6l2.3 -2.3M45.1 378.3l-1.8 -3.7M43.3 374.7l-1.5 -0.1M50.4 382.2l1.4 -3.2M51.8 379.0l0.7 -1.6M52.5 377.4l3.2 -0.4M50.4 382.2l-3.4 2.7M47.0 384.9l1.0 -3.5M48.0 381.4l0.8 -3.9M50.4 382.2l3.6 2.7M54.0 384.9l-0.2 1.2M53.8 386.0l2.8 2.9M50.4 382.2l-1.7 -2.2M68.0 382.5l-1.2 -2.0M66.8 380.5l-2.7 -3.1M64.1 377.5l-2.7 2.4M68.0 382.5l-3.0 -1.4M68.0 382.5l4.4 -1.3M72.4 381.2l3.2 2.6M75.5 383.7l1.5 2.7M68.0 382.5l-0.2 4.7M67.8 387.2l2.1 3.4M69.9 390.6l3.9 1.2M73.9 383.4l-1.3 -1.8M72.6 381.6l-3.3 1.1M69.3 382.7l-4.0 -0.8M73.9 383.4l0.6 4.7M73.9 383.4l-3.3 -0.9M70.6 382.5l-2.3 -0.3M68.3 382.2l0.7 -3.2M73.9 383.4l4.1 -2.0M78.0 381.4l2.4 -3.3M80.4 378.1l-3.2 -1.6M90.0 380.5l2.8 -0.2M90.0 380.5l2.2 -1.8M92.3 378.7l4.0 -0.7M96.2 378.1l-1.3 -2.4M90.0 380.5l-3.9 -2.5M86.1 377.9l-3.2 -2.4M82.9 375.5l0.1 -3.1M90.0 380.5l-1.2 4.5M88.8 384.9l-4.1 0.5M84.7 385.4l-2.5 1.8M97.6 382.0l1.4 2.2M99.0 384.3l3.0 -1.0M102.0 383.3l2.0 -3.0M97.6 382.0l-4.6 -1.0M93.0 381.0l-1.5 -3.2M91.5 377.8l-3.2 -2.5M97.6 382.0l2.5 -4.0M100.0 378.1l-1.4 -3.5M98.6 374.5l-2.7 0.7M97.6 382.0l0.7 2.8M110.5 382.4l3.9 1.9M114.4 384.4l4.0 0.4M118.4 384.8l2.7 2.1M110.5 382.4l0.7 -4.6M111.2 377.8l1.8 -0.0M113.0 377.7l-0.6 3.7M110.5 382.4l-3.7 0.8M110.5 382.4l-0.9 1.9M109.7 384.4l-2.8 1.0M106.8 385.4l-4.0 1.0M119.9 385.3l1.0 3.3M120.9 388.6l-0.1 1.2M120.9 389.8l-2.2 2.4M119.9 385.3l-3.2 -3.0M116.7 382.3l3.7 1.7M120.4 384.0l3.2 1.2M119.9 385.3l3.9 -2.4M123.9 382.9l-0.6 1.8M123.2 384.6l-4.0 0.5M119.9 385.3l-1.7 2.0M28.3 394.5l-0.3 4.3M28.0 398.8l0.6 2.7M28.6 401.5l0.1 2.6M28.3 394.5l4.4 -0.8M28.3 394.5l-2.9 -0.3M25.3 394.2l-2.6 2.6M22.7 396.8l-1.1 1.9M28.3 394.5l-1.2 -3.2M27.0 391.3l-3.0 -2.6M24.0 388.7l0.5 -3.6M39.1 391.5l-0.8 -4.0M39.1 391.5l4.6 1.0M43.7 392.5l1.1 -1.2M44.9 391.4l2.3 -0.1M39.1 391.5l-1.3 -0.6M37.8 390.9l-1.3 2.4M36.6 393.4l-3.0 2.6M39.1 391.5l-2.5 3.5M36.7 395.1l-1.4 3.5M35.3 398.5l1.1 -1.3M51.3 397.8l4.4 1.6M55.8 399.4l-1.3 0.4M54.5 399.8l-0.4 -4.1M51.3 397.8l-2.9 3.1M48.5 400.9l3.3 1.0M51.8 401.9l3.5 -2.1M51.3 397.8l-0.3 -4.2M51.0 393.6l2.1 -2.6M53.1 391.1l-2.9 -0.3M51.3 397.8l-1.2 -0.5M56.0 397.0l-4.5 0.8M51.5 397.9l-3.8 0.2M47.7 398.0l-1.9 3.3M56.0 397.0l0.2 -1.4M56.2 395.6l3.6 -0.6M59.8 395.0l0.2 4.1M56.0 397.0l2.5 4.0M58.5 401.0l3.9 1.0M62.4 401.9l2.0 1.7M56.0 397.0l1.8 -3.4M67.9 399.1l-0.9 1.5M67.0 400.7l-3.4 -1.7M63.5 399.0l-4.0 0.2M67.9 399.1l-3.7 0.8M64.2 400.0l-3.0 -2.5M61.2 397.4l-4.0 -0.5M67.9 399.1l3.8 2.3M71.7 401.4l3.5 0.9M75.1 402.3l1.8 3.3M67.9 399.1l0.9 -4.6M83.7 393.9l1.2 1.0M84.9 394.9l-1.8 1.6M83.1 396.4l-2.8 -1.6M83.7 393.9l3.9 -0.9M87.6 392.9l2.4 -0.3M90.0 392.6l3.4 1.0M83.7 393.9l-2.9 -3.8M80.9 390.1l-2.1 -2.3M78.7 387.8l-1.3 -2.2M83.7 393.9l-2.2 3.7M89.9 399.2l0.4 4.0M89.9 399.2l2.3 0.4M92.2 399.7l2.9 1.6M95.1 401.2l0.3 -0.6M89.9 399.2l1.9 -3.5M91.8 395.7l2.9 -2.9M94.7 392.8l0.2 -0.1M89.9 399.2l-4.5 -0.9M85.4 398.3l-3.9 0.9M81.4 399.2l-3.2 -0.8M108.3 392.2l1.0 2.8M109.3 395.1l2.3 0.8M111.7 395.9l1.2 1.8M108.3 392.2l-4.2 1.2M104.1 393.4l-1.0 1.6M103.1 395.0l-3.4 1.6M108.3 392.2l-0.1 -4.5M108.2 387.8l2.5 -3.3M110.7 384.5l2.2 -1.3M108.3 392.2l3.3 0.5M119.1 392.6l3.8 -0.1M119.1 392.6l0.9 -2.5M119.9 390.1l-0.5 -1.8M119.4 388.2l3.5 -1.6M119.1 392.6l-1.0 4.5M118.1 397.1l1.4 3.4M119.5 400.5l3.0 -1.7M119.1 392.6l-3.7 -1.8M115.4 390.8l-2.0 -2.3M113.4 388.5l-3.1 -2.6M6.6 408.4l0.5 2.2M7.1 410.6l-3.7 -0.2M3.4 410.4l-3.8 -1.5M6.6 408.4l3.8 -2.6M10.4 405.8l2.1 0.7M12.5 406.5l3.2 2.2M6.6 408.4l-3.8 -2.8M2.8 405.6l-0.1 -3.0M2.7 402.6l-0.8 -3.9M6.6 408.4l-0.6 3.2M15.6 409.0l3.9 -2.1M19.5 406.9l4.1 -0.6M23.6 406.4l3.4 -1.7M15.6 409.0l1.1 3.0M16.7 412.0l2.4 -2.9M19.1 409.1l0.6 -4.1M15.6 409.0l-2.1 2.4M13.5 411.4l1.3 0.2M14.8 411.5l2.1 1.8M15.6 409.0l-2.9 -3.3M24.8 402.6l-3.2 3.4M21.6 406.0l-1.8 2.8M19.8 408.8l0.7 3.1M24.8 402.6l-2.1 -4.2M22.7 398.4l0.7 -1.6M23.4 396.8l-1.7 -2.3M24.8 402.6l3.3 0.7M28.2 403.2l-0.7 1.9M27.4 405.1l2.1 1.7M24.8 402.6l1.9 0.1M37.0 401.7l1.2 4.4M37.0 401.7l-1.8 -2.2M35.3 399.5l-1.7 3.4M33.6 402.9l-3.0 2.2M37.0 401.7l-3.2 0.1M33.8 401.8l0.4 3.6M34.2 405.3l-0.8 3.8M37.0 401.7l3.8 -2.4M40.8 399.3l4.0 0.2M44.9 399.5l0.5 3.1M53.9 401.2l-3.9 1.4M53.9 401.2l1.5 3.5M55.4 404.7l0.3 3.8M55.7 408.5l-1.8 1.7M53.9 401.2l-1.0 -3.8M52.9 397.4l-1.0 1.4M51.9 398.8l-2.7 3.1M53.9 401.2l3.4 -1.1M57.3 400.2l2.3 -0.2M59.6 400.0l1.5 3.5M68.9 409.6l1.5 -2.4M68.9 409.6l3.2 3.3M72.1 412.9l3.6 1.8M75.6 414.8l3.2 -0.9M68.9 409.6l-4.1 2.1M64.7 411.7l0.7 2.6M65.5 414.3l-1.3 2.8M68.9 409.6l-0.5 -3.0M68.3 406.6l1.5 -2.8M69.8 403.8l2.3 -0.2M78.7 405.7l-1.7 0.2M77.0 405.9l-3.9 -0.4M73.1 405.5l-2.7 -2.3M78.7 405.7l-1.8 -3.8M76.9 401.9l-0.4 0.6M76.5 402.5l-2.0 2.4M78.7 405.7l-1.2 3.9M78.7 405.7l4.7 -0.3M83.4 405.4l2.3 -0.7M85.7 404.7l-1.4 0.2M84.0 400.1l0.3 0.5M84.3 400.6l0.8 -3.8M85.0 396.8l1.8 -3.5M84.0 400.1l4.1 -1.7M84.0 400.1l-3.5 -3.0M80.5 397.1l2.2 1.9M82.7 399.0l1.2 3.8M84.0 400.1l-0.9 4.2M83.1 404.3l-1.3 2.0M81.9 406.3l-2.0 -2.1M102.4 409.5l-4.3 1.6M102.4 409.5l-0.3 -4.3M102.1 405.1l-3.4 0.6M98.7 405.7l-2.2 -2.9M102.4 409.5l2.2 2.9M104.5 412.3l3.9 1.1M108.4 413.5l0.4 0.1M102.4 409.5l2.5 -0.1M104.8 409.3l2.4 -0.6M107.2 408.8l0.2 0.1M113.5 404.7l-3.7 2.9M109.9 407.6l-2.6 2.2M107.3 409.9l-1.4 1.6M113.5 404.7l3.4 1.4M117.0 406.1l-1.2 1.7M115.8 407.8l2.0 0.9M113.5 404.7l1.6 0.0M113.5 404.7l-1.4 -4.4M112.2 400.3l0.4 -3.5M112.5 396.8l2.5 0.3M122.2 409.8l-3.3 3.1M118.9 412.9l-1.2 3.0M117.8 415.9l-0.1 2.7M122.2 409.8l-0.0 -3.8M122.2 406.0l-2.5 -2.7M119.7 403.4l-1.2 3.7M122.2 409.8l-1.0 -1.3M121.2 408.5l2.9 0.3M124.1 408.8l3.9 0.9M122.2 409.8l4.2 2.0M26.1 417.1l0.2 4.6M26.3 421.7l0.3 4.0M26.6 425.7l-3.4 2.2M26.1 417.1l0.9 -2.4M27.0 414.7l2.0 3.5M29.0 418.3l1.9 3.5M26.1 417.1l-4.3 -1.1M21.7 416.0l-0.4 -4.0M21.3 412.0l0.0 -2.6M26.1 417.1l3.2 -1.2M39.6 413.6l0.3 -3.5M39.9 410.1l-4.0 0.6M35.9 410.7l-3.7 -1.7M39.6 413.6l-1.4 -1.7M38.3 411.9l0.8 2.0M39.1 413.9l1.5 3.8M39.6 413.6l-3.1 3.2M39.6 413.6l4.2 2.1M43.8 415.7l-1.4 3.6M42.5 419.3l-2.8 2.9M51.3 418.8l-3.9 -0.0M47.4 418.7l-2.0 -3.3M45.3 415.5l3.4 -1.8M51.3 418.8l3.8 -0.5M55.1 418.3l-1.0 -0.4M54.0 417.9l3.0 -1.2M51.3 418.8l-0.1 -3.6M51.3 418.8l0.3 4.1M51.5 422.8l1.6 3.2M53.1 426.0l0.9 2.8M62.0 418.7l4.0 -0.4M66.0 418.3l0.4 0.5M66.4 418.8l-3.5 1.5M62.0 418.7l0.7 2.6M62.7 421.3l0.0 -3.5M62.7 417.9l-3.5 -2.1M62.0 418.7l-3.2 2.1M62.0 418.7l-1.5 -4.3M60.5 414.4l-0.7 -3.9M59.8 410.5l0.7 -3.6M72.1 413.9l4.1 -1.2M76.3 412.7l2.1 0.4M78.4 413.1l3.5 1.8M72.1 413.9l-2.7 2.1M69.4 416.0l-0.8 4.0M68.6 420.0l1.8 1.7M72.1 413.9l-2.2 -3.9M70.0 410.1l-3.5 0.9M66.5 410.9l-2.3 3.4M72.1 413.9l0.7 3.0M83.8 410.9l-2.7 3.9M83.8 410.9l-1.6 -3.0M82.2 407.9l-2.9 -1.7M79.3 406.2l-4.1 0.5M83.8 410.9l4.4 1.2M88.2 412.1l2.5 1.8M90.8 413.9l2.1 -0.7M83.8 410.9l-0.1 -2.0M83.7 408.9l1.4 -1.5M85.0 407.4l-1.9 -0.2M99.4 418.9l1.7 -4.1M99.4 418.9l-4.2 -0.7M95.2 418.2l-2.0 0.6M93.2 418.8l-1.5 -2.4M99.4 418.9l2.9 1.9M102.3 420.8l3.2 -2.5M105.5 418.2l-0.2 -0.8M99.4 418.9l-0.4 2.9M99.0 421.7l-0.9 -2.7M98.1 419.0l3.6 -1.4M105.2 417.4l-1.2 -4.2M104.0 413.3l0.8 -0.5M104.8 412.8l-0.2 0.4M105.2 417.4l3.9 1.6M105.2 417.4l0.8 -0.5M106.0 416.9l-2.5 -2.0M103.6 414.8l0.2 -2.8M105.2 417.4l-3.5 3.1M101.7 420.5l-3.1 -0.5M98.5 420.0l0.8 -3.2M117.5 418.4l-1.3 -3.0M117.5 418.4l-2.2 4.1M115.3 422.6l1.3 3.7M116.6 426.3l1.9 -0.0M117.5 418.4l-1.2 -1.7M116.3 416.7l2.8 -2.6M119.2 414.2l3.7 -0.1M117.5 418.4l4.7 0.6M122.2 419.1l-0.1 2.8M122.0 421.9l1.0 3.9M5.8 422.6l2.1 1.7M7.9 424.3l0.5 -3.7M8.4 420.7l-0.4 -4.1M5.8 422.6l-4.6 -0.3M1.2 422.3l0.4 -0.8M1.5 421.5l1.6 0.6M5.8 422.6l0.8 2.9M5.8 422.6l1.7 -4.3M7.5 418.4l-1.3 -3.9M6.3 414.5l-0.5 -0.3M27.2 420.5l0.0 0.6M27.2 421.1l-0.5 0.6M26.7 421.6l2.7 -1.4M27.2 420.5l-1.2 -4.4M27.2 420.5l-3.1 3.0M24.1 423.5l-3.0 1.3M21.1 424.8l-0.5 3.3M27.2 420.5l4.3 0.9M31.5 421.3l3.4 -2.1M34.9 419.2l-0.3 -4.1M43.2 422.4l4.6 1.0M47.7 423.4l3.2 2.0M51.0 425.4l1.3 3.1M43.2 422.4l-0.8 -0.9M42.4 421.4l0.7 2.2M43.1 423.7l3.8 -0.6M43.2 422.4l-2.6 3.7M40.5 426.0l0.4 1.7M40.9 427.7l-0.0 -2.6M43.2 422.4l-1.2 -3.8M57.2 426.9l1.8 3.4M59.0 430.3l0.0 2.4M59.1 432.7l2.0 2.7M57.2 426.9l3.3 -1.5M60.5 425.4l0.7 -3.0M61.2 422.3l3.1 -2.2M57.2 426.9l-1.4 -3.6M57.2 426.9l-3.7 1.7M53.5 428.6l-2.4 0.7M51.2 429.2l-1.5 2.1M68.9 423.6l4.2 0.5M68.9 423.6l-3.2 2.6M65.7 426.2l-0.4 0.0M65.3 426.2l1.1 -3.7M68.9 423.6l0.3 1.5M69.2 425.1l-1.4 2.3M67.8 427.4l0.7 2.2M68.9 423.6l-1.3 -4.5M67.6 419.1l0.6 -4.0M68.2 415.1l2.0 -3.6M73.8 424.6l-1.3 -4.2M72.6 420.4l4.1 0.2M76.6 420.6l2.1 1.0M73.8 424.6l-0.5 0.0M73.8 424.6l4.5 0.9M78.3 425.5l3.5 -1.9M81.8 423.6l0.4 -1.8M73.8 424.6l-2.8 3.3M71.1 428.0l0.8 -0.4M71.8 427.5l-1.0 0.9M92.7 429.1l2.5 -3.7M95.2 425.4l-0.1 -3.4M95.1 422.0l2.2 3.4M92.7 429.1l2.7 2.5M92.7 429.1l-1.3 2.8M91.4 431.9l-1.4 -0.7M90.0 431.2l3.1 2.7M92.7 429.1l-3.9 -1.6M88.8 427.5l-0.8 -2.8M88.0 424.7l1.5 -1.8M101.2 423.5l0.4 -4.4M101.6 419.1l3.0 1.3M104.6 420.4l2.6 1.4M101.2 423.5l-3.5 2.3M97.7 425.8l-1.4 3.8M96.3 429.6l-3.0 2.8M101.2 423.5l4.0 2.3M105.3 425.8l2.5 2.7M107.7 428.5l-1.0 -1.8M101.2 423.5l-0.9 -0.2M112.2 428.7l3.1 3.2M115.2 431.8l3.5 -0.8M118.7 431.0l-2.4 -0.7M112.2 428.7l-2.4 1.9M109.8 430.5l-2.4 -1.9M107.4 428.6l-2.5 -3.2M112.2 428.7l2.3 -3.8M112.2 428.7l-3.0 -1.2M109.2 427.4l2.4 0.7M111.6 428.1l3.7 1.9M8.6 435.0l-4.3 -0.6M4.3 434.4l-3.8 -1.2M0.5 433.2l0.6 -4.0M8.6 435.0l3.2 -2.0M11.8 433.1l0.6 1.3M12.4 434.4l3.6 0.9M8.6 435.0l0.3 -2.0M8.6 435.0l0.9 4.6M9.5 439.7l1.6 1.4M11.1 441.0l1.3 -1.7M20.9 434.7l2.2 4.0M23.1 438.7l-3.1 0.6M19.9 439.3l-1.6 2.0M20.9 434.7l-0.2 -0.4M20.7 434.2l3.4 -1.3M24.0 432.9l-1.4 -1.7M20.9 434.7l2.4 -3.6M23.3 431.0l3.0 -2.7M26.3 428.3l2.2 -2.4M20.9 434.7l-4.4 0.1M35.4 433.7l2.9 -2.0M38.4 431.7l0.0 -2.7M38.4 429.0l0.2 -4.0M35.4 433.7l1.3 4.5M36.7 438.2l-1.0 -2.1M35.7 436.1l0.2 3.6M35.4 433.7l0.2 -2.3M35.4 433.7l-4.4 -0.1M31.0 433.6l-3.4 -1.8M27.7 431.8l-3.6 -0.9M52.1 435.1l1.0 -3.9M53.1 431.2l4.0 0.1M57.1 431.3l2.4 2.1M52.1 435.1l-0.1 -1.1M52.0 434.0l0.6 -0.8M52.6 433.2l2.3 -2.8M52.1 435.1l-4.2 1.7M52.1 435.1l3.3 3.3M55.4 438.3l1.9 -1.0M57.3 437.4l-0.8 3.1M54.5 439.2l-1.8 4.4M52.7 443.6l-0.3 -0.7M52.4 442.9l-2.7 -2.0M54.5 439.2l-1.8 -2.7M54.5 439.2l-1.1 -1.9M53.4 437.3l-2.6 -2.2M50.8 435.2l-3.2 -0.1M54.5 439.2l4.7 0.2M59.1 439.4l3.8 0.8M62.9 440.2l1.2 3.0M73.0 436.2l-1.4 1.9M71.6 438.1l-2.9 0.1M68.6 438.2l-1.9 -1.6M73.0 436.2l2.6 -3.8M75.6 432.4l2.0 -1.5M77.6 430.9l-0.0 0.4M73.0 436.2l2.6 3.1M75.5 439.4l-0.9 3.5M74.6 442.9l-3.9 0.4M73.0 436.2l-3.8 -1.2M85.6 430.8l-4.2 2.2M81.4 432.9l-0.1 -1.2M81.4 431.8l2.2 -1.6M85.6 430.8l0.3 -1.9M85.8 428.9l1.5 1.9M87.4 430.8l4.1 -0.1M85.6 430.8l0.4 -3.4M86.0 427.4l2.2 -1.8M88.2 425.5l-1.1 -2.3M85.6 430.8l3.5 3.1M94.1 430.8l-0.2 4.6M93.8 435.4l-2.7 1.3M91.1 436.6l-0.8 1.2M94.1 430.8l1.8 -0.4M95.8 430.4l4.1 -0.3M99.9 430.2l2.7 2.7M94.1 430.8l-4.3 -1.9M89.7 428.9l-3.9 1.2M85.8 430.2l2.9 2.1M94.1 430.8l2.8 -2.3M103.7 432.0l4.6 -0.9M108.3 431.1l3.8 1.5M112.1 432.6l2.4 0.9M103.7 432.0l-2.5 -3.8M101.2 428.2l0.5 -2.9M101.7 425.2l1.6 -3.7M103.7 432.0l-0.7 1.0M103.7 432.0l-1.3 3.7M102.4 435.6l1.2 3.0M103.6 438.7l-0.7 3.6M119.4 435.0l1.1 1.4M120.5 436.4l1.3 -0.1M121.8 436.3l3.8 -1.5M119.4 435.0l3.9 -0.2M123.3 434.8l3.6 1.0M126.9 435.8l0.3 3.6M119.4 435.0l-3.1 3.0M119.4 435.0l-1.9 -4.3M117.4 430.7l-3.4 -1.1M114.0 429.6l-3.9 1.1M7.8 442.8l-2.0 -3.0M5.8 439.7l0.2 -3.8M6.0 435.9l0.0 -4.1M7.8 442.8l-3.3 2.8M7.8 442.8l2.2 -2.4M10.1 440.4l-1.0 3.9M9.1 444.3l-2.0 2.8M7.8 442.8l3.1 2.7M10.9 445.4l2.9 -2.0M13.8 443.5l-0.9 -2.1M14.6 440.9l0.1 4.0M14.6 440.9l-4.2 -0.4M10.4 440.5l-4.1 -0.0M6.3 440.5l-2.5 -1.1M14.6 440.9l3.4 0.2M18.0 441.1l-3.5 2.1M14.4 443.1l-1.4 3.6M14.6 440.9l0.7 -3.7M15.4 437.2l1.4 -3.8M16.8 433.4l2.1 -3.3M31.7 442.6l-0.6 4.7M31.1 447.2l-1.4 3.6M29.7 450.9l-1.0 2.7M31.7 442.6l-3.6 -1.9M31.7 442.6l4.0 -0.9M35.8 441.7l-0.6 -4.0M35.1 437.7l-1.9 -3.4M31.7 442.6l0.2 -1.9M31.9 440.6l-3.2 -1.1M28.7 439.6l-2.8 0.7M39.9 447.7l-1.3 3.9M38.6 451.6l2.2 3.2M40.8 454.8l-0.4 3.9M39.9 447.7l0.9 1.1M40.8 448.9l-3.0 2.5M37.8 451.4l-3.1 2.4M39.9 447.7l-3.5 -3.2M36.4 444.5l-3.6 -1.9M32.8 442.6l-2.4 -0.4M39.9 447.7l3.9 -1.8M54.3 448.3l2.5 4.0M56.8 452.3l3.7 1.1M60.5 453.4l1.7 3.7M54.3 448.3l-3.1 -0.2M51.2 448.1l-3.3 -1.3M48.0 446.8l0.6 1.5M54.3 448.3l2.9 -3.7M54.3 448.3l-2.3 -0.1M52.0 448.2l2.6 1.6M54.6 449.8l-2.3 3.4M67.9 449.8l0.7 -3.8M68.6 446.0l3.1 -0.4M71.6 445.5l1.5 -0.4M67.9 449.8l2.6 -0.3M67.9 449.8l-4.6 0.3M63.3 450.1l-1.9 2.6M61.4 452.7l0.8 3.8M67.9 449.8l1.3 3.8M69.2 453.6l2.3 1.5M71.5 455.1l1.8 1.7M81.1 448.0l2.2 -0.7M83.2 447.3l0.7 -0.4M83.9 446.9l0.9 0.6M81.1 448.0l2.1 -2.7M81.1 448.0l-4.5 -1.2M76.5 446.7l-1.9 -2.6M74.6 444.1l-0.5 -3.4M81.1 448.0l0.3 4.5M81.4 452.5l-0.0 2.3M81.4 454.8l2.6 3.1M88.1 447.0l1.6 4.2M89.7 451.2l3.2 1.6M92.9 452.9l0.6 3.9M88.1 447.0l3.6 -3.0M91.8 444.0l2.3 -0.6M94.1 443.4l3.1 0.3M88.1 447.0l-2.3 0.4M88.1 447.0l-2.9 -1.7M85.2 445.3l1.1 -0.1M86.3 445.2l1.9 1.4M99.2 446.4l4.3 -1.1M103.5 445.3l2.1 -2.5M105.6 442.8l1.5 -3.5M99.2 446.4l-1.7 -3.5M99.2 446.4l-2.8 0.6M96.4 447.0l-1.4 1.8M95.0 448.8l3.3 2.4M99.2 446.4l0.2 4.0M99.3 450.4l3.3 -2.1M102.6 448.4l1.6 1.3M115.1 450.2l4.5 1.5M119.6 451.6l3.1 2.5M122.7 454.2l0.9 3.5M115.1 450.2l-0.1 -4.2M115.1 446.0l-2.3 -3.4M112.8 442.6l-2.2 -2.8M115.1 450.2l-1.9 -0.4M115.1 450.2l-2.5 3.1M112.7 453.3l-2.5 0.0M110.2 453.3l-1.7 -0.3M15.1 457.4l-2.5 4.0M12.6 461.4l2.0 3.6M14.5 464.9l-1.4 3.8M15.1 457.4l2.1 -0.0M15.1 457.4l-2.9 -3.7M12.2 453.7l-1.8 2.5M10.3 456.1l-2.9 -0.3M15.1 457.4l3.3 -0.3M18.3 457.1l3.2 2.4M21.5 459.5l2.3 2.4M40.2 456.3l3.5 -1.3M40.2 456.3l-3.7 1.5M36.5 457.8l-3.4 -0.3M33.1 457.5l1.2 1.9M40.2 456.3l-1.3 -3.7M39.0 452.6l0.1 -3.6M39.0 449.1l-0.7 0.0M40.2 456.3l1.5 3.5M41.7 459.8l3.8 0.2M45.5 460.1l3.8 0.8M45.5 460.0l1.2 -4.0M46.8 456.0l-3.4 -0.7M43.4 455.3l-4.1 -0.3M45.5 460.0l-3.0 -0.9M42.6 459.1l-1.4 -0.2M41.2 458.9l1.8 -3.6M45.5 460.0l-2.1 2.8M43.4 462.8l-3.6 2.0M39.8 464.8l-3.7 1.7M45.5 460.0l3.8 2.2M57.6 451.8l-2.4 3.6M55.2 455.4l-3.4 0.2M51.7 455.7l-3.3 -0.5M57.6 451.8l-2.8 -2.4M57.6 451.8l1.5 -2.8M59.1 449.0l2.4 -3.3M61.5 445.7l0.6 0.1M57.6 451.8l3.7 1.7M61.3 453.5l-1.6 3.7M59.7 457.2l-1.3 3.7M71.4 458.6l4.6 -0.4M76.0 458.2l1.1 -1.0M77.2 457.2l2.7 1.2M71.4 458.6l-2.0 -4.3M69.4 454.4l-2.7 -1.7M66.7 452.6l0.6 -3.9M71.4 458.6l-1.9 2.7M69.5 461.3l-1.3 -1.3M68.1 460.0l-3.9 -0.0M71.4 458.6l-0.7 2.0M78.0 459.0l-3.2 3.3M78.0 459.0l4.3 1.9M82.4 460.9l3.1 2.3M85.5 463.2l-2.2 -2.6M78.0 459.0l-0.9 -1.6M77.1 457.4l-2.8 -1.9M74.3 455.5l-4.0 -0.4M78.0 459.0l-0.3 -3.5M77.8 455.5l-1.1 0.1M76.7 455.6l3.3 -1.7M97.5 452.7l-4.1 -2.3M93.3 450.5l-4.0 -0.1M89.4 450.3l-2.4 2.7M97.5 452.7l-0.3 4.0M97.2 456.8l0.4 3.7M97.5 460.5l-0.6 -0.5M97.5 452.7l1.1 1.0M97.5 452.7l3.4 -2.7M100.8 450.0l1.5 -3.3M102.4 446.7l4.1 0.0M109.2 452.4l-2.2 1.0M106.9 453.4l1.6 -1.6M108.5 451.7l-0.6 0.6M109.2 452.4l-2.2 -3.5M109.2 452.4l4.4 -1.3M113.6 451.1l1.3 -3.9M114.9 447.3l-0.8 -4.0M109.2 452.4l-0.0 3.8M109.1 456.2l-1.5 2.0M107.7 458.3l0.8 2.6M118.3 458.2l-4.4 -1.1M113.8 457.1l-3.8 -0.9M110.1 456.2l-4.0 0.8M118.3 458.2l0.1 4.1M118.3 462.3l4.1 0.0M122.4 462.4l3.9 -0.6M118.3 458.2l1.7 -3.4M120.0 454.8l2.7 1.4M122.7 456.2l1.7 3.6M118.3 458.2l2.7 0.3M10.5 462.1l-2.3 -1.8M8.1 460.3l-3.3 -1.3M4.9 459.0l-2.4 -3.3M10.5 462.1l2.3 -3.5M12.8 458.6l0.5 -4.1M13.3 454.6l-3.7 1.3M10.5 462.1l3.1 3.3M10.5 462.1l-3.1 2.0M7.4 464.0l-2.7 2.8M4.7 466.8l-3.6 1.7M18.1 464.1l-3.2 1.5M14.9 465.6l-3.7 -1.7M11.2 463.9l0.7 -0.7M18.1 464.1l2.6 -3.4M20.7 460.7l0.1 -3.9M20.7 456.8l-1.1 1.0M18.1 464.1l2.8 3.6M18.1 464.1l-2.2 -1.6M15.8 462.5l-2.4 2.5M13.5 464.9l-1.1 0.9M31.0 466.4l1.3 2.8M32.3 469.2l3.4 0.1M35.8 469.3l2.9 2.9M31.0 466.4l-4.7 -0.3M26.3 466.1l3.4 -0.0M29.7 466.1l3.0 -2.7M31.0 466.4l1.6 1.8M32.5 468.2l2.2 2.2M34.8 470.4l-2.0 -2.6M31.0 466.4l1.8 -4.3M42.0 464.3l-1.0 -4.2M41.0 460.1l0.5 2.3M41.6 462.4l-1.8 2.4M42.0 464.3l-4.0 2.0M42.0 464.3l2.0 2.8M44.0 467.1l3.5 2.0M47.5 469.1l2.3 -3.4M42.0 464.3l2.9 -0.6M44.9 463.8l3.2 -0.8M48.2 463.0l1.5 -2.9M56.6 470.2l0.6 2.0M57.3 472.1l3.8 1.4M61.1 473.5l3.3 -0.5M56.6 470.2l-2.7 -3.8M53.9 466.4l0.5 -3.3M54.4 463.1l-1.9 -2.5M56.6 470.2l4.2 -1.3M56.6 470.2l-2.1 3.1M54.6 473.3l-0.4 3.3M54.1 476.5l-1.0 2.8M68.5 470.8l-3.6 0.7M64.9 471.6l0.3 3.5M65.2 475.1l-2.8 -0.7M68.5 470.8l-1.4 -2.9M68.5 470.8l3.6 -2.0M72.1 468.9l0.9 3.0M73.0 471.8l3.1 0.1M68.5 470.8l1.4 4.1M69.8 474.9l0.9 3.0M70.7 478.0l3.2 1.9M77.5 463.2l-4.0 -1.1M77.5 463.2l3.6 -2.3M81.1 460.9l-0.5 -4.1M80.7 456.8l-3.7 -1.5M77.5 463.2l-0.5 -1.2M77.1 462.0l1.7 -2.6M78.8 459.4l3.8 -0.3M77.5 463.2l0.8 4.6M78.3 467.9l0.3 2.0M78.6 469.9l0.3 1.5M88.6 467.2l-2.0 4.2M86.6 471.4l-2.1 3.1M84.6 474.5l-0.0 2.3M88.6 467.2l4.6 0.6M93.2 467.9l2.9 1.7M96.1 469.6l3.5 -1.0M88.6 467.2l-0.5 -2.9M88.1 464.3l2.0 -2.9M90.1 461.4l-2.9 -2.4M88.6 467.2l-2.1 -1.9M105.1 466.3l-3.9 -2.5M101.2 463.8l-0.3 3.4M100.9 467.2l2.1 3.0M105.1 466.3l3.0 -2.7M108.1 463.7l1.1 -2.5M109.1 461.2l0.6 -3.8M105.1 466.3l-1.2 3.7M103.8 470.1l3.5 1.5M107.4 471.5l1.4 1.8M105.1 466.3l2.0 1.5M115.2 466.8l1.5 -2.1M116.6 464.7l-2.1 -3.5M114.5 461.2l-2.1 -3.3M115.2 466.8l3.3 2.9M118.5 469.8l-0.4 4.1M118.1 473.8l3.2 2.2M115.2 466.8l-3.9 2.4M115.2 466.8l-0.9 -3.3M114.3 463.5l-2.0 1.0M112.3 464.6l1.1 -0.2M47.1 474.6l-2.6 -3.9M44.5 470.7l-2.4 -3.3M42.1 467.3l1.3 -3.4M47.1 474.6l3.1 -0.2M50.1 474.4l-0.7 -4.0M49.4 470.4l-2.3 -2.0M47.1 474.6l2.4 0.4M49.4 475.0l2.2 0.8M51.7 475.8l1.0 -3.5M47.1 474.6l-2.8 3.7M60.3 480.6l2.3 2.6M62.5 483.2l0.4 -1.7M62.9 481.5l1.4 2.2M60.3 480.6l-4.5 -0.6M60.3 480.6l0.2 2.2M60.4 482.8l-1.3 2.1M59.2 484.9l2.1 3.3M60.3 480.6l2.1 -4.2M62.3 476.4l3.7 -1.6M66.0 474.8l-0.6 -3.9M73.7 471.7l1.1 -1.9M74.7 469.7l2.2 -2.7M76.9 467.1l1.8 0.5M73.7 471.7l-0.9 4.6M72.8 476.3l-2.8 1.8M70.0 478.1l-3.1 0.4M73.7 471.7l-3.8 -2.1M73.7 471.7l3.6 -0.6M77.3 471.1l3.0 -0.8M80.3 470.4l2.4 2.0M108.6 472.7l3.5 0.3M112.1 472.9l4.0 0.9M116.1 473.8l4.0 -0.2M108.6 472.7l-2.2 -4.2M108.6 472.7l1.8 0.5M110.4 473.1l-1.5 0.5M108.9 473.6l-3.7 1.6M108.6 472.7l-3.1 3.5M105.5 476.1l-0.7 -3.9M104.8 472.3l-1.2 -3.9M115.6 473.4l-2.6 3.3M113.1 476.7l2.1 3.4M115.1 480.0l2.5 -3.2M115.6 473.4l4.1 1.9M119.7 475.3l2.0 2.8M121.7 478.1l3.6 -0.8M115.6 473.4l0.9 -3.6M115.6 473.4l-2.4 -1.6M113.2 471.8l-3.2 -0.6M110.0 471.2l1.0 0.1M57.2 484.8l2.5 -4.0M59.7 480.8l-2.5 -3.2M57.2 477.6l-1.8 -3.4M57.2 484.8l-3.6 -0.5M53.6 484.3l1.2 -3.2M54.8 481.1l-2.9 -2.3M57.2 484.8l2.7 3.6M59.9 488.4l2.4 1.8M62.3 490.1l0.5 -2.8M57.2 484.8l-1.7 0.9" stroke="#686868" stroke-width="1.75" stroke-linecap="round" fill="none"/>
<path d="M28.6 379.1l0.1 1.0M28.6 379.1l0.8 -0.8M28.6 379.1l-1.1 -0.4M28.6 379.1l0.2 0.3M58.1 377.7l0.6 -1.0M58.1 377.7l0.0 0.6M58.1 377.7l-1.1 -0.2M58.1 377.7l0.5 0.7M75.4 377.7l-0.5 1.1M75.4 377.7l0.5 -0.3M75.4 377.7l0.9 0.0M75.4 377.7l-0.8 -0.8M79.8 378.3l0.5 -0.8M79.8 378.3l-0.6 0.8M79.8 378.3l0.8 0.5M79.8 378.3l-0.7 -0.6M99.3 373.2l-0.7 0.8M99.3 373.2l-0.1 -1.0M99.3 373.2l1.1 0.4M99.3 373.2l-0.4 -0.1M107.6 377.0l0.8 -0.7M107.6 377.0l0.1 1.1M107.6 377.0l0.2 0.1M107.6 377.0l-1.1 -0.4M26.5 386.7l-0.2 -1.2M26.5 386.7l0.8 0.1M26.5 386.7l0.4 0.5M26.5 386.7l-1.0 0.6M42.8 380.6l-1.1 0.1M42.8 380.6l0.5 1.1M42.8 380.6l0.0 -0.6M42.8 380.6l0.6 -0.6M50.4 382.2l0.4 -0.8M50.4 382.2l-0.8 0.7M50.4 382.2l0.9 0.7M50.4 382.2l-0.4 -0.6M68.0 382.5l-0.3 -0.5M68.0 382.5l-0.7 -0.3M68.0 382.5l1.1 -0.3M68.0 382.5l-0.0 1.2M73.9 383.4l-0.3 -0.4M73.9 383.4l0.2 1.2M73.9 383.4l-0.8 -0.2M73.9 383.4l1.0 -0.5M90.0 380.5l0.7 -0.0M90.0 380.5l0.6 -0.4M90.0 380.5l-1.0 -0.6M90.0 380.5l-0.3 1.1M97.6 382.0l0.4 0.6M97.6 382.0l-1.1 -0.3M97.6 382.0l0.6 -1.0M97.6 382.0l0.2 0.7M110.5 382.4l1.0 0.5M110.5 382.4l0.2 -1.2M110.5 382.4l-0.9 0.2M110.5 382.4l-0.2 0.5M119.9 385.3l0.2 0.8M119.9 385.3l-0.8 -0.7M119.9 385.3l1.0 -0.6M119.9 385.3l-0.4 0.5M28.3 394.5l-0.1 1.1M28.3 394.5l1.1 -0.2M28.3 394.5l-0.7 -0.1M28.3 394.5l-0.3 -0.8M39.1 391.5l-0.2 -1.0M39.1 391.5l1.2 0.3M39.1 391.5l-0.3 -0.1M39.1 391.5l-0.6 0.9M51.3 397.8l1.1 0.4M51.3 397.8l-0.7 0.8M51.3 397.8l-0.1 -1.0M51.3 397.8l-0.3 -0.1M56.0 397.0l-1.1 0.2M56.0 397.0l0.0 -0.4M56.0 397.0l0.6 1.0M56.0 397.0l0.4 -0.8M67.9 399.1l-0.2 0.4M67.9 399.1l-0.9 0.2M67.9 399.1l0.9 0.6M67.9 399.1l0.2 -1.2M83.7 393.9l0.3 0.2M83.7 393.9l1.0 -0.2M83.7 393.9l-0.7 -0.9M83.7 393.9l-0.6 0.9M89.9 399.2l0.1 1.0M89.9 399.2l0.6 0.1M89.9 399.2l0.5 -0.9M89.9 399.2l-1.1 -0.2M108.3 392.2l0.3 0.7M108.3 392.2l-1.1 0.3M108.3 392.2l-0.0 -1.1M108.3 392.2l0.8 0.1M119.1 392.6l0.9 -0.0M119.1 392.6l0.2 -0.6M119.1 392.6l-0.2 1.1M119.1 392.6l-0.9 -0.5M6.6 408.4l0.1 0.6M6.6 408.4l1.0 -0.6M6.6 408.4l-0.9 -0.7M6.6 408.4l-0.1 0.8M15.6 409.0l1.0 -0.5M15.6 409.0l0.3 0.8M15.6 409.0l-0.5 0.6M15.6 409.0l-0.7 -0.8M24.8 402.6l-0.8 0.9M24.8 402.6l-0.5 -1.0M24.8 402.6l0.8 0.2M24.8 402.6l0.5 0.0M37.0 401.7l0.3 1.1M37.0 401.7l-0.4 -0.5M37.0 401.7l-0.8 0.0M37.0 401.7l0.9 -0.6M53.9 401.2l-1.0 0.3M53.9 401.2l0.4 0.9M53.9 401.2l-0.3 -1.0M53.9 401.2l0.8 -0.3M68.9 409.6l0.4 -0.6M68.9 409.6l0.8 0.8M68.9 409.6l-1.0 0.5M68.9 409.6l-0.1 -0.8M78.7 405.7l-0.4 0.1M78.7 405.7l-0.4 -0.9M78.7 405.7l-0.3 1.0M78.7 405.7l1.2 -0.1M84.0 400.1l0.1 0.1M84.0 400.1l1.0 -0.4M84.0 400.1l-0.9 -0.8M84.0 400.1l-0.2 1.0M102.4 409.5l-1.1 0.4M102.4 409.5l-0.1 -1.1M102.4 409.5l0.5 0.7M102.4 409.5l0.6 -0.0M113.5 404.7l-0.9 0.7M113.5 404.7l0.9 0.3M113.5 404.7l0.4 0.0M113.5 404.7l-0.3 -1.1M122.2 409.8l-0.8 0.8M122.2 409.8l-0.0 -0.9M122.2 409.8l-0.2 -0.3M122.2 409.8l1.1 0.5M26.1 417.1l0.1 1.2M26.1 417.1l0.2 -0.6M26.1 417.1l-1.1 -0.3M26.1 417.1l0.8 -0.3M39.6 413.6l0.1 -0.9M39.6 413.6l-0.3 -0.4M39.6 413.6l-0.8 0.8M39.6 413.6l1.1 0.5M51.3 418.8l-1.0 -0.0M51.3 418.8l0.9 -0.1M51.3 418.8l-0.0 -0.9M51.3 418.8l0.1 1.0M62.0 418.7l1.0 -0.1M62.0 418.7l0.2 0.7M62.0 418.7l-0.8 0.5M62.0 418.7l-0.4 -1.1M72.1 413.9l1.0 -0.3M72.1 413.9l-0.7 0.5M72.1 413.9l-0.5 -1.0M72.1 413.9l0.2 0.7M83.8 410.9l-0.7 1.0M83.8 410.9l-0.4 -0.8M83.8 410.9l1.1 0.3M83.8 410.9l-0.0 -0.5M99.4 418.9l0.4 -1.0M99.4 418.9l-1.1 -0.2M99.4 418.9l0.7 0.5M99.4 418.9l-0.1 0.7M105.2 417.4l-0.3 -1.0M105.2 417.4l1.0 0.4M105.2 417.4l0.2 -0.1M105.2 417.4l-0.9 0.8M117.5 418.4l-0.3 -0.8M117.5 418.4l-0.5 1.0M117.5 418.4l-0.3 -0.4M117.5 418.4l1.2 0.2M5.8 422.6l0.5 0.4M5.8 422.6l-1.2 -0.1M5.8 422.6l0.2 0.7M5.8 422.6l0.4 -1.1M27.2 420.5l0.0 0.1M27.2 420.5l-0.3 -1.1M27.2 420.5l-0.8 0.7M27.2 420.5l1.1 0.2M43.2 422.4l1.1 0.3M43.2 422.4l-0.2 -0.2M43.2 422.4l-0.7 0.9M43.2 422.4l-0.3 -0.9M57.2 426.9l0.5 0.9M57.2 426.9l0.8 -0.4M57.2 426.9l-0.3 -0.9M57.2 426.9l-0.9 0.4M68.9 423.6l1.1 0.1M68.9 423.6l-0.8 0.6M68.9 423.6l0.1 0.4M68.9 423.6l-0.3 -1.1M73.8 424.6l-0.3 -1.1M73.8 424.6l-0.1 0.0M73.8 424.6l1.1 0.2M73.8 424.6l-0.7 0.8M92.7 429.1l0.6 -0.9M92.7 429.1l0.7 0.6M92.7 429.1l-0.3 0.7M92.7 429.1l-1.0 -0.4M101.2 423.5l0.1 -1.1M101.2 423.5l-0.9 0.6M101.2 423.5l1.0 0.6M101.2 423.5l-0.2 -0.1M112.2 428.7l0.8 0.8M112.2 428.7l-0.6 0.5M112.2 428.7l0.6 -1.0M112.2 428.7l-0.8 -0.3M8.6 435.0l-1.1 -0.2M8.6 435.0l0.8 -0.5M8.6 435.0l0.1 -0.5M8.6 435.0l0.2 1.2M20.9 434.7l0.5 1.0M20.9 434.7l-0.1 -0.1M20.9 434.7l0.6 -0.9M20.9 434.7l-1.1 0.0M35.4 433.7l0.7 -0.5M35.4 433.7l0.3 1.1M35.4 433.7l0.0 -0.6M35.4 433.7l-1.1 -0.0M52.1 435.1l0.3 -1.0M52.1 435.1l-0.0 -0.3M52.1 435.1l-1.1 0.4M52.1 435.1l0.8 0.8M54.5 439.2l-0.4 1.1M54.5 439.2l-0.5 -0.7M54.5 439.2l-0.3 -0.5M54.5 439.2l1.2 0.0M73.0 436.2l-0.3 0.5M73.0 436.2l0.7 -1.0M73.0 436.2l0.6 0.8M73.0 436.2l-0.9 -0.3M85.6 430.8l-1.0 0.5M85.6 430.8l0.1 -0.5M85.6 430.8l0.1 -0.9M85.6 430.8l0.9 0.8M94.1 430.8l-0.1 1.1M94.1 430.8l0.4 -0.1M94.1 430.8l-1.1 -0.5M94.1 430.8l0.7 -0.6M103.7 432.0l1.1 -0.2M103.7 432.0l-0.6 -0.9M103.7 432.0l-0.2 0.3M103.7 432.0l-0.3 0.9M119.4 435.0l0.3 0.4M119.4 435.0l1.0 -0.0M119.4 435.0l-0.8 0.8M119.4 435.0l-0.5 -1.1M7.8 442.8l-0.5 -0.8M7.8 442.8l-0.8 0.7M7.8 442.8l0.6 -0.6M7.8 442.8l0.8 0.7M14.6 440.9l0.0 1.0M14.6 440.9l-1.1 -0.1M14.6 440.9l0.8 0.0M14.6 440.9l0.2 -0.9M31.7 442.6l-0.2 1.2M31.7 442.6l-0.9 -0.5M31.7 442.6l1.0 -0.2M31.7 442.6l0.0 -0.5M39.9 447.7l-0.3 1.0M39.9 447.7l0.2 0.3M39.9 447.7l-0.9 -0.8M39.9 447.7l1.0 -0.5M54.3 448.3l0.6 1.0M54.3 448.3l-0.8 -0.1M54.3 448.3l0.7 -0.9M54.3 448.3l-0.6 -0.0M67.9 449.8l0.2 -1.0M67.9 449.8l0.6 -0.1M67.9 449.8l-1.1 0.1M67.9 449.8l0.3 1.0M81.1 448.0l0.5 -0.2M81.1 448.0l0.5 -0.7M81.1 448.0l-1.1 -0.3M81.1 448.0l0.1 1.1M88.1 447.0l0.4 1.1M88.1 447.0l0.9 -0.7M88.1 447.0l-0.6 0.1M88.1 447.0l-0.7 -0.4M99.2 446.4l1.1 -0.3M99.2 446.4l-0.4 -0.9M99.2 446.4l-0.7 0.2M99.2 446.4l0.0 1.0M115.1 450.2l1.1 0.4M115.1 450.2l-0.0 -1.0M115.1 450.2l-0.5 -0.1M115.1 450.2l-0.6 0.8M15.1 457.4l-0.6 1.0M15.1 457.4l0.5 -0.0M15.1 457.4l-0.7 -0.9M15.1 457.4l0.8 -0.1M40.2 456.3l0.9 -0.3M40.2 456.3l-0.9 0.4M40.2 456.3l-0.3 -0.9M40.2 456.3l0.4 0.9M45.5 460.0l0.3 -1.0M45.5 460.0l-0.7 -0.2M45.5 460.0l-0.5 0.7M45.5 460.0l1.0 0.5M57.6 451.8l-0.6 0.9M57.6 451.8l-0.7 -0.6M57.6 451.8l0.4 -0.7M57.6 451.8l0.9 0.4M71.4 458.6l1.2 -0.1M71.4 458.6l-0.5 -1.1M71.4 458.6l-0.5 0.7M71.4 458.6l-0.2 0.5M78.0 459.0l-0.8 0.8M78.0 459.0l1.1 0.5M78.0 459.0l-0.2 -0.4M78.0 459.0l-0.1 -0.9M97.5 452.7l-1.0 -0.6M97.5 452.7l-0.1 1.0M97.5 452.7l0.3 0.2M97.5 452.7l0.8 -0.7M109.2 452.4l-0.6 0.2M109.2 452.4l-0.6 -0.9M109.2 452.4l1.1 -0.3M109.2 452.4l-0.0 1.0M118.3 458.2l-1.1 -0.3M118.3 458.2l0.0 1.0M118.3 458.2l0.4 -0.8M118.3 458.2l0.7 0.1M10.5 462.1l-0.6 -0.4M10.5 462.1l0.6 -0.9M10.5 462.1l0.8 0.8M10.5 462.1l-0.8 0.5M18.1 464.1l-0.8 0.4M18.1 464.1l0.6 -0.9M18.1 464.1l0.7 0.9M18.1 464.1l-0.6 -0.4M31.0 466.4l0.3 0.7M31.0 466.4l-1.2 -0.1M31.0 466.4l0.4 0.4M31.0 466.4l0.5 -1.1M42.0 464.3l-0.2 -1.1M42.0 464.3l-1.0 0.5M42.0 464.3l0.5 0.7M42.0 464.3l0.7 -0.1M56.6 470.2l0.2 0.5M56.6 470.2l-0.7 -1.0M56.6 470.2l1.0 -0.3M56.6 470.2l-0.5 0.8M68.5 470.8l-0.9 0.2M68.5 470.8l-0.4 -0.7M68.5 470.8l0.9 -0.5M68.5 470.8l0.3 1.0M77.5 463.2l-1.0 -0.3M77.5 463.2l0.9 -0.6M77.5 463.2l-0.1 -0.3M77.5 463.2l0.2 1.2M88.6 467.2l-0.5 1.0M88.6 467.2l1.1 0.2M88.6 467.2l-0.1 -0.7M88.6 467.2l-0.5 -0.5M105.1 466.3l-1.0 -0.6M105.1 466.3l0.8 -0.7M105.1 466.3l-0.3 0.9M105.1 466.3l0.5 0.4M115.2 466.8l0.4 -0.5M115.2 466.8l0.8 0.7M115.2 466.8l-1.0 0.6M115.2 466.8l-0.2 -0.8M47.1 474.6l-0.6 -1.0M47.1 474.6l0.8 -0.0M47.1 474.6l0.6 0.1M47.1 474.6l-0.7 0.9M60.3 480.6l0.6 0.6M60.3 480.6l-1.1 -0.1M60.3 480.6l0.0 0.5M60.3 480.6l0.5 -1.1M73.7 471.7l0.3 -0.5M73.7 471.7l-0.2 1.1M73.7 471.7l-1.0 -0.5M73.7 471.7l0.9 -0.1M108.6 472.7l0.9 0.1M108.6 472.7l-0.5 -1.0M108.6 472.7l0.4 0.1M108.6 472.7l-0.8 0.9M115.6 473.4l-0.6 0.8M115.6 473.4l1.0 0.5M115.6 473.4l0.2 -0.9M115.6 473.4l-0.6 -0.4M57.2 484.8l0.6 -1.0M57.2 484.8l-0.9 -0.1M57.2 484.8l0.7 0.9M57.2 484.8l-0.4 0.2" stroke="#a8a860" stroke-width="0.85" stroke-linecap="round" fill="none"/>
<path d="M28.7 380.1l0.3 2.9M29.1 383.0l-0.1 0.7M29.4 378.3l2.4 -2.4M31.8 375.9l-0.2 -0.9M27.5 378.7l-3.3 -1.3M28.8 379.4l0.6 0.8M29.4 380.2l-0.2 -0.9M58.7 376.7l1.8 -3.0M60.6 373.6l0.8 -0.2M58.2 378.2l0.1 1.7M58.3 379.9l0.1 0.9M57.0 377.4l-3.4 -0.7M58.6 378.3l1.4 2.0M60.0 380.4l0.6 0.2M74.9 378.7l-1.5 3.2M73.4 381.9l0.8 0.1M75.9 377.4l1.4 -0.8M77.3 376.5l0.5 -0.6M76.3 377.7l2.6 0.0M78.9 377.7l0.0 0.7M74.6 376.9l-2.4 -2.4M80.3 377.5l1.5 -2.3M81.8 375.2l0.4 0.1M79.2 379.1l-1.9 2.4M80.7 378.8l2.5 1.6M83.2 380.5l0.4 0.3M79.1 377.7l-2.2 -1.7M76.9 376.0l0.0 -0.7M98.6 374.0l-2.1 2.3M96.5 376.3l-0.5 0.8M99.2 372.2l-0.2 -3.1M100.4 373.6l3.3 1.2M103.7 374.8l0.1 -0.1M98.9 373.1l-1.1 -0.4M97.8 372.7l-0.4 -0.3M108.4 376.3l2.4 -2.1M107.6 378.1l0.2 3.2M107.8 381.3l0.4 0.8M107.8 377.0l0.7 0.2M108.5 377.2l-0.2 -0.7M106.5 376.5l-3.3 -1.3M103.2 375.3l0.1 -0.8M26.3 385.6l-0.7 -3.5M25.7 382.1l-0.8 -0.1M27.4 386.9l2.5 0.4M29.8 387.3l-0.6 0.6M26.9 387.2l1.2 1.4M28.1 388.5l-0.6 0.7M25.5 387.3l-3.0 1.7M41.7 380.8l-3.4 0.4M38.3 381.2l-0.5 0.6M43.3 381.7l1.5 3.2M42.9 380.0l0.1 -1.9M43.0 378.1l0.3 0.1M43.4 380.1l1.7 -1.7M45.1 378.3l-0.4 -0.8M50.7 381.4l1.1 -2.4M51.8 379.0l0.1 -0.4M49.5 382.8l-2.5 2.0M47.0 384.9l0.2 -0.8M51.3 382.8l2.7 2.0M54.0 384.9l-0.1 0.3M49.9 381.6l-1.3 -1.7M67.7 382.0l-0.9 -1.5M66.8 380.5l-0.6 -0.7M67.3 382.1l-2.2 -1.0M69.1 382.2l3.3 -1.0M72.4 381.2l0.7 0.6M68.0 383.7l-0.1 3.5M67.8 387.2l0.5 0.8M73.6 382.9l-1.0 -1.3M72.6 381.6l-0.7 0.2M74.1 384.6l0.5 3.5M73.1 383.2l-2.5 -0.6M70.6 382.5l-0.5 -0.1M74.9 382.9l3.0 -1.5M78.0 381.4l0.5 -0.7M90.7 380.4l2.1 -0.1M90.6 380.0l1.7 -1.3M92.3 378.7l0.9 -0.1M89.0 379.8l-2.9 -1.9M86.1 377.9l-0.7 -0.5M89.7 381.6l-0.9 3.4M88.8 384.9l-0.9 0.1M97.9 382.6l1.1 1.7M99.0 384.3l0.7 -0.2M96.4 381.8l-3.4 -0.8M93.0 381.0l-0.3 -0.7M98.2 381.0l1.9 -3.0M100.0 378.1l-0.3 -0.8M97.7 382.7l0.5 2.1M111.5 382.9l2.9 1.5M114.4 384.4l0.9 0.1M110.7 381.3l0.5 -3.5M111.2 377.8l0.4 -0.0M109.6 382.6l-2.8 0.6M110.3 382.9l-0.6 1.5M109.7 384.4l-0.6 0.2M120.2 386.1l0.7 2.5M120.9 388.6l-0.0 0.3M119.1 384.5l-2.4 -2.2M116.7 382.3l0.8 0.4M120.9 384.7l2.9 -1.8M123.9 382.9l-0.1 0.4M119.5 385.8l-1.3 1.5M28.2 395.6l-0.2 3.2M28.0 398.8l0.1 0.6M29.4 394.3l3.3 -0.6M27.5 394.4l-2.2 -0.2M25.3 394.2l-0.6 0.6M27.9 393.7l-0.9 -2.4M27.0 391.3l-0.7 -0.6M38.9 390.5l-0.6 -3.0M40.3 391.8l3.5 0.8M43.7 392.5l0.3 -0.3M38.8 391.4l-1.0 -0.4M37.8 390.9l-0.3 0.5M38.5 392.4l-1.9 2.7M36.7 395.1l-0.3 0.8M52.5 398.2l3.3 1.2M55.8 399.4l-0.3 0.1M50.6 398.6l-2.2 2.3M48.5 400.9l0.7 0.2M51.3 396.8l-0.2 -3.1M51.0 393.6l0.5 -0.6M51.0 397.7l-0.9 -0.4M54.9 397.2l-3.4 0.6M51.5 397.9l-0.8 0.0M56.1 396.7l0.1 -1.1M56.2 395.6l0.8 -0.1M56.7 398.0l1.9 3.0M58.5 401.0l0.8 0.2M56.5 396.2l1.3 -2.5M67.7 399.5l-0.7 1.2M67.0 400.7l-0.8 -0.4M67.0 399.3l-2.8 0.6M64.2 400.0l-0.7 -0.6M68.8 399.7l2.8 1.7M71.7 401.4l0.8 0.2M68.1 398.0l0.6 -3.5M84.0 394.1l0.9 0.7M84.9 394.9l-0.4 0.3M84.7 393.6l2.9 -0.7M87.6 392.9l0.5 -0.1M83.0 392.9l-2.1 -2.8M80.9 390.1l-0.5 -0.5M83.2 394.8l-1.7 2.8M90.0 400.3l0.3 3.0M90.5 399.3l1.7 0.3M92.2 399.7l0.6 0.3M90.4 398.4l1.4 -2.6M91.8 395.7l0.6 -0.6M88.8 399.0l-3.4 -0.7M85.4 398.3l-0.9 0.2M108.6 393.0l0.8 2.1M109.3 395.1l0.5 0.2M107.3 392.5l-3.2 0.9M104.1 393.4l-0.2 0.4M108.3 391.1l-0.1 -3.4M108.2 387.8l0.5 -0.7M109.1 392.4l2.5 0.4M120.0 392.6l2.8 -0.1M119.3 392.0l0.6 -1.9M119.9 390.1l-0.1 -0.4M118.8 393.7l-0.7 3.3M118.1 397.1l0.3 0.8M118.1 392.1l-2.8 -1.4M115.4 390.8l-0.4 -0.5M6.7 408.9l0.4 1.7M7.1 410.6l-0.8 -0.0M7.5 407.7l2.9 -1.9M10.4 405.8l0.5 0.2M5.6 407.7l-2.8 -2.1M2.8 405.6l-0.0 -0.7M6.4 409.2l-0.4 2.4M16.6 408.5l2.9 -1.5M19.5 406.9l0.9 -0.1M15.9 409.8l0.8 2.3M16.7 412.0l0.5 -0.6M15.1 409.6l-1.6 1.8M13.5 411.4l0.3 0.0M14.9 408.2l-2.2 -2.5M24.0 403.4l-2.4 2.6M21.6 406.0l-0.4 0.6M24.3 401.5l-1.6 -3.1M22.7 398.4l0.1 -0.4M25.6 402.8l2.5 0.5M28.2 403.2l-0.2 0.4M25.3 402.6l1.5 0.1M37.4 402.8l0.9 3.3M36.6 401.1l-1.3 -1.6M35.3 399.5l-0.4 0.8M36.2 401.7l-2.4 0.1M33.8 401.8l0.1 0.8M38.0 401.1l2.8 -1.8M40.8 399.3l0.9 0.0M52.9 401.6l-2.9 1.0M54.3 402.1l1.1 2.6M55.4 404.7l0.1 0.8M53.7 400.3l-0.8 -2.9M52.9 397.4l-0.2 0.3M54.8 401.0l2.5 -0.8M57.3 400.2l0.5 -0.0M69.2 409.0l1.1 -1.8M69.7 410.5l2.4 2.5M72.1 412.9l0.8 0.4M67.8 410.2l-3.1 1.6M64.7 411.7l0.2 0.6M68.7 408.9l-0.4 -2.3M68.3 406.6l0.3 -0.6M78.3 405.8l-1.3 0.2M77.0 405.9l-0.9 -0.1M78.2 404.8l-1.3 -2.8M76.9 401.9l-0.1 0.1M78.4 406.7l-0.9 2.9M79.9 405.6l3.5 -0.2M83.4 405.4l0.5 -0.2M84.1 400.2l0.2 0.4M84.3 400.6l0.2 -0.8M85.0 399.7l3.1 -1.3M83.1 399.3l-2.6 -2.3M80.5 397.1l0.5 0.4M83.8 401.1l-0.7 3.1M83.1 404.3l-0.3 0.4M101.3 409.9l-3.3 1.2M102.3 408.4l-0.2 -3.3M102.1 405.1l-0.8 0.1M102.9 410.2l1.6 2.2M104.5 412.3l0.8 0.3M103.0 409.4l1.8 -0.1M104.8 409.3l0.5 -0.1M112.6 405.4l-2.7 2.2M109.9 407.6l-0.6 0.5M114.4 405.0l2.6 1.0M117.0 406.1l-0.3 0.4M113.9 404.7l1.2 0.0M113.2 403.6l-1.0 -3.3M112.2 400.3l0.1 -0.8M121.4 410.6l-2.4 2.3M118.9 412.9l-0.3 0.7M122.2 408.9l-0.0 -2.8M122.2 406.0l-0.6 -0.6M122.0 409.5l-0.7 -1.0M121.2 408.5l0.6 0.1M123.3 410.3l3.2 1.5M26.1 418.3l0.2 3.5M26.3 421.7l0.1 0.9M26.3 416.5l0.7 -1.8M27.0 414.7l0.4 0.8M25.0 416.8l-3.2 -0.8M21.7 416.0l-0.1 -0.9M26.8 416.8l2.4 -0.9M39.7 412.7l0.2 -2.7M39.9 410.1l-0.9 0.1M39.3 413.2l-1.0 -1.3M38.3 411.9l0.2 0.4M38.8 414.4l-2.4 2.4M40.7 414.1l3.2 1.5M43.8 415.7l-0.3 0.8M50.3 418.8l-2.9 -0.0M47.4 418.7l-0.5 -0.7M52.2 418.7l2.8 -0.3M55.1 418.3l-0.2 -0.1M51.2 417.9l-0.1 -2.7M51.3 419.8l0.2 3.1M51.5 422.8l0.4 0.7M63.0 418.6l3.0 -0.3M66.0 418.3l0.1 0.1M62.2 419.4l0.5 2.0M62.7 421.3l0.0 -0.8M61.2 419.2l-2.4 1.5M61.6 417.6l-1.1 -3.2M60.5 414.4l-0.1 -0.9M73.2 413.6l3.1 -0.9M76.3 412.7l0.5 0.1M71.5 414.4l-2.0 1.6M69.4 416.0l-0.2 0.9M71.6 413.0l-1.6 -2.9M70.0 410.1l-0.8 0.2M72.3 414.7l0.6 2.2M83.1 411.9l-2.0 2.9M83.4 410.2l-1.2 -2.3M82.2 407.9l-0.6 -0.4M84.9 411.2l3.3 0.9M88.2 412.1l0.6 0.4M83.7 410.4l-0.1 -1.5M83.7 408.9l0.3 -0.3M99.8 417.8l1.3 -3.1M98.3 418.7l-3.2 -0.5M95.2 418.2l-0.4 0.1M100.1 419.3l2.2 1.4M102.3 420.8l0.7 -0.6M99.3 419.6l-0.3 2.2M99.0 421.7l-0.2 -0.6M104.9 416.4l-0.9 -3.1M104.0 413.3l0.2 -0.1M106.2 417.8l2.9 1.2M105.4 417.3l0.6 -0.4M106.0 416.9l-0.5 -0.4M104.3 418.2l-2.6 2.3M101.7 420.5l-0.7 -0.1M117.2 417.7l-1.0 -2.3M117.0 419.5l-1.6 3.1M115.3 422.6l0.3 0.8M117.2 418.0l-0.9 -1.3M116.3 416.7l0.6 -0.6M118.7 418.6l3.5 0.5M122.2 419.1l-0.0 0.6M6.3 423.1l1.6 1.3M7.9 424.3l0.1 -0.8M4.6 422.6l-3.5 -0.2M1.2 422.3l0.1 -0.2M6.0 423.4l0.6 2.2M6.2 421.6l1.3 -3.2M7.5 418.4l-0.3 -0.9M27.2 420.6l0.0 0.4M27.2 421.1l-0.1 0.1M26.9 419.4l-0.9 -3.3M26.4 421.2l-2.3 2.2M24.1 423.5l-0.7 0.3M28.3 420.7l3.2 0.6M31.5 421.3l0.8 -0.5M44.3 422.6l3.4 0.8M47.7 423.4l0.7 0.4M43.0 422.1l-0.6 -0.7M42.4 421.4l0.2 0.5M42.5 423.3l-2.0 2.8M40.5 426.0l0.1 0.4M42.9 421.4l-0.9 -2.8M57.7 427.8l1.4 2.6M59.0 430.3l0.0 0.5M58.0 426.5l2.5 -1.2M60.5 425.4l0.2 -0.7M56.9 426.0l-1.0 -2.7M56.3 427.3l-2.8 1.2M53.5 428.6l-0.5 0.2M69.9 423.7l3.2 0.4M68.1 424.2l-2.4 1.9M65.7 426.2l-0.1 0.0M69.0 424.0l0.2 1.1M69.2 425.1l-0.3 0.5M68.6 422.5l-1.0 -3.4M67.6 419.1l0.1 -0.9M73.5 423.6l-0.9 -3.2M72.6 420.4l0.9 0.0M73.7 424.6l-0.4 0.0M74.9 424.8l3.4 0.7M78.3 425.5l0.8 -0.4M73.1 425.5l-2.1 2.5M71.1 428.0l0.2 -0.1M93.3 428.2l1.8 -2.8M95.2 425.4l-0.0 -0.8M93.4 429.7l2.0 1.8M92.4 429.8l-1.0 2.1M91.4 431.9l-0.3 -0.2M91.7 428.7l-2.9 -1.2M88.8 427.5l-0.2 -0.6M101.3 422.4l0.3 -3.3M101.6 419.1l0.7 0.3M100.3 424.1l-2.6 1.7M97.7 425.8l-0.3 0.8M102.2 424.1l3.0 1.7M105.3 425.8l0.5 0.6M101.0 423.4l-0.7 -0.2M112.9 429.4l2.3 2.4M115.2 431.8l0.8 -0.2M111.6 429.1l-1.8 1.4M109.8 430.5l-0.5 -0.4M112.7 427.7l1.7 -2.9M111.4 428.3l-2.3 -0.9M109.2 427.4l0.5 0.1M7.5 434.9l-3.2 -0.5M4.3 434.4l-0.8 -0.3M9.4 434.5l2.4 -1.5M11.8 433.1l0.1 0.3M8.7 434.5l0.2 -1.5M8.8 436.2l0.7 3.5M9.5 439.7l0.4 0.3M21.4 435.7l1.6 3.0M23.1 438.7l-0.7 0.1M20.8 434.6l-0.2 -0.3M20.7 434.2l0.7 -0.3M21.5 433.8l1.8 -2.7M23.3 431.0l0.7 -0.6M19.8 434.7l-3.3 0.0M36.2 433.2l2.2 -1.5M38.4 431.7l0.0 -0.6M35.8 434.8l1.0 3.4M36.7 438.2l-0.2 -0.5M35.5 433.1l0.1 -1.8M34.3 433.7l-3.3 -0.1M31.0 433.6l-0.7 -0.4M52.3 434.1l0.8 -2.9M53.1 431.2l0.9 0.0M52.1 434.8l-0.1 -0.8M52.0 434.0l0.1 -0.2M51.0 435.5l-3.2 1.3M52.9 435.9l2.5 2.5M55.4 438.3l0.4 -0.2M54.0 440.3l-1.3 3.3M52.7 443.6l-0.1 -0.1M54.0 438.6l-1.4 -2.0M54.2 438.8l-0.8 -1.4M53.4 437.3l-0.6 -0.5M55.6 439.3l3.5 0.1M59.1 439.4l0.8 0.2M72.6 436.7l-1.0 1.4M71.6 438.1l-0.6 0.0M73.6 435.3l2.0 -2.9M75.6 432.4l0.4 -0.3M73.6 437.0l1.9 2.4M75.5 439.4l-0.2 0.8M72.0 435.9l-2.8 -0.9M84.5 431.3l-3.1 1.6M81.4 432.9l-0.0 -0.3M85.7 430.3l0.2 -1.4M85.8 428.9l0.3 0.4M85.7 429.9l0.3 -2.6M86.0 427.4l0.5 -0.4M86.5 431.6l2.6 2.4M94.0 432.0l-0.2 3.4M93.8 435.4l-0.6 0.3M94.5 430.7l1.3 -0.3M95.8 430.4l0.9 -0.1M93.0 430.4l-3.2 -1.4M89.7 428.9l-0.9 0.3M94.8 430.2l2.1 -1.7M104.8 431.8l3.4 -0.7M108.3 431.1l0.8 0.3M103.1 431.0l-1.9 -2.8M101.2 428.2l0.1 -0.6M103.5 432.2l-0.6 0.8M103.4 432.9l-1.0 2.7M102.4 435.6l0.3 0.7M119.7 435.4l0.9 1.1M120.5 436.4l0.3 -0.0M120.4 435.0l2.9 -0.1M123.3 434.8l0.8 0.2M118.6 435.8l-2.3 2.3M118.9 433.9l-1.4 -3.2M117.4 430.7l-0.8 -0.2M7.3 442.0l-1.5 -2.3M5.8 439.7l0.0 -0.8M7.0 443.5l-2.5 2.1M8.4 442.2l1.7 -1.8M10.1 440.4l-0.2 0.9M8.6 443.4l2.3 2.0M10.9 445.4l0.6 -0.4M14.6 441.9l0.1 3.0M13.6 440.8l-3.2 -0.3M10.4 440.5l-0.9 -0.0M15.5 440.9l2.5 0.1M18.0 441.1l-0.8 0.5M14.8 440.0l0.6 -2.8M15.4 437.2l0.3 -0.8M31.6 443.7l-0.5 3.5M31.1 447.2l-0.3 0.8M30.8 442.1l-2.7 -1.4M32.7 442.4l3.0 -0.6M35.8 441.7l-0.1 -0.9M31.8 442.1l0.1 -1.4M31.9 440.6l-0.7 -0.2M39.5 448.7l-1.0 2.9M38.6 451.6l0.5 0.7M40.1 448.0l0.7 0.9M40.8 448.9l-0.7 0.6M39.0 446.9l-2.6 -2.4M36.4 444.5l-0.8 -0.4M40.8 447.3l2.9 -1.4M55.0 449.3l1.9 3.0M56.8 452.3l0.8 0.3M53.6 448.2l-2.3 -0.2M51.2 448.1l-0.7 -0.3M55.1 447.4l2.2 -2.8M53.8 448.3l-1.7 -0.1M52.0 448.2l0.6 0.3M68.1 448.8l0.5 -2.9M68.6 446.0l0.7 -0.1M68.5 449.7l1.9 -0.3M66.8 449.9l-3.4 0.2M63.3 450.1l-0.4 0.6M68.2 450.7l1.0 2.9M69.2 453.6l0.5 0.3M81.6 447.8l1.6 -0.5M83.2 447.3l0.1 -0.1M81.6 447.3l1.5 -2.0M80.0 447.7l-3.4 -0.9M76.5 446.7l-0.4 -0.6M81.2 449.1l0.2 3.4M81.4 452.5l-0.0 0.5M88.5 448.1l1.2 3.2M89.7 451.2l0.7 0.4M89.0 446.3l2.7 -2.2M91.8 444.0l0.5 -0.1M87.6 447.1l-1.7 0.3M87.4 446.6l-2.2 -1.3M85.2 445.3l0.2 -0.0M100.3 446.2l3.3 -0.8M103.5 445.3l0.5 -0.6M98.8 445.6l-1.3 -2.6M98.5 446.6l-2.1 0.5M96.4 447.0l-0.3 0.4M99.2 447.4l0.1 3.0M99.3 450.4l0.7 -0.5M116.3 450.5l3.3 1.1M119.6 451.6l0.7 0.6M115.1 449.1l-0.1 -3.1M115.1 446.0l-0.5 -0.7M114.7 450.1l-1.4 -0.3M114.5 450.9l-1.9 2.3M112.7 453.3l-0.5 0.0M14.4 458.4l-1.9 3.0M12.6 461.4l0.4 0.8M15.6 457.4l1.6 -0.0M14.3 456.4l-2.2 -2.8M12.2 453.7l-0.4 0.5M15.9 457.3l2.5 -0.2M18.3 457.1l0.7 0.5M41.1 456.0l2.6 -1.0M39.3 456.7l-2.8 1.1M36.5 457.8l-0.7 -0.1M39.9 455.4l-1.0 -2.8M39.0 452.6l0.0 -0.8M40.6 457.2l1.1 2.6M41.7 459.8l0.8 0.1M45.8 459.0l0.9 -3.0M46.8 456.0l-0.7 -0.2M44.8 459.8l-2.2 -0.7M42.6 459.1l-0.3 -0.0M45.0 460.7l-1.6 2.1M43.4 462.8l-0.8 0.4M46.5 460.6l2.9 1.6M57.0 452.7l-1.8 2.7M55.2 455.4l-0.8 0.1M56.9 451.2l-2.1 -1.8M58.0 451.1l1.1 -2.1M59.1 449.0l0.5 -0.7M58.5 452.2l2.8 1.2M61.3 453.5l-0.4 0.8M72.6 458.5l3.5 -0.3M76.0 458.2l0.3 -0.2M70.9 457.6l-1.5 -3.2M69.4 454.4l-0.6 -0.4M70.9 459.3l-1.4 2.0M69.5 461.3l-0.3 -0.3M71.2 459.1l-0.5 1.5M77.2 459.9l-2.4 2.5M79.1 459.5l3.2 1.4M82.4 460.9l0.7 0.5M77.8 458.6l-0.7 -1.2M77.1 457.4l-0.6 -0.4M78.0 458.2l-0.2 -2.6M77.8 455.5l-0.2 0.0M96.4 452.2l-3.1 -1.7M93.3 450.5l-0.9 -0.0M97.4 453.7l-0.2 3.0M97.2 456.8l0.1 0.8M97.7 453.0l0.8 0.7M98.3 452.0l2.5 -2.0M100.8 450.0l0.3 -0.7M108.6 452.6l-1.7 0.7M106.9 453.4l0.4 -0.4M108.6 451.5l-1.7 -2.6M110.3 452.1l3.3 -0.9M113.6 451.1l0.3 -0.9M109.2 453.4l-0.0 2.9M109.1 456.2l-0.3 0.4M117.2 457.9l-3.3 -0.8M113.8 457.1l-0.8 -0.2M118.3 459.2l0.0 3.1M118.3 462.3l0.9 0.0M118.7 457.3l1.3 -2.5M120.0 454.8l0.6 0.3M118.9 458.3l2.0 0.2M9.9 461.6l-1.7 -1.3M8.1 460.3l-0.7 -0.3M11.0 461.2l1.8 -2.6M12.8 458.6l0.1 -0.9M11.2 462.9l2.3 2.5M9.7 462.6l-2.3 1.5M7.4 464.0l-0.6 0.6M17.3 464.5l-2.4 1.1M14.9 465.6l-0.8 -0.4M18.7 463.2l1.9 -2.6M20.7 460.7l0.0 -0.8M18.8 465.0l2.1 2.7M17.5 463.7l-1.7 -1.2M15.8 462.5l-0.5 0.5M31.3 467.1l1.0 2.1M32.3 469.2l0.8 0.0M29.8 466.3l-3.5 -0.2M26.3 466.1l0.7 -0.0M31.4 466.9l1.2 1.3M32.5 468.2l0.5 0.5M31.4 465.3l1.4 -3.2M41.8 463.3l-0.7 -3.2M41.0 460.1l0.1 0.5M41.0 464.8l-3.0 1.5M42.5 465.0l1.5 2.1M44.0 467.1l0.8 0.4M42.7 464.2l2.2 -0.4M44.9 463.8l0.7 -0.2M56.8 470.6l0.5 1.5M57.3 472.1l0.8 0.3M55.9 469.2l-2.1 -2.9M53.9 466.4l0.1 -0.7M57.7 469.8l3.1 -1.0M56.1 470.9l-1.5 2.3M54.6 473.3l-0.1 0.7M67.6 471.0l-2.7 0.5M64.9 471.6l0.1 0.8M68.1 470.1l-1.1 -2.2M69.4 470.3l2.7 -1.5M72.1 468.9l0.2 0.7M68.8 471.9l1.0 3.1M69.8 474.9l0.2 0.7M76.5 463.0l-3.0 -0.8M78.4 462.6l2.7 -1.7M81.1 460.9l-0.1 -0.9M77.4 462.9l-0.3 -0.9M77.1 462.0l0.4 -0.6M77.7 464.4l0.6 3.5M78.3 467.9l0.1 0.4M88.1 468.3l-1.5 3.1M86.6 471.4l-0.5 0.7M89.8 467.4l3.4 0.5M93.2 467.9l0.6 0.4M88.5 466.5l-0.4 -2.2M88.1 464.3l0.4 -0.6M88.1 466.8l-1.6 -1.4M104.1 465.7l-2.9 -1.9M101.2 463.8l-0.1 0.8M105.8 465.7l2.3 -2.0M108.1 463.7l0.2 -0.5M104.8 467.3l-0.9 2.8M103.8 470.1l0.8 0.3M105.6 466.7l1.5 1.1M115.5 466.3l1.1 -1.6M116.6 464.7l-0.5 -0.8M116.0 467.5l2.5 2.2M118.5 469.8l-0.1 0.9M114.2 467.4l-3.0 1.8M115.0 466.0l-0.6 -2.4M114.3 463.5l-0.4 0.2M46.4 473.6l-1.9 -3.0M44.5 470.7l-0.5 -0.7M47.8 474.5l2.3 -0.1M50.1 474.4l-0.2 -0.9M47.7 474.7l1.8 0.3M49.4 475.0l0.5 0.2M46.4 475.5l-2.1 2.8M60.8 481.3l1.7 1.9M62.5 483.2l0.1 -0.4M59.1 480.5l-3.4 -0.4M60.3 481.2l0.1 1.6M60.4 482.8l-0.3 0.5M60.8 479.6l1.6 -3.2M62.3 476.4l0.8 -0.3M73.9 471.2l0.8 -1.5M74.7 469.7l0.5 -0.6M73.5 472.8l-0.6 3.4M72.8 476.3l-0.6 0.4M72.7 471.2l-2.9 -1.6M74.6 471.5l2.7 -0.4M77.3 471.1l0.7 -0.2M109.5 472.7l2.6 0.2M112.1 472.9l0.9 0.2M108.0 471.6l-1.6 -3.1M109.0 472.8l1.3 0.3M110.4 473.1l-0.3 0.1M107.8 473.5l-2.3 2.6M105.5 476.1l-0.2 -0.8M115.0 474.2l-1.9 2.4M113.1 476.7l0.5 0.7M116.6 473.9l3.0 1.4M119.7 475.3l0.4 0.6M115.9 472.5l0.7 -2.7M115.0 473.0l-1.8 -1.2M113.2 471.8l-0.7 -0.1M57.8 483.8l1.9 -3.0M59.7 480.8l-0.6 -0.7M56.3 484.7l-2.7 -0.4M53.6 484.3l0.3 -0.7M57.9 485.7l2.0 2.7M59.9 488.4l0.5 0.4M56.8 485.0l-1.3 0.7" stroke="#e01818" stroke-width="0.85" stroke-linecap="round" fill="none"/>
<path d="M28.9 383.7l-0.4 2.4M28.5 386.0l-0.9 1.8M27.6 387.8l-0.9 1.8M31.6 375.1l-0.7 -3.1M30.9 371.9l0.5 -0.5M31.4 371.4l0.5 -0.5M29.1 379.4l-0.8 -3.1M28.3 376.3l0.8 0.1M29.2 376.4l0.8 0.1M61.3 373.4l2.7 -0.7M64.1 372.7l0.5 1.7M64.6 374.4l0.5 1.7M58.4 380.8l0.4 3.2M58.8 384.0l0.1 2.0M58.9 386.0l0.1 2.0M60.6 380.6l2.1 0.8M62.7 381.4l-0.2 0.7M62.5 382.0l-0.2 0.7M74.2 382.0l2.7 0.4M76.9 382.4l2.0 -0.2M78.9 382.2l2.0 -0.2M77.8 375.9l1.8 -2.2M79.6 373.7l1.4 1.2M81.0 374.9l1.4 1.2M78.9 378.4l0.1 2.5M79.0 380.9l0.4 0.9M79.5 381.8l0.4 0.9M82.3 375.3l1.5 0.3M83.8 375.6l0.4 1.6M84.1 377.2l0.4 1.6M83.6 380.8l1.4 1.1M85.0 381.9l-0.7 -1.6M84.3 380.3l-0.7 -1.6M77.0 375.3l0.0 -2.5M77.0 372.8l-0.3 1.5M76.7 374.3l-0.3 1.5M96.0 377.1l-1.6 2.7M94.4 379.8l-1.3 1.5M93.1 381.3l-1.3 1.5M103.8 374.7l0.5 -0.3M104.3 374.4l1.0 1.1M105.3 375.5l1.0 1.1M97.4 372.4l-1.5 -1.0M95.9 371.4l0.6 -1.1M96.5 370.3l0.6 -1.1M108.2 382.1l1.4 2.9M109.6 385.0l-1.4 0.7M108.3 385.7l-1.4 0.7M108.3 376.5l-0.8 -2.4M107.5 374.1l0.4 -0.9M107.8 373.3l0.4 -0.9M103.3 374.4l0.4 -2.9M103.7 371.5l1.8 -0.4M105.5 371.1l1.8 -0.4M24.9 382.0l-2.8 -0.3M22.1 381.7l-1.4 1.3M20.7 383.0l-1.4 1.3M29.2 388.0l-2.3 2.2M26.9 390.2l1.8 0.8M28.7 391.0l1.8 0.8M27.5 389.2l-2.1 2.4M25.3 391.6l-1.2 -0.1M24.1 391.5l-1.2 -0.1M37.8 381.9l-1.9 2.3M35.9 384.2l0.3 1.1M36.2 385.3l0.3 1.1M43.3 378.2l1.0 0.3M44.2 378.5l2.0 0.0M46.3 378.5l2.0 0.0M44.7 377.5l-1.4 -2.9M43.3 374.7l-0.7 -0.0M42.6 374.6l-0.7 -0.0M51.9 378.6l0.5 -1.3M52.5 377.4l1.6 -0.2M54.0 377.2l1.6 -0.2M47.2 384.1l0.8 -2.7M48.0 381.4l0.4 -2.0M48.4 379.4l0.4 -2.0M53.9 385.1l-0.2 0.9M53.8 386.0l1.4 1.4M55.1 387.5l1.4 1.4M66.2 379.8l-2.1 -2.4M64.1 377.5l-1.3 1.2M62.8 378.6l-1.3 1.2M73.1 381.7l2.5 2.0M75.5 383.7l0.7 1.3M76.3 385.1l0.7 1.3M68.3 387.9l1.6 2.7M69.9 390.6l2.0 0.6M71.9 391.2l2.0 0.6M71.9 381.8l-2.6 0.9M69.3 382.7l-2.0 -0.4M67.3 382.3l-2.0 -0.4M70.1 382.5l-1.8 -0.3M68.3 382.2l0.3 -1.6M68.6 380.6l0.3 -1.6M78.5 380.7l1.9 -2.6M80.4 378.1l-1.6 -0.8M78.8 377.3l-1.6 -0.8M93.1 378.6l3.1 -0.5M96.2 378.1l-0.6 -1.2M95.6 376.9l-0.6 -1.2M85.4 377.4l-2.5 -1.9M82.9 375.5l0.1 -1.5M83.0 373.9l0.1 -1.5M87.9 385.1l-3.2 0.4M84.7 385.4l-1.3 0.9M83.5 386.3l-1.3 0.9M99.6 384.0l2.4 -0.8M102.0 383.3l1.0 -1.5M103.0 381.8l1.0 -1.5M92.6 380.3l-1.1 -2.5M91.5 377.8l-1.6 -1.3M89.9 376.5l-1.6 -1.3M99.7 377.3l-1.1 -2.7M98.6 374.5l-1.3 0.3M97.3 374.9l-1.3 0.3M115.3 384.5l3.1 0.3M118.4 384.8l1.4 1.1M119.8 385.9l1.4 1.1M111.6 377.8l1.4 -0.0M113.0 377.7l-0.3 1.9M112.7 379.6l-0.3 1.9M109.0 384.6l-2.2 0.8M106.8 385.4l-2.0 0.5M104.8 385.9l-2.0 0.5M120.9 388.8l-0.1 0.9M120.9 389.8l-1.1 1.2M119.8 391.0l-1.1 1.2M117.5 382.7l2.9 1.3M120.4 384.0l1.6 0.6M122.0 384.6l1.6 0.6M123.7 383.3l-0.5 1.4M123.2 384.6l-2.0 0.2M121.2 384.9l-2.0 0.2M28.1 399.4l0.5 2.1M28.6 401.5l0.1 1.3M28.7 402.8l0.1 1.3M24.7 394.8l-2.1 2.0M22.7 396.8l-0.6 1.0M22.1 397.8l-0.6 1.0M26.3 390.7l-2.4 -2.0M24.0 388.7l0.3 -1.8M24.2 386.8l0.3 -1.8M44.0 392.3l0.9 -0.9M44.9 391.4l1.2 -0.0M46.1 391.3l1.2 -0.0M37.6 391.5l-1.0 1.9M36.6 393.4l-1.5 1.3M35.1 394.7l-1.5 1.3M36.4 395.8l-1.1 2.7M35.3 398.5l0.5 -0.7M35.8 397.9l0.5 -0.7M55.5 399.5l-1.0 0.3M54.5 399.8l-0.2 -2.0M54.3 397.8l-0.2 -2.0M49.2 401.1l2.6 0.8M51.8 401.9l1.8 -1.1M53.5 400.9l1.8 -1.1M51.5 393.1l1.6 -2.0M53.1 391.1l-1.5 -0.2M51.7 390.9l-1.5 -0.2M50.7 397.9l-3.0 0.1M47.7 398.0l-1.0 1.7M46.8 399.7l-1.0 1.7M57.0 395.5l2.8 -0.5M59.8 395.0l0.1 2.0M59.9 397.0l0.1 2.0M59.4 401.2l3.0 0.7M62.4 401.9l1.0 0.9M63.4 402.8l1.0 0.9M66.2 400.3l-2.7 -1.3M63.5 399.0l-2.0 0.1M61.6 399.1l-2.0 0.1M63.5 399.4l-2.3 -2.0M61.2 397.4l-2.0 -0.2M59.2 397.2l-2.0 -0.2M72.4 401.6l2.7 0.7M75.1 402.3l0.9 1.7M76.0 404.0l0.9 1.7M84.5 395.2l-1.4 1.2M83.1 396.4l-1.4 -0.8M81.6 395.6l-1.4 -0.8M88.2 392.9l1.9 -0.2M90.0 392.6l1.7 0.5M91.7 393.1l1.7 0.5M80.4 389.6l-1.7 -1.8M78.7 387.8l-0.7 -1.1M78.1 386.7l-0.7 -1.1M92.8 400.0l2.2 1.2M95.1 401.2l0.2 -0.3M95.2 401.0l0.2 -0.3M92.5 395.1l2.2 -2.3M94.7 392.8l0.1 -0.0M94.8 392.8l0.1 -0.0M84.5 398.5l-3.1 0.7M81.4 399.2l-1.6 -0.4M79.8 398.7l-1.6 -0.4M109.9 395.3l1.8 0.7M111.7 395.9l0.6 0.9M112.3 396.8l0.6 0.9M103.9 393.8l-0.8 1.3M103.1 395.0l-1.7 0.8M101.4 395.8l-1.7 0.8M108.8 387.1l1.9 -2.5M110.7 384.5l1.1 -0.7M111.9 383.9l1.1 -0.7M119.8 389.7l-0.4 -1.4M119.4 388.2l1.8 -0.8M121.2 387.5l1.8 -0.8M118.4 397.8l1.1 2.7M119.5 400.5l1.5 -0.8M121.0 399.6l1.5 -0.8M114.9 390.3l-1.6 -1.8M113.4 388.5l-1.6 -1.3M111.8 387.2l-1.6 -1.3M6.3 410.6l-2.8 -0.1M3.4 410.4l-1.9 -0.7M1.6 409.7l-1.9 -0.7M10.9 405.9l1.6 0.6M12.5 406.5l1.6 1.1M14.1 407.6l1.6 1.1M2.8 404.9l-0.1 -2.3M2.7 402.6l-0.4 -2.0M2.3 400.6l-0.4 -2.0M20.4 406.8l3.2 -0.4M23.6 406.4l1.7 -0.8M25.3 405.5l1.7 -0.8M17.3 411.4l1.9 -2.3M19.1 409.1l0.3 -2.0M19.5 407.1l0.3 -2.0M13.8 411.4l1.0 0.1M14.8 411.5l1.1 0.9M15.9 412.5l1.1 0.9M21.2 406.6l-1.4 2.2M19.8 408.8l0.3 1.6M20.1 410.4l0.3 1.6M22.9 398.1l0.5 -1.3M23.4 396.8l-0.8 -1.1M22.6 395.6l-0.8 -1.1M28.0 403.7l-0.6 1.5M27.4 405.1l1.0 0.9M28.5 406.0l1.0 0.9M34.9 400.3l-1.3 2.7M33.6 402.9l-1.5 1.1M32.1 404.0l-1.5 1.1M33.9 402.6l0.3 2.8M34.2 405.3l-0.4 1.9M33.8 407.2l-0.4 1.9M41.7 399.3l3.2 0.1M44.9 399.5l0.2 1.5M45.1 401.0l0.2 1.5M55.5 405.5l0.2 3.0M55.7 408.5l-0.9 0.8M54.8 409.3l-0.9 0.8M52.7 397.7l-0.8 1.1M51.9 398.8l-1.4 1.5M50.5 400.3l-1.4 1.5M57.8 400.1l1.8 -0.2M59.6 400.0l0.7 1.7M60.4 401.7l0.7 1.7M72.8 413.3l2.8 1.4M75.6 414.8l1.6 -0.5M77.2 414.3l1.6 -0.5M64.9 412.3l0.6 2.0M65.5 414.3l-0.6 1.4M64.8 415.7l-0.6 1.4M68.7 406.0l1.2 -2.2M69.8 403.8l1.2 -0.1M71.0 403.7l1.2 -0.1M76.2 405.8l-3.0 -0.3M73.1 405.5l-1.4 -1.1M71.8 404.4l-1.4 -1.1M76.8 402.1l-0.3 0.5M76.5 402.5l-1.0 1.2M75.5 403.7l-1.0 1.2M83.9 405.2l1.8 -0.6M85.7 404.7l-0.7 0.1M85.0 404.8l-0.7 0.1M84.4 399.8l0.6 -3.0M85.0 396.8l0.9 -1.7M85.9 395.0l0.9 -1.7M81.0 397.5l1.7 1.4M82.7 399.0l0.6 1.9M83.3 400.8l0.6 1.9M82.8 404.7l-1.0 1.6M81.9 406.3l-1.0 -1.0M80.9 405.3l-1.0 -1.0M101.4 405.3l-2.7 0.5M98.7 405.7l-1.1 -1.5M97.6 404.3l-1.1 -1.5M105.4 412.6l3.0 0.9M108.4 413.5l0.2 0.0M108.6 413.5l0.2 0.0M105.4 409.2l1.8 -0.4M107.2 408.8l0.1 0.0M107.3 408.8l0.1 0.0M109.3 408.1l-2.0 1.7M107.3 409.9l-0.7 0.8M106.6 410.7l-0.7 0.8M116.7 406.5l-0.9 1.3M115.8 407.8l1.0 0.5M116.8 408.2l1.0 0.5M112.3 399.6l0.3 -2.8M112.5 396.8l1.2 0.1M113.8 396.9l1.2 0.1M118.7 413.5l-0.9 2.3M117.8 415.9l-0.0 1.4M117.7 417.2l-0.0 1.4M121.6 405.4l-2.0 -2.1M119.7 403.4l-0.6 1.8M119.1 405.2l-0.6 1.8M121.9 408.6l2.2 0.2M124.1 408.8l1.9 0.4M126.1 409.2l1.9 0.4M26.4 422.6l0.3 3.1M26.6 425.7l-1.7 1.1M24.9 426.8l-1.7 1.1M27.4 415.5l1.6 2.8M29.0 418.3l0.9 1.7M29.9 420.0l0.9 1.7M21.6 415.1l-0.3 -3.1M21.3 412.0l0.0 -1.3M21.3 410.7l0.0 -1.3M39.0 410.2l-3.1 0.5M35.9 410.7l-1.9 -0.9M34.0 409.8l-1.9 -0.9M38.4 412.4l0.6 1.5M39.1 413.9l0.8 1.9M39.8 415.8l0.8 1.9M43.5 416.5l-1.1 2.8M42.5 419.3l-1.4 1.5M41.1 420.8l-1.4 1.5M46.9 418.0l-1.6 -2.5M45.3 415.5l1.7 -0.9M47.0 414.6l1.7 -0.9M54.8 418.2l-0.8 -0.3M54.0 417.9l1.5 -0.6M55.6 417.3l1.5 -0.6M51.9 423.5l1.2 2.5M53.1 426.0l0.4 1.4M53.6 427.4l0.4 1.4M66.1 418.4l0.3 0.4M66.4 418.8l-1.8 0.8M64.6 419.6l-1.8 0.8M62.7 420.6l0.0 -2.7M62.7 417.9l-1.8 -1.0M60.9 416.8l-1.8 -1.0M60.3 413.6l-0.5 -3.1M59.8 410.5l0.4 -1.8M60.2 408.7l0.4 -1.8M76.7 412.8l1.7 0.3M78.4 413.1l1.8 0.9M80.2 414.0l1.8 0.9M69.2 416.9l-0.7 3.1M68.6 420.0l0.9 0.9M69.5 420.8l0.9 0.9M69.2 410.3l-2.7 0.7M66.5 410.9l-1.1 1.7M65.4 412.6l-1.1 1.7M81.5 407.5l-2.3 -1.4M79.3 406.2l-2.0 0.2M77.2 406.4l-2.0 0.2M88.8 412.5l2.0 1.4M90.8 413.9l1.0 -0.4M91.8 413.5l1.0 -0.4M84.0 408.6l1.1 -1.2M85.0 407.4l-1.0 -0.1M84.1 407.3l-1.0 -0.1M94.7 418.3l-1.5 0.5M93.2 418.8l-0.7 -1.2M92.5 417.6l-0.7 -1.2M103.0 420.2l2.5 -2.0M105.5 418.2l-0.1 -0.4M105.4 417.8l-0.1 -0.4M98.8 421.2l-0.7 -2.1M98.1 419.0l1.8 -0.7M99.9 418.3l1.8 -0.7M104.2 413.2l0.6 -0.4M104.8 412.8l-0.1 0.2M104.7 413.0l-0.1 0.2M105.5 416.4l-1.9 -1.6M103.6 414.8l0.1 -1.4M103.6 413.4l0.1 -1.4M101.0 420.4l-2.4 -0.4M98.5 420.0l0.4 -1.6M99.0 418.4l0.4 -1.6M115.6 423.4l1.0 2.9M116.6 426.3l1.0 -0.0M117.6 426.3l1.0 -0.0M116.9 416.1l2.2 -2.0M119.2 414.2l1.9 -0.1M121.0 414.1l1.9 -0.1M122.1 419.7l-0.1 2.2M122.0 421.9l0.5 1.9M122.5 423.9l0.5 1.9M8.0 423.5l0.4 -2.8M8.4 420.7l-0.2 -2.0M8.2 418.6l-0.2 -2.0M1.2 422.1l0.3 -0.6M1.5 421.5l0.8 0.3M2.3 421.8l0.8 0.3M7.3 417.5l-1.0 -3.0M6.3 414.5l-0.3 -0.2M6.0 414.3l-0.3 -0.2M27.1 421.2l-0.4 0.4M26.7 421.6l1.3 -0.7M28.0 420.9l1.3 -0.7M23.4 423.8l-2.4 1.1M21.1 424.8l-0.2 1.7M20.8 426.5l-0.2 1.7M32.2 420.9l2.7 -1.6M34.9 419.2l-0.2 -2.0M34.7 417.2l-0.2 -2.0M48.4 423.8l2.5 1.6M51.0 425.4l0.7 1.5M51.6 426.9l0.7 1.5M42.6 421.9l0.6 1.7M43.1 423.7l1.9 -0.3M45.0 423.4l1.9 -0.3M40.6 426.4l0.3 1.3M40.9 427.7l-0.0 -1.3M40.9 426.4l-0.0 -1.3M59.0 430.9l0.0 1.9M59.1 432.7l1.0 1.3M60.1 434.1l1.0 1.3M60.7 424.7l0.6 -2.4M61.2 422.3l1.5 -1.1M62.7 421.2l1.5 -1.1M53.0 428.7l-1.8 0.5M51.2 429.2l-0.8 1.1M50.4 430.3l-0.8 1.1M65.6 426.2l-0.3 0.0M65.3 426.2l0.6 -1.9M65.9 424.3l0.6 -1.9M68.9 425.6l-1.1 1.8M67.8 427.4l0.4 1.1M68.1 428.5l0.4 1.1M67.7 418.2l0.5 -3.1M68.2 415.1l1.0 -1.8M69.2 413.3l1.0 -1.8M73.5 420.4l3.2 0.1M76.6 420.6l1.1 0.5M77.7 421.1l1.1 0.5M79.1 425.1l2.7 -1.5M81.8 423.6l0.2 -0.9M81.9 422.7l0.2 -0.9M71.2 427.9l0.6 -0.3M71.8 427.5l-0.5 0.5M71.3 428.0l-0.5 0.5M95.1 424.7l-0.1 -2.7M95.1 422.0l1.1 1.7M96.2 423.6l1.1 1.7M91.1 431.7l-1.1 -0.5M90.0 431.2l1.5 1.3M91.6 432.5l1.5 1.3M88.7 426.9l-0.6 -2.2M88.0 424.7l0.8 -0.9M88.8 423.8l0.8 -0.9M102.3 419.4l2.4 1.0M104.6 420.4l1.3 0.7M105.9 421.1l1.3 0.7M97.4 426.6l-1.1 3.0M96.3 429.6l-1.5 1.4M94.8 431.0l-1.5 1.4M105.8 426.4l1.9 2.1M107.7 428.5l-0.5 -0.9M107.2 427.6l-0.5 -0.9M116.0 431.7l2.7 -0.6M118.7 431.0l-1.2 -0.4M117.6 430.7l-1.2 -0.4M109.2 430.1l-1.8 -1.5M107.4 428.6l-1.2 -1.6M106.2 427.0l-1.2 -1.6M109.7 427.6l1.9 0.5M111.6 428.1l1.8 0.9M113.4 429.0l1.8 0.9M3.5 434.1l-3.0 -0.9M0.5 433.2l0.3 -2.0M0.8 431.2l0.3 -2.0M11.9 433.4l0.5 1.0M12.4 434.4l1.8 0.4M14.2 434.8l1.8 0.4M9.9 440.0l1.3 1.1M11.1 441.0l0.6 -0.8M11.8 440.2l0.6 -0.8M22.4 438.8l-2.4 0.5M19.9 439.3l-0.8 1.0M19.1 440.3l-0.8 1.0M21.4 433.9l2.6 -1.0M24.0 432.9l-0.7 -0.9M23.3 432.1l-0.7 -0.9M23.9 430.4l2.4 -2.1M26.3 428.3l1.1 -1.2M27.4 427.1l1.1 -1.2M38.4 431.1l0.0 -2.1M38.4 429.0l0.1 -2.0M38.5 427.0l0.1 -2.0M36.5 437.7l-0.8 -1.6M35.7 436.1l0.1 1.8M35.9 437.9l0.1 1.8M30.3 433.2l-2.6 -1.4M27.7 431.8l-1.8 -0.4M25.8 431.3l-1.8 -0.4M54.0 431.2l3.1 0.1M57.1 431.3l1.2 1.1M58.3 432.4l1.2 1.1M52.1 433.8l0.5 -0.6M52.6 433.2l1.1 -1.4M53.7 431.8l1.1 -1.4M55.8 438.1l1.5 -0.7M57.3 437.4l-0.4 1.5M56.9 438.9l-0.4 1.5M52.6 443.4l-0.2 -0.5M52.4 442.9l-1.4 -1.0M51.0 441.9l-1.4 -1.0M52.8 436.9l-2.0 -1.7M50.8 435.2l-1.6 -0.1M49.2 435.1l-1.6 -0.1M60.0 439.6l2.9 0.7M62.9 440.2l0.6 1.5M63.5 441.8l0.6 1.5M70.9 438.2l-2.3 0.1M68.6 438.2l-0.9 -0.8M67.7 437.4l-0.9 -0.8M76.0 432.1l1.6 -1.2M77.6 430.9l-0.0 0.2M77.6 431.1l-0.0 0.2M75.3 440.2l-0.7 2.8M74.6 442.9l-1.9 0.2M72.7 443.1l-1.9 0.2M81.4 432.7l-0.0 -0.9M81.4 431.8l1.1 -0.8M82.5 431.0l1.1 -0.8M86.2 429.3l1.2 1.5M87.4 430.8l2.0 -0.1M89.4 430.8l2.0 -0.1M86.5 427.0l1.7 -1.4M88.2 425.5l-0.6 -1.2M87.6 424.4l-0.6 -1.2M93.2 435.6l-2.1 1.0M91.1 436.6l-0.4 0.6M90.7 437.2l-0.4 0.6M96.7 430.4l3.2 -0.2M99.9 430.2l1.4 1.3M101.2 431.5l1.4 1.3M88.9 429.2l-3.0 0.9M85.8 430.2l1.4 1.1M87.3 431.2l1.4 1.1M109.1 431.4l2.9 1.2M112.1 432.6l1.2 0.5M113.3 433.1l1.2 0.5M101.3 427.5l0.4 -2.3M101.7 425.2l0.8 -1.8M102.5 423.4l0.8 -1.8M102.7 436.3l1.0 2.4M103.6 438.7l-0.3 1.8M103.3 440.4l-0.3 1.8M120.8 436.4l1.0 -0.1M121.8 436.3l1.9 -0.7M123.7 435.6l1.9 -0.7M124.1 435.1l2.8 0.8M126.9 435.8l0.2 1.8M127.0 437.6l0.2 1.8M116.7 430.5l-2.7 -0.9M114.0 429.6l-1.9 0.6M112.1 430.1l-1.9 0.6M5.8 438.9l0.1 -3.0M6.0 435.9l0.0 -2.0M6.0 433.9l0.0 -2.0M9.8 441.2l-0.7 3.0M9.1 444.3l-1.0 1.4M8.1 445.7l-1.0 1.4M11.6 445.0l2.2 -1.5M13.8 443.5l-0.4 -1.1M13.4 442.4l-0.4 -1.1M9.5 440.5l-3.2 -0.0M6.3 440.5l-1.3 -0.5M5.1 439.9l-1.3 -0.5M17.2 441.5l-2.8 1.6M14.4 443.1l-0.7 1.8M13.8 444.9l-0.7 1.8M15.7 436.4l1.1 -3.0M16.8 433.4l1.1 -1.6M17.9 431.8l1.1 -1.6M30.8 448.0l-1.1 2.8M29.7 450.9l-0.5 1.4M29.3 452.2l-0.5 1.4M35.6 440.8l-0.5 -3.1M35.1 437.7l-0.9 -1.7M34.2 436.0l-0.9 -1.7M31.2 440.4l-2.5 -0.8M28.7 439.6l-1.4 0.4M27.3 439.9l-1.4 0.4M39.0 452.3l1.8 2.5M40.8 454.8l-0.2 2.0M40.6 456.7l-0.2 2.0M40.1 449.4l-2.4 2.0M37.8 451.4l-1.6 1.2M36.2 452.6l-1.6 1.2M35.6 444.1l-2.8 -1.5M32.8 442.6l-1.2 -0.2M31.6 442.4l-1.2 -0.2M57.6 452.5l2.9 0.9M60.5 453.4l0.9 1.9M61.4 455.3l0.9 1.9M50.5 447.8l-2.6 -1.0M48.0 446.8l0.3 0.7M48.3 447.5l0.3 0.7M52.6 448.6l2.0 1.2M54.6 449.8l-1.1 1.7M53.5 451.5l-1.1 1.7M69.3 445.9l2.4 -0.3M71.6 445.5l0.7 -0.2M72.4 445.3l0.7 -0.2M62.9 450.7l-1.5 2.1M61.4 452.7l0.4 1.9M61.8 454.7l0.4 1.9M69.7 453.9l1.8 1.1M71.5 455.1l0.9 0.8M72.4 455.9l0.9 0.8M83.4 447.2l0.5 -0.3M83.9 446.9l0.4 0.3M84.4 447.2l0.4 0.3M76.1 446.2l-1.5 -2.1M74.6 444.1l-0.3 -1.7M74.4 442.4l-0.3 -1.7M81.4 453.0l-0.0 1.8M81.4 454.8l1.3 1.5M82.7 456.3l1.3 1.5M90.4 451.6l2.5 1.3M92.9 452.9l0.3 2.0M93.2 454.8l0.3 2.0M92.3 443.9l1.8 -0.5M94.1 443.4l1.5 0.1M95.7 443.5l1.5 0.1M85.4 445.3l0.8 -0.1M86.3 445.2l1.0 0.7M87.2 445.9l1.0 0.7M104.0 444.8l1.6 -2.0M105.6 442.8l0.8 -1.8M106.4 441.0l0.8 -1.8M96.1 447.4l-1.1 1.4M95.0 448.8l1.6 1.2M96.6 450.1l1.6 1.2M100.1 450.0l2.5 -1.6M102.6 448.4l0.8 0.7M103.4 449.0l0.8 0.7M120.3 452.2l2.4 2.0M122.7 454.2l0.5 1.7M123.2 455.9l0.5 1.7M114.6 445.2l-1.8 -2.6M112.8 442.6l-1.1 -1.4M111.7 441.2l-1.1 -1.4M112.1 453.3l-1.9 0.0M110.2 453.3l-0.8 -0.2M109.3 453.1l-0.8 -0.2M13.0 462.1l1.5 2.8M14.5 464.9l-0.7 1.9M13.8 466.9l-0.7 1.9M11.8 454.2l-1.4 1.9M10.3 456.1l-1.4 -0.1M8.9 456.0l-1.4 -0.1M19.0 457.6l2.5 1.9M21.5 459.5l1.1 1.2M22.6 460.7l1.1 1.2M35.8 457.8l-2.7 -0.2M33.1 457.5l0.6 0.9M33.7 458.5l0.6 0.9M39.0 451.9l0.1 -2.8M39.0 449.1l-0.3 0.0M38.7 449.1l-0.3 0.0M42.5 459.9l2.9 0.2M45.5 460.1l1.9 0.4M47.4 460.5l1.9 0.4M46.0 455.8l-2.6 -0.6M43.4 455.3l-2.0 -0.2M41.4 455.1l-2.0 -0.2M42.3 459.1l-1.1 -0.1M41.2 458.9l0.9 -1.8M42.1 457.1l0.9 -1.8M42.6 463.3l-2.8 1.5M39.8 464.8l-1.8 0.9M38.0 465.7l-1.8 0.9M54.4 455.5l-2.7 0.2M51.7 455.7l-1.7 -0.3M50.1 455.4l-1.7 -0.3M59.6 448.3l1.8 -2.6M61.5 445.7l0.3 0.1M61.8 445.7l0.3 0.1M61.0 454.3l-1.3 2.9M59.7 457.2l-0.6 1.8M59.1 459.0l-0.6 1.8M76.3 458.0l0.9 -0.8M77.2 457.2l1.4 0.6M78.5 457.8l1.4 0.6M68.8 454.0l-2.1 -1.4M66.7 452.6l0.3 -1.9M67.0 450.7l0.3 -1.9M69.2 461.0l-1.0 -1.0M68.1 460.0l-2.0 -0.0M66.2 460.0l-2.0 -0.0M83.0 461.4l2.5 1.8M85.5 463.2l-1.1 -1.3M84.4 461.9l-1.1 -1.3M76.5 457.0l-2.2 -1.5M74.3 455.5l-2.0 -0.2M72.3 455.3l-2.0 -0.2M77.5 455.5l-0.8 0.1M76.7 455.6l1.6 -0.8M78.3 454.8l1.6 -0.8M92.5 450.4l-3.1 -0.1M89.4 450.3l-1.2 1.4M88.2 451.7l-1.2 1.4M97.3 457.6l0.3 2.9M97.5 460.5l-0.3 -0.3M97.2 460.2l-0.3 -0.3M101.2 449.3l1.2 -2.6M102.4 446.7l2.0 0.0M104.4 446.7l2.0 0.0M107.3 453.0l1.3 -1.3M108.5 451.7l-0.3 0.3M108.2 452.1l-0.3 0.3M113.9 450.3l1.0 -3.0M114.9 447.3l-0.4 -2.0M114.5 445.3l-0.4 -2.0M108.8 456.7l-1.1 1.6M107.7 458.3l0.4 1.3M108.1 459.6l0.4 1.3M113.0 456.9l-2.9 -0.7M110.1 456.2l-2.0 0.4M108.1 456.6l-2.0 0.4M119.2 462.3l3.2 0.0M122.4 462.4l1.9 -0.3M124.3 462.0l1.9 -0.3M120.6 455.1l2.1 1.1M122.7 456.2l0.9 1.8M123.5 458.0l0.9 1.8M7.4 460.0l-2.5 -1.1M4.9 459.0l-1.2 -1.6M3.7 457.3l-1.2 -1.6M12.9 457.7l0.4 -3.2M13.3 454.6l-1.9 0.6M11.4 455.2l-1.9 0.6M6.8 464.7l-2.1 2.2M4.7 466.8l-1.8 0.8M2.9 467.7l-1.8 0.8M14.1 465.2l-2.9 -1.3M11.2 463.9l0.3 -0.4M11.5 463.5l0.3 -0.4M20.7 459.8l0.0 -3.0M20.7 456.8l-0.5 0.5M20.2 457.3l-0.5 0.5M15.3 463.0l-1.9 1.9M13.5 464.9l-0.5 0.5M12.9 465.4l-0.5 0.5M33.1 469.2l2.7 0.1M35.8 469.3l1.4 1.4M37.2 470.8l1.4 1.4M27.0 466.1l2.7 -0.0M29.7 466.1l1.5 -1.4M31.2 464.8l1.5 -1.4M33.0 468.7l1.7 1.8M34.8 470.4l-1.0 -1.3M33.8 469.2l-1.0 -1.3M41.1 460.6l0.4 1.8M41.6 462.4l-0.9 1.2M40.6 463.6l-0.9 1.2M44.8 467.5l2.7 1.6M47.5 469.1l1.1 -1.7M48.7 467.4l1.1 -1.7M45.6 463.6l2.5 -0.6M48.2 463.0l0.8 -1.5M48.9 461.5l0.8 -1.5M58.1 472.4l3.0 1.1M61.1 473.5l1.7 -0.3M62.7 473.2l1.7 -0.3M54.0 465.6l0.4 -2.6M54.4 463.1l-0.9 -1.3M53.5 461.8l-0.9 -1.3M54.5 474.0l-0.3 2.5M54.1 476.5l-0.5 1.4M53.6 477.9l-0.5 1.4M65.0 472.3l0.2 2.7M65.2 475.1l-1.4 -0.3M63.8 474.7l-1.4 -0.3M72.3 469.5l0.7 2.3M73.0 471.8l1.5 0.0M74.5 471.9l1.5 0.0M70.0 475.6l0.7 2.4M70.7 478.0l1.6 0.9M72.3 478.9l1.6 0.9M81.0 460.0l-0.4 -3.2M80.7 456.8l-1.9 -0.7M78.8 456.1l-1.9 -0.7M77.4 461.4l1.3 -2.0M78.8 459.4l1.9 -0.2M80.6 459.2l1.9 -0.2M78.4 468.3l0.2 1.6M78.6 469.9l0.2 0.7M78.8 470.6l0.2 0.7M86.2 472.1l-1.6 2.4M84.6 474.5l-0.0 1.2M84.6 475.7l-0.0 1.2M93.9 468.2l2.2 1.3M96.1 469.6l1.7 -0.5M97.8 469.1l1.7 -0.5M88.6 463.7l1.5 -2.3M90.1 461.4l-1.5 -1.2M88.6 460.2l-1.5 -1.2M101.1 464.6l-0.2 2.7M100.9 467.2l1.0 1.5M102.0 468.7l1.0 1.5M108.3 463.1l0.8 -1.9M109.1 461.2l0.3 -1.9M109.5 459.3l0.3 -1.9M104.6 470.4l2.7 1.1M107.4 471.5l0.7 0.9M108.0 472.5l0.7 0.9M116.2 463.9l-1.6 -2.7M114.5 461.2l-1.1 -1.7M113.5 459.5l-1.1 -1.7M118.4 470.7l-0.3 3.2M118.1 473.8l1.6 1.1M119.7 474.9l1.6 1.1M113.9 463.8l-1.6 0.8M112.3 464.6l0.6 -0.1M112.9 464.5l0.6 -0.1M44.0 469.9l-1.8 -2.6M42.1 467.3l0.7 -1.7M42.8 465.6l0.7 -1.7M50.0 473.5l-0.6 -3.1M49.4 470.4l-1.2 -1.0M48.2 469.4l-1.2 -1.0M49.9 475.2l1.7 0.6M51.7 475.8l0.5 -1.7M52.2 474.0l0.5 -1.7M62.6 482.8l0.3 -1.3M62.9 481.5l0.7 1.1M63.6 482.7l0.7 1.1M60.2 483.3l-1.0 1.6M59.2 484.9l1.0 1.6M60.2 486.5l1.0 1.6M63.1 476.1l2.9 -1.2M66.0 474.8l-0.3 -2.0M65.7 472.9l-0.3 -2.0M75.2 469.1l1.7 -2.1M76.9 467.1l0.9 0.2M77.8 467.3l0.9 0.2M72.2 476.7l-2.2 1.4M70.0 478.1l-1.5 0.2M68.5 478.3l-1.5 0.2M78.0 471.0l2.4 -0.6M80.3 470.4l1.2 1.0M81.5 471.3l1.2 1.0M113.0 473.1l3.1 0.7M116.1 473.8l2.0 -0.1M118.1 473.7l2.0 -0.1M110.0 473.2l-1.1 0.4M108.9 473.6l-1.9 0.8M107.0 474.4l-1.9 0.8M105.3 475.3l-0.5 -3.0M104.8 472.3l-0.6 -1.9M104.2 470.3l-0.6 -1.9M113.5 477.4l1.6 2.6M115.1 480.0l1.2 -1.6M116.4 478.4l1.2 -1.6M120.1 476.0l1.6 2.2M121.7 478.1l1.8 -0.4M123.5 477.7l1.8 -0.4M112.5 471.7l-2.5 -0.5M110.0 471.2l0.5 0.1M110.5 471.2l0.5 0.1M59.2 480.1l-2.0 -2.5M57.2 477.6l-0.9 -1.7M56.3 475.9l-0.9 -1.7M53.9 483.6l0.9 -2.5M54.8 481.1l-1.5 -1.1M53.3 480.0l-1.5 -1.1M60.4 488.8l1.8 1.4M62.3 490.1l0.2 -1.4M62.5 488.8l0.2 -1.4" stroke="#b8b8b8" stroke-width="0.85" stroke-linecap="round" fill="none"/>
<path d="M53.6 376.7h0M72.2 374.5h0M77.3 381.5h0M96.5 376.3h0M99.0 369.0h0M103.7 374.8h0M107.8 381.3h0M103.2 375.3h0M29.8 387.3h0M28.1 388.5h0M38.3 381.2h0M44.8 384.8h0M51.8 379.0h0M66.8 380.5h0M74.5 388.0h0M70.6 382.5h0M78.0 381.4h0M92.8 380.3h0M92.3 378.7h0M86.1 377.9h0M99.0 384.3h0M100.0 378.1h0M98.3 384.8h0M106.8 383.2h0M116.7 382.3h0M118.2 387.3h0M25.3 394.2h0M38.3 387.6h0M37.8 390.9h0M36.7 395.1h0M55.8 399.4h0M51.0 393.6h0M58.5 401.0h0M57.8 393.7h0M71.7 401.4h0M80.9 390.1h0M90.3 403.3h0M92.2 399.7h0M109.3 395.1h0M111.6 392.7h0M122.8 392.5h0M119.9 390.1h0M118.1 397.1h0M115.4 390.8h0M2.8 405.6h0M6.0 411.5h0M13.5 411.4h0M12.7 405.7h0M38.3 406.1h0M33.8 401.8h0M55.4 404.7h0M64.7 411.7h0M77.0 405.9h0M77.5 409.6h0M104.8 409.3h0M109.9 407.6h0M117.0 406.1h0M115.1 404.7h0M126.5 411.9h0M26.3 421.7h0M27.0 414.7h0M39.9 410.1h0M51.1 415.2h0M66.0 418.3h0M76.3 412.7h0M81.1 414.8h0M88.2 412.1h0M104.0 413.3h0M116.2 415.4h0M27.2 421.1h0M42.0 418.6h0M72.6 420.4h0M73.3 424.7h0M95.2 425.4h0M88.8 427.5h0M97.7 425.8h0M105.3 425.8h0M100.3 423.3h0M115.2 431.8h0M109.8 430.5h0M114.5 424.8h0M109.2 427.4h0M11.8 433.1h0M23.1 438.7h0M23.3 431.0h0M16.5 434.7h0M38.4 431.7h0M36.7 438.2h0M35.6 431.4h0M53.1 431.2h0M52.0 434.0h0M55.4 438.3h0M52.6 436.6h0M75.6 432.4h0M81.4 432.9h0M85.8 428.9h0M96.8 428.5h0M101.2 428.2h0M103.0 433.0h0M123.3 434.8h0M5.8 439.7h0M10.1 440.4h0M10.9 445.4h0M10.4 440.5h0M28.1 440.7h0M38.6 451.6h0M40.8 448.9h0M56.8 452.3h0M57.2 444.6h0M70.5 449.4h0M83.2 447.3h0M76.5 446.7h0M91.8 444.0h0M85.8 447.4h0M85.2 445.3h0M97.5 443.0h0M112.7 453.3h0M17.2 457.4h0M18.3 457.1h0M43.7 455.1h0M41.7 459.8h0M43.4 462.8h0M49.4 462.2h0M76.0 458.2h0M93.3 450.5h0M97.2 456.8h0M100.8 450.0h0M106.9 453.4h0M113.6 451.1h0M120.0 454.8h0M12.8 458.6h0M20.7 460.7h0M20.9 467.7h0M26.3 466.1h0M32.5 468.2h0M44.0 467.1h0M54.6 473.3h0M67.1 467.9h0M81.1 460.9h0M77.1 462.0h0M86.6 471.4h0M88.1 464.3h0M86.5 465.4h0M108.1 463.7h0M103.8 470.1h0M107.1 467.8h0M116.6 464.7h0M118.5 469.8h0M50.1 474.4h0M44.2 478.3h0M62.3 476.4h0M74.7 469.7h0M69.8 469.6h0M113.1 476.7h0M116.5 469.8h0M53.6 484.3h0M59.9 488.4h0M55.5 485.7h0" stroke="#900000" stroke-width="3.0" stroke-linecap="round" fill="none"/>
<path d="M53.6 376.7h0M72.2 374.5h0M77.3 381.5h0M96.5 376.3h0M99.0 369.0h0M103.7 374.8h0M107.8 381.3h0M103.2 375.3h0M29.8 387.3h0M28.1 388.5h0M38.3 381.2h0M44.8 384.8h0M51.8 379.0h0M66.8 380.5h0M74.5 388.0h0M70.6 382.5h0M78.0 381.4h0M92.8 380.3h0M92.3 378.7h0M86.1 377.9h0M99.0 384.3h0M100.0 378.1h0M98.3 384.8h0M106.8 383.2h0M116.7 382.3h0M118.2 387.3h0M25.3 394.2h0M38.3 387.6h0M37.8 390.9h0M36.7 395.1h0M55.8 399.4h0M51.0 393.6h0M58.5 401.0h0M57.8 393.7h0M71.7 401.4h0M80.9 390.1h0M90.3 403.3h0M92.2 399.7h0M109.3 395.1h0M111.6 392.7h0M122.8 392.5h0M119.9 390.1h0M118.1 397.1h0M115.4 390.8h0M2.8 405.6h0M6.0 411.5h0M13.5 411.4h0M12.7 405.7h0M38.3 406.1h0M33.8 401.8h0M55.4 404.7h0M64.7 411.7h0M77.0 405.9h0M77.5 409.6h0M104.8 409.3h0M109.9 407.6h0M117.0 406.1h0M115.1 404.7h0M126.5 411.9h0M26.3 421.7h0M27.0 414.7h0M39.9 410.1h0M51.1 415.2h0M66.0 418.3h0M76.3 412.7h0M81.1 414.8h0M88.2 412.1h0M104.0 413.3h0M116.2 415.4h0M27.2 421.1h0M42.0 418.6h0M72.6 420.4h0M73.3 424.7h0M95.2 425.4h0M88.8 427.5h0M97.7 425.8h0M105.3 425.8h0M100.3 423.3h0M115.2 431.8h0M109.8 430.5h0M114.5 424.8h0M109.2 427.4h0M11.8 433.1h0M23.1 438.7h0M23.3 431.0h0M16.5 434.7h0M38.4 431.7h0M36.7 438.2h0M35.6 431.4h0M53.1 431.2h0M52.0 434.0h0M55.4 438.3h0M52.6 436.6h0M75.6 432.4h0M81.4 432.9h0M85.8 428.9h0M96.8 428.5h0M101.2 428.2h0M103.0 433.0h0M123.3 434.8h0M5.8 439.7h0M10.1 440.4h0M10.9 445.4h0M10.4 440.5h0M28.1 440.7h0M38.6 451.6h0M40.8 448.9h0M56.8 452.3h0M57.2 444.6h0M70.5 449.4h0M83.2 447.3h0M76.5 446.7h0M91.8 444.0h0M85.8 447.4h0M85.2 445.3h0M97.5 443.0h0M112.7 453.3h0M17.2 457.4h0M18.3 457.1h0M43.7 455.1h0M41.7 459.8h0M43.4 462.8h0M49.4 462.2h0M76.0 458.2h0M93.3 450.5h0M97.2 456.8h0M100.8 450.0h0M106.9 453.4h0M113.6 451.1h0M120.0 454.8h0M12.8 458.6h0M20.7 460.7h0M20.9 467.7h0M26.3 466.1h0M32.5 468.2h0M44.0 467.1h0M54.6 473.3h0M67.1 467.9h0M81.1 460.9h0M77.1 462.0h0M86.6 471.4h0M88.1 464.3h0M86.5 465.4h0M108.1 463.7h0M103.8 470.1h0M107.1 467.8h0M116.6 464.7h0M118.5 469.8h0M50.1 474.4h0M44.2 478.3h0M62.3 476.4h0M74.7 469.7h0M69.8 469.6h0M113.1 476.7h0M116.5 469.8h0M53.6 484.3h0M59.9 488.4h0M55.5 485.7h0" stroke="#ee1515" stroke-width="2.25" stroke-linecap="round" fill="none"/>
<path d="M28.6 379.1h0M58.1 377.7h0M75.4 377.7h0M79.8 378.3h0M99.3 373.2h0M107.6 377.0h0M26.5 386.7h0M42.8 380.6h0M50.4 382.2h0M68.0 382.5h0M73.9 383.4h0M90.0 380.5h0M97.6 382.0h0M110.5 382.4h0M119.9 385.3h0M28.3 394.5h0M39.1 391.5h0M51.3 397.8h0M56.0 397.0h0M67.9 399.1h0M83.7 393.9h0M89.9 399.2h0M108.3 392.2h0M119.1 392.6h0M6.6 408.4h0M15.6 409.0h0M24.8 402.6h0M37.0 401.7h0M53.9 401.2h0M68.9 409.6h0M78.7 405.7h0M84.0 400.1h0M102.4 409.5h0M113.5 404.7h0M122.2 409.8h0M26.1 417.1h0M39.6 413.6h0M51.3 418.8h0M62.0 418.7h0M72.1 413.9h0M83.8 410.9h0M99.4 418.9h0M105.2 417.4h0M117.5 418.4h0M5.8 422.6h0M27.2 420.5h0M43.2 422.4h0M57.2 426.9h0M68.9 423.6h0M73.8 424.6h0M92.7 429.1h0M101.2 423.5h0M112.2 428.7h0M8.6 435.0h0M20.9 434.7h0M35.4 433.7h0M52.1 435.1h0M54.5 439.2h0M73.0 436.2h0M85.6 430.8h0M94.1 430.8h0M103.7 432.0h0M119.4 435.0h0M7.8 442.8h0M14.6 440.9h0M31.7 442.6h0M39.9 447.7h0M54.3 448.3h0M67.9 449.8h0M81.1 448.0h0M88.1 447.0h0M99.2 446.4h0M115.1 450.2h0M15.1 457.4h0M40.2 456.3h0M45.5 460.0h0M57.6 451.8h0M71.4 458.6h0M78.0 459.0h0M97.5 452.7h0M109.2 452.4h0M118.3 458.2h0M10.5 462.1h0M18.1 464.1h0M31.0 466.4h0M42.0 464.3h0M56.6 470.2h0M68.5 470.8h0M77.5 463.2h0M88.6 467.2h0M105.1 466.3h0M115.2 466.8h0M47.1 474.6h0M60.3 480.6h0M73.7 471.7h0M108.6 472.7h0M115.6 473.4h0M57.2 484.8h0" stroke="#8a8a4a" stroke-width="2.2" stroke-linecap="round" fill="none"/>
<path d="M379.6 370.2l0.0 1.8M379.6 370.2l0.0 0.7M379.6 370.2l-1.9 -1.2M379.0 374.2l-2.2 0.1M379.0 374.2l1.4 0.9M379.0 374.2l0.2 1.2M388.5 361.5l-0.9 -1.8M388.5 361.5l0.5 1.7M388.5 361.5l1.9 -0.6M390.0 357.9l-2.1 -0.2M390.0 357.9l0.2 -1.5M390.0 357.9l1.6 -0.4M383.9 359.1l-1.2 -1.9M383.9 359.1l1.6 -0.5M383.9 359.1l-1.4 1.6M380.2 360.5l1.1 2.0M380.2 360.5l-2.3 0.3M380.2 360.5l0.6 -1.6M391.9 376.5l0.1 2.0M391.9 376.5l-1.7 -1.3M391.9 376.5l-0.3 0.4M393.1 379.8l0.4 2.3M393.1 379.8l-1.3 -0.3M393.1 379.8l2.0 -1.1M391.9 378.2l-1.1 -1.4M391.9 378.2l-0.3 2.2M391.9 378.2l-0.8 -0.2M391.4 381.4l-0.1 0.8M391.4 381.4l-0.5 1.7M391.4 381.4l2.1 -0.8M401.3 374.3l0.0 2.2M401.3 374.3l-1.6 -0.3M401.3 374.3l2.1 -0.5M403.5 375.7l-0.5 -0.1M403.5 375.7l1.0 -2.0M403.5 375.7l1.5 1.7M410.6 363.1l-2.0 -1.0M410.6 363.1l-0.1 1.2M410.6 363.1l1.6 -1.6M412.2 364.1l2.2 0.5M412.2 364.1l-0.9 1.4M412.2 364.1l-0.2 -2.2M402.4 356.9l-0.8 0.9M402.4 356.9l-1.5 0.4M402.4 356.9l0.3 -2.3M404.4 353.3l-1.9 -1.2M404.4 353.3l1.4 -0.7M404.4 353.3l1.0 -0.3M406.8 367.3l-1.4 1.8M406.8 367.3l2.2 0.8M406.8 367.3l-0.6 -1.1M409.1 365.8l-0.7 -2.2M409.1 365.8l2.0 0.2M409.1 365.8l-1.6 1.4M471.9 377.0l-0.6 -0.2M471.9 377.0l2.3 0.3M471.9 377.0l-1.1 1.8M475.2 378.2l0.0 1.0M475.2 378.2l1.6 0.9M475.2 378.2l-2.1 0.3M463.2 372.5l1.3 -1.3M463.2 372.5l-0.6 1.9M463.2 372.5l-1.9 -1.2M461.9 372.3l1.3 -1.9M461.9 372.3l-2.0 -0.2M461.9 372.3l1.1 1.9M460.6 375.9l1.5 1.3M460.6 375.9l-0.7 1.1M460.6 375.9l-1.8 -0.5M459.8 376.1l-1.5 1.0M459.8 376.1l1.3 1.6M459.8 376.1l-1.2 -1.1M394.1 385.0l0.5 2.0M394.1 385.0l-1.7 0.4M394.1 385.0l1.9 -0.8M394.9 386.5l-0.9 0.3M394.9 386.5l-0.9 1.6M394.9 386.5l2.3 0.2M399.2 382.9l-1.5 0.2M399.2 382.9l1.4 1.8M399.2 382.9l1.2 -1.9M403.0 382.6l-1.0 -2.0M403.0 382.6l0.3 0.1M403.0 382.6l2.1 0.2M389.0 387.8l0.3 1.6M389.0 387.8l-2.1 -0.9M389.0 387.8l0.3 0.9M385.4 389.1l1.0 1.8M385.4 389.1l-2.3 0.2M385.4 389.1l0.7 -2.0M399.5 380.4l-0.5 -1.3M399.5 380.4l1.0 -1.3M399.5 380.4l-2.0 0.9M395.9 380.2l-1.1 -1.7M395.9 380.2l1.6 -0.9M395.9 380.2l-1.5 1.3M405.4 386.4l-1.6 0.8M405.4 386.4l0.1 -2.3M405.4 386.4l-0.5 0.6M403.6 382.9l-2.1 -0.6M403.6 382.9l1.5 -0.7M403.6 382.9l0.5 -1.1M411.9 375.4l0.4 -2.2M411.9 375.4l1.6 0.8M411.9 375.4l0.1 1.2M415.6 375.1l2.2 -0.3M415.6 375.1l-1.4 -1.3M415.6 375.1l-0.2 -0.7M421.8 370.2l1.8 1.3M421.8 370.2l0.6 -2.2M421.8 370.2l-1.8 0.4M424.1 367.5l-2.2 -0.6M424.1 367.5l1.4 -0.6M424.1 367.5l0.7 -1.0M412.6 382.5l-1.9 0.5M412.6 382.5l0.3 1.6M412.6 382.5l1.9 -0.1M413.1 385.1l-2.0 0.3M413.1 385.1l0.5 1.9M413.1 385.1l-0.1 -1.8M419.5 373.9l0.3 -0.9M419.5 373.9l1.5 -1.0M419.5 373.9l-2.1 -0.5M420.8 370.1l0.8 1.5M420.8 370.1l0.7 0.6M420.8 370.1l0.8 -2.1M426.1 385.0l-0.5 1.5M426.1 385.0l0.7 -2.0M426.1 385.0l1.7 0.9M429.8 386.8l2.0 -1.1M429.8 386.8l0.4 2.3M425.7 372.8l-1.7 -0.4M425.7 372.8l0.7 -2.0M425.7 372.8l1.7 1.0M425.5 373.9l-1.0 -2.0M425.5 373.9l-1.4 1.7M425.5 373.9l0.6 0.2M417.4 378.1l1.6 1.7M417.4 378.1l0.7 -1.5M417.4 378.1l-2.0 0.9M414.6 376.9l-0.0 2.3M414.6 376.9l-0.2 -0.5M414.6 376.9l-1.8 -0.9M434.0 381.5l0.8 -1.4M434.0 381.5l-0.6 -1.2M434.0 381.5l-1.8 1.1M433.8 380.5l1.8 1.3M433.8 380.5l-2.0 1.0M433.8 380.5l0.1 -0.1M443.3 383.9l1.6 1.6M443.3 383.9l0.2 -0.6M443.3 383.9l0.3 -1.8M447.4 384.2l-0.4 0.3M447.4 384.2l2.1 0.7M447.4 384.2l-0.2 -2.2M447.0 379.5l-0.4 1.9M447.0 379.5l0.0 -1.8M447.0 379.5l2.0 0.2M449.3 379.6l0.2 -1.9M449.3 379.6l-1.6 1.4M449.3 379.6l2.0 1.1M446.9 385.4l2.1 -0.1M446.9 385.4l-0.4 2.2M446.9 385.4l-0.0 -1.4M449.7 387.9l0.1 1.6M449.7 387.9l-1.3 0.7M449.7 387.9l2.1 -0.4M435.6 379.0l-0.1 -1.3M435.6 379.0l-2.1 0.8M432.4 381.6l1.2 1.9M432.4 381.6l-0.0 -1.3M432.4 381.6l-2.2 0.5M442.9 381.5l-1.2 0.5M442.9 381.5l-1.3 0.4M439.4 382.8l-1.1 1.9M439.4 382.8l2.0 0.6M439.4 382.8l-1.2 -1.2M462.3 380.2l0.8 -2.0M462.3 380.2l-2.0 0.4M462.3 380.2l1.5 1.7M460.3 377.5l-0.2 -2.3M460.3 377.5l-0.6 1.0M460.3 377.5l-1.4 0.7M453.8 380.6l-2.2 -0.4M453.8 380.6l-0.0 1.2M453.8 380.6l1.1 1.2M451.2 378.2l-0.2 0.3M451.2 378.2l-0.1 -2.2M451.2 378.2l-1.7 1.1M456.6 388.3l1.7 -0.3M456.6 388.3l-0.3 2.3M456.6 388.3l-1.9 -1.0M453.0 389.1l-1.1 1.6M453.0 389.1l-0.1 -2.0M453.0 389.1l-1.0 -0.1M467.9 376.0l1.3 1.6M467.9 376.0l-1.2 -1.1M467.9 376.0l1.3 -1.5M466.1 373.4l2.2 -0.5M466.1 373.4l-1.2 -1.9M466.1 373.4l-0.5 1.3M475.3 386.9l0.7 1.9M475.3 386.9l-2.2 0.2M475.3 386.9l0.3 -1.9M479.2 387.7l1.1 -0.5M479.2 387.7l-0.1 2.3M479.2 387.7l1.1 -0.9M472.0 378.6l-2.1 -0.3M472.0 378.6l-0.2 0.7M472.0 378.6l1.2 -2.0M471.7 375.2l2.0 -0.9M471.7 375.2l-1.4 -1.6M471.7 375.2l-0.9 1.1M481.5 378.7l-2.2 -0.4M481.5 378.7l0.0 1.1M481.5 378.7l1.1 -2.0M477.5 379.0l-0.5 2.1M477.5 379.0l-1.3 -0.4M477.5 379.0l-0.4 -1.6M472.3 384.8l-0.1 1.3M472.3 384.8l-2.0 -1.2M472.3 384.8l0.3 1.3M468.9 385.5l-2.2 0.6M468.9 385.5l1.2 1.5M468.9 385.5l0.2 -2.1M482.0 381.1l0.3 2.3M482.0 381.1l2.1 -1.0M482.0 381.1l-1.2 -0.4M479.4 380.6l-0.9 1.5M479.4 380.6l-1.6 -0.7M479.4 380.6l0.8 -1.8M376.5 393.0l-1.7 1.1M376.5 393.0l-0.9 -1.3M376.5 393.0l1.5 1.5M374.0 394.9l1.3 1.6M374.0 394.9l-0.6 0.6M374.0 394.9l-1.9 -0.3M370.4 387.3l-2.0 1.2M370.4 387.3l0.1 -1.5M370.4 387.3l0.1 -1.1M368.2 389.2l-2.0 0.7M368.2 389.2l-0.0 -2.3M368.2 389.2l0.2 0.9M373.6 395.2l-0.0 -1.8M373.6 395.2l-0.3 1.9M373.6 395.2l2.0 0.1M372.5 396.9l1.0 -0.7M372.5 396.9l-2.3 -0.3M372.5 396.9l0.5 2.2M383.1 389.7l-1.3 -1.7M383.1 389.7l1.7 0.5M383.1 389.7l-1.3 1.9M381.7 386.9l1.7 -1.3M381.7 386.9l-2.0 -1.0M381.7 386.9l0.3 0.3M390.1 384.6l2.2 -0.4M390.1 384.6l-1.4 -1.5M390.1 384.6l-0.2 -0.3M392.5 381.5l-0.6 0.9M392.5 381.5l-1.6 -1.5M392.5 381.5l2.0 -1.1M392.7 398.0l-1.5 0.9M392.7 398.0l0.7 1.6M392.7 398.0l1.8 -0.8M396.5 399.4l-0.9 1.4M396.5 399.4l-0.7 0.6M396.5 399.4l2.3 0.1M388.4 385.4l-0.9 0.5M388.4 385.4l-1.0 1.3M388.4 385.4l-0.3 -2.2M385.3 387.0l-1.0 -2.1M385.3 387.0l-0.8 1.1M385.3 387.0l-0.5 1.2M392.4 383.5l-2.1 -0.7M392.4 383.5l-0.1 2.2M392.4 383.5l0.8 -1.4M389.0 383.0l-0.1 -1.9M389.0 383.0l-1.5 1.5M389.0 383.0l-0.5 -0.5M396.5 381.6l2.1 -0.4M396.5 381.6l-0.1 -0.4M396.5 381.6l-1.5 -1.4M396.5 382.7l-1.3 -1.3M396.5 382.7l2.2 -0.6M396.5 382.7l-0.2 2.2M410.5 385.0l-0.8 -2.2M410.5 385.0l1.0 0.6M410.5 385.0l1.5 0.2M410.4 381.2l1.2 -0.7M410.4 381.2l-1.6 -1.5M410.4 381.2l1.5 0.2M416.3 394.9l0.8 1.9M416.3 394.9l1.6 -0.9M416.3 394.9l-0.5 -1.5M418.4 395.1l0.8 -1.8M418.4 395.1l-1.4 1.2M418.4 395.1l1.8 1.3M417.3 384.1l0.1 1.7M417.3 384.1l-1.2 -1.7M417.3 384.1l2.1 -0.8M417.3 380.3l0.8 -1.0M417.3 380.3l-2.3 -0.1M417.3 380.3l0.9 -1.1M417.1 378.0l1.1 -1.0M417.1 378.0l-1.1 1.9M417.1 378.0l-1.6 -1.5M414.1 380.6l-2.2 0.3M414.1 380.6l0.8 1.9M414.1 380.6l0.1 -1.7M424.0 389.2l1.1 2.0M424.0 389.2l-2.2 0.4M424.0 389.2l0.0 -1.3M419.9 389.2l-1.9 0.4M419.9 389.2l0.9 -2.0M419.9 389.2l-0.4 0.0M430.1 382.4l0.2 0.7M430.1 382.4l2.1 0.1M430.1 382.4l-0.8 -2.2M432.9 385.3l-0.2 1.5M432.9 385.3l-1.4 0.7M432.9 385.3l2.2 -0.0M433.9 389.0l-1.9 -1.0M433.9 389.0l1.0 -1.4M433.9 389.0l1.4 0.4M433.9 392.0l2.1 0.9M433.9 392.0l-1.2 -0.1M433.9 392.0l-1.1 1.3M423.6 382.5l-0.6 -1.5M423.6 382.5l-1.9 0.6M423.6 382.5l1.5 -1.0M422.4 381.1l-0.5 -0.9M422.4 381.1l2.2 -0.4M422.4 381.1l-1.4 -0.9M425.7 396.4l0.0 -1.4M425.7 396.4l-1.8 -0.5M425.7 396.4l-0.1 2.2M426.6 394.6l0.2 1.3M426.6 394.6l-2.2 -0.2M426.6 394.6l0.9 -2.1M436.1 396.6l-1.1 -1.0M436.1 396.6l-1.5 0.6M436.1 396.6l1.1 1.9M434.4 399.9l1.1 1.7M434.4 399.9l-2.2 0.0M434.4 399.9l0.2 0.2M437.2 385.7l-0.9 -1.5M437.2 385.7l0.3 -1.0M437.2 385.7l-1.4 1.8M434.7 384.3l-0.5 -0.9M434.7 384.3l-1.9 0.1M434.7 384.3l1.6 -1.3M442.4 396.2l-2.0 1.0M442.4 396.2l0.0 -0.3M442.4 396.2l1.8 1.3M442.5 400.3l0.5 1.1M442.5 400.3l-0.5 1.5M454.3 391.4l-2.3 0.3M454.3 391.4l0.9 1.0M454.3 391.4l0.9 0.9M451.7 394.2l-0.6 1.2M451.7 394.2l-1.9 -0.4M451.7 394.2l1.5 1.2M458.8 389.2l-1.3 0.6M458.8 389.2l1.7 1.5M458.8 389.2l0.8 -2.1M462.3 388.8l1.8 -1.4M462.3 388.8l0.1 1.7M452.9 381.7l1.7 0.2M452.9 381.7l-1.7 -1.2M452.9 381.7l0.7 -1.1M452.9 380.5l-2.0 0.9M452.9 380.5l-0.4 -2.1M452.9 380.5l0.9 1.3M465.1 382.8l-0.2 1.6M465.1 382.8l2.2 -0.6M465.1 382.8l-1.2 -1.8M468.0 382.1l-1.4 0.8M468.0 382.1l2.1 -0.2M468.0 382.1l-0.8 -2.1M472.9 391.8l2.0 -0.8M472.9 391.8l0.4 0.9M472.9 391.8l-0.9 1.6M472.2 393.1l-2.1 -0.7M472.2 393.1l1.2 -1.7M472.2 393.1l-0.1 1.8M462.3 395.7l-1.9 0.6M462.3 395.7l-0.2 0.6M462.3 395.7l1.8 1.1M463.8 399.0l-0.0 -0.8M463.8 399.0l2.0 -0.6M463.8 399.0l-0.1 2.3M479.8 381.7l-0.8 0.8M479.8 381.7l2.0 -1.1M479.8 381.7l-1.5 -1.5M476.6 379.7l-0.9 -0.3M476.6 379.7l2.0 -1.1M476.6 379.7l0.3 2.2M471.9 382.3l0.3 -1.6M471.9 382.3l-2.1 1.0M471.9 382.3l1.6 1.6M469.3 385.5l-0.0 0.8M469.3 385.5l-2.2 -0.2M469.3 385.5l1.2 1.4M479.5 384.5l-0.8 -2.0M479.5 384.5l-1.8 1.5M479.5 384.5l1.5 0.8M476.6 385.9l-0.6 0.1M476.6 385.9l-1.5 1.2M380.6 390.1l0.1 -0.1M380.6 390.1l2.0 -0.5M380.6 390.1l-1.6 -1.5M379.7 386.1l1.1 -0.7M379.7 386.1l-0.7 -1.8M379.7 386.1l-1.8 1.3M371.7 394.7l1.2 -0.9M371.7 394.7l-1.4 1.6M371.7 394.7l-1.2 -1.6M367.7 393.9l1.0 -1.0M367.7 393.9l-0.6 -1.6M367.7 393.9l-1.8 1.2M385.6 399.0l-0.6 -2.2M385.6 399.0l1.9 0.0M385.6 399.0l0.4 1.1M388.5 401.3l0.5 1.3M388.5 401.3l1.7 -1.5M388.5 401.3l-0.3 1.3M395.5 403.2l-0.4 1.6M395.5 403.2l-0.9 0.8M395.5 403.2l2.3 -0.4M399.6 402.7l0.4 2.0M399.6 402.7l1.7 -0.5M399.6 402.7l-0.1 -1.7M388.4 402.0l-0.2 0.8M388.4 402.0l-2.1 -0.7M388.4 402.0l0.8 1.7M389.9 401.1l1.2 -1.7M389.9 401.1l-2.2 -0.7M389.9 401.1l0.1 1.9M399.7 401.1l-0.8 2.2M399.7 401.1l2.3 0.0M399.7 401.1l-0.9 -1.1M403.5 402.7l-0.2 0.9M403.5 402.7l0.9 -2.1M403.5 402.7l1.4 1.3M397.3 403.8l-0.9 -1.9M397.3 403.8l-1.7 1.3M397.3 403.8l1.1 1.1M397.8 400.2l1.9 -0.3M397.8 400.2l-1.7 -1.2M397.8 400.2l0.4 -0.8M408.1 394.1l1.6 0.8M408.1 394.1l0.4 -2.2M408.1 394.1l0.1 1.2M412.0 393.0l1.3 0.7M412.0 393.0l0.6 -2.2M412.0 393.0l0.4 1.3M396.6 393.3l-2.1 -0.1M396.6 393.3l0.1 -1.4M396.6 393.3l1.6 -0.6M393.1 391.4l-0.1 -2.2M393.1 391.4l-2.0 1.0M393.1 391.4l0.3 0.1M412.4 399.5l-0.7 -1.6M412.4 399.5l-1.5 0.2M412.4 399.5l2.1 -0.6M415.4 397.5l-0.3 -0.8M415.4 397.5l2.3 0.2M415.4 397.5l-0.9 -1.4M412.3 394.3l1.4 -0.3M412.3 394.3l1.3 0.7M412.3 394.3l-1.1 -2.0M412.5 390.5l1.7 -0.2M412.5 390.5l0.6 1.5M412.5 390.5l-0.4 -2.1M403.8 402.7l0.7 1.7M403.8 402.7l-2.3 0.1M403.8 402.7l0.6 -2.0M399.8 403.5l-1.5 -1.4M399.8 403.5l-0.7 0.3M399.8 403.5l0.0 2.0M424.7 407.0l-2.2 0.6M424.7 407.0l1.1 0.6M424.7 407.0l1.0 1.0M421.7 405.4l-1.6 -1.4M421.7 405.4l1.6 0.4M421.7 405.4l-1.0 2.0M433.8 408.6l2.2 0.1M433.8 408.6l-0.9 2.1M433.8 408.6l-0.0 -0.8M435.7 411.6l0.8 -0.6M435.7 411.6l0.2 -1.7M435.7 411.6l1.2 1.8M430.3 394.1l0.2 -2.0M430.3 394.1l-1.8 -0.1M430.3 394.1l1.9 0.4M426.4 394.7l-2.1 -0.6M426.4 394.7l0.2 0.2M426.4 394.7l0.5 2.0M440.7 405.1l-1.1 -1.2M440.7 405.1l2.1 0.6M440.7 405.1l-1.2 1.9M436.7 404.6l0.4 -1.3M436.7 404.6l-2.2 0.7M436.7 404.6l0.4 -1.3M440.4 396.5l0.5 -2.2M440.4 396.5l-0.5 0.2M440.4 396.5l1.8 1.3M440.9 398.1l0.2 1.4M440.9 398.1l-0.1 1.3M440.9 398.1l-1.9 -1.2M432.2 398.4l-0.6 -0.4M432.2 398.4l-1.1 1.9M432.2 398.4l-0.6 -1.8M432.9 396.8l-0.1 2.1M432.9 396.8l1.5 -1.2M432.9 396.8l-2.1 -1.0M445.0 400.9l0.0 -0.9M445.0 400.9l1.1 2.0M445.0 400.9l-2.2 0.3M443.3 400.5l0.6 2.1M443.3 400.5l-0.7 -1.2M443.3 400.5l-1.7 0.1M439.7 398.3l0.3 2.3M439.7 398.3l-2.0 -0.5M439.7 398.3l-0.1 -0.9M440.3 397.7l1.5 -1.1M440.3 397.7l-1.9 -1.2M440.3 397.7l-0.5 2.0M447.7 403.5l-1.2 -1.2M447.7 403.5l-1.2 0.0M447.7 403.5l0.3 2.2M448.6 406.5l-2.2 0.4M448.6 406.5l-0.0 -1.6M448.6 406.5l1.0 1.9M460.6 402.6l-1.2 -2.0M460.6 402.6l2.2 -0.4M460.6 402.6l-0.9 1.3M459.7 401.9l-1.2 1.3M459.7 401.9l2.2 0.5M459.7 401.9l-0.3 -2.2M460.4 404.2l1.5 1.5M460.4 404.2l-1.4 1.1M460.4 404.2l1.1 -1.7M464.3 404.1l2.1 0.7M464.3 404.1l0.3 -1.6M464.3 404.1l-1.2 -0.9M453.1 404.6l-0.8 -1.3M453.1 404.6l1.6 1.4M453.1 404.6l-1.7 1.3M453.5 404.2l-0.7 0.5M453.5 404.2l1.8 -1.4M476.2 401.5l0.2 2.1M476.2 401.5l1.6 -0.3M476.2 401.5l-2.1 -0.2M475.5 403.2l-1.7 1.3M475.5 403.2l-0.6 -0.7M475.5 403.2l1.9 1.3M467.7 405.2l0.0 0.6M467.7 405.2l-1.7 1.1M467.7 405.2l2.0 0.5M465.4 406.2l0.4 2.1M465.4 406.2l0.2 -1.6M465.4 406.2l-2.1 -0.1M466.1 399.8l-1.9 0.5M466.1 399.8l-0.4 -1.7M466.1 399.8l0.6 1.9M464.0 401.1l0.4 2.3M464.0 401.1l-1.9 -0.3M464.0 401.1l-0.3 -0.9M478.2 395.4l-0.4 -0.1M478.2 395.4l-1.6 1.4M478.2 395.4l-0.1 -2.1M477.6 393.5l1.8 1.4M477.6 393.5l-1.4 -0.2M477.6 393.5l0.8 -2.1M482.9 407.4l1.1 0.8M482.9 407.4l1.1 0.8M482.9 407.4l-2.2 0.7M481.5 409.3l0.7 1.7M481.5 409.3l1.8 -0.8M481.5 409.3l-1.7 0.8M474.3 398.1l1.2 1.5M474.3 398.1l0.6 -2.2M474.3 398.1l-2.2 0.3M471.3 398.4l-2.1 -0.9M471.3 398.4l-0.2 2.2M471.3 398.4l1.4 -0.2M369.3 402.3l-1.7 -1.0M369.3 402.3l1.8 0.4M369.3 402.3l-0.8 2.0M366.2 403.8l-1.9 -1.0M366.2 403.8l-0.4 2.2M366.2 403.8l1.8 -0.2M375.9 411.9l1.3 -0.2M375.9 411.9l1.1 1.3M375.9 411.9l-2.0 1.0M379.4 413.9l1.7 -0.4M379.4 413.9l-1.5 1.5M379.4 413.9l0.8 0.9M371.2 399.6l-0.1 -1.8M371.2 399.6l-1.3 1.7M371.2 399.6l-0.8 -0.6M368.7 400.5l-1.5 -1.3M368.7 400.5l1.5 -1.3M368.7 400.5l-1.1 1.2M386.0 404.9l0.7 0.5M386.0 404.9l-0.1 -2.3M386.0 404.9l1.5 0.8M388.8 402.0l-1.3 -0.9M388.8 402.0l1.3 -1.6M388.8 402.0l1.4 1.6M381.3 416.7l0.4 -0.6M381.3 416.7l-1.1 2.0M381.3 416.7l-1.3 -1.6M378.2 417.8l-1.5 -1.4M378.2 417.8l-0.5 0.3M378.2 417.8l-0.0 2.1M375.7 411.7l-0.0 -2.3M375.7 411.7l-0.1 0.4M375.7 411.7l-1.8 1.0M373.5 410.6l0.1 2.1M373.5 410.6l0.4 -1.6M373.5 410.6l-2.1 -0.3M385.8 406.2l0.2 -0.8M385.8 406.2l-0.2 2.3M385.8 406.2l-1.9 -0.9M384.0 409.6l1.6 1.1M384.0 409.6l-1.9 1.2M399.9 408.1l-0.3 -2.3M399.9 408.1l0.7 0.7M399.9 408.1l1.6 0.6M398.9 409.1l-1.3 -1.8M398.9 409.1l1.0 -0.2M398.9 409.1l-1.3 1.9M393.9 411.7l0.1 -2.3M393.9 411.7l1.7 0.9M393.9 411.7l-2.0 0.8M397.1 411.3l1.9 -1.1M397.1 411.3l0.5 1.4M397.1 411.3l-0.9 1.3M407.4 413.9l-0.2 1.7M407.4 413.9l0.5 0.9M407.4 413.9l-2.0 -1.1M405.4 417.1l1.0 1.2M405.4 417.1l-0.0 1.3M405.4 417.1l-2.2 -0.5M413.6 401.1l1.5 -0.7M413.6 401.1l-1.6 -1.6M413.6 401.1l1.1 0.4M412.1 405.0l0.7 2.2M412.1 405.0l-2.2 -0.2M412.1 405.0l0.4 -0.6M407.4 410.5l-1.9 -1.2M407.4 410.5l1.5 -0.6M407.4 410.5l-0.4 2.3M405.1 410.4l-2.0 -0.8M405.1 410.4l1.5 -1.7M405.1 410.4l0.8 1.7M422.5 417.9l-0.1 0.4M422.5 417.9l-1.3 1.6M422.5 417.9l2.2 0.1M423.9 420.6l1.0 2.0M423.9 420.6l-2.0 -0.2M423.9 420.6l1.4 -1.7M420.8 404.2l0.1 -1.3M420.8 404.2l0.6 -1.3M420.8 404.2l-2.1 0.8M421.2 400.5l-0.3 1.5M421.2 400.5l1.7 -1.5M421.2 400.5l-2.0 -1.1M412.4 413.8l1.2 -0.6M412.4 413.8l-2.2 -0.4M412.4 413.8l0.3 2.2M409.2 416.0l-1.2 1.1M409.2 416.0l1.3 1.5M409.2 416.0l-1.4 -1.0M432.4 405.4l-1.1 -2.0M432.4 405.4l-1.5 1.7M432.4 405.4l1.6 0.0M428.7 406.9l0.6 2.2M428.7 406.9l-1.2 -0.8M428.7 406.9l-1.3 -0.1M428.8 408.7l-0.1 1.8M428.8 408.7l-1.3 0.4M428.8 408.7l-0.8 -1.9M430.8 405.3l-0.1 -0.1M430.8 405.3l-2.1 0.1M430.8 405.3l1.1 -1.9M434.9 418.3l0.9 2.0M434.9 418.3l-1.9 -0.5M434.9 418.3l-0.5 0.2M432.5 419.9l2.2 -0.0M432.5 419.9l-1.2 -1.3M432.5 419.9l-0.8 2.2M440.2 399.9l-1.7 1.4M440.2 399.9l1.6 1.1M440.2 399.9l1.0 -0.9M438.0 396.8l-1.4 -1.6M438.0 396.8l-1.2 1.7M438.0 396.8l1.4 -0.9M449.0 401.4l1.7 -1.3M449.0 401.4l0.5 0.5M449.0 401.4l-2.0 -1.2M452.8 402.2l-0.3 1.9M452.8 402.2l-1.1 -1.7M452.8 402.2l2.2 -0.5M439.9 411.5l-0.3 2.2M439.9 411.5l-2.1 -0.9M439.9 411.5l1.3 0.0M439.5 413.5l0.5 1.6M439.5 413.5l1.7 -1.5M439.5 413.5l-1.9 -1.1M457.5 413.5l-0.4 2.1M457.5 413.5l-0.6 -0.2M457.5 413.5l2.2 -0.4M456.6 410.6l1.1 -2.0M456.6 410.6l-1.5 0.0M443.7 408.4l1.3 -1.9M443.7 408.4l1.1 1.6M443.7 408.4l-2.0 -0.5M440.2 410.3l-1.0 2.0M440.2 410.3l-1.6 -1.6M440.2 410.3l1.2 -0.4M447.1 418.0l-0.7 -0.0M447.1 418.0l-1.8 -0.6M447.1 418.0l0.7 2.1M445.4 421.7l-1.7 1.4M445.4 421.7l1.6 1.1M445.4 421.7l0.9 -0.7M459.7 408.1l-0.0 2.3M459.7 408.1l-2.0 -0.7M459.7 408.1l0.4 -1.1M455.8 406.7l1.1 -2.0M455.8 406.7l-2.2 -0.4M455.8 406.7l0.3 1.1M471.7 413.7l-1.4 1.5M471.7 413.7l2.2 0.7M471.7 413.7l-0.6 -0.1M475.4 415.3l-1.8 1.1M475.4 415.3l0.9 1.3M475.4 415.3l1.6 -0.5M467.7 409.8l1.3 -1.5M467.7 409.8l-1.2 1.3M467.7 409.8l1.4 1.4M471.4 409.2l1.4 0.3M471.4 409.2l1.0 -1.6M471.4 409.2l-0.3 2.0M468.5 409.8l-0.2 1.8M468.5 409.8l-1.5 0.2M468.5 409.8l-0.5 -1.9M467.7 412.6l-0.5 -1.4M467.7 412.6l1.4 1.7M467.7 412.6l-1.9 0.9M479.0 403.2l0.7 2.2M479.0 403.2l1.5 -1.4M479.0 403.2l-2.1 -0.3M482.0 401.4l-0.7 -0.6M482.0 401.4l2.1 -0.9M482.0 401.4l0.2 2.3M476.8 407.6l-2.2 0.2M476.8 407.6l1.0 -1.6M476.8 407.6l1.0 2.0M477.1 406.7l-0.0 -2.2M477.1 406.7l-2.2 0.8M477.1 406.7l1.0 0.3M363.6 413.5l-1.2 2.0M363.6 413.5l-1.4 -1.7M363.6 413.5l0.8 -0.4M360.1 411.9l-0.9 1.6M360.1 411.9l1.4 -1.4M360.1 411.9l-1.7 -1.3M372.6 415.2l-0.4 -2.1M372.6 415.2l-2.0 1.2M372.6 415.2l1.6 1.1M370.1 415.9l0.7 2.0M370.1 415.9l-1.6 0.4M370.1 415.9l-0.9 -1.4M377.1 417.7l-0.7 -2.1M377.1 417.7l2.3 -0.0M377.1 417.7l-0.4 1.4M375.5 414.7l0.6 0.5M375.5 414.7l1.7 -1.1M375.5 414.7l-1.9 -1.4M398.3 419.9l0.2 -0.7M398.3 419.9l-0.4 -1.8M398.3 419.9l1.9 1.1M401.7 418.9l-0.8 -1.7M401.7 418.9l0.7 1.7M401.7 418.9l1.8 -0.7M388.7 425.5l2.1 0.6M388.7 425.5l-1.0 -1.2M388.7 425.5l-1.3 1.9M384.9 426.7l-1.4 -1.9M384.9 426.7l1.3 -0.1M384.9 426.7l-1.3 1.9M388.0 414.5l1.9 -1.3M388.0 414.5l-1.0 0.6M388.0 414.5l-1.5 -1.2M384.1 415.5l-1.7 1.5M384.1 415.5l-0.8 -2.1M403.2 428.1l-0.0 0.1M403.2 428.1l1.4 1.6M403.2 428.1l-2.1 0.3M401.3 430.1l0.6 0.8M401.3 430.1l0.5 1.6M401.3 430.1l-2.3 -0.5M398.9 418.4l0.6 1.6M398.9 418.4l1.1 -2.0M398.9 418.4l-2.3 -0.3M396.5 417.5l-0.8 2.0M396.5 417.5l-1.7 -1.1M396.5 417.5l1.7 0.4M410.2 417.2l0.8 -1.9M410.2 417.2l1.4 1.7M410.2 417.2l-0.1 -0.3M408.1 413.7l-2.1 0.4M408.1 413.7l0.2 1.0M408.1 413.7l0.3 -2.3M421.6 413.1l0.8 2.1M421.6 413.1l-1.4 -0.9M421.6 413.1l1.8 -1.4M422.5 411.6l-1.2 -1.8M422.5 411.6l1.8 -0.7M422.5 411.6l-1.3 1.4M407.2 414.3l-2.0 -1.1M407.2 414.3l-0.4 1.9M404.3 411.5l-0.5 1.8M404.3 411.5l-0.5 0.5M404.3 411.5l-1.2 -1.8M414.5 418.4l-0.5 2.0M414.5 418.4l2.0 -0.8M414.5 418.4l-1.7 -1.5M416.6 421.9l0.3 0.9M416.6 421.9l-0.6 1.6M416.6 421.9l2.0 -0.9M420.1 416.8l1.8 -1.0M420.1 416.8l-0.7 1.8M420.1 416.8l-1.7 -1.5M424.1 415.9l-0.6 -1.4M424.1 415.9l1.6 -1.0M424.1 415.9l0.8 2.0M420.4 428.2l0.7 2.2M420.4 428.2l-1.3 -0.2M419.1 431.7l-0.3 -0.1M419.1 431.7l1.7 1.4M419.1 431.7l-1.9 0.8M416.3 424.8l-0.9 -0.1M416.3 424.8l1.8 1.4M416.3 424.8l-1.6 0.8M416.3 423.7l-1.2 -1.9M416.3 423.7l2.2 -0.5M416.3 423.7l-0.6 1.6M437.2 414.1l2.1 -0.9M437.2 414.1l-1.3 -0.3M437.2 414.1l-1.0 -1.1M433.6 414.7l-1.7 -1.0M433.6 414.7l-0.5 2.2M433.2 408.6l1.0 -2.1M433.2 408.6l-2.3 -0.2M433.7 404.6l-0.7 -1.2M433.7 404.6l1.9 1.1M433.7 404.6l0.4 -1.4M431.7 415.7l2.1 -0.8M431.7 415.7l-0.8 1.2M431.7 415.7l-1.4 -1.7M434.9 413.9l1.4 -1.1M434.9 413.9l0.6 2.2M434.9 413.9l0.2 -1.0M451.3 414.0l1.2 0.5M451.3 414.0l-0.9 -2.1M451.3 414.0l1.4 0.1M451.6 412.3l1.5 -1.7M451.6 412.3l0.1 1.4M451.6 412.3l-2.1 -0.9M456.1 423.6l1.5 1.4M456.1 423.6l0.1 -2.1M456.1 423.6l0.5 -0.2M460.1 424.0l0.7 -2.2M460.1 424.0l-0.9 0.2M460.1 424.0l1.8 1.4M443.2 425.8l-0.1 -1.7M443.2 425.8l-1.1 -0.6M443.2 425.8l-1.0 1.9M443.4 429.8l1.3 1.0M443.4 429.8l-2.2 0.4M443.4 429.8l0.5 0.9M458.9 428.3l1.9 -1.1M458.9 428.3l-1.3 0.4M458.9 428.3l0.5 2.0M459.8 431.7l-0.2 1.9M459.8 431.7l1.8 -1.2M459.8 431.7l0.3 0.6M453.0 417.5l2.0 1.0M453.0 417.5l-1.3 1.6M453.0 417.5l-1.1 -0.8M452.9 413.4l-2.1 1.0M452.9 413.4l-0.3 -2.2M452.9 413.4l1.2 1.0M461.0 419.3l0.3 -1.4M461.0 419.3l2.0 0.2M461.0 419.3l-0.7 2.1M461.7 416.8l-2.0 -0.9M461.7 416.8l-0.4 1.8M461.7 416.8l1.2 -1.5M482.9 416.9l-0.0 0.5M482.9 416.9l-0.1 2.0M482.9 416.9l1.9 -1.1M485.1 413.8l1.0 -0.8M485.1 413.8l1.6 1.0M485.1 413.8l-1.0 -1.7M474.7 408.3l0.2 1.9M474.7 408.3l-0.4 -1.8M474.7 408.3l1.9 -0.4M478.0 409.0l-0.4 -0.7M478.0 409.0l-0.2 2.3M478.0 409.0l2.1 -0.6M472.3 421.0l-1.9 1.2M472.3 421.0l1.3 0.8M472.3 421.0l-0.5 -2.2M470.1 420.8l0.4 -2.3M470.1 420.8l-1.2 0.6M470.1 420.8l-1.2 0.5M483.7 419.1l0.7 -1.8M483.7 419.1l-0.4 -0.7M483.7 419.1l-1.9 0.8M482.9 415.1l1.6 0.6M482.9 415.1l0.3 -2.2M482.9 415.1l-2.1 0.3M483.1 416.7l-0.8 -0.9M483.1 416.7l-1.3 -0.7M483.1 416.7l2.2 -0.7M479.3 415.3l0.4 -2.1M479.3 415.3l-0.8 -0.1M479.3 415.3l-1.5 1.0M485.2 430.9l1.8 -0.3M485.2 430.9l-0.3 2.3M485.2 430.9l-1.9 -0.9M489.0 431.0l2.2 0.2M489.0 431.0l-1.4 0.1M489.0 431.0l-0.3 -2.0M404.0 423.8l-0.1 -0.5M404.0 423.8l1.5 -1.4M404.0 423.8l0.7 2.2M405.2 424.8l-0.7 1.8M405.2 424.8l2.3 0.0M405.2 424.8l-0.8 0.1M396.3 433.3l-0.5 -1.7M396.3 433.3l1.1 1.7M396.3 433.3l-1.9 0.8M394.2 434.8l-0.9 0.4M394.2 434.8l-1.7 0.1M394.2 434.8l1.6 1.6M394.0 427.0l-0.1 1.7M394.0 427.0l-1.9 -0.1M394.0 427.0l0.3 -2.0M394.3 430.8l2.0 0.4M394.3 430.8l-1.1 2.0M394.3 430.8l-1.3 -1.4M404.4 427.3l-1.7 -0.5M404.4 427.3l-0.7 -0.6M404.4 427.3l0.5 2.2M401.9 426.7l-1.0 1.5M401.9 426.7l-0.6 -2.2M411.5 426.5l1.8 -1.4M411.5 426.5l-1.3 -0.8M411.5 426.5l0.7 2.1M410.5 430.0l-0.8 1.3M410.5 430.0l2.2 -0.5M410.5 430.0l-0.2 1.2M403.2 417.1l-0.3 -0.8M403.2 417.1l-2.0 0.0M403.2 417.1l1.5 -1.4M406.9 417.6l-0.3 2.0M406.9 417.6l2.2 -0.6M406.9 417.6l-1.3 -1.6M421.0 435.8l1.4 -1.7M421.0 435.8l1.2 1.8M421.0 435.8l-1.4 -0.7M422.0 436.2l-2.1 -0.8M422.0 436.2l-0.1 2.2M422.0 436.2l0.9 -1.3M425.5 427.2l1.3 1.6M425.5 427.2l1.3 -1.3M422.5 430.0l0.7 2.1M422.5 430.0l-2.3 -0.2M422.5 430.0l0.5 -0.5M412.0 428.3l1.6 -1.7M412.0 428.3l0.7 1.8M412.0 428.3l-2.0 -0.7M408.2 427.4l-0.9 0.1M408.2 427.4l-0.8 -1.8M408.2 427.4l-0.6 1.9M431.1 430.4l2.2 0.7M431.1 430.4l-1.3 1.6M431.1 430.4l-0.7 -0.3M434.8 429.2l-0.4 -2.1M434.8 429.2l2.3 0.2M434.8 429.2l-0.7 1.7M435.1 419.1l1.6 1.2M435.1 419.1l-1.6 -0.8M435.1 419.1l1.0 -1.8M437.7 420.4l-1.2 1.5M437.7 420.4l1.8 -0.7M437.7 420.4l0.7 1.0M432.1 429.9l-2.1 0.7M432.1 429.9l1.0 1.5M432.1 429.9l-0.1 -2.1M433.2 428.6l0.7 -1.5M433.2 428.6l-0.5 -1.2M433.2 428.6l1.7 1.5M443.7 433.0l-2.0 -1.1M443.7 433.0l0.5 0.6M443.7 433.0l1.6 -1.4M442.5 436.9l0.6 1.1M442.5 436.9l-2.2 0.4M442.5 436.9l1.2 0.7M437.6 424.4l0.2 -1.9M437.6 424.4l-0.3 -0.6M437.6 424.4l-1.8 1.2M438.5 426.8l-2.2 0.4M438.5 426.8l0.7 1.7M438.5 426.8l0.2 -2.0M452.3 426.0l-1.3 -1.8M452.3 426.0l-0.9 1.1M452.3 426.0l0.2 1.4M456.4 426.3l-0.1 -1.0M456.4 426.3l-0.2 2.3M456.4 426.3l2.0 -0.5M450.2 422.8l-1.3 -1.5M450.2 422.8l-0.7 0.2M450.2 422.8l2.2 -0.7M447.8 419.9l-1.7 -1.5M447.8 419.9l0.7 -0.2M454.1 437.0l-0.6 0.1M454.1 437.0l2.3 0.4M454.1 437.0l-1.1 1.6M450.5 435.8l-0.1 2.2M450.5 435.8l-2.1 -0.9M450.5 435.8l1.3 -1.1M459.3 430.8l-0.3 2.3M459.3 430.8l2.2 -0.5M459.3 430.8l-0.8 -0.7M459.6 434.9l0.6 -0.0M459.6 434.9l1.9 -0.2M459.6 434.9l-1.0 2.0M462.5 433.8l1.6 0.9M462.5 433.8l0.7 0.1M462.5 433.8l-2.0 1.2M462.6 436.1l2.2 -0.2M462.6 436.1l-1.2 0.7M462.6 436.1l-0.2 1.5M462.8 424.4l-1.3 0.8M462.8 424.4l2.2 -0.0M462.8 424.4l-0.7 -2.1M460.2 427.0l-1.6 1.5M460.2 427.0l1.4 1.0M460.2 427.0l1.2 -0.8M470.3 433.0l0.3 0.7M470.3 433.0l-2.1 0.6M470.3 433.0l1.6 1.0M471.0 436.5l0.2 -2.0M471.0 436.5l-2.2 0.5M471.0 436.5l1.0 -0.2M478.8 425.7l2.3 0.4M478.8 425.7l-1.1 0.7M478.8 425.7l-0.4 -2.2M478.4 423.7l-0.9 -1.7M478.4 423.7l2.1 -0.6M478.4 423.7l0.0 2.0M478.7 426.5l2.0 -0.4M478.7 426.5l0.4 1.0M478.7 426.5l-1.1 -2.0M479.1 423.0l1.8 0.5M479.1 423.0l-1.9 -0.3M479.1 423.0l0.4 -1.9M479.1 440.2l0.9 1.8M479.1 440.2l-1.1 -1.4M479.1 440.2l-1.5 0.8M477.1 443.4l1.5 -0.5M477.1 443.4l-1.1 2.0M477.1 443.4l-1.5 -1.7M364.6 432.0l0.7 -2.1M364.6 432.0l-2.3 -0.0M362.0 429.6l-1.0 -0.7M362.0 429.6l1.1 -1.7M362.0 429.6l-1.6 0.8M374.6 436.0l0.6 -2.1M374.6 436.0l-0.2 1.4M374.6 436.0l1.6 0.8M373.7 432.4l0.3 1.2M373.7 432.4l-1.9 -1.3M373.7 432.4l1.8 -1.3M373.6 437.0l-1.8 -1.0M373.6 437.0l-0.6 2.1M373.6 437.0l1.7 0.2M376.6 439.5l1.0 -1.0M376.6 439.5l-1.4 1.7M376.6 439.5l1.6 0.9M380.9 431.5l1.9 0.3M380.9 431.5l-1.4 1.8M380.9 431.5l0.6 -0.3M383.4 434.6l2.1 -0.4M383.4 434.6l-1.0 1.8M383.4 434.6l0.2 0.5M374.8 436.5l-1.5 1.6M374.8 436.5l0.7 -1.2M374.8 436.5l1.8 1.0M371.6 437.6l-1.1 1.8M371.6 437.6l-1.4 -1.8M371.6 437.6l0.7 0.4M373.1 439.4l-1.2 1.9M373.1 439.4l-0.9 -1.6M373.1 439.4l2.1 0.4M372.3 443.4l-1.9 0.0M372.3 443.4l0.9 2.1M372.3 443.4l-0.6 -0.7M397.6 438.5l-1.2 -1.9M397.6 438.5l1.8 0.2M397.6 438.5l-1.4 1.8M398.5 439.1l1.9 -1.1M398.5 439.1l-1.4 -1.5M398.5 439.1l0.6 1.6M387.0 438.2l0.4 -2.3M387.0 438.2l-0.5 0.8M387.0 438.2l-1.8 0.4M384.6 435.0l-2.2 0.5M384.6 435.0l0.3 -2.3M392.2 447.0l-1.5 1.7M392.2 447.0l-0.5 -1.1M392.2 447.0l2.1 0.8M388.6 445.5l0.4 -2.2M388.6 445.5l-1.4 0.0M388.6 445.5l-1.0 1.2M409.2 439.7l1.4 -0.3M409.2 439.7l-1.2 1.9M409.2 439.7l1.3 0.2M409.4 443.7l-1.5 0.6M409.4 443.7l2.1 0.0M409.4 443.7l-0.1 1.5M400.1 443.3l0.4 1.2M400.1 443.3l-1.8 0.9M401.9 446.2l1.8 0.9M401.9 446.2l-1.2 -1.4M401.9 446.2l-1.3 1.7M400.6 429.7l-1.7 -1.5M400.6 429.7l-0.4 0.9M400.6 429.7l2.0 -1.1M397.6 431.8l-2.1 -0.4M397.6 431.8l0.2 2.3M397.6 431.8l0.4 -1.1M419.4 428.0l1.6 0.7M419.4 428.0l1.0 -1.1M419.4 428.0l-1.5 -1.4M416.8 425.6l-1.9 0.9M416.8 425.6l0.9 -1.6M416.8 425.6l-0.5 -0.9M414.3 442.6l-2.0 0.5M414.3 442.6l1.7 -0.0M414.3 442.6l0.5 1.6M415.1 446.4l-2.1 0.6M415.1 446.4l1.3 1.9M415.1 446.4l-0.1 -1.0M409.1 428.8l-1.6 -1.6M409.1 428.8l2.0 -1.0M409.1 428.8l0.1 1.0M408.6 424.7l-0.2 0.3M408.6 424.7l1.1 -2.0M408.6 424.7l-2.1 -0.0M422.2 445.7l-1.5 1.2M422.2 445.7l2.2 0.4M422.2 445.7l-0.2 0.6M421.3 449.3l-2.0 -1.2M421.3 449.3l-0.2 1.6M421.3 449.3l0.4 1.0M429.3 437.3l1.1 1.9M429.3 437.3l-1.4 0.5M429.3 437.3l1.6 -1.6M432.9 438.4l-1.5 -1.0M432.9 438.4l0.8 -1.6M432.9 438.4l-1.1 1.6M431.0 440.6l0.2 1.2M431.0 440.6l2.0 -1.1M431.0 440.6l-0.4 1.4M433.1 441.7l-2.0 1.0M433.1 441.7l1.6 1.1M433.1 441.7l-0.1 -2.2M436.3 434.9l-1.6 -1.3M436.3 434.9l2.1 -0.8M436.3 434.9l-0.3 -0.1M433.0 436.1l1.8 -0.8M433.0 436.1l0.5 2.1M433.0 436.1l-0.3 -1.4M433.9 434.3l1.0 -0.9M433.9 434.3l-0.8 2.1M433.9 434.3l1.6 0.1M434.6 431.5l2.3 -0.1M434.6 431.5l-0.7 0.7M434.6 431.5l-0.9 -2.1M427.3 438.9l-2.1 0.7M427.3 438.9l1.6 1.6M427.3 438.9l-0.0 -0.3M423.5 438.4l0.5 -0.9M423.5 438.4l0.3 -1.6M423.5 438.4l-2.2 0.7M453.8 437.8l-1.3 -1.8M453.8 437.8l-0.7 1.8M453.8 437.8l2.2 -0.5M455.9 435.0l0.2 -0.9M455.9 435.0l0.8 2.2M455.9 435.0l1.2 -1.3M443.7 438.7l-0.2 -2.2M443.7 438.7l-0.3 1.2M443.7 438.7l-1.6 0.6M439.8 437.7l0.6 -2.0M439.8 437.7l0.0 1.7M439.8 437.7l-2.1 -0.2M453.4 431.1l1.5 -1.3M453.4 431.1l1.1 0.8M453.4 431.1l-0.8 1.7M456.4 430.1l1.9 -0.2M456.4 430.1l0.6 0.4M456.4 430.1l-1.2 -2.0M457.0 438.1l-0.7 1.1M457.0 438.1l0.4 -2.2M457.0 438.1l-1.6 0.1M454.2 440.7l-0.3 1.5M454.2 440.7l-0.4 1.0M454.2 440.7l-1.5 -1.8M456.3 438.2l0.5 -0.9M456.3 438.2l-0.8 -1.6M456.3 438.2l-1.6 1.7M457.2 436.6l0.9 -1.1M457.2 436.6l1.7 0.4M457.2 436.6l-1.6 -1.3M466.4 443.8l-0.1 2.2M466.4 443.8l-0.7 -1.3M466.4 443.8l2.2 -0.6M467.6 445.2l2.0 -0.5M467.6 445.2l0.3 1.4M467.6 445.2l-1.0 -2.0M473.5 441.5l0.9 1.8M473.5 441.5l-2.0 0.6M473.5 441.5l1.4 -0.7M474.6 444.4l-2.2 -0.7M474.6 444.4l0.1 1.9M474.6 444.4l0.8 0.4M468.1 439.4l0.1 -1.8M468.1 439.4l2.1 0.4M468.1 439.4l-0.8 1.8M464.5 439.6l-0.4 0.8M464.5 439.6l0.8 -2.2M464.5 439.6l1.6 1.3M464.8 441.2l-1.9 -1.3M464.8 441.2l-0.5 1.7M464.8 441.2l0.6 0.9M465.6 445.1l2.1 -0.3M465.6 445.1l0.2 0.6M465.6 445.1l-1.1 1.7M477.3 433.7l-0.5 -2.2M477.3 433.7l-1.5 1.2M477.3 433.7l-0.2 0.7M477.3 432.8l-0.5 2.2M477.3 432.8l2.2 -0.3M477.3 432.8l-0.5 -0.7M486.5 434.4l1.0 -0.1M486.5 434.4l0.5 -1.9M489.5 436.3l0.4 2.2M489.5 436.3l0.3 -1.4M489.5 436.3l1.5 -0.6M475.4 442.6l-1.5 1.6M475.4 442.6l2.1 0.5M475.4 442.6l-0.7 -2.1M473.7 446.3l1.9 1.0M473.7 446.3l-1.7 1.5M473.7 446.3l0.5 -0.7M376.3 455.6l-2.1 0.9M376.3 455.6l0.6 0.1M376.3 455.6l1.5 1.2M379.1 457.8l-1.4 1.5M379.1 457.8l2.0 1.1M379.1 457.8l-0.9 -0.7M381.2 448.3l0.8 0.8M381.2 448.3l-0.8 1.8M381.2 448.3l1.7 -1.1M382.7 452.1l2.1 -0.3M382.7 452.1l-1.4 1.2M382.7 452.1l0.2 1.1M367.1 450.9l1.1 -1.5M367.1 450.9l-2.2 0.1M367.1 450.9l0.9 2.1M363.3 452.5l-2.0 0.8M363.3 452.5l1.0 1.5M363.3 452.5l-0.3 -2.0M395.5 446.3l1.6 0.5M395.5 446.3l-0.9 2.0M395.5 446.3l-1.7 -1.3M399.0 444.5l1.1 -1.7M399.0 444.5l1.1 2.0M399.0 444.5l-0.0 -0.4M385.2 450.0l1.5 1.6M385.2 450.0l0.0 -1.7M385.2 450.0l-2.1 0.9M386.3 454.0l2.0 -0.2M386.3 454.0l0.3 1.2M386.3 454.0l-1.5 1.1M390.3 438.0l-2.0 -0.6M390.3 438.0l1.8 -0.8M390.3 438.0l0.1 -0.9M387.1 435.6l-2.2 -0.6M387.1 435.6l0.6 0.8M387.1 435.6l1.3 -1.8M395.3 452.9l0.8 1.6M395.3 452.9l0.3 -2.1M395.3 452.9l-2.2 0.3M392.7 453.5l0.2 -2.3M392.7 453.5l-1.9 0.8M392.7 453.5l1.9 1.0M401.6 455.0l0.7 -1.4M401.6 455.0l-1.0 1.8M401.6 455.0l1.8 0.7M401.3 451.2l-0.4 -1.5M401.3 451.2l2.2 -0.3M401.3 451.2l-1.4 -0.4M399.3 445.6l-0.2 -1.4M399.3 445.6l0.7 -1.2M399.3 445.6l1.6 1.6M396.5 443.5l-0.2 -0.2M396.5 443.5l0.9 -1.9M396.5 443.5l-2.1 0.4M402.4 455.5l1.6 -0.4M402.4 455.5l-2.1 -0.1M402.4 455.5l0.3 2.1M400.1 457.7l2.0 0.1M400.1 457.7l0.3 0.8M400.1 457.7l-0.8 -2.2M408.6 452.5l1.9 1.1M408.6 452.5l-1.8 0.6M408.6 452.5l0.3 -2.3M410.8 455.9l-0.4 0.8M410.8 455.9l0.7 1.7M410.8 455.9l1.6 -1.6M415.8 454.7l-0.5 2.1M415.8 454.7l0.6 0.2M415.8 454.7l1.7 -1.0M417.8 453.5l-1.7 -0.6M417.8 453.5l2.0 0.1M417.8 453.5l0.2 -1.6M413.9 448.6l-1.5 1.8M413.9 448.6l-1.1 -1.9M413.9 448.6l0.7 -0.2M417.8 449.6l0.5 -1.9M417.8 449.6l1.5 0.2M417.8 449.6l0.0 1.9M419.4 449.1l2.0 -0.9M419.4 449.1l-0.0 0.0M419.4 449.1l-0.2 2.1M422.8 449.8l0.2 0.9M422.8 449.8l-0.3 1.7M422.8 449.8l1.9 -1.1M412.7 456.0l-1.1 0.1M412.7 456.0l1.2 1.9M412.7 456.0l1.4 -1.8M409.6 454.0l2.0 -0.7M409.6 454.0l-1.5 -1.7M409.6 454.0l-0.7 1.8M419.7 450.7l-0.6 2.1M419.7 450.7l-0.5 -0.1M419.7 450.7l-1.1 -1.6M419.2 452.8l-2.1 -0.3M419.2 452.8l0.4 2.2M419.2 452.8l1.5 -0.9M427.5 443.4l-2.0 0.5M427.5 443.4l-0.3 -0.9M427.5 443.4l1.1 -1.5M423.8 441.8l-0.6 1.7M423.8 441.8l-1.2 0.1M423.8 441.8l-0.4 -2.0M431.5 451.7l1.3 -1.0M431.5 451.7l0.2 2.3M431.5 451.7l-2.2 -0.6M429.9 455.4l-1.6 -1.5M429.9 455.4l-0.6 2.1M429.9 455.4l0.2 -0.1M443.3 455.9l0.9 1.7M443.3 455.9l-1.8 0.8M443.3 455.9l1.6 -0.7M447.2 455.8l0.5 -1.0M447.2 455.8l-0.5 2.2M447.2 455.8l1.8 -0.1M432.8 455.0l0.7 -2.2M432.8 455.0l-0.7 0.5M432.8 455.0l-1.7 0.3M430.5 457.9l-0.7 -0.9M430.5 457.9l0.4 2.2M430.5 457.9l-1.7 -0.3M437.0 453.7l-0.7 -0.3M437.0 453.7l-1.4 1.5M437.0 453.7l2.1 0.8M434.2 456.4l2.1 0.8M434.2 456.4l-0.4 0.1M434.2 456.4l-1.6 1.3M477.0 458.3l-1.2 -1.3M477.0 458.3l-0.7 2.2M477.0 458.3l-0.4 -0.7M474.9 460.7l0.7 1.3M474.9 460.7l-1.8 1.0M474.9 460.7l-0.6 -2.1M471.3 455.3l1.9 0.8M471.3 455.3l0.3 -0.1M471.3 455.3l-1.8 1.4M473.4 458.4l0.6 0.5M473.4 458.4l0.3 1.8M473.4 458.4l1.3 -1.7M482.4 448.7l2.3 -0.2M482.4 448.7l-0.6 -0.7M482.4 448.7l-1.1 -1.3M485.2 445.8l2.2 -0.5M485.2 445.8l-1.2 0.6M485.2 445.8l-1.0 -1.9M363.3 455.5l1.0 -1.9M363.3 455.5l-1.7 -0.6M363.3 455.5l-0.9 1.2M359.7 457.3l-1.2 -0.2M359.7 457.3l0.6 2.2M359.7 457.3l-1.3 -0.7M374.9 446.9l-2.3 -0.3M374.9 446.9l0.7 1.3M374.9 446.9l0.6 1.0M379.0 446.7l0.2 0.2M379.0 446.7l0.5 -2.1M379.0 446.7l1.5 1.5M375.1 453.5l-0.6 -1.0M375.1 453.5l2.3 0.5M375.1 453.5l-0.5 -1.4M378.3 453.5l-0.5 2.2M378.3 453.5l0.5 -0.2M378.3 453.5l1.8 -0.7M374.0 455.2l0.6 1.4M374.0 455.2l0.8 -2.1M374.0 455.2l-2.3 -0.0M374.7 458.2l1.1 1.7M374.7 458.2l-2.2 0.6M374.7 458.2l-0.0 -1.9M373.7 467.3l0.7 1.3M373.7 467.3l1.8 -0.5M373.7 467.3l-1.6 1.1M373.8 470.3l-0.4 2.1M373.8 470.3l-2.0 -1.0M373.8 470.3l1.2 0.2M382.4 462.1l-0.3 2.2M382.4 462.1l1.5 -1.1M382.4 462.1l0.8 0.0M384.0 460.2l1.0 -1.8M384.0 460.2l1.2 0.6M384.0 460.2l-2.1 -0.6M391.4 455.3l-1.6 0.3M391.4 455.3l1.8 -1.1M391.4 455.3l-0.9 -1.3M388.7 458.0l-1.1 -2.0M388.7 458.0l-0.4 1.0M388.7 458.0l-0.8 1.4M401.1 452.1l-1.0 -2.0M401.1 452.1l1.1 0.6M401.1 452.1l1.5 -0.2M404.3 449.9l0.9 -1.1M404.3 449.9l1.6 1.4M404.3 449.9l-0.7 -1.5M388.7 451.5l1.8 1.3M388.7 451.5l-1.8 0.5M388.7 451.5l-0.6 0.5M385.2 449.4l0.1 -1.7M385.2 449.4l-2.2 0.4M385.2 449.4l1.2 -0.6M411.9 457.2l-0.4 -2.2M411.9 457.2l1.8 0.3M411.9 457.2l-1.9 1.1M407.9 457.8l-2.2 -0.6M407.9 457.8l0.1 2.3M407.9 457.8l1.1 -0.5M412.0 461.0l-1.3 1.7M412.0 461.0l-0.5 -0.2M412.0 461.0l-0.5 -2.0M409.2 461.7l-1.8 -0.6M409.2 461.7l-0.1 2.3M409.2 461.7l-0.1 -1.1M422.4 453.3l-0.2 1.1M422.4 453.3l-2.1 -0.9M422.4 453.3l0.7 1.5M420.2 450.8l-1.4 1.0M420.2 450.8l-0.6 -2.2M420.2 450.8l2.2 0.1M421.4 453.3l0.7 -2.2M421.4 453.3l-1.7 0.2M421.4 453.3l-0.7 0.6M417.5 452.8l-0.8 2.1M417.5 452.8l-1.6 -1.6M417.5 452.8l0.6 0.0M427.2 453.0l0.2 -2.1M427.2 453.0l-2.2 0.3M427.2 453.0l1.3 0.2M424.6 452.0l-0.6 -1.9M424.6 452.0l-1.4 1.7M424.6 452.0l-0.2 -0.4M428.5 449.6l2.1 0.9M428.5 449.6l-0.4 -0.1M428.5 449.6l-0.0 -2.1M431.5 450.2l1.9 -0.4M431.5 450.2l-0.3 2.3M431.5 450.2l0.2 -1.0M435.4 454.2l0.2 -1.8M435.4 454.2l-1.8 1.3M435.4 454.2l-0.3 -0.8M433.3 450.9l-1.6 -0.3M433.3 450.9l1.5 -1.7M433.3 450.9l-1.0 0.1M428.0 461.5l-2.0 0.2M428.0 461.5l0.1 1.6M428.0 461.5l0.1 -2.1M426.4 465.0l-1.5 -1.7M426.4 465.0l-0.6 1.8M426.4 465.0l0.1 0.6M433.9 460.4l-1.7 1.2M433.9 460.4l-0.8 -2.0M433.9 460.4l1.7 -0.3M431.1 458.8l1.3 -1.9M431.1 458.8l-2.1 -0.6M431.1 458.8l-0.2 1.2M452.0 452.2l2.2 -0.4M452.0 452.2l-0.6 -0.5M452.0 452.2l-1.2 -1.2M448.0 453.1l0.4 -0.8M448.0 453.1l-1.9 1.3M448.0 453.1l-0.3 -1.8M455.3 458.0l-0.9 1.7M455.3 458.0l1.0 -1.6M455.3 458.0l1.6 0.9M453.3 461.6l-1.7 1.5M453.3 461.6l1.4 0.1M453.3 461.6l1.2 0.5M444.5 454.9l-2.1 0.6M444.5 454.9l1.0 1.8M444.5 454.9l-0.1 -1.8M446.8 455.3l1.5 1.7M446.8 455.3l-1.8 0.9M446.8 455.3l1.0 -1.5M412.2 478.4l2.0 0.7M412.2 478.4l-1.7 0.4M412.2 478.4l-0.4 1.2M411.6 480.1l-1.3 -1.6M411.6 480.1l1.8 0.5M411.6 480.1l-1.3 1.9M408.6 465.3l1.9 1.1M408.6 465.3l0.5 -2.2M408.6 465.3l-1.6 0.2M404.6 465.7l0.8 1.8M404.6 465.7l-1.5 0.7M404.6 465.7l-1.0 -1.5M405.4 472.2l0.4 2.3M405.4 472.2l-2.3 -0.4M405.4 472.2l1.1 -1.1M403.0 468.8l0.5 -1.9M403.0 468.8l-2.3 0.3M403.0 468.8l0.7 -0.3M425.3 474.8l-0.0 -0.2M425.3 474.8l-0.4 2.2M425.3 474.8l2.1 -0.6M425.3 473.0l-1.5 -1.7M425.3 473.0l1.8 -0.6M425.3 473.0l0.7 0.6M420.7 467.8l1.4 1.8M420.7 467.8l-1.9 0.6M420.7 467.8l1.0 -1.8M420.5 471.7l-1.8 -0.7M420.5 471.7l-0.6 0.1M420.5 471.7l0.6 2.1M420.2 473.6l0.1 2.3M420.2 473.6l-1.3 -0.7M420.2 473.6l2.1 -0.8M422.3 470.2l1.7 0.9M422.3 470.2l-0.8 -1.9M422.3 470.2l0.8 -0.5M437.4 475.4l1.1 -2.0M437.4 475.4l-2.3 -0.3M437.4 475.4l0.7 1.4M440.0 474.6l-1.0 -1.1M440.0 474.6l2.1 -0.8M440.0 474.6l0.1 2.3M431.6 465.3l0.8 1.2M431.6 465.3l0.6 -2.2M431.6 465.3l-2.3 0.1M428.7 462.5l-1.6 1.4M428.7 462.5l-0.7 -2.2M428.7 462.5l0.4 0.5M427.9 471.9l-1.8 0.4M427.9 471.9l-0.7 -0.9M427.9 471.9l1.4 -1.5M424.7 469.6l-0.5 0.7M424.7 469.6l-1.9 0.1M424.7 469.6l0.7 -2.2M435.2 462.8l0.3 -2.2M435.2 462.8l-0.2 0.3M435.2 462.8l-1.9 0.7M431.7 462.5l-0.4 -1.9M431.7 462.5l0.6 -0.5M431.7 462.5l-1.9 1.3M442.7 474.7l1.4 0.8M442.7 474.7l-1.1 1.8M442.7 474.7l1.3 -1.0M439.7 477.4l0.6 0.4M439.7 477.4l-2.1 0.8M439.7 477.4l1.5 1.1M447.2 463.3l1.1 -1.5M447.2 463.3l-1.4 1.2M447.2 463.3l1.5 1.4M447.4 464.1l-1.7 -0.4M447.4 464.1l1.1 -2.0M447.4 464.1l1.5 1.5M458.1 470.4l2.0 1.2M458.1 470.4l-0.1 -1.5M458.1 470.4l-1.8 1.5M457.7 469.5l2.3 0.3M457.7 469.5l-0.5 -1.3M457.7 469.5l-1.0 2.1M459.3 478.0l1.9 -1.0M459.3 478.0l0.1 -0.2M459.3 478.0l-0.0 2.2M461.5 474.7l-1.0 0.5M461.5 474.7l1.5 1.6M461.5 474.7l1.1 -2.0M457.0 473.2l2.0 1.1M457.0 473.2l-0.1 -1.4M457.0 473.2l-0.3 -1.3M461.0 472.3l-0.7 -2.1M461.0 472.3l2.1 0.3M461.0 472.3l0.1 0.4M467.9 463.8l-0.1 1.3M467.9 463.8l1.8 -1.5M467.9 463.8l-2.0 -1.2M470.1 460.9l2.2 0.5M470.1 460.9l-0.5 -2.1M462.7 471.0l1.6 0.3M462.7 471.0l0.1 1.8M462.7 471.0l0.5 -1.9M463.7 474.8l0.3 -1.2M463.7 474.8l-0.8 2.1M463.7 474.8l2.0 0.2M456.5 459.1l-0.5 -0.7M456.5 459.1l1.3 -1.6M456.5 459.1l-2.0 0.3M454.4 455.7l-2.2 -0.6M454.4 455.7l0.7 -0.8M454.4 455.7l1.3 -0.9M477.4 467.0l-1.0 -2.0M477.4 467.0l1.0 0.7M477.4 467.0l-1.6 1.5M476.0 469.7l1.9 1.4M476.0 469.7l0.5 -2.0M476.0 469.7l-1.8 1.0M479.4 469.0l-0.7 -1.5M479.4 469.0l1.9 1.0M479.4 469.0l-1.6 1.6M481.1 471.8l-1.7 0.9M481.1 471.8l1.8 1.5M481.1 471.8l0.7 -2.0M478.5 459.1l1.6 -0.5M478.5 459.1l-1.8 0.8M478.5 459.1l-0.6 -1.9M478.5 456.2l1.2 -1.9M478.5 456.2l0.4 0.9M478.5 456.2l-2.2 -0.5M420.3 481.4l-1.5 -1.4M420.3 481.4l-0.3 2.2M420.3 481.4l-0.3 -0.2M417.5 484.4l0.3 0.3M417.5 484.4l0.4 2.0M417.5 484.4l-2.1 -0.7M425.5 474.0l-2.2 -0.5M425.5 474.0l0.6 0.1M425.5 474.0l0.5 2.0M428.9 476.3l0.1 1.1M428.9 476.3l1.8 -1.4M428.9 476.3l0.0 1.5M430.0 470.4l-1.4 -1.8M430.0 470.4l1.0 0.4M430.0 470.4l1.6 -0.4M429.1 467.8l1.6 -0.6M429.1 467.8l1.0 1.1M429.1 467.8l-1.0 -1.9M436.8 481.9l1.5 1.6M436.8 481.9l0.3 -1.9M440.8 482.3l0.8 -1.6M440.8 482.3l-1.0 -1.1M440.8 482.3l1.7 1.3M435.9 487.0l-2.2 -0.3M435.9 487.0l0.6 -1.2M435.9 487.0l1.3 -0.7M436.3 488.7l-0.1 -1.2M436.3 488.7l-1.8 1.4M436.3 488.7l1.9 1.3M442.5 481.5l1.8 -0.0M442.5 481.5l-0.1 2.0M442.5 481.5l-1.9 -0.3M442.4 484.4l-0.2 1.9M442.4 484.4l-2.0 -1.2M442.4 484.4l0.5 0.5M436.7 488.2l2.2 -0.6M436.7 488.2l-0.4 -0.2M436.7 488.2l-0.3 2.2M438.1 488.9l-2.2 -0.4M438.1 488.9l1.3 -1.5M438.1 488.9l0.6 2.1M446.6 481.9l1.1 -1.3M446.6 481.9l1.1 2.0M446.6 481.9l-0.1 -1.2M447.6 478.3l1.6 -1.6M447.6 478.3l-1.4 -0.7M444.9 484.1l-1.5 -1.7M444.9 484.1l1.9 -0.9M444.9 484.1l0.6 1.2M448.4 486.2l-0.8 1.7M448.4 486.2l2.2 -0.3M448.4 486.2l-0.3 0.5M445.8 498.9l1.8 1.3M445.8 498.9l0.6 -1.5M445.8 498.9l-0.7 -1.1M448.3 496.5l1.7 -1.3M448.3 496.5l-1.2 0.8M448.3 496.5l-1.4 -1.3M438.1 492.1l1.8 -1.4M438.1 492.1l-0.8 -0.1M438.1 492.1l-1.7 -0.6M441.9 490.7l-1.0 -0.7M441.9 490.7l-0.0 -1.7M441.9 490.7l2.2 0.6M436.8 495.2l-0.3 -2.3M436.8 495.2l0.1 1.1M436.8 495.2l1.9 0.4M437.4 494.8l0.0 2.2M437.4 494.8l0.8 -0.3M437.4 494.8l-2.2 -0.8" stroke="#c0c0c0" stroke-width="1.1" stroke-linecap="round" fill="none"/>
<path d="M386.5 365.8l-4.5 1.4M382.0 367.3l-2.4 2.9M379.6 370.2l-0.6 4.1M386.5 365.8l1.3 -0.7M387.8 365.1l0.7 -3.6M388.5 361.5l1.4 -3.6M386.5 365.8l0.4 -4.0M386.9 361.8l-3.0 -2.8M383.9 359.1l-3.6 1.4M386.5 365.8l2.7 3.3M394.8 371.9l-3.0 0.6M391.9 372.5l0.1 4.0M391.9 376.5l1.2 3.2M394.8 371.9l-0.6 -4.3M394.8 371.9l-0.9 3.2M393.9 375.1l-2.0 3.1M391.9 378.2l-0.4 3.2M394.8 371.9l4.4 0.5M399.3 372.4l2.1 1.9M401.3 374.3l2.2 1.4M404.2 365.0l3.7 1.2M407.9 366.2l2.7 -3.1M410.6 363.1l1.6 1.0M404.2 365.0l-0.6 -4.7M403.6 360.4l-1.2 -3.5M402.4 356.9l2.0 -3.5M404.2 365.0l-3.9 2.1M404.2 365.0l0.8 1.4M405.0 366.4l1.8 0.9M406.8 367.3l2.3 -1.5M466.9 372.0l3.9 1.1M470.8 373.1l1.1 3.9M471.9 377.0l3.3 1.2M466.9 372.0l0.2 -4.5M466.9 372.0l-0.3 2.7M466.6 374.8l-3.4 -2.3M463.2 372.5l-1.3 -0.2M466.9 372.0l-3.8 0.7M463.1 372.7l-2.5 3.2M460.6 375.9l-0.8 0.1M393.7 383.0l-4.2 -2.1M393.7 383.0l2.1 0.5M395.8 383.5l-1.7 1.5M394.1 385.0l0.8 1.5M393.7 383.0l2.7 -2.6M396.5 380.4l2.8 2.4M399.2 382.9l3.8 -0.3M393.7 383.0l-0.6 4.2M393.1 387.3l-4.1 0.5M389.0 387.8l-3.7 1.2M406.9 381.1l-3.5 0.3M403.3 381.4l-3.8 -1.0M399.5 380.4l-3.7 -0.2M406.9 381.1l-1.7 -0.9M406.9 381.1l2.3 4.1M409.2 385.2l-3.8 1.2M405.4 386.4l-1.8 -3.5M406.9 381.1l2.9 -3.5M409.8 377.6l2.1 -2.3M411.9 375.4l3.7 -0.2M418.1 377.6l2.9 3.2M418.1 377.6l1.2 -4.3M419.3 373.2l2.5 -3.0M421.8 370.2l2.3 -2.8M418.1 377.6l-4.4 1.0M413.7 378.5l-1.1 3.9M412.6 382.5l0.5 2.7M418.1 377.6l0.3 0.2M418.5 377.8l1.1 -3.9M419.5 373.9l1.3 -3.8M420.9 378.4l-1.6 -0.9M420.9 378.4l3.1 3.6M424.0 382.0l2.1 3.0M426.1 385.0l3.6 1.8M420.9 378.4l2.2 -3.8M423.1 374.6l2.6 -1.8M425.7 372.8l-0.2 1.1M420.9 378.4l-3.6 1.2M417.3 379.6l0.0 -1.5M417.4 378.1l-2.7 -1.2M440.6 383.1l-4.1 0.0M436.5 383.1l-2.5 -1.6M434.0 381.5l-0.2 -0.9M440.6 383.1l-0.8 -0.9M439.8 382.1l3.5 1.8M443.3 383.9l4.1 0.3M440.6 383.1l2.1 4.2M440.6 383.1l2.8 -3.3M443.4 379.7l3.7 -0.3M447.0 379.5l2.3 0.1M444.0 379.0l1.0 3.0M445.0 382.0l1.8 3.3M446.9 385.4l2.9 2.5M444.0 379.0l-4.6 0.2M439.4 379.2l-3.8 -0.2M435.6 379.0l-3.2 2.5M444.0 379.0l2.4 1.2M446.4 380.2l-3.5 1.3M442.9 381.5l-3.4 1.3M444.0 379.0l1.2 -4.4M459.6 381.7l-0.5 -1.4M459.1 380.3l3.2 -0.1M462.3 380.2l-2.0 -2.8M459.6 381.7l4.6 -0.1M459.6 381.7l-2.4 -2.8M457.2 378.9l-3.4 1.7M453.8 380.6l-2.7 -2.4M459.6 381.7l-1.6 4.4M458.0 386.1l-1.4 2.2M456.6 388.3l-3.6 0.8M469.9 382.6l-0.6 -4.1M469.2 378.5l-1.4 -2.5M467.9 376.0l-1.8 -2.6M469.9 382.6l4.2 1.8M474.0 384.4l1.3 2.5M475.3 386.9l3.9 0.8M469.9 382.6l-3.5 3.0M469.9 382.6l-0.1 -0.7M469.8 381.9l2.2 -3.3M472.0 378.6l-0.3 -3.4M480.5 382.5l1.0 -2.6M481.5 379.9l-0.0 -1.2M481.5 378.7l-4.0 0.3M480.5 382.5l2.1 4.2M480.5 382.5l-4.7 0.6M475.8 383.1l-3.6 1.7M472.3 384.8l-3.4 0.7M480.5 382.5l1.6 -2.2M482.1 380.3l-0.1 0.8M482.0 381.1l-2.6 -0.5M377.5 390.4l-0.0 -1.3M377.5 389.1l-1.0 3.9M376.5 393.0l-2.4 1.9M377.5 390.4l4.1 -1.2M377.5 390.4l-3.5 -2.2M374.0 388.3l-3.6 -0.9M370.4 387.3l-2.2 1.9M377.5 390.4l-0.6 4.7M376.9 395.1l-3.3 0.1M373.6 395.2l-1.1 1.7M386.9 391.8l-2.2 -0.9M384.8 390.8l-1.7 -1.2M383.1 389.7l-1.4 -2.8M386.9 391.8l3.0 -3.5M390.0 388.3l0.2 -3.7M390.1 384.6l2.4 -3.1M386.9 391.8l-3.2 0.3M386.9 391.8l2.3 4.1M389.3 395.9l3.4 2.2M392.7 398.0l3.8 1.4M394.0 386.7l-0.1 4.7M394.0 386.7l-2.6 -1.6M391.4 385.1l-3.0 0.4M388.4 385.4l-3.1 1.6M394.0 386.7l-1.7 -1.7M392.2 385.0l0.2 -1.5M392.4 383.5l-3.4 -0.5M394.0 386.7l4.5 -1.4M398.5 385.2l-1.9 -3.6M396.5 381.6l-0.0 1.1M410.5 389.2l-2.0 -1.1M408.5 388.0l2.0 -3.0M410.5 385.0l-0.1 -3.8M410.5 389.2l-3.3 0.4M410.5 389.2l2.3 4.1M412.8 393.3l3.6 1.6M416.3 394.9l2.0 0.2M410.5 389.2l3.1 -3.4M413.6 385.8l3.7 -1.7M417.3 384.1l0.1 -3.9M422.4 384.9l-2.7 -3.7M419.7 381.2l-2.6 -3.1M417.1 378.0l-3.0 2.6M422.4 384.9l1.4 2.3M423.8 387.2l0.2 2.0M424.0 389.2l-4.1 0.0M422.4 384.9l-2.5 2.9M422.4 384.9l3.8 -1.5M426.2 383.3l3.9 -1.0M430.1 382.4l2.8 2.9M429.1 389.2l1.2 -0.5M429.1 389.2l3.9 0.1M433.0 389.3l1.0 -0.3M433.9 389.0l-0.0 3.0M429.1 389.2l-2.7 -3.6M426.4 385.5l-2.8 -3.0M423.6 382.5l-1.3 -1.4M429.1 389.2l-2.4 4.0M426.7 393.2l-1.0 3.2M425.7 396.4l0.9 -1.8M439.7 392.9l-2.8 -0.2M436.9 392.7l-0.8 3.9M436.1 396.6l-1.7 3.3M439.7 392.9l-1.1 -3.5M438.6 389.4l-1.5 -3.7M437.2 385.7l-2.5 -1.4M439.7 392.9l-0.6 4.1M439.7 392.9l4.5 -0.4M444.2 392.5l-1.8 3.7M442.4 396.2l0.2 4.1M454.1 389.0l-0.3 -0.5M453.8 388.6l0.5 2.9M454.3 391.4l-2.6 2.8M454.1 389.0l-3.6 2.6M454.1 389.0l4.1 2.1M458.2 391.1l0.6 -1.9M458.8 389.2l3.5 -0.4M454.1 389.0l-0.2 -4.3M453.9 384.8l-1.0 -3.1M452.9 381.7l-0.0 -1.2M465.5 388.3l-1.0 -4.0M464.5 384.4l0.6 -1.6M465.1 382.8l3.0 -0.7M465.5 388.3l4.7 0.6M470.2 389.0l2.8 2.9M472.9 391.8l-0.7 1.3M465.5 388.3l-1.6 -0.3M465.5 388.3l-2.1 3.6M463.4 392.0l-1.1 3.7M462.3 395.7l1.4 3.3M478.4 383.9l1.3 1.3M479.7 385.2l0.1 -3.5M479.8 381.7l-3.2 -2.0M478.4 383.9l-3.7 -2.9M474.7 381.0l-2.8 1.3M471.9 382.3l-2.6 3.2M478.4 383.9l-1.1 3.8M478.4 383.9l3.6 -2.3M482.0 381.6l-2.5 2.8M479.5 384.5l-2.9 1.5M378.9 397.7l-0.4 3.6M378.9 397.7l1.7 -3.8M380.6 393.9l-0.0 -3.9M380.6 390.1l-0.9 -3.9M378.9 397.7l-4.2 -1.0M374.7 396.8l-2.9 -2.1M371.7 394.7l-4.0 -0.8M378.9 397.7l2.9 1.2M381.8 399.0l3.8 0.0M385.6 399.0l2.9 2.3M392.7 398.3l-0.6 3.2M392.1 401.5l3.5 1.7M395.5 403.2l4.0 -0.4M392.7 398.3l-3.3 0.6M389.5 398.9l-1.0 3.1M388.4 402.0l1.5 -0.9M392.7 398.3l-0.4 -4.4M392.7 398.3l4.3 0.6M397.0 398.9l2.7 2.3M399.7 401.1l3.7 1.5M402.6 399.0l-2.4 3.4M400.2 402.4l-2.9 1.3M397.3 403.8l0.5 -3.5M402.6 399.0l2.6 -2.4M405.1 396.6l3.0 -2.5M408.1 394.1l3.9 -1.1M402.6 399.0l2.9 1.9M402.6 399.0l-3.0 -2.9M399.6 396.1l-3.0 -2.8M396.6 393.3l-3.5 -1.9M411.7 402.3l0.2 0.5M411.9 402.8l0.5 -3.3M412.4 399.5l3.0 -2.0M411.7 402.3l1.5 -4.3M413.2 398.0l-0.9 -3.7M412.3 394.3l0.3 -3.8M411.7 402.3l2.7 3.3M411.7 402.3l-4.5 0.5M407.2 402.8l-3.4 -0.1M403.8 402.7l-4.0 0.8M428.6 402.0l-2.4 -0.3M428.6 402.0l-2.9 1.3M425.7 403.2l-0.9 3.7M424.7 407.0l-3.0 -1.5M428.6 402.0l3.4 3.2M432.0 405.2l1.8 3.4M433.8 408.6l1.9 3.0M428.6 402.0l1.9 -4.2M430.5 397.8l-0.2 -3.7M430.3 394.1l-3.9 0.6M439.1 400.1l-0.0 1.3M439.1 400.1l3.6 2.1M442.6 402.3l-1.9 2.8M440.7 405.1l-4.0 -0.5M439.1 400.1l0.5 -4.7M439.5 395.5l0.9 1.0M440.4 396.5l0.5 1.7M439.1 400.1l-4.1 1.3M435.0 401.5l-2.8 -3.0M432.2 398.4l0.7 -1.6M445.8 396.8l1.7 -4.4M445.8 396.8l-2.3 0.6M443.5 397.3l1.5 3.5M445.0 400.9l-1.7 -0.3M445.8 396.8l-3.0 0.7M442.8 397.5l-3.1 0.8M439.7 398.3l0.6 -0.6M445.8 396.8l3.6 3.1M449.4 399.8l-1.7 3.7M447.7 403.5l1.0 3.0M457.3 402.9l4.2 1.2M461.5 404.1l-1.0 -1.5M460.6 402.6l-0.9 -0.7M457.3 402.9l-0.5 1.8M456.8 404.7l3.6 -0.5M460.4 404.2l3.9 -0.1M457.3 402.9l-3.4 1.7M453.9 404.6l-0.8 0.1M453.1 404.6l0.4 -0.4M457.3 402.9l-0.3 -4.7M469.5 397.7l4.5 1.2M474.0 398.9l2.2 2.6M476.2 401.5l-0.7 1.7M469.5 397.7l-2.9 3.5M466.7 401.2l1.1 4.0M467.7 405.2l-2.3 1.1M469.5 397.7l-1.1 -3.9M469.5 397.7l-0.5 -0.8M469.0 397.0l-2.9 2.8M466.1 399.8l-2.1 1.3M481.8 399.0l-0.9 -2.5M480.9 396.5l-2.7 -1.1M478.2 395.4l-0.7 -2.0M481.8 399.0l1.4 4.3M483.2 403.4l-0.3 4.1M482.9 407.4l-1.4 1.9M481.8 399.0l3.4 -2.1M481.8 399.0l-3.9 0.3M477.9 399.3l-3.5 -1.2M474.3 398.1l-3.0 0.3M371.6 404.4l-1.0 -2.4M370.6 402.0l-1.2 0.3M369.3 402.3l-3.1 1.5M371.6 404.4l2.1 4.1M373.7 408.5l2.2 3.4M375.9 411.9l3.5 2.0M371.6 404.4l-4.0 0.9M371.6 404.4l2.9 -2.5M374.5 401.9l-3.3 -2.2M371.2 399.6l-2.5 0.9M382.8 411.7l1.7 -3.1M384.5 408.6l1.4 -3.8M386.0 404.9l2.9 -2.8M382.8 411.7l3.0 0.3M382.8 411.7l-0.4 4.2M382.4 416.0l-1.2 0.7M381.3 416.7l-3.1 1.1M382.8 411.7l-4.2 -1.4M378.6 410.3l-2.9 1.4M375.7 411.7l-2.2 -1.1M392.8 408.0l1.1 -2.3M392.8 408.0l-4.0 -1.8M388.8 406.2l-2.9 -0.0M385.8 406.2l-1.8 3.4M392.8 408.0l3.5 -0.6M396.2 407.4l3.7 0.6M399.9 408.1l-1.0 1.0M392.8 408.0l-0.6 4.6M392.2 412.6l1.8 -0.9M393.9 411.7l3.2 -0.5M408.5 407.8l2.3 3.9M410.9 411.8l-3.5 2.1M407.4 413.9l-2.0 3.2M408.5 407.8l2.8 -3.7M411.4 404.1l2.2 -3.0M413.6 401.1l-1.5 3.8M408.5 407.8l-1.4 0.2M407.1 408.0l0.3 2.5M407.4 410.5l-2.3 -0.2M408.5 407.8l-3.8 -0.5M417.0 411.7l2.4 4.0M419.4 415.7l3.1 2.2M422.5 417.9l1.4 2.7M417.0 411.7l2.9 -3.7M419.9 408.0l0.9 -3.8M420.8 404.2l0.5 -3.7M417.0 411.7l-3.4 -0.5M417.0 411.7l-1.9 0.1M415.1 411.9l-2.7 2.0M412.4 413.8l-3.2 2.1M435.3 409.6l-0.7 -2.2M434.6 407.4l-2.2 -2.1M432.4 405.4l-3.7 1.5M435.3 409.6l-3.3 -1.3M432.0 408.4l-3.2 0.4M428.8 408.7l2.0 -3.4M435.3 409.6l4.2 -1.2M435.3 409.6l-0.2 4.7M435.1 414.3l-0.2 4.0M434.9 418.3l-2.4 1.6M445.0 406.2l-3.0 -3.2M442.1 403.0l-1.8 -3.1M440.2 399.9l-2.3 -3.2M445.0 406.2l3.2 1.2M445.0 406.2l2.2 -1.9M447.2 404.4l1.8 -3.0M449.0 401.4l3.8 0.8M445.0 406.2l-2.4 3.8M442.6 410.1l-2.7 1.5M439.9 411.5l-0.4 2.0M450.1 411.6l0.5 -1.2M450.1 411.6l4.2 -0.1M454.3 411.4l3.2 2.1M457.5 413.5l-1.0 -2.9M450.1 411.6l-2.9 -3.0M447.2 408.6l-3.5 -0.2M443.7 408.4l-3.5 2.0M450.1 411.6l-1.8 4.4M448.4 416.0l-1.2 2.1M447.1 418.0l-1.7 3.7M467.2 407.4l-3.7 1.5M463.5 408.9l-3.8 -0.8M459.7 408.1l-3.9 -1.4M467.2 407.4l3.9 2.4M471.1 409.7l0.6 3.9M471.7 413.7l3.7 1.7M467.2 407.4l-0.9 0.7M466.3 408.1l1.3 1.7M467.7 409.8l3.7 -0.6M467.2 407.4l0.7 -4.6M474.3 404.3l-2.7 -3.7M474.3 404.3l-2.6 3.9M471.7 408.2l-3.2 1.6M468.5 409.8l-0.8 2.8M474.3 404.3l1.9 -0.8M476.2 403.6l2.8 -0.3M479.0 403.2l3.0 -1.9M474.3 404.3l3.4 0.6M477.8 404.9l-1.0 2.7M476.8 407.6l0.3 -0.9M371.9 415.2l2.9 -3.7M371.9 415.2l-4.3 -1.3M367.6 413.9l-4.1 -0.4M363.6 413.5l-3.5 -1.6M371.9 415.2l-0.2 1.5M371.8 416.7l0.9 -1.5M372.6 415.2l-2.6 0.7M371.9 415.2l1.6 3.5M373.5 418.7l3.6 -0.9M377.1 417.7l-1.6 -3.0M390.5 420.2l4.2 -0.6M394.7 419.7l3.6 0.2M398.3 419.9l3.4 -0.9M390.5 420.2l-0.6 4.5M389.9 424.7l-1.2 0.7M388.7 425.5l-3.9 1.3M390.5 420.2l-3.4 -1.2M390.5 420.2l-0.3 -2.7M390.2 417.5l-2.2 -3.0M388.0 414.5l-3.9 1.0M404.8 421.3l-0.1 4.5M404.7 425.8l-1.5 2.3M403.2 428.1l-1.9 2.1M404.8 421.3l-3.7 -0.8M401.1 420.5l-2.2 -2.1M398.9 418.4l-2.4 -0.9M404.8 421.3l-0.2 -2.9M404.8 421.3l4.0 -0.8M408.8 420.5l1.4 -3.3M410.2 417.2l-2.1 -3.5M414.5 416.6l-0.4 4.5M414.5 416.6l4.3 -1.6M418.7 415.0l2.9 -1.9M421.6 413.1l0.9 -1.5M414.5 416.6l-3.3 -2.5M411.1 414.0l-4.0 0.2M407.2 414.3l-2.9 -2.8M414.5 416.6l-0.5 -0.4M414.0 416.1l0.6 2.3M414.5 418.4l2.1 3.5M421.1 421.7l1.3 -1.7M422.4 420.0l-2.3 -3.2M420.1 416.8l4.0 -0.9M421.1 421.7l0.9 4.6M421.9 426.3l-1.5 1.9M420.4 428.2l-1.4 3.6M421.1 421.7l-4.6 -0.8M416.5 420.9l-0.2 3.9M416.3 424.8l-0.0 -1.0M421.1 421.7l2.4 -2.2M435.7 416.5l2.0 3.0M435.7 416.5l3.1 -1.1M438.8 415.4l-1.6 -1.4M437.2 414.1l-3.6 0.6M435.7 416.5l-1.2 -3.9M434.5 412.5l-1.3 -3.9M433.2 408.6l0.6 -4.1M435.7 416.5l-3.9 2.0M431.8 418.5l-0.2 -2.8M431.7 415.7l3.2 -1.7M448.1 421.7l-3.2 0.7M448.1 421.7l0.5 -4.6M448.7 417.0l2.6 -3.0M451.3 414.0l0.3 -1.7M448.1 421.7l4.1 1.9M452.2 423.5l3.8 0.1M456.1 423.6l4.1 0.4M448.1 421.7l-1.4 2.0M446.7 423.7l-3.5 2.1M443.2 425.8l0.3 4.1M457.9 419.7l3.8 -1.9M457.9 419.7l0.3 4.7M458.2 424.4l0.7 3.9M458.9 428.3l0.9 3.4M457.9 419.7l-3.8 -1.4M454.0 418.3l-1.1 -0.7M453.0 417.5l-0.1 -4.1M457.9 419.7l-0.3 -1.4M457.6 418.3l3.5 1.0M461.0 419.3l0.6 -2.5M474.7 416.4l4.4 0.5M479.1 417.0l3.8 -0.1M482.9 416.9l2.1 -3.1M474.7 416.4l-0.3 1.5M474.7 416.4l-1.2 -4.6M473.5 411.9l1.2 -3.6M474.7 408.3l3.3 0.7M474.7 416.4l-2.9 2.5M471.8 419.0l0.6 2.1M472.3 421.0l-2.2 -0.2M486.6 422.9l-0.5 -2.1M486.1 420.8l-2.4 -1.7M483.7 419.1l-0.8 -4.0M486.6 422.9l-2.7 -2.2M483.9 420.7l-0.9 -4.0M483.1 416.7l-3.8 -1.4M486.6 422.9l4.5 -0.3M486.6 422.9l-1.3 4.5M485.3 427.4l-0.1 3.6M485.2 430.9l3.9 0.1M399.0 428.4l3.8 -2.7M402.8 425.7l1.2 -1.9M404.0 423.8l1.2 1.0M399.0 428.4l-1.5 1.1M397.5 429.5l-1.1 3.8M396.3 433.3l-2.1 1.5M399.0 428.4l-3.4 -2.3M395.6 426.1l-1.6 0.8M394.0 427.0l0.3 3.8M399.0 428.4l1.1 4.0M407.0 423.9l1.0 2.2M408.0 426.1l-3.6 1.2M404.4 427.3l-2.5 -0.6M407.0 423.9l4.0 -0.5M411.0 423.4l0.5 3.1M411.5 426.5l-0.9 3.5M407.0 423.9l-1.8 -4.2M405.2 419.6l-2.0 -2.5M403.2 417.1l3.7 0.4M407.0 423.9l-3.1 2.5M418.6 431.2l1.9 4.2M420.5 435.4l0.5 0.4M421.0 435.8l1.0 0.5M418.6 431.2l3.0 -3.5M421.6 427.7l3.9 -0.5M425.5 427.2l-3.0 2.8M418.6 431.2l-4.0 -0.6M414.6 430.6l-2.5 -2.3M412.0 428.3l-3.8 -1.0M418.6 431.2l-0.9 -0.1M429.9 425.7l-3.5 -2.5M429.9 425.7l-1.7 2.5M428.2 428.1l2.9 2.2M431.1 430.4l3.7 -1.1M429.9 425.7l3.4 -2.9M433.3 422.8l1.9 -3.6M435.1 419.1l2.6 1.2M429.9 425.7l1.8 3.0M431.7 428.6l0.4 1.3M432.1 429.9l1.1 -1.3M443.7 427.6l-0.2 1.8M443.5 429.4l0.1 3.6M443.7 433.0l-1.2 3.9M443.7 427.6l-1.8 3.1M443.7 427.6l-2.5 -4.0M441.3 423.6l-3.7 0.8M437.6 424.4l0.9 2.4M443.7 427.6l4.5 -0.9M448.2 426.7l4.0 -0.7M452.3 426.0l4.1 0.2M456.6 428.8l-3.6 -3.1M453.0 425.8l-2.8 -3.0M450.2 422.8l-2.3 -2.9M456.6 428.8l3.4 -1.6M456.6 428.8l-1.5 4.2M455.1 433.0l-1.0 4.0M454.1 437.0l-3.5 -1.2M456.6 428.8l1.7 0.5M458.3 429.3l1.0 1.5M459.3 430.8l0.3 4.1M465.2 429.3l-1.8 3.3M465.2 429.3l-1.6 0.7M463.7 430.0l-1.2 3.8M462.5 433.8l0.2 2.2M465.2 429.3l-1.3 -4.3M463.9 425.0l-1.1 -0.6M462.8 424.4l-2.6 2.5M465.2 429.3l4.7 0.3M470.0 429.6l0.4 3.4M470.3 433.0l0.6 3.5M477.3 432.1l2.7 -2.7M480.1 429.5l-1.3 -3.8M478.8 425.7l-0.4 -2.0M477.3 432.1l-4.3 0.4M477.3 432.1l-0.4 -2.1M476.9 430.1l1.8 -3.6M478.7 426.5l0.3 -3.5M477.3 432.1l1.9 4.3M479.3 436.4l-0.2 3.9M479.1 440.2l-2.0 3.1M371.3 436.9l-3.6 -2.2M367.7 434.8l-3.0 -2.8M364.6 432.0l-2.6 -2.5M371.3 436.9l0.2 4.5M371.3 436.9l-0.6 -0.2M370.7 436.7l3.9 -0.7M374.6 436.0l-0.9 -3.6M371.3 436.9l4.0 -2.1M375.3 434.8l-1.7 2.2M373.6 437.0l3.0 2.5M375.2 433.5l-4.3 -1.6M375.2 433.5l3.2 -3.4M378.4 430.1l2.6 1.4M380.9 431.5l2.5 3.0M375.2 433.5l0.1 1.4M375.2 434.9l-0.4 1.6M374.8 436.5l-3.3 1.1M375.2 433.5l1.0 3.7M376.2 437.2l-3.1 2.2M373.1 439.4l-0.8 4.0M395.3 440.3l2.2 -3.0M397.6 437.3l0.1 1.2M397.6 438.5l0.9 0.6M395.3 440.3l-4.4 -1.6M391.0 438.7l-4.0 -0.5M387.0 438.2l-2.4 -3.2M395.3 440.3l2.4 0.3M395.3 440.3l-0.2 4.3M395.1 444.6l-2.9 2.4M392.2 447.0l-3.6 -1.5M403.8 435.8l4.5 0.1M408.3 435.9l0.9 3.7M409.2 439.7l0.2 4.0M403.8 435.8l-0.2 -1.1M403.8 435.8l-2.0 4.2M401.8 440.0l-1.7 3.3M400.1 443.3l1.8 2.9M403.8 435.8l-2.3 -3.3M401.5 432.5l-0.9 -2.8M400.6 429.7l-3.0 2.1M414.6 433.8l-0.4 -1.4M414.6 433.8l3.9 -1.9M418.5 431.9l0.9 -3.9M419.4 428.0l-2.6 -2.4M414.6 433.8l0.3 4.7M414.8 438.5l-0.6 4.1M414.3 442.6l0.8 3.8M414.6 433.8l-3.7 -1.5M410.8 432.3l-1.7 -3.5M409.1 428.8l-0.5 -4.1M425.1 438.4l-3.5 -2.9M425.1 438.4l-1.2 4.4M423.9 442.8l-1.8 2.9M422.2 445.7l-0.9 3.6M425.1 438.4l0.8 -0.3M425.9 438.1l3.4 -0.8M429.3 437.3l3.5 1.1M425.1 438.4l3.9 -1.2M429.1 437.2l1.9 3.4M431.0 440.6l2.1 1.1M432.3 437.7l4.5 -0.6M436.8 437.1l-0.5 -2.2M436.3 434.9l-3.3 1.2M432.3 437.7l-0.4 3.9M432.3 437.7l-1.4 -3.7M430.9 434.0l3.1 0.4M433.9 434.3l0.7 -2.8M432.3 437.7l-2.7 0.4M429.6 438.2l-2.3 0.8M427.3 438.9l-3.7 -0.5M449.2 436.2l4.3 1.9M453.4 438.1l0.4 -0.3M453.8 437.8l2.0 -2.8M449.2 436.2l-1.8 1.0M447.3 437.2l-3.6 1.5M443.7 438.7l-3.9 -1.0M449.2 436.2l0.3 -4.7M449.5 431.5l3.9 -0.3M453.4 431.1l3.0 -1.0M449.2 436.2l-2.8 1.7M461.6 439.0l-0.7 0.1M460.9 439.1l-3.9 -1.0M457.0 438.1l-2.8 2.5M461.6 439.0l-4.2 0.2M457.4 439.2l-1.2 -0.9M456.3 438.2l1.0 -1.7M461.6 439.0l2.2 -4.0M461.6 439.0l2.6 3.7M464.2 442.7l2.1 1.0M466.4 443.8l1.3 1.4M467.7 436.5l4.5 1.4M472.2 438.0l1.3 3.5M473.5 441.5l1.1 2.9M467.7 436.5l-2.8 2.3M464.9 438.8l3.2 0.6M468.1 439.4l-3.6 0.2M467.7 436.5l-0.3 -4.6M467.7 436.5l-1.4 0.9M466.3 437.4l-1.5 3.8M464.8 441.2l0.7 3.9M479.8 435.9l0.5 -1.7M480.3 434.2l-2.9 -0.5M477.3 433.7l-0.1 -1.0M479.8 435.9l-1.6 -3.4M479.8 435.9l4.2 1.5M484.0 437.4l2.5 -3.0M486.5 434.4l3.0 1.9M479.8 435.9l-3.0 3.6M476.7 439.5l-1.3 3.1M475.4 442.6l-1.8 3.7M374.1 450.6l0.2 2.6M374.3 453.2l2.0 2.4M376.3 455.6l2.7 2.2M374.1 450.6l0.9 2.7M374.1 450.6l3.2 -3.4M377.4 447.2l3.9 1.1M381.2 448.3l1.4 3.7M374.1 450.6l-4.3 -1.9M369.8 448.7l-2.8 2.1M367.1 450.9l-3.7 1.7M389.5 443.3l4.4 0.3M393.9 443.5l1.6 2.8M395.5 446.3l3.5 -1.8M389.5 443.3l-2.5 3.7M387.0 447.0l-1.9 3.0M385.2 450.0l1.1 3.9M389.5 443.3l-2.1 -4.0M387.4 439.3l2.8 -1.3M390.3 438.0l-3.1 -2.5M389.5 443.3l0.2 -0.0M397.2 451.7l1.8 -0.3M399.0 451.4l-3.7 1.5M395.3 452.9l-2.6 0.6M397.2 451.7l1.9 3.7M399.1 455.3l2.5 -0.4M401.6 455.0l-0.3 -3.7M397.2 451.7l0.9 -4.0M398.1 447.7l1.2 -2.1M399.3 445.6l-2.8 -2.1M397.2 451.7l-4.7 0.6M409.7 452.1l-3.8 2.3M405.9 454.4l-3.5 1.1M402.4 455.5l-2.3 2.2M409.7 452.1l0.1 0.1M409.8 452.3l-1.2 0.2M408.6 452.5l2.2 3.4M409.7 452.1l-0.1 -4.5M409.7 452.1l3.9 2.1M413.6 454.2l2.2 0.5M415.8 454.7l2.0 -1.2M415.6 451.9l-1.0 -2.4M414.6 449.5l-0.7 -0.9M413.9 448.6l3.9 0.9M415.6 451.9l-0.2 -3.0M415.4 448.9l4.0 0.1M419.4 449.1l3.3 0.8M415.6 451.9l4.3 1.8M415.6 451.9l-3.1 3.5M412.4 455.3l0.2 0.7M412.7 456.0l-3.1 -2.1M427.0 451.0l-4.2 -0.6M422.8 450.4l-3.0 0.3M419.7 450.7l-0.6 2.2M427.0 451.0l-0.2 3.7M427.0 451.0l1.1 -3.8M428.1 447.1l-0.6 -3.8M427.5 443.4l-3.7 -1.5M427.0 451.0l3.3 0.7M430.2 451.7l1.3 0.0M431.5 451.7l-1.7 3.7M438.1 450.7l4.5 1.2M442.6 451.9l0.7 4.0M443.3 455.9l4.0 -0.1M438.1 450.7l-2.9 3.5M435.2 454.2l-2.4 0.8M432.8 455.0l-2.3 3.0M438.1 450.7l-0.5 -0.8M437.6 449.9l-0.6 3.8M437.0 453.7l-2.7 2.7M438.1 450.7l-1.1 -3.9M477.7 451.4l-0.6 -3.9M477.7 451.4l1.2 3.6M478.9 455.0l-1.8 3.2M477.0 458.3l-2.2 2.5M477.7 451.4l-4.0 1.1M473.7 452.5l-2.4 2.8M471.3 455.3l2.2 3.1M477.7 451.4l3.5 -0.7M481.2 450.7l1.3 -2.1M482.4 448.7l2.8 -2.9M371.1 454.6l0.3 3.1M371.1 454.6l-4.5 -0.7M366.6 453.9l-3.2 1.6M363.3 455.5l-3.6 1.8M371.1 454.6l1.9 -4.1M373.0 450.5l2.0 -3.6M374.9 446.9l4.1 -0.3M371.1 454.6l2.4 1.6M373.4 456.3l1.6 -2.8M375.1 453.5l3.2 0.0M375.2 459.3l-0.4 -2.2M374.8 457.1l-0.8 -1.9M374.0 455.2l0.7 3.0M375.2 459.3l-2.5 4.0M372.7 463.3l1.0 4.0M373.7 467.3l0.1 3.0M375.2 459.3l4.5 1.0M379.7 460.3l2.6 1.8M382.4 462.1l1.6 -1.9M375.2 459.3l-1.6 -2.8M395.4 452.9l-2.2 3.7M393.2 456.7l-1.8 -1.4M391.4 455.3l-2.7 2.7M395.4 452.9l3.0 -1.8M395.4 452.9l2.4 1.3M397.8 454.2l3.4 -2.2M401.1 452.1l3.2 -2.2M395.4 452.9l-3.2 -3.3M392.2 449.7l-3.4 1.9M388.7 451.5l-3.5 -2.1M416.5 459.0l-3.1 -1.8M413.3 457.2l-1.4 0.0M411.9 457.2l-4.0 0.5M416.5 459.0l-1.4 -0.8M415.0 458.2l-3.0 2.8M412.0 461.0l-2.8 0.7M416.5 459.0l0.4 4.6M416.5 459.0l4.2 -2.0M420.7 457.0l1.7 -3.7M422.4 453.3l-2.2 -2.5M427.8 456.3l-4.6 0.6M423.2 456.9l-1.8 -3.6M421.4 453.3l-3.9 -0.5M427.8 456.3l2.0 -1.2M429.9 455.1l-2.7 -2.1M427.2 453.0l-2.6 -1.0M427.8 456.3l1.9 4.0M427.8 456.3l0.7 -3.4M428.6 452.9l-0.1 -3.4M428.5 449.6l3.0 0.6M436.5 461.6l1.5 -4.5M438.0 457.1l-2.6 -2.9M435.4 454.2l-2.0 -3.3M436.5 461.6l2.8 2.6M436.5 461.6l-4.4 0.2M432.1 461.8l-4.1 -0.3M428.0 461.5l-1.6 3.5M436.5 461.6l0.1 1.7M436.7 463.3l-2.8 -2.9M433.9 460.4l-2.8 -1.6M451.2 453.7l0.8 2.0M452.0 455.7l-0.0 -3.5M452.0 452.2l-4.0 0.9M451.2 453.7l3.8 0.4M455.0 454.1l0.3 3.9M455.3 458.0l-2.0 3.6M451.2 453.7l-3.6 2.2M447.6 455.9l-3.0 -1.0M444.5 454.9l2.3 0.4M451.2 453.7l-1.0 -4.6M410.8 470.8l-0.2 4.3M410.6 475.1l1.7 3.2M412.2 478.4l-0.6 1.8M410.8 470.8l-0.7 -3.3M410.1 467.6l-1.5 -2.3M408.6 465.3l-4.0 0.4M410.8 470.8l4.3 -0.6M410.8 470.8l-3.3 -0.4M407.5 470.5l-2.1 1.7M405.4 472.2l-2.3 -3.4M420.3 470.7l2.0 2.4M422.2 473.1l3.1 1.8M425.3 474.8l0.0 -1.8M420.3 470.7l-4.7 0.5M420.3 470.7l1.1 -4.6M421.4 466.1l-0.7 1.6M420.7 467.8l-0.2 3.9M420.3 470.7l1.6 1.7M421.8 472.4l-1.6 1.2M420.2 473.6l2.1 -3.3M435.0 471.6l3.2 2.8M438.2 474.3l-0.9 1.1M437.4 475.4l2.6 -0.8M435.0 471.6l1.9 -2.0M435.0 471.6l-1.4 -3.4M433.7 468.2l-2.1 -2.9M431.6 465.3l-2.9 -2.8M435.0 471.6l-3.7 2.6M431.3 474.2l-3.4 -2.3M427.9 471.9l-3.2 -2.3M442.2 466.2l-4.7 -0.2M437.5 466.0l-2.3 -3.2M435.2 462.8l-3.5 -0.3M442.2 466.2l1.1 -1.7M442.2 466.2l1.4 4.5M443.6 470.7l-0.9 3.9M442.7 474.7l-3.0 2.7M442.2 466.2l2.1 -2.6M444.3 463.6l2.9 -0.3M447.2 463.3l0.2 0.9M453.5 472.2l2.2 -4.0M455.8 468.2l2.4 2.1M458.1 470.4l-0.4 -0.9M453.5 472.2l2.3 3.7M455.8 475.9l3.5 2.1M459.3 478.0l2.1 -3.2M453.5 472.2l-0.2 0.5M453.3 472.7l3.8 0.4M457.0 473.2l4.0 -0.9M453.5 472.2l-4.4 -0.1M461.1 465.2l4.4 -0.1M465.5 465.1l2.5 -1.3M467.9 463.8l2.2 -2.9M461.1 465.2l-1.8 4.3M459.3 469.5l3.4 1.5M462.7 471.0l1.0 3.8M461.1 465.2l-2.7 -3.1M458.4 462.1l-1.9 -2.9M456.5 459.1l-2.1 -3.5M461.1 465.2l0.1 -1.1M480.0 467.2l-2.4 1.2M477.6 468.4l-0.2 -1.3M477.4 467.0l-1.4 2.7M480.0 467.2l4.6 0.5M480.0 467.2l-1.3 2.8M478.6 470.0l0.8 -1.0M479.4 469.0l1.7 2.8M480.0 467.2l-0.9 -4.5M479.1 462.7l-0.6 -3.7M478.5 459.1l0.0 -2.9M423.4 473.6l-3.8 -2.6M423.4 473.6l-1.0 4.6M422.4 478.1l-2.2 3.3M420.3 481.4l-2.7 3.0M423.4 473.6l1.3 -0.7M424.8 472.9l0.7 1.1M425.5 474.0l3.4 2.3M423.4 473.6l3.5 -1.3M426.9 472.3l3.0 -1.9M430.0 470.4l-0.9 -2.7M436.2 480.3l-1.4 -4.4M436.2 480.3l-2.3 1.7M433.9 482.0l2.9 -0.0M436.8 481.9l4.0 0.3M436.2 480.3l-0.9 2.7M435.3 483.0l0.6 4.1M435.9 487.0l0.3 1.6M436.2 480.3l4.6 -0.0M440.8 480.3l1.7 1.2M442.5 481.5l-0.1 2.9M441.2 485.8l0.6 4.7M441.2 485.8l-4.6 -0.9M436.6 484.9l0.1 3.3M436.7 488.2l1.4 0.7M441.2 485.8l2.6 -1.6M443.7 484.2l2.9 -2.3M446.6 481.9l1.0 -3.6M441.2 485.8l1.4 -2.1M442.5 483.7l2.4 0.5M444.9 484.1l3.4 2.1M438.6 495.7l3.3 3.2M442.0 498.9l3.8 0.0M445.8 498.9l2.5 -2.4M438.6 495.7l-1.4 0.3M437.2 496.0l0.8 -3.9M438.1 492.1l3.8 -1.3M438.6 495.7l-3.7 0.8M434.9 496.5l1.9 -1.3M436.8 495.2l0.6 -0.4M438.6 495.7l1.7 -4.3" stroke="#686868" stroke-width="1.75" stroke-linecap="round" fill="none"/>
<path d="M386.5 365.8l-1.1 0.4M386.5 365.8l0.3 -0.2M386.5 365.8l0.1 -1.0M386.5 365.8l0.7 0.8M394.8 371.9l-0.7 0.2M394.8 371.9l-0.1 -1.1M394.8 371.9l-0.2 0.8M394.8 371.9l1.1 0.1M404.2 365.0l0.9 0.3M404.2 365.0l-0.2 -1.2M404.2 365.0l-1.0 0.5M404.2 365.0l0.2 0.3M466.9 372.0l1.0 0.3M466.9 372.0l0.0 -1.1M466.9 372.0l-0.1 0.7M466.9 372.0l-0.9 0.2M393.7 383.0l-1.0 -0.5M393.7 383.0l0.5 0.1M393.7 383.0l0.7 -0.7M393.7 383.0l-0.2 1.1M406.9 381.1l-0.9 0.1M406.9 381.1l-0.4 -0.2M406.9 381.1l0.6 1.0M406.9 381.1l0.7 -0.9M418.1 377.6l0.7 0.8M418.1 377.6l0.3 -1.1M418.1 377.6l-1.1 0.2M418.1 377.6l0.1 0.1M420.9 378.4l-0.4 -0.2M420.9 378.4l0.8 0.9M420.9 378.4l0.5 -1.0M420.9 378.4l-0.9 0.3M440.6 383.1l-1.0 0.0M440.6 383.1l-0.2 -0.2M440.6 383.1l0.5 1.1M440.6 383.1l0.7 -0.8M444.0 379.0l0.3 0.7M444.0 379.0l-1.2 0.0M444.0 379.0l0.6 0.3M444.0 379.0l0.3 -1.1M459.6 381.7l-0.1 -0.4M459.6 381.7l1.1 -0.0M459.6 381.7l-0.6 -0.7M459.6 381.7l-0.4 1.1M469.9 382.6l-0.2 -1.0M469.9 382.6l1.0 0.5M469.9 382.6l-0.9 0.7M469.9 382.6l-0.0 -0.2M480.5 382.5l0.3 -0.7M480.5 382.5l0.5 1.1M480.5 382.5l-1.2 0.1M480.5 382.5l0.4 -0.5M377.5 390.4l-0.0 -0.3M377.5 390.4l1.0 -0.3M377.5 390.4l-0.9 -0.5M377.5 390.4l-0.1 1.2M386.9 391.8l-0.5 -0.2M386.9 391.8l0.8 -0.9M386.9 391.8l-0.8 0.1M386.9 391.8l0.6 1.0M394.0 386.7l-0.0 1.2M394.0 386.7l-0.6 -0.4M394.0 386.7l-0.4 -0.4M394.0 386.7l1.1 -0.4M410.5 389.2l-0.5 -0.3M410.5 389.2l-0.8 0.1M410.5 389.2l0.6 1.0M410.5 389.2l0.8 -0.8M422.4 384.9l-0.7 -0.9M422.4 384.9l0.3 0.6M422.4 384.9l-0.6 0.7M422.4 384.9l0.9 -0.4M429.1 389.2l0.3 -0.1M429.1 389.2l1.0 0.0M429.1 389.2l-0.7 -0.9M429.1 389.2l-0.6 1.0M439.7 392.9l-0.7 -0.1M439.7 392.9l-0.3 -0.9M439.7 392.9l-0.2 1.0M439.7 392.9l1.1 -0.1M454.1 389.0l-0.1 -0.1M454.1 389.0l-0.9 0.7M454.1 389.0l1.0 0.5M454.1 389.0l-0.0 -1.1M465.5 388.3l-0.3 -1.0M465.5 388.3l1.2 0.2M465.5 388.3l-0.4 -0.1M465.5 388.3l-0.5 0.9M478.4 383.9l0.3 0.3M478.4 383.9l-0.9 -0.7M478.4 383.9l-0.3 1.0M478.4 383.9l0.9 -0.6M378.9 397.7l-0.1 0.9M378.9 397.7l0.4 -1.0M378.9 397.7l-1.1 -0.2M378.9 397.7l0.7 0.3M392.7 398.3l-0.2 0.8M392.7 398.3l-0.8 0.2M392.7 398.3l-0.1 -1.1M392.7 398.3l1.1 0.1M402.6 399.0l-0.6 0.9M402.6 399.0l0.6 -0.6M402.6 399.0l0.7 0.5M402.6 399.0l-0.8 -0.7M411.7 402.3l0.1 0.1M411.7 402.3l0.4 -1.1M411.7 402.3l0.7 0.8M411.7 402.3l-1.1 0.1M428.6 402.0l-0.6 -0.1M428.6 402.0l-0.7 0.3M428.6 402.0l0.8 0.8M428.6 402.0l0.5 -1.0M439.1 400.1l-0.0 0.3M439.1 400.1l0.9 0.5M439.1 400.1l0.1 -1.2M439.1 400.1l-1.0 0.3M445.8 396.8l0.4 -1.1M445.8 396.8l-0.6 0.1M445.8 396.8l-0.7 0.2M445.8 396.8l0.9 0.8M457.3 402.9l1.1 0.3M457.3 402.9l-0.1 0.5M457.3 402.9l-0.8 0.4M457.3 402.9l-0.1 -1.2M469.5 397.7l1.1 0.3M469.5 397.7l-0.7 0.9M469.5 397.7l-0.3 -1.0M469.5 397.7l-0.1 -0.2M481.8 399.0l-0.2 -0.6M481.8 399.0l0.3 1.1M481.8 399.0l0.9 -0.5M481.8 399.0l-1.0 0.1M371.6 404.4l-0.3 -0.6M371.6 404.4l0.5 1.0M371.6 404.4l-1.0 0.2M371.6 404.4l0.7 -0.6M382.8 411.7l0.4 -0.8M382.8 411.7l0.7 0.1M382.8 411.7l-0.1 1.1M382.8 411.7l-1.1 -0.4M392.8 408.0l0.3 -0.6M392.8 408.0l-1.0 -0.4M392.8 408.0l0.9 -0.1M392.8 408.0l-0.1 1.1M408.5 407.8l0.6 1.0M408.5 407.8l0.7 -0.9M408.5 407.8l-0.4 0.1M408.5 407.8l-0.9 -0.1M417.0 411.7l0.6 1.0M417.0 411.7l0.7 -0.9M417.0 411.7l-0.8 -0.1M417.0 411.7l-0.5 0.0M435.3 409.6l-0.2 -0.6M435.3 409.6l-0.8 -0.3M435.3 409.6l1.1 -0.3M435.3 409.6l-0.0 1.2M445.0 406.2l-0.7 -0.8M445.0 406.2l0.8 0.3M445.0 406.2l0.5 -0.5M445.0 406.2l-0.6 1.0M450.1 411.6l0.1 -0.3M450.1 411.6l1.1 -0.0M450.1 411.6l-0.7 -0.8M450.1 411.6l-0.4 1.1M467.2 407.4l-0.9 0.4M467.2 407.4l1.0 0.6M467.2 407.4l-0.2 0.2M467.2 407.4l0.2 -1.2M474.3 404.3l-0.7 -0.9M474.3 404.3l-0.7 1.0M474.3 404.3l0.5 -0.2M474.3 404.3l0.9 0.1M371.9 415.2l0.7 -0.9M371.9 415.2l-1.1 -0.3M371.9 415.2l-0.0 0.4M371.9 415.2l0.4 0.9M390.5 420.2l1.1 -0.1M390.5 420.2l-0.1 1.1M390.5 420.2l-0.8 -0.3M390.5 420.2l-0.1 -0.7M404.8 421.3l-0.0 1.1M404.8 421.3l-0.9 -0.2M404.8 421.3l-0.0 -0.7M404.8 421.3l1.0 -0.2M414.5 416.6l-0.1 1.1M414.5 416.6l1.1 -0.4M414.5 416.6l-0.8 -0.6M414.5 416.6l-0.1 -0.1M421.1 421.7l0.3 -0.4M421.1 421.7l0.2 1.2M421.1 421.7l-1.2 -0.2M421.1 421.7l0.6 -0.5M435.7 416.5l0.5 0.8M435.7 416.5l0.8 -0.3M435.7 416.5l-0.3 -1.0M435.7 416.5l-1.0 0.5M448.1 421.7l-0.8 0.2M448.1 421.7l0.1 -1.2M448.1 421.7l1.0 0.5M448.1 421.7l-0.4 0.5M457.9 419.7l1.0 -0.5M457.9 419.7l0.1 1.2M457.9 419.7l-1.0 -0.4M457.9 419.7l-0.1 -0.3M474.7 416.4l1.1 0.1M474.7 416.4l-0.1 0.4M474.7 416.4l-0.3 -1.1M474.7 416.4l-0.7 0.6M486.6 422.9l-0.1 -0.5M486.6 422.9l-0.7 -0.5M486.6 422.9l1.1 -0.1M486.6 422.9l-0.3 1.1M399.0 428.4l1.0 -0.7M399.0 428.4l-0.4 0.3M399.0 428.4l-0.9 -0.6M399.0 428.4l0.3 1.0M407.0 423.9l0.2 0.6M407.0 423.9l1.0 -0.1M407.0 423.9l-0.5 -1.1M407.0 423.9l-0.8 0.6M418.6 431.2l0.5 1.0M418.6 431.2l0.7 -0.9M418.6 431.2l-1.0 -0.1M418.6 431.2l-0.2 -0.0M429.9 425.7l-0.9 -0.6M429.9 425.7l-0.4 0.6M429.9 425.7l0.8 -0.7M429.9 425.7l0.5 0.7M443.7 427.6l-0.0 0.4M443.7 427.6l-0.5 0.8M443.7 427.6l-0.6 -1.0M443.7 427.6l1.1 -0.2M456.6 428.8l-0.9 -0.8M456.6 428.8l0.8 -0.4M456.6 428.8l-0.4 1.0M456.6 428.8l0.4 0.1M465.2 429.3l-0.5 0.8M465.2 429.3l-0.4 0.2M465.2 429.3l-0.3 -1.1M465.2 429.3l1.2 0.1M477.3 432.1l0.7 -0.7M477.3 432.1l-1.1 0.1M477.3 432.1l-0.1 -0.5M477.3 432.1l0.5 1.1M371.3 436.9l-0.9 -0.5M371.3 436.9l0.0 1.1M371.3 436.9l-0.1 -0.1M371.3 436.9l1.0 -0.5M375.2 433.5l-1.1 -0.4M375.2 433.5l0.8 -0.9M375.2 433.5l0.0 0.3M375.2 433.5l0.3 0.9M395.3 440.3l0.6 -0.7M395.3 440.3l-1.1 -0.4M395.3 440.3l0.6 0.1M395.3 440.3l-0.1 1.1M403.8 435.8l1.1 0.0M403.8 435.8l-0.0 -0.3M403.8 435.8l-0.5 1.1M403.8 435.8l-0.6 -0.8M414.6 433.8l-0.1 -0.3M414.6 433.8l1.0 -0.5M414.6 433.8l0.1 1.2M414.6 433.8l-0.9 -0.4M425.1 438.4l-0.9 -0.7M425.1 438.4l-0.3 1.1M425.1 438.4l0.2 -0.1M425.1 438.4l1.0 -0.3M432.3 437.7l1.1 -0.1M432.3 437.7l-0.1 1.0M432.3 437.7l-0.4 -0.9M432.3 437.7l-0.7 0.1M449.2 436.2l1.1 0.5M449.2 436.2l-0.5 0.3M449.2 436.2l0.1 -1.2M449.2 436.2l-0.7 0.4M461.6 439.0l-0.2 0.0M461.6 439.0l-1.0 0.0M461.6 439.0l0.6 -1.0M461.6 439.0l0.7 0.9M467.7 436.5l1.1 0.4M467.7 436.5l-0.7 0.6M467.7 436.5l-0.1 -1.2M467.7 436.5l-0.3 0.2M479.8 435.9l0.1 -0.4M479.8 435.9l-0.4 -0.9M479.8 435.9l1.0 0.4M479.8 435.9l-0.8 0.9M374.1 450.6l0.0 0.7M374.1 450.6l0.2 0.7M374.1 450.6l0.8 -0.9M374.1 450.6l-1.1 -0.5M389.5 443.3l1.1 0.1M389.5 443.3l-0.6 0.9M389.5 443.3l-0.5 -1.0M389.5 443.3l0.1 -0.0M397.2 451.7l0.5 -0.1M397.2 451.7l0.5 0.9M397.2 451.7l0.2 -1.0M397.2 451.7l-1.2 0.2M409.7 452.1l-1.0 0.6M409.7 452.1l0.0 0.0M409.7 452.1l-0.0 -1.1M409.7 452.1l1.0 0.5M415.6 451.9l-0.2 -0.6M415.6 451.9l-0.0 -0.7M415.6 451.9l1.1 0.5M415.6 451.9l-0.8 0.9M427.0 451.0l-1.1 -0.2M427.0 451.0l-0.0 0.9M427.0 451.0l0.3 -1.0M427.0 451.0l0.8 0.2M438.1 450.7l1.1 0.3M438.1 450.7l-0.7 0.9M438.1 450.7l-0.1 -0.2M438.1 450.7l-0.3 -1.0M477.7 451.4l-0.2 -1.0M477.7 451.4l0.3 0.9M477.7 451.4l-1.0 0.3M477.7 451.4l0.9 -0.2M371.1 454.6l0.1 0.8M371.1 454.6l-1.1 -0.2M371.1 454.6l0.5 -1.0M371.1 454.6l0.6 0.4M375.2 459.3l-0.1 -0.5M375.2 459.3l-0.6 1.0M375.2 459.3l1.1 0.2M375.2 459.3l-0.4 -0.7M395.4 452.9l-0.5 0.9M395.4 452.9l0.7 -0.4M395.4 452.9l0.6 0.3M395.4 452.9l-0.8 -0.8M416.5 459.0l-0.8 -0.5M416.5 459.0l-0.4 -0.2M416.5 459.0l0.1 1.2M416.5 459.0l1.0 -0.5M427.8 456.3l-1.2 0.1M427.8 456.3l0.5 -0.3M427.8 456.3l0.5 1.0M427.8 456.3l0.2 -0.9M436.5 461.6l0.4 -1.1M436.5 461.6l0.7 0.7M436.5 461.6l-1.1 0.0M436.5 461.6l0.0 0.4M451.2 453.7l0.2 0.5M451.2 453.7l1.0 0.1M451.2 453.7l-0.9 0.5M451.2 453.7l-0.3 -1.1M410.8 470.8l-0.1 1.1M410.8 470.8l-0.2 -0.8M410.8 470.8l1.1 -0.2M410.8 470.8l-0.8 -0.1M420.3 470.7l0.5 0.6M420.3 470.7l-1.2 0.1M420.3 470.7l0.3 -1.1M420.3 470.7l0.4 0.4M435.0 471.6l0.8 0.7M435.0 471.6l0.5 -0.5M435.0 471.6l-0.3 -0.8M435.0 471.6l-0.9 0.6M442.2 466.2l-1.2 -0.1M442.2 466.2l0.3 -0.4M442.2 466.2l0.4 1.1M442.2 466.2l0.5 -0.6M453.5 472.2l0.6 -1.0M453.5 472.2l0.6 0.9M453.5 472.2l-0.1 0.1M453.5 472.2l-1.1 -0.0M461.1 465.2l1.1 -0.0M461.1 465.2l-0.4 1.1M461.1 465.2l-0.7 -0.8M461.1 465.2l0.0 -0.3M480.0 467.2l-0.6 0.3M480.0 467.2l1.2 0.1M480.0 467.2l-0.3 0.7M480.0 467.2l-0.2 -1.1M423.4 473.6l-1.0 -0.6M423.4 473.6l-0.3 1.1M423.4 473.6l0.3 -0.2M423.4 473.6l0.9 -0.3M436.2 480.3l-0.4 -1.1M436.2 480.3l-0.6 0.4M436.2 480.3l-0.2 0.7M436.2 480.3l1.2 -0.0M441.2 485.8l0.2 1.2M441.2 485.8l-1.1 -0.2M441.2 485.8l0.6 -0.4M441.2 485.8l0.3 -0.5M438.6 495.7l0.8 0.8M438.6 495.7l-0.3 0.1M438.6 495.7l-0.9 0.2M438.6 495.7l0.4 -1.1" stroke="#a8a860" stroke-width="0.85" stroke-linecap="round" fill="none"/>
<path d="M385.3 366.2l-3.4 1.1M382.0 367.3l-0.5 0.6M386.8 365.6l1.0 -0.5M387.8 365.1l0.2 -0.8M386.6 364.8l0.3 -3.0M386.9 361.8l-0.7 -0.6M387.1 366.7l2.1 2.5M394.1 372.0l-2.2 0.5M391.9 372.5l0.0 0.9M394.7 370.8l-0.4 -3.2M394.6 372.7l-0.7 2.4M393.9 375.1l-0.4 0.7M395.9 372.0l3.3 0.4M399.3 372.4l0.5 0.4M405.1 365.3l2.8 0.9M407.9 366.2l0.6 -0.7M404.1 363.9l-0.5 -3.5M403.6 360.4l-0.3 -0.8M403.2 365.6l-2.9 1.6M404.4 365.4l0.6 1.0M405.0 366.4l0.4 0.2M467.9 372.3l2.9 0.8M470.8 373.1l0.2 0.9M466.9 370.9l0.1 -3.4M466.8 372.7l-0.2 2.1M466.6 374.8l-0.7 -0.5M465.9 372.2l-2.8 0.5M463.1 372.7l-0.6 0.7M392.7 382.5l-3.1 -1.6M394.2 383.2l1.6 0.4M395.8 383.5l-0.4 0.3M394.4 382.4l2.0 -2.0M396.5 380.4l0.6 0.5M393.6 384.1l-0.5 3.2M393.1 387.3l-0.9 0.1M406.0 381.2l-2.6 0.2M403.3 381.4l-0.8 -0.2M406.4 380.9l-1.3 -0.6M407.5 382.2l1.8 3.1M409.2 385.2l-0.8 0.3M407.6 380.3l2.2 -2.6M409.8 377.6l0.5 -0.5M418.9 378.4l2.2 2.4M418.4 376.5l0.9 -3.2M419.3 373.2l0.5 -0.7M417.0 377.8l-3.3 0.7M413.7 378.5l-0.2 0.9M418.2 377.6l0.2 0.2M418.5 377.8l0.2 -0.9M420.5 378.2l-1.2 -0.7M421.7 379.3l2.3 2.7M424.0 382.0l0.5 0.6M421.5 377.5l1.6 -2.9M423.1 374.6l0.6 -0.4M420.0 378.7l-2.7 0.9M417.3 379.6l0.0 -0.3M439.5 383.1l-3.1 0.0M436.5 383.1l-0.5 -0.3M440.4 382.8l-0.6 -0.7M439.8 382.1l0.8 0.4M441.1 384.1l1.5 3.2M441.3 382.2l2.1 -2.5M443.4 379.7l0.8 -0.1M444.3 379.8l0.8 2.2M445.0 382.0l0.4 0.7M442.8 379.1l-3.5 0.1M439.4 379.2l-0.8 -0.0M444.6 379.3l1.8 0.9M446.4 380.2l-0.8 0.3M444.3 377.9l0.9 -3.3M459.5 381.4l-0.4 -1.1M459.1 380.3l0.7 -0.0M460.8 381.7l3.4 -0.1M459.0 381.0l-1.8 -2.1M457.2 378.9l-0.7 0.4M459.2 382.8l-1.2 3.3M458.0 386.1l-0.3 0.5M469.7 381.6l-0.5 -3.1M469.2 378.5l-0.3 -0.5M470.9 383.0l3.1 1.4M474.0 384.4l0.3 0.6M469.0 383.3l-2.6 2.2M469.8 382.4l-0.1 -0.5M469.8 381.9l0.5 -0.7M480.7 381.8l0.8 -2.0M481.5 379.9l-0.0 -0.3M481.0 383.6l1.6 3.2M479.3 382.6l-3.5 0.4M475.8 383.1l-0.8 0.4M480.9 382.0l1.2 -1.6M482.1 380.3l-0.0 0.2M377.5 390.1l-0.0 -1.0M377.5 389.1l-0.2 0.9M378.5 390.1l3.1 -0.9M376.6 389.9l-2.6 -1.6M374.0 388.3l-0.8 -0.2M377.3 391.6l-0.4 3.5M376.9 395.1l-0.7 0.0M386.4 391.5l-1.6 -0.7M384.8 390.8l-0.4 -0.3M387.7 390.9l2.3 -2.6M390.0 388.3l0.0 -0.8M386.1 391.9l-2.4 0.2M387.5 392.8l1.8 3.1M389.3 395.9l0.8 0.5M394.0 387.8l-0.1 3.5M393.4 386.3l-1.9 -1.2M391.4 385.1l-0.7 0.1M393.6 386.2l-1.3 -1.3M392.2 385.0l0.0 -0.3M395.1 386.3l3.3 -1.1M398.5 385.2l-0.4 -0.8M410.0 388.9l-1.5 -0.9M408.5 388.0l0.4 -0.7M409.7 389.3l-2.5 0.3M411.1 390.2l1.7 3.1M412.8 393.3l0.8 0.4M411.3 388.3l2.3 -2.5M413.6 385.8l0.8 -0.4M421.8 383.9l-2.0 -2.8M419.7 381.2l-0.6 -0.7M422.8 385.4l1.0 1.7M423.8 387.2l0.0 0.4M421.8 385.6l-1.9 2.2M423.4 384.5l2.8 -1.2M426.2 383.3l0.9 -0.2M429.4 389.1l0.9 -0.4M430.1 389.2l2.9 0.1M433.0 389.3l0.2 -0.1M428.4 388.3l-2.0 -2.7M426.4 385.5l-0.6 -0.7M428.5 390.2l-1.8 3.0M426.7 393.2l-0.2 0.7M439.0 392.9l-2.1 -0.2M436.9 392.7l-0.2 0.9M439.4 392.1l-0.8 -2.6M438.6 389.4l-0.3 -0.8M439.5 394.0l-0.5 3.1M440.8 392.8l3.4 -0.3M444.2 392.5l-0.4 0.8M454.0 388.9l-0.2 -0.3M453.8 388.6l0.1 0.6M453.2 389.7l-2.7 2.0M455.1 389.5l3.1 1.6M458.2 391.1l0.1 -0.4M454.0 388.0l-0.1 -3.2M453.9 384.8l-0.2 -0.7M465.2 387.3l-0.8 -3.0M464.5 384.4l0.1 -0.3M466.7 388.5l3.5 0.5M470.2 389.0l0.6 0.6M465.1 388.3l-1.2 -0.2M465.0 389.2l-1.5 2.7M463.4 392.0l-0.2 0.8M478.7 384.2l1.0 1.0M479.7 385.2l0.0 -0.8M477.5 383.1l-2.8 -2.2M474.7 381.0l-0.6 0.3M478.1 384.8l-0.9 2.9M479.3 383.3l2.7 -1.7M482.0 381.6l-0.5 0.6M378.8 398.6l-0.3 2.7M379.3 396.8l1.3 -2.9M380.6 393.9l-0.0 -0.9M377.9 397.5l-3.2 -0.7M374.7 396.8l-0.6 -0.5M379.6 398.1l2.2 0.9M381.8 399.0l0.8 0.0M392.5 399.1l-0.5 2.4M392.1 401.5l0.8 0.4M391.9 398.5l-2.4 0.5M389.5 398.9l-0.2 0.7M392.6 397.2l-0.3 -3.3M393.8 398.4l3.2 0.4M397.0 398.9l0.6 0.5M402.0 399.9l-1.8 2.6M400.2 402.4l-0.6 0.3M403.2 398.4l1.9 -1.8M405.1 396.6l0.7 -0.5M403.3 399.5l2.1 1.4M401.8 398.3l-2.3 -2.2M399.6 396.1l-0.7 -0.6M411.7 402.4l0.2 0.4M411.9 402.8l0.1 -0.7M412.0 401.2l1.2 -3.2M413.2 398.0l-0.2 -0.8M412.3 403.1l2.0 2.5M410.5 402.4l-3.3 0.4M407.2 402.8l-0.8 -0.0M428.0 401.9l-1.8 -0.3M427.9 402.3l-2.2 1.0M425.7 403.2l-0.2 0.8M429.5 402.8l2.5 2.4M432.0 405.2l0.4 0.8M429.1 400.9l1.5 -3.1M430.5 397.8l-0.1 -0.8M439.0 400.5l-0.0 1.0M440.0 400.7l2.7 1.6M442.6 402.3l-0.4 0.6M439.2 399.0l0.4 -3.5M439.5 395.5l0.2 0.2M438.0 400.5l-3.0 1.0M435.0 401.5l-0.6 -0.7M446.2 395.7l1.3 -3.3M445.2 396.9l-1.7 0.4M443.5 397.3l0.3 0.8M445.1 396.9l-2.2 0.6M442.8 397.5l-0.7 0.2M446.7 397.5l2.7 2.3M449.4 399.8l-0.4 0.8M458.4 403.2l3.2 0.9M461.5 404.1l-0.2 -0.3M457.2 403.4l-0.4 1.4M456.8 404.7l0.8 -0.1M456.5 403.3l-2.5 1.3M453.9 404.6l-0.2 0.0M457.2 401.7l-0.3 -3.5M470.6 398.0l3.3 0.9M474.0 398.9l0.5 0.6M468.8 398.6l-2.2 2.6M466.7 401.2l0.2 0.9M469.2 396.7l-0.8 -2.9M469.4 397.5l-0.4 -0.6M469.0 397.0l-0.6 0.6M481.6 398.4l-0.6 -1.9M480.9 396.5l-0.6 -0.2M482.1 400.1l1.0 3.3M483.2 403.4l-0.1 0.9M482.6 398.5l2.6 -1.6M480.8 399.1l-2.9 0.2M477.9 399.3l-0.8 -0.3M371.3 403.8l-0.8 -1.8M370.6 402.0l-0.3 0.1M372.1 405.4l1.6 3.1M373.7 408.5l0.5 0.7M370.6 404.6l-3.0 0.7M372.3 403.8l2.2 -1.9M374.5 401.9l-0.7 -0.5M383.3 411.0l1.3 -2.3M384.5 408.6l0.3 -0.8M383.6 411.8l2.2 0.2M382.7 412.8l-0.3 3.2M382.4 416.0l-0.3 0.2M381.8 411.4l-3.2 -1.1M378.6 410.3l-0.6 0.3M393.0 407.4l0.8 -1.7M391.8 407.6l-3.0 -1.3M388.8 406.2l-0.6 -0.0M393.6 407.9l2.6 -0.4M396.2 407.4l0.8 0.1M392.6 409.2l-0.4 3.4M392.2 412.6l0.4 -0.2M409.1 408.8l1.8 3.0M410.9 411.8l-0.8 0.5M409.2 406.9l2.1 -2.8M411.4 404.1l0.5 -0.6M408.2 407.9l-1.1 0.2M407.1 408.0l0.1 0.5M407.6 407.7l-2.8 -0.3M417.6 412.7l1.8 3.0M419.4 415.7l0.7 0.5M417.7 410.8l2.2 -2.8M419.9 408.0l0.2 -0.8M416.1 411.6l-2.5 -0.3M416.5 411.8l-1.5 0.1M415.1 411.9l-0.6 0.4M435.1 409.1l-0.5 -1.7M434.6 407.4l-0.5 -0.5M434.5 409.3l-2.5 -0.9M432.0 408.4l-0.7 0.1M436.4 409.4l3.2 -0.9M435.3 410.8l-0.1 3.5M435.1 414.3l-0.1 0.9M444.3 405.4l-2.2 -2.4M442.1 403.0l-0.4 -0.7M445.8 406.5l2.4 0.9M445.6 405.8l1.6 -1.4M447.2 404.4l0.4 -0.7M444.4 407.2l-1.8 2.9M442.6 410.1l-0.6 0.3M450.2 411.3l0.4 -0.9M451.2 411.6l3.2 -0.1M454.3 411.4l0.7 0.5M449.4 410.8l-2.2 -2.3M447.2 408.6l-0.8 -0.0M449.7 412.7l-1.3 3.3M448.4 416.0l-0.3 0.5M466.3 407.7l-2.8 1.1M463.5 408.9l-0.8 -0.2M468.1 408.0l2.9 1.8M471.1 409.7l0.1 0.9M467.0 407.5l-0.6 0.5M466.3 408.1l0.3 0.4M467.3 406.2l0.5 -3.5M473.6 403.4l-2.0 -2.8M473.7 405.3l-2.0 2.9M471.7 408.2l-0.7 0.4M474.8 404.1l1.4 -0.6M476.2 403.6l0.6 -0.1M475.2 404.5l2.6 0.4M477.8 404.9l-0.2 0.6M372.7 414.3l2.2 -2.8M370.9 414.9l-3.2 -1.0M367.6 413.9l-0.9 -0.1M371.9 415.6l-0.1 1.1M371.8 416.7l0.2 -0.3M372.3 416.1l1.2 2.6M373.5 418.7l0.8 -0.2M391.6 420.1l3.2 -0.4M394.7 419.7l0.8 0.0M390.4 421.4l-0.4 3.4M389.9 424.7l-0.3 0.2M389.7 419.9l-2.5 -0.9M390.4 419.6l-0.2 -2.1M390.2 417.5l-0.5 -0.7M404.8 422.4l-0.1 3.4M404.7 425.8l-0.3 0.5M403.9 421.1l-2.8 -0.6M401.1 420.5l-0.5 -0.5M404.8 420.6l-0.1 -2.2M405.8 421.1l3.0 -0.6M408.8 420.5l0.3 -0.7M414.4 417.7l-0.3 3.4M415.5 416.2l3.2 -1.2M418.7 415.0l0.6 -0.4M413.6 415.9l-2.5 -1.9M411.1 414.0l-0.9 0.0M414.4 416.5l-0.4 -0.3M414.0 416.1l0.1 0.5M421.4 421.2l1.0 -1.2M422.4 420.0l-0.5 -0.7M421.3 422.8l0.6 3.5M421.9 426.3l-0.3 0.4M419.9 421.5l-3.5 -0.6M416.5 420.9l-0.0 0.9M421.7 421.1l1.8 -1.6M436.2 417.2l1.5 2.3M436.5 416.2l2.3 -0.8M438.8 415.4l-0.3 -0.3M435.4 415.5l-0.9 -3.0M434.5 412.5l-0.3 -0.9M434.7 417.0l-2.9 1.5M431.8 418.5l-0.0 -0.6M447.3 421.9l-2.4 0.5M448.3 420.5l0.4 -3.5M448.7 417.0l0.6 -0.7M449.1 422.1l3.1 1.4M452.2 423.5l0.8 0.0M447.8 422.2l-1.1 1.5M446.7 423.7l-0.8 0.5M458.8 419.2l2.9 -1.4M458.0 420.9l0.2 3.5M458.2 424.4l0.1 0.9M456.9 419.3l-2.9 -1.1M454.0 418.3l-0.2 -0.2M457.8 419.3l-0.2 -1.0M457.6 418.3l0.8 0.2M475.8 416.6l3.3 0.4M479.1 417.0l0.8 -0.0M474.6 416.8l-0.2 1.1M474.4 415.3l-0.9 -3.4M473.5 411.9l0.3 -0.8M473.9 417.1l-2.2 1.9M471.8 419.0l0.1 0.5M486.5 422.3l-0.4 -1.6M486.1 420.8l-0.5 -0.4M485.9 422.3l-2.0 -1.6M483.9 420.7l-0.2 -0.9M487.7 422.8l3.4 -0.2M486.3 424.0l-1.0 3.4M485.3 427.4l-0.0 0.8M399.9 427.8l2.9 -2.0M402.8 425.7l0.3 -0.4M398.6 428.7l-1.1 0.8M397.5 429.5l-0.3 0.8M398.1 427.9l-2.6 -1.7M395.6 426.1l-0.3 0.2M399.2 429.4l0.8 3.0M407.2 424.4l0.7 1.7M408.0 426.1l-0.8 0.3M408.0 423.8l3.0 -0.4M411.0 423.4l0.1 0.7M406.6 422.8l-1.4 -3.2M405.2 419.6l-0.4 -0.6M406.2 424.5l-2.3 1.9M419.1 432.2l1.4 3.1M420.5 435.4l0.1 0.1M419.4 430.3l2.2 -2.6M421.6 427.7l0.9 -0.1M417.6 431.1l-3.0 -0.4M414.6 430.6l-0.6 -0.5M418.4 431.2l-0.7 -0.1M429.0 425.0l-2.6 -1.9M429.5 426.3l-1.3 1.9M428.2 428.1l0.6 0.5M430.7 424.9l2.5 -2.2M433.3 422.8l0.4 -0.8M430.3 426.4l1.4 2.2M431.7 428.6l0.1 0.3M443.7 428.0l-0.1 1.3M443.5 429.4l0.0 0.8M443.3 428.4l-1.4 2.3M443.1 426.6l-1.9 -3.0M441.3 423.6l-0.8 0.2M444.9 427.4l3.4 -0.7M448.2 426.7l0.9 -0.1M455.7 428.1l-2.7 -2.3M453.0 425.8l-0.6 -0.7M457.4 428.4l2.5 -1.2M456.2 429.9l-1.1 3.1M455.1 433.0l-0.2 0.9M457.0 428.9l1.3 0.3M458.3 429.3l0.2 0.3M464.8 430.1l-1.4 2.5M464.9 429.5l-1.2 0.5M463.7 430.0l-0.3 0.8M464.9 428.2l-1.0 -3.2M463.9 425.0l-0.3 -0.1M466.4 429.4l3.5 0.2M470.0 429.6l0.1 0.7M478.0 431.5l2.1 -2.0M480.1 429.5l-0.3 -0.8M476.3 432.2l-3.2 0.3M477.2 431.6l-0.3 -1.5M476.9 430.1l0.4 -0.8M477.8 433.2l1.5 3.2M479.3 436.4l-0.0 0.8M370.4 436.4l-2.7 -1.6M367.7 434.8l-0.7 -0.6M371.3 438.1l0.1 3.4M371.1 436.9l-0.4 -0.2M370.7 436.7l0.9 -0.2M372.3 436.4l3.0 -1.6M375.3 434.8l-0.4 0.5M374.1 433.1l-3.2 -1.2M376.0 432.7l2.4 -2.6M378.4 430.1l0.6 0.3M375.2 433.9l0.1 1.0M375.2 434.9l-0.1 0.3M375.4 434.4l0.8 2.7M376.2 437.2l-0.7 0.5M395.9 439.5l1.7 -2.2M397.6 437.3l0.0 0.3M394.3 439.9l-3.3 -1.2M391.0 438.7l-0.9 -0.1M395.9 440.4l1.8 0.2M395.3 441.4l-0.2 3.2M395.1 444.6l-0.6 0.5M404.9 435.8l3.4 0.1M408.3 435.9l0.2 0.8M403.8 435.5l-0.1 -0.8M403.3 436.9l-1.5 3.2M401.8 440.0l-0.4 0.7M403.2 435.0l-1.7 -2.5M401.5 432.5l-0.2 -0.6M414.5 433.5l-0.3 -1.0M415.6 433.3l2.9 -1.4M418.5 431.9l0.2 -0.9M414.6 435.0l0.2 3.5M414.8 438.5l-0.1 0.9M413.6 433.4l-2.8 -1.1M410.8 432.3l-0.4 -0.8M424.3 437.7l-2.6 -2.2M424.8 439.5l-0.9 3.3M423.9 442.8l-0.4 0.6M425.3 438.3l0.6 -0.2M425.9 438.1l0.8 -0.2M426.1 438.1l3.0 -0.9M429.1 437.2l0.4 0.7M433.4 437.6l3.4 -0.4M436.8 437.1l-0.1 -0.5M432.2 438.7l-0.3 2.9M431.9 436.8l-1.1 -2.8M430.9 434.0l0.7 0.1M431.6 437.8l-2.0 0.3M429.6 438.2l-0.5 0.2M450.2 436.6l3.2 1.4M453.4 438.1l0.1 -0.1M448.7 436.4l-1.4 0.8M447.3 437.2l-0.8 0.3M449.2 435.0l0.3 -3.5M449.5 431.5l0.9 -0.1M448.5 436.6l-2.1 1.3M461.4 439.0l-0.5 0.1M460.9 439.1l-0.9 -0.2M460.6 439.0l-3.1 0.1M457.4 439.2l-0.3 -0.2M462.2 438.0l1.7 -3.0M462.2 439.9l2.0 2.8M464.2 442.7l0.5 0.2M468.8 436.9l3.3 1.1M472.2 438.0l0.3 0.8M467.0 437.1l-2.1 1.7M464.9 438.8l0.7 0.1M467.6 435.4l-0.2 -3.5M467.4 436.7l-1.0 0.7M466.3 437.4l-0.3 0.8M479.9 435.5l0.4 -1.3M480.3 434.2l-0.6 -0.1M479.4 435.1l-1.2 -2.6M480.8 436.3l3.1 1.1M484.0 437.4l0.6 -0.7M479.0 436.8l-2.3 2.7M476.7 439.5l-0.3 0.7M374.2 451.3l0.1 2.0M374.3 453.2l0.4 0.5M374.4 451.3l0.7 2.0M374.9 449.8l2.4 -2.6M377.4 447.2l0.9 0.2M373.1 450.2l-3.2 -1.4M369.8 448.7l-0.6 0.5M390.6 443.3l3.3 0.2M393.9 443.5l0.4 0.6M388.9 444.2l-1.9 2.8M387.0 447.0l-0.4 0.7M389.0 442.3l-1.6 -3.0M387.4 439.3l0.6 -0.3M389.6 443.3l0.2 -0.0M397.6 451.6l1.4 -0.2M399.0 451.4l-0.8 0.3M397.6 452.6l1.4 2.7M399.1 455.3l0.6 -0.1M397.4 450.7l0.7 -3.0M398.1 447.7l0.3 -0.5M396.0 451.8l-3.5 0.5M408.8 452.7l-2.9 1.7M405.9 454.4l-0.8 0.2M409.7 452.2l0.1 0.1M409.8 452.3l-0.3 0.0M409.7 451.0l-0.1 -3.4M410.7 452.7l2.9 1.6M413.6 454.2l0.5 0.1M415.3 451.3l-0.7 -1.8M414.6 449.5l-0.2 -0.2M415.5 451.1l-0.1 -2.2M415.4 448.9l0.9 0.0M416.7 452.3l3.2 1.4M414.8 452.7l-2.4 2.6M412.4 455.3l0.1 0.2M425.9 450.8l-3.2 -0.5M422.8 450.4l-0.7 0.1M426.9 451.9l-0.1 2.8M427.3 450.0l0.8 -2.9M428.1 447.1l-0.1 -0.8M427.8 451.2l2.5 0.5M430.2 451.7l0.3 0.0M439.2 451.0l3.4 0.9M442.6 451.9l0.2 0.9M437.4 451.6l-2.1 2.6M435.2 454.2l-0.5 0.2M438.0 450.5l-0.4 -0.6M437.6 449.9l-0.1 0.8M437.8 449.7l-0.8 -2.9M477.5 450.5l-0.5 -2.9M478.0 452.3l0.9 2.7M478.9 455.0l-0.4 0.7M476.7 451.7l-3.0 0.8M473.7 452.5l-0.5 0.6M478.6 451.3l2.6 -0.5M481.2 450.7l0.3 -0.5M371.1 455.4l0.2 2.3M369.9 454.5l-3.4 -0.5M366.6 453.9l-0.7 0.3M371.5 453.6l1.4 -3.1M373.0 450.5l0.4 -0.8M371.7 455.0l1.8 1.2M373.4 456.3l0.4 -0.6M375.1 458.7l-0.3 -1.6M374.8 457.1l-0.2 -0.4M374.6 460.3l-1.9 3.0M372.7 463.3l0.2 0.9M376.3 459.5l3.4 0.7M379.7 460.3l0.6 0.4M374.8 458.6l-1.2 -2.1M394.8 453.9l-1.6 2.8M393.2 456.7l-0.4 -0.3M396.1 452.5l2.2 -1.3M396.0 453.3l1.8 1.0M397.8 454.2l0.7 -0.5M394.6 452.1l-2.4 -2.5M392.2 449.7l-0.8 0.4M415.7 458.6l-2.3 -1.4M413.3 457.2l-0.3 0.0M416.1 458.8l-1.1 -0.6M415.0 458.2l-0.7 0.6M416.5 460.2l0.3 3.5M417.5 458.5l3.1 -1.5M420.7 457.0l0.4 -0.8M426.7 456.5l-3.5 0.4M423.2 456.9l-0.4 -0.8M428.4 456.0l1.5 -0.9M429.9 455.1l-0.6 -0.5M428.3 457.3l1.4 3.0M428.0 455.5l0.5 -2.6M428.6 452.9l-0.0 -0.7M436.9 460.5l1.1 -3.4M438.0 457.1l-0.6 -0.6M437.2 462.2l2.1 2.0M435.4 461.6l-3.3 0.1M432.1 461.8l-0.9 -0.1M436.6 462.0l0.1 1.3M436.7 463.3l-0.6 -0.6M451.4 454.2l0.6 1.5M452.0 455.7l-0.0 -0.8M452.1 453.8l2.9 0.3M455.0 454.1l0.1 0.9M450.3 454.3l-2.7 1.6M447.6 455.9l-0.7 -0.2M450.9 452.6l-0.8 -3.4M410.7 471.9l-0.2 3.2M410.6 475.1l0.4 0.7M410.6 470.0l-0.5 -2.5M410.1 467.6l-0.3 -0.5M411.8 470.7l3.2 -0.5M409.9 470.7l-2.5 -0.3M407.5 470.5l-0.5 0.4M420.8 471.3l1.5 1.8M422.2 473.1l0.7 0.4M419.1 470.8l-3.5 0.4M420.5 469.5l0.9 -3.4M421.4 466.1l-0.2 0.4M420.7 471.1l1.2 1.3M421.8 472.4l-0.3 0.3M435.8 472.3l2.4 2.1M438.2 474.3l-0.2 0.2M435.5 471.1l1.4 -1.5M434.7 470.7l-1.0 -2.5M433.7 468.2l-0.5 -0.6M434.1 472.2l-2.8 1.9M431.3 474.2l-0.7 -0.5M441.0 466.2l-3.5 -0.2M437.5 466.0l-0.5 -0.7M442.5 465.8l0.8 -1.2M442.5 467.4l1.1 3.4M443.6 470.7l-0.2 0.9M442.7 465.6l1.6 -1.9M444.3 463.6l0.6 -0.1M454.1 471.2l1.7 -3.0M455.8 468.2l0.5 0.5M454.1 473.1l1.8 2.7M455.8 475.9l0.8 0.5M453.5 472.3l-0.2 0.4M453.3 472.7l0.8 0.1M452.4 472.2l-3.3 -0.1M462.2 465.2l3.3 -0.1M465.5 465.1l0.5 -0.3M460.6 466.3l-1.3 3.2M459.3 469.5l0.8 0.3M460.4 464.4l-2.0 -2.3M458.4 462.1l-0.4 -0.6M461.1 464.9l0.0 -0.8M479.4 467.5l-1.8 0.9M477.6 468.4l-0.0 -0.3M481.1 467.3l3.5 0.4M479.7 467.9l-1.0 2.1M478.6 470.0l0.2 -0.2M479.8 466.1l-0.7 -3.4M479.1 462.7l-0.1 -0.8M422.5 472.9l-2.9 -1.9M423.2 474.7l-0.8 3.4M422.4 478.1l-0.5 0.7M423.8 473.4l1.0 -0.5M424.8 472.9l0.2 0.3M424.3 473.3l2.6 -0.9M426.9 472.3l0.7 -0.4M435.8 479.2l-1.1 -3.3M435.6 480.7l-1.7 1.3M433.9 482.0l0.6 -0.0M436.0 480.9l-0.7 2.0M435.3 483.0l0.1 0.9M437.4 480.3l3.5 -0.0M440.8 480.3l0.4 0.3M441.3 487.0l0.5 3.5M440.0 485.6l-3.4 -0.7M436.6 484.9l0.0 0.7M441.8 485.4l1.9 -1.2M443.7 484.2l0.6 -0.5M441.5 485.3l1.0 -1.6M442.5 483.7l0.5 0.1M439.5 496.5l2.5 2.4M442.0 498.9l0.8 0.0M438.3 495.8l-1.0 0.2M437.2 496.0l0.2 -0.9M437.7 495.9l-2.8 0.6M434.9 496.5l0.4 -0.3M439.1 494.6l1.3 -3.2" stroke="#e01818" stroke-width="0.85" stroke-linecap="round" fill="none"/>
<path d="M381.4 367.9l-1.9 2.3M379.6 370.2l-0.3 2.0M379.3 372.2l-0.3 2.0M387.9 364.3l0.6 -2.8M388.5 361.5l0.7 -1.8M389.3 359.7l0.7 -1.8M386.2 361.2l-2.4 -2.1M383.9 359.1l-1.8 0.7M382.0 359.8l-1.8 0.7M391.9 373.4l0.1 3.1M391.9 376.5l0.6 1.6M392.5 378.2l0.6 1.6M393.4 375.8l-1.6 2.4M391.9 378.2l-0.2 1.6M391.7 379.8l-0.2 1.6M399.7 372.8l1.6 1.5M401.3 374.3l1.1 0.7M402.4 375.0l1.1 0.7M408.5 365.5l2.1 -2.4M410.6 363.1l0.8 0.5M411.4 363.6l0.8 0.5M403.3 359.6l-1.0 -2.7M402.4 356.9l1.0 -1.8M403.4 355.1l1.0 -1.8M405.4 366.6l1.4 0.7M406.8 367.3l1.2 -0.7M408.0 366.5l1.2 -0.7M471.0 374.0l0.9 3.1M471.9 377.0l1.6 0.6M473.5 377.6l1.6 0.6M465.8 374.3l-2.6 -1.8M463.2 372.5l-0.7 -0.1M462.5 372.4l-0.7 -0.1M462.5 373.4l-2.0 2.5M460.6 375.9l-0.4 0.1M460.2 376.0l-0.4 0.1M395.4 383.9l-1.3 1.2M394.1 385.0l0.4 0.7M394.5 385.8l0.4 0.7M397.1 381.0l2.2 1.9M399.2 382.9l1.9 -0.1M401.1 382.7l1.9 -0.1M392.2 387.4l-3.2 0.4M389.0 387.8l-1.8 0.6M387.2 388.4l-1.8 0.6M402.5 381.2l-3.0 -0.8M399.5 380.4l-1.8 -0.1M397.7 380.3l-1.8 -0.1M408.4 385.5l-3.0 0.9M405.4 386.4l-0.9 -1.7M404.5 384.6l-0.9 -1.7M410.3 377.1l1.6 -1.8M411.9 375.4l1.8 -0.1M413.7 375.2l1.8 -0.1M419.9 372.6l1.9 -2.3M421.8 370.2l1.2 -1.4M422.9 368.9l1.2 -1.4M413.5 379.4l-0.9 3.1M412.6 382.5l0.3 1.3M412.8 383.8l0.3 1.3M418.7 376.9l0.8 -3.0M419.5 373.9l0.6 -1.9M420.2 372.0l0.6 -1.9M424.5 382.6l1.7 2.3M426.1 385.0l1.8 0.9M427.9 385.9l1.8 0.9M423.7 374.2l2.0 -1.4M425.7 372.8l-0.1 0.5M425.6 373.3l-0.1 0.5M417.3 379.3l0.0 -1.2M417.4 378.1l-1.4 -0.6M416.0 377.5l-1.4 -0.6M435.9 382.7l-1.9 -1.2M434.0 381.5l-0.1 -0.5M433.9 381.0l-0.1 -0.5M440.5 382.5l2.7 1.4M443.3 383.9l2.0 0.2M445.3 384.1l2.0 0.2M444.2 379.7l2.8 -0.2M447.0 379.5l1.1 0.0M448.2 379.5l1.1 0.0M445.4 382.7l1.4 2.6M446.9 385.4l1.4 1.3M448.3 386.6l1.4 1.3M438.5 379.2l-3.0 -0.1M435.6 379.0l-1.6 1.3M434.0 380.3l-1.6 1.3M445.6 380.5l-2.8 1.0M442.9 381.5l-1.7 0.7M441.2 382.2l-1.7 0.7M459.8 380.3l2.5 -0.0M462.3 380.2l-1.0 -1.4M461.3 378.9l-1.0 -1.4M456.4 379.3l-2.6 1.3M453.8 380.6l-1.3 -1.2M452.5 379.4l-1.3 -1.2M457.7 386.6l-1.1 1.7M456.6 388.3l-1.8 0.4M454.8 388.7l-1.8 0.4M468.9 377.9l-1.1 -1.9M467.9 376.0l-0.9 -1.3M467.0 374.7l-0.9 -1.3M474.3 385.0l1.0 2.0M475.3 386.9l2.0 0.4M477.3 387.3l2.0 0.4M470.3 381.1l1.7 -2.6M472.0 378.6l-0.1 -1.7M471.9 376.9l-0.1 -1.7M481.5 379.6l-0.0 -0.9M481.5 378.7l-2.0 0.1M479.5 378.9l-2.0 0.1M475.0 383.5l-2.8 1.3M472.3 384.8l-1.7 0.4M470.6 385.1l-1.7 0.4M482.0 380.5l-0.1 0.6M482.0 381.1l-1.3 -0.3M480.7 380.8l-1.3 -0.3M377.3 390.0l-0.8 3.1M376.5 393.0l-1.2 0.9M375.2 394.0l-1.2 0.9M373.2 388.1l-2.8 -0.7M370.4 387.3l-1.1 0.9M369.3 388.3l-1.1 0.9M376.2 395.1l-2.5 0.1M373.6 395.2l-0.6 0.9M373.1 396.1l-0.6 0.9M384.4 390.6l-1.3 -0.9M383.1 389.7l-0.7 -1.4M382.4 388.3l-0.7 -1.4M390.0 387.5l0.1 -2.9M390.1 384.6l1.2 -1.6M391.3 383.1l1.2 -1.6M390.0 396.3l2.7 1.7M392.7 398.0l1.9 0.7M394.6 398.7l1.9 0.7M390.8 385.2l-2.3 0.3M388.4 385.4l-1.6 0.8M386.9 386.2l-1.6 0.8M392.3 384.6l0.2 -1.2M392.4 383.5l-1.7 -0.3M390.7 383.2l-1.7 -0.3M398.0 384.4l-1.5 -2.8M396.5 381.6l-0.0 0.6M396.5 382.2l-0.0 0.6M408.9 387.4l1.6 -2.4M410.5 385.0l-0.0 -1.9M410.5 383.1l-0.0 -1.9M413.6 393.6l2.8 1.2M416.3 394.9l1.0 0.1M417.3 395.0l1.0 0.1M414.4 385.4l2.9 -1.3M417.3 384.1l0.0 -1.9M417.3 382.2l0.0 -1.9M419.2 380.5l-2.0 -2.5M417.1 378.0l-1.5 1.3M415.6 379.3l-1.5 1.3M423.9 387.6l0.1 1.6M424.0 389.2l-2.0 0.0M421.9 389.2l-2.0 0.0M427.1 383.1l3.0 -0.7M430.1 382.4l1.4 1.5M431.5 383.8l1.4 1.5M433.2 389.2l0.7 -0.2M433.9 389.0l-0.0 1.5M433.9 390.5l-0.0 1.5M425.8 384.9l-2.2 -2.4M423.6 382.5l-0.6 -0.7M423.0 381.8l-0.6 -0.7M426.5 393.9l-0.8 2.5M425.7 396.4l0.5 -0.9M426.1 395.5l0.5 -0.9M436.7 393.6l-0.6 3.0M436.1 396.6l-0.8 1.7M435.3 398.3l-0.8 1.7M438.3 388.6l-1.1 -2.9M437.2 385.7l-1.2 -0.7M435.9 385.0l-1.2 -0.7M443.8 393.3l-1.4 2.9M442.4 396.2l0.1 2.0M442.4 398.2l0.1 2.0M453.9 389.2l0.4 2.2M454.3 391.4l-1.3 1.4M453.0 392.8l-1.3 1.4M458.3 390.7l0.5 -1.5M458.8 389.2l1.7 -0.2M460.5 389.0l1.7 -0.2M453.7 384.1l-0.8 -2.4M452.9 381.7l-0.0 -0.6M452.9 381.1l-0.0 -0.6M464.6 384.0l0.5 -1.2M465.1 382.8l1.5 -0.3M466.6 382.4l1.5 -0.3M470.8 389.6l2.2 2.2M472.9 391.8l-0.4 0.6M472.6 392.5l-0.4 0.6M463.2 392.8l-0.8 2.9M462.3 395.7l0.7 1.7M463.1 397.4l0.7 1.7M479.7 384.4l0.1 -2.7M479.8 381.7l-1.6 -1.0M478.2 380.7l-1.6 -1.0M474.1 381.3l-2.2 1.0M471.9 382.3l-1.3 1.6M470.6 383.9l-1.3 1.6M481.4 382.2l-1.9 2.2M479.5 384.5l-1.4 0.7M478.1 385.2l-1.4 0.7M380.6 393.1l-0.0 -3.0M380.6 390.1l-0.5 -2.0M380.1 388.1l-0.5 -2.0M374.0 396.3l-2.3 -1.6M371.7 394.7l-2.0 -0.4M369.7 394.3l-2.0 -0.4M382.7 399.0l2.9 0.0M385.6 399.0l1.4 1.1M387.1 400.2l1.4 1.1M392.8 401.8l2.7 1.3M395.5 403.2l2.0 -0.2M397.5 402.9l2.0 -0.2M389.2 399.6l-0.8 2.4M388.4 402.0l0.7 -0.5M389.2 401.6l0.7 -0.5M397.6 399.4l2.1 1.8M399.7 401.1l1.9 0.8M401.6 401.9l1.9 0.8M399.5 402.7l-2.3 1.0M397.3 403.8l0.3 -1.8M397.5 402.0l0.3 -1.8M405.8 396.1l2.3 -1.9M408.1 394.1l1.9 -0.6M410.1 393.6l1.9 -0.6M398.9 395.5l-2.3 -2.2M396.6 393.3l-1.8 -0.9M394.8 392.4l-1.8 -0.9M412.0 402.1l0.4 -2.5M412.4 399.5l1.5 -1.0M413.9 398.5l1.5 -1.0M413.0 397.2l-0.7 -2.9M412.3 394.3l0.1 -1.9M412.4 392.4l0.1 -1.9M406.4 402.8l-2.7 -0.1M403.8 402.7l-2.0 0.4M401.8 403.1l-2.0 0.4M425.5 404.1l-0.7 2.9M424.7 407.0l-1.5 -0.8M423.2 406.2l-1.5 -0.8M432.4 406.0l1.4 2.7M433.8 408.6l0.9 1.5M434.7 410.1l0.9 1.5M430.5 397.0l-0.2 -2.9M430.3 394.1l-2.0 0.3M428.4 394.4l-2.0 0.3M442.2 402.9l-1.5 2.2M440.7 405.1l-2.0 -0.2M438.7 404.9l-2.0 -0.2M439.7 395.7l0.7 0.8M440.4 396.5l0.3 0.8M440.7 397.3l0.3 0.8M434.4 400.8l-2.1 -2.4M432.2 398.4l0.4 -0.8M432.6 397.6l0.4 -0.8M443.8 398.1l1.1 2.8M445.0 400.9l-0.9 -0.2M444.1 400.7l-0.9 -0.2M442.1 397.7l-2.4 0.6M439.7 398.3l0.3 -0.3M440.0 398.0l0.3 -0.3M449.0 400.6l-1.3 2.9M447.7 403.5l0.5 1.5M448.2 405.0l0.5 1.5M461.3 403.8l-0.7 -1.1M460.6 402.6l-0.4 -0.4M460.1 402.2l-0.4 -0.4M457.6 404.6l2.8 -0.4M460.4 404.2l1.9 -0.0M462.4 404.1l1.9 -0.0M453.7 404.6l-0.6 0.1M453.1 404.6l0.2 -0.2M453.3 404.4l0.2 -0.2M474.5 399.5l1.7 2.0M476.2 401.5l-0.4 0.9M475.8 402.4l-0.4 0.9M466.9 402.1l0.8 3.1M467.7 405.2l-1.1 0.5M466.6 405.7l-1.1 0.5M468.4 397.6l-2.3 2.2M466.1 399.8l-1.1 0.7M465.0 400.4l-1.1 0.7M480.3 396.2l-2.1 -0.8M478.2 395.4l-0.3 -1.0M477.9 394.4l-0.3 -1.0M483.1 404.3l-0.2 3.2M482.9 407.4l-0.7 0.9M482.2 408.4l-0.7 0.9M477.1 399.0l-2.7 -0.9M474.3 398.1l-1.5 0.2M472.8 398.3l-1.5 0.2M370.3 402.1l-1.0 0.2M369.3 402.3l-1.6 0.7M367.8 403.1l-1.6 0.7M374.1 409.2l1.7 2.6M375.9 411.9l1.8 1.0M377.6 412.9l1.8 1.0M373.8 401.4l-2.5 -1.8M371.2 399.6l-1.3 0.4M370.0 400.1l-1.3 0.4M384.8 407.8l1.1 -3.0M386.0 404.9l1.4 -1.4M387.4 403.4l1.4 -1.4M382.2 416.1l-0.9 0.5M381.3 416.7l-1.5 0.6M379.7 417.2l-1.5 0.6M378.0 410.6l-2.3 1.1M375.7 411.7l-1.1 -0.6M374.6 411.2l-1.1 -0.6M388.1 406.2l-2.3 -0.0M385.8 406.2l-0.9 1.7M384.9 407.9l-0.9 1.7M397.1 407.6l2.9 0.5M399.9 408.1l-0.5 0.5M399.4 408.6l-0.5 0.5M392.6 412.4l1.4 -0.7M393.9 411.7l1.6 -0.2M395.5 411.5l1.6 -0.2M410.1 412.2l-2.7 1.7M407.4 413.9l-1.0 1.6M406.4 415.5l-1.0 1.6M411.9 403.4l1.7 -2.3M413.6 401.1l-0.7 1.9M412.8 403.0l-0.7 1.9M407.2 408.6l0.3 1.9M407.4 410.5l-1.2 -0.1M406.3 410.5l-1.2 -0.1M420.1 416.2l2.4 1.7M422.5 417.9l0.7 1.4M423.2 419.2l0.7 1.4M420.1 407.2l0.7 -3.0M420.8 404.2l0.2 -1.9M421.0 402.3l0.2 -1.9M414.5 412.3l-2.1 1.5M412.4 413.8l-1.6 1.1M410.8 414.9l-1.6 1.1M434.1 407.0l-1.7 -1.6M432.4 405.4l-1.9 0.8M430.6 406.1l-1.9 0.8M431.3 408.5l-2.5 0.3M428.8 408.7l1.0 -1.7M429.8 407.0l1.0 -1.7M435.1 415.2l-0.2 3.1M434.9 418.3l-1.2 0.8M433.7 419.1l-1.2 0.8M441.7 402.4l-1.4 -2.4M440.2 399.9l-1.1 -1.6M439.1 398.4l-1.1 -1.6M447.6 403.7l1.4 -2.3M449.0 401.4l1.9 0.4M450.9 401.8l1.9 0.4M442.0 410.4l-2.1 1.2M439.9 411.5l-0.2 1.0M439.7 412.5l-0.2 1.0M455.0 411.9l2.5 1.6M457.5 413.5l-0.5 -1.4M457.1 412.1l-0.5 -1.4M446.4 408.5l-2.7 -0.2M443.7 408.4l-1.7 1.0M441.9 409.3l-1.7 1.0M448.1 416.4l-1.0 1.6M447.1 418.0l-0.9 1.9M446.2 419.9l-0.9 1.9M462.7 408.7l-3.0 -0.6M459.7 408.1l-1.9 -0.7M457.7 407.4l-1.9 -0.7M471.2 410.6l0.5 3.1M471.7 413.7l1.9 0.8M473.5 414.5l1.9 0.8M466.6 408.5l1.1 1.3M467.7 409.8l1.9 -0.3M469.5 409.5l1.9 -0.3M471.0 408.6l-2.5 1.2M468.5 409.8l-0.4 1.4M468.1 411.2l-0.4 1.4M476.8 403.5l2.2 -0.3M479.0 403.2l1.5 -0.9M480.5 402.3l1.5 -0.9M477.6 405.5l-0.8 2.1M476.8 407.6l0.1 -0.4M476.9 407.2l0.1 -0.4M366.7 413.8l-3.2 -0.3M363.6 413.5l-1.7 -0.8M361.8 412.7l-1.7 -0.8M372.0 416.4l0.7 -1.1M372.6 415.2l-1.3 0.3M371.3 415.6l-1.3 0.3M374.3 418.5l2.8 -0.7M377.1 417.7l-0.8 -1.5M376.3 416.2l-0.8 -1.5M395.5 419.7l2.8 0.1M398.3 419.9l1.7 -0.5M400.0 419.4l1.7 -0.5M389.7 424.9l-0.9 0.6M388.7 425.5l-1.9 0.6M386.8 426.1l-1.9 0.6M389.7 416.8l-1.7 -2.3M388.0 414.5l-2.0 0.5M386.1 415.0l-2.0 0.5M404.4 426.3l-1.2 1.8M403.2 428.1l-1.0 1.0M402.2 429.1l-1.0 1.0M400.6 420.0l-1.7 -1.6M398.9 418.4l-1.2 -0.5M397.7 417.9l-1.2 -0.5M409.1 419.8l1.1 -2.6M410.2 417.2l-1.0 -1.8M409.1 415.4l-1.0 -1.8M419.4 414.6l2.3 -1.5M421.6 413.1l0.4 -0.8M422.1 412.4l0.4 -0.8M410.3 414.1l-3.1 0.2M407.2 414.3l-1.4 -1.4M405.7 412.9l-1.4 -1.4M414.1 416.6l0.4 1.8M414.5 418.4l1.0 1.8M415.6 420.2l1.0 1.8M421.9 419.3l-1.8 -2.5M420.1 416.8l2.0 -0.4M422.1 416.3l2.0 -0.4M421.6 426.7l-1.2 1.5M420.4 428.2l-0.7 1.8M419.7 430.0l-0.7 1.8M416.5 421.7l-0.1 3.0M416.3 424.8l-0.0 -0.5M416.3 424.2l-0.0 -0.5M438.4 415.1l-1.2 -1.1M437.2 414.1l-1.8 0.3M435.4 414.4l-1.8 0.3M434.2 411.7l-1.0 -3.0M433.2 408.6l0.3 -2.0M433.5 406.6l0.3 -2.0M431.8 417.8l-0.1 -2.2M431.7 415.7l1.6 -0.9M433.3 414.8l1.6 -0.9M449.2 416.4l2.0 -2.4M451.3 414.0l0.2 -0.8M451.4 413.1l0.2 -0.8M453.1 423.6l3.0 0.1M456.1 423.6l2.0 0.2M458.1 423.8l2.0 0.2M445.9 424.2l-2.8 1.6M443.2 425.8l0.1 2.0M443.3 427.8l0.1 2.0M458.3 425.2l0.5 3.0M458.9 428.3l0.5 1.7M459.3 430.0l0.5 1.7M453.8 418.1l-0.8 -0.6M453.0 417.5l-0.0 -2.0M452.9 415.5l-0.0 -2.0M458.3 418.5l2.7 0.8M461.0 419.3l0.3 -1.3M461.3 418.1l0.3 -1.3M479.9 416.9l3.0 -0.1M482.9 416.9l1.1 -1.5M484.0 415.3l1.1 -1.5M473.7 411.1l0.9 -2.8M474.7 408.3l1.6 0.3M476.3 408.6l1.6 0.3M471.9 419.4l0.4 1.6M472.3 421.0l-1.1 -0.1M471.2 420.9l-1.1 -0.1M485.5 420.4l-1.9 -1.3M483.7 419.1l-0.4 -2.0M483.3 417.1l-0.4 -2.0M483.7 419.8l-0.7 -3.1M483.1 416.7l-1.9 -0.7M481.2 416.0l-1.9 -0.7M485.3 428.2l-0.1 2.8M485.2 430.9l1.9 0.0M487.1 431.0l1.9 0.0M403.1 425.3l0.9 -1.5M404.0 423.8l0.6 0.5M404.6 424.3l0.6 0.5M397.2 430.4l-0.9 3.0M396.3 433.3l-1.1 0.7M395.3 434.1l-1.1 0.7M395.2 426.3l-1.2 0.7M394.0 427.0l0.2 1.9M394.2 428.9l0.2 1.9M407.2 426.4l-2.8 0.9M404.4 427.3l-1.2 -0.3M403.1 427.0l-1.2 -0.3M411.1 424.1l0.4 2.4M411.5 426.5l-0.5 1.7M411.0 428.2l-0.5 1.7M404.8 419.1l-1.5 -2.0M403.2 417.1l1.8 0.2M405.1 417.4l1.8 0.2M420.6 435.4l0.4 0.3M421.0 435.8l0.5 0.2M421.5 436.0l0.5 0.2M422.4 427.6l3.0 -0.4M425.5 427.2l-1.5 1.4M424.0 428.6l-1.5 1.4M414.0 430.1l-2.0 -1.8M412.0 428.3l-1.9 -0.5M410.1 427.9l-1.9 -0.5M428.8 428.6l2.3 1.7M431.1 430.4l1.9 -0.6M433.0 429.8l1.9 -0.6M433.7 422.0l1.5 -2.8M435.1 419.1l1.3 0.6M436.4 419.7l1.3 0.6M431.8 428.9l0.3 1.0M432.1 429.9l0.5 -0.7M432.6 429.3l0.5 -0.7M443.6 430.2l0.1 2.8M443.7 433.0l-0.6 2.0M443.1 434.9l-0.6 2.0M440.5 423.7l-2.9 0.6M437.6 424.4l0.4 1.2M438.0 425.6l0.4 1.2M449.1 426.6l3.2 -0.5M452.3 426.0l2.0 0.1M454.3 426.2l2.0 0.1M452.4 425.1l-2.2 -2.3M450.2 422.8l-1.2 -1.4M449.0 421.4l-1.2 -1.4M454.9 433.9l-0.8 3.1M454.1 437.0l-1.8 -0.6M452.3 436.4l-1.8 -0.6M458.5 429.6l0.8 1.2M459.3 430.8l0.1 2.0M459.5 432.8l0.1 2.0M463.4 430.8l-0.9 3.0M462.5 433.8l0.1 1.1M462.6 435.0l0.1 1.1M463.7 424.9l-0.9 -0.4M462.8 424.4l-1.3 1.3M461.5 425.7l-1.3 1.3M470.0 430.3l0.3 2.6M470.3 433.0l0.3 1.8M470.7 434.7l0.3 1.8M479.8 428.6l-1.0 -2.9M478.8 425.7l-0.2 -1.0M478.6 424.7l-0.2 -1.0M477.3 429.3l1.4 -2.8M478.7 426.5l0.2 -1.8M478.9 424.7l0.2 -1.8M479.3 437.2l-0.1 3.0M479.1 440.2l-1.0 1.6M478.1 441.8l-1.0 1.6M367.0 434.2l-2.4 -2.2M364.6 432.0l-1.3 -1.2M363.3 430.8l-1.3 -1.2M371.5 436.6l3.1 -0.5M374.6 436.0l-0.5 -1.8M374.1 434.2l-0.5 -1.8M374.9 435.3l-1.3 1.7M373.6 437.0l1.5 1.3M375.1 438.3l1.5 1.3M378.9 430.4l2.0 1.1M380.9 431.5l1.2 1.5M382.2 433.1l1.2 1.5M375.1 435.3l-0.3 1.2M374.8 436.5l-1.6 0.5M373.2 437.0l-1.6 0.5M375.5 437.7l-2.4 1.7M373.1 439.4l-0.4 2.0M372.7 441.4l-0.4 2.0M397.6 437.6l0.0 0.9M397.6 438.5l0.5 0.3M398.1 438.8l0.5 0.3M390.1 438.6l-3.1 -0.4M387.0 438.2l-1.2 -1.6M385.8 436.6l-1.2 -1.6M394.5 445.1l-2.3 1.9M392.2 447.0l-1.8 -0.7M390.4 446.2l-1.8 -0.7M408.5 436.8l0.7 2.9M409.2 439.7l0.1 2.0M409.3 441.7l0.1 2.0M401.4 440.7l-1.3 2.6M400.1 443.3l0.9 1.4M401.0 444.7l0.9 1.4M401.3 431.9l-0.7 -2.2M400.6 429.7l-1.5 1.0M399.1 430.7l-1.5 1.0M418.7 431.1l0.7 -3.1M419.4 428.0l-1.3 -1.2M418.1 426.8l-1.3 -1.2M414.7 439.4l-0.5 3.2M414.3 442.6l0.4 1.9M414.7 444.5l0.4 1.9M410.5 431.6l-1.3 -2.7M409.1 428.8l-0.2 -2.0M408.9 426.8l-0.2 -2.0M423.6 443.4l-1.4 2.2M422.2 445.7l-0.4 1.8M421.7 447.5l-0.4 1.8M426.7 437.9l2.7 -0.6M429.3 437.3l1.8 0.6M431.1 437.9l1.8 0.6M429.5 437.9l1.5 2.6M431.0 440.6l1.1 0.6M432.1 441.1l1.1 0.6M436.6 436.6l-0.4 -1.7M436.3 434.9l-1.6 0.6M434.6 435.5l-1.6 0.6M431.5 434.1l2.4 0.3M433.9 434.3l0.4 -1.4M434.3 432.9l0.4 -1.4M429.0 438.3l-1.8 0.6M427.3 438.9l-1.9 -0.2M425.4 438.7l-1.9 -0.2M453.5 438.0l0.3 -0.2M453.8 437.8l1.0 -1.4M454.8 436.4l1.0 -1.4M446.5 437.5l-2.8 1.2M443.7 438.7l-2.0 -0.5M441.8 438.2l-2.0 -0.5M450.4 431.4l3.0 -0.3M453.4 431.1l1.5 -0.5M454.9 430.6l1.5 -0.5M460.0 438.9l-3.0 -0.8M457.0 438.1l-1.4 1.3M455.6 439.4l-1.4 1.3M457.2 439.0l-0.9 -0.7M456.3 438.2l0.5 -0.8M456.8 437.4l0.5 -0.8M464.7 442.9l1.7 0.8M466.4 443.8l0.6 0.7M467.0 444.5l0.6 0.7M472.4 438.7l1.0 2.8M473.5 441.5l0.6 1.5M474.0 442.9l0.6 1.5M465.6 438.9l2.5 0.4M468.1 439.4l-1.8 0.1M466.3 439.5l-1.8 0.1M466.0 438.3l-1.2 2.9M464.8 441.2l0.4 2.0M465.2 443.2l0.4 2.0M479.6 434.1l-2.3 -0.4M477.3 433.7l-0.0 -0.5M477.3 433.3l-0.0 -0.5M484.5 436.8l2.0 -2.3M486.5 434.4l1.5 1.0M488.0 435.4l1.5 1.0M476.5 440.2l-1.0 2.4M475.4 442.6l-0.9 1.8M474.6 444.5l-0.9 1.8M374.8 453.8l1.6 1.9M376.3 455.6l1.4 1.1M377.7 456.7l1.4 1.1M378.2 447.4l3.0 0.9M381.2 448.3l0.7 1.9M381.9 450.2l0.7 1.9M369.2 449.2l-2.1 1.7M367.1 450.9l-1.9 0.8M365.2 451.7l-1.9 0.8M394.3 444.1l1.3 2.1M395.5 446.3l1.8 -0.9M397.3 445.4l1.8 -0.9M386.6 447.7l-1.5 2.3M385.2 450.0l0.5 2.0M385.7 452.0l0.5 2.0M388.1 439.0l2.2 -1.0M390.3 438.0l-1.6 -1.2M388.7 436.8l-1.6 -1.2M398.2 451.7l-2.9 1.2M395.3 452.9l-1.3 0.3M394.0 453.2l-1.3 0.3M399.6 455.3l2.0 -0.3M401.6 455.0l-0.2 -1.9M401.4 453.1l-0.2 -1.9M398.3 447.3l1.0 -1.6M399.3 445.6l-1.4 -1.1M397.9 444.5l-1.4 -1.1M405.1 454.6l-2.7 0.9M402.4 455.5l-1.1 1.1M401.3 456.6l-1.1 1.1M409.5 452.3l-1.0 0.2M408.6 452.5l1.1 1.7M409.7 454.2l1.1 1.7M414.1 454.3l1.7 0.4M415.8 454.7l1.0 -0.6M416.8 454.1l1.0 -0.6M414.4 449.3l-0.6 -0.7M413.9 448.6l2.0 0.5M415.8 449.1l2.0 0.5M416.3 449.0l3.2 0.1M419.4 449.1l1.7 0.4M421.1 449.4l1.7 0.4M412.5 455.5l0.2 0.5M412.7 456.0l-1.5 -1.0M411.1 455.0l-1.5 -1.0M422.1 450.4l-2.4 0.2M419.7 450.7l-0.3 1.1M419.5 451.7l-0.3 1.1M428.0 446.3l-0.5 -2.9M427.5 443.4l-1.9 -0.8M425.6 442.6l-1.9 -0.8M430.5 451.7l1.0 0.0M431.5 451.7l-0.8 1.8M430.7 453.6l-0.8 1.8M442.7 452.8l0.6 3.1M443.3 455.9l2.0 -0.1M445.3 455.8l2.0 -0.1M434.7 454.4l-1.9 0.6M432.8 455.0l-1.2 1.5M431.7 456.4l-1.2 1.5M437.5 450.7l-0.5 3.0M437.0 453.7l-1.4 1.3M435.6 455.0l-1.4 1.3M478.5 455.7l-1.4 2.5M477.0 458.3l-1.1 1.2M476.0 459.5l-1.1 1.2M473.2 453.1l-1.9 2.2M471.3 455.3l1.1 1.5M472.4 456.9l1.1 1.5M481.4 450.3l1.0 -1.6M482.4 448.7l1.4 -1.4M483.8 447.2l1.4 -1.4M365.8 454.3l-2.5 1.2M363.3 455.5l-1.8 0.9M361.5 456.4l-1.8 0.9M373.4 449.7l1.5 -2.8M374.9 446.9l2.0 -0.1M377.0 446.8l2.0 -0.1M373.8 455.7l1.3 -2.2M375.1 453.5l1.6 0.0M376.7 453.5l1.6 0.0M374.6 456.7l-0.6 -1.5M374.0 455.2l0.3 1.5M374.4 456.7l0.3 1.5M372.9 464.2l0.8 3.1M373.7 467.3l0.1 1.5M373.7 468.8l0.1 1.5M380.3 460.7l2.1 1.4M382.4 462.1l0.8 -0.9M383.2 461.1l0.8 -0.9M392.8 456.4l-1.4 -1.1M391.4 455.3l-1.3 1.4M390.0 456.7l-1.3 1.4M398.5 453.8l2.6 -1.7M401.1 452.1l1.6 -1.1M402.7 451.0l1.6 -1.1M391.4 450.1l-2.7 1.5M388.7 451.5l-1.8 -1.0M387.0 450.5l-1.8 -1.0M413.0 457.2l-1.1 0.0M411.9 457.2l-2.0 0.3M409.9 457.5l-2.0 0.3M414.4 458.9l-2.3 2.2M412.0 461.0l-1.4 0.4M410.6 461.4l-1.4 0.4M421.0 456.2l1.4 -2.9M422.4 453.3l-1.1 -1.3M421.3 452.0l-1.1 -1.3M422.8 456.1l-1.4 -2.8M421.4 453.3l-2.0 -0.3M419.5 453.0l-2.0 -0.3M429.3 454.6l-2.1 -1.7M427.2 453.0l-1.3 -0.5M425.9 452.5l-1.3 -0.5M428.5 452.2l-0.1 -2.6M428.5 449.6l1.5 0.3M430.0 449.9l1.5 0.3M437.4 456.5l-2.1 -2.3M435.4 454.2l-1.0 -1.7M434.4 452.6l-1.0 -1.7M431.2 461.7l-3.2 -0.2M428.0 461.5l-0.8 1.7M427.2 463.2l-0.8 1.7M436.0 462.6l-2.2 -2.2M433.9 460.4l-1.4 -0.8M432.5 459.6l-1.4 -0.8M452.0 454.9l-0.0 -2.7M452.0 452.2l-2.0 0.5M450.0 452.6l-2.0 0.5M455.1 455.0l0.2 3.0M455.3 458.0l-1.0 1.8M454.3 459.8l-1.0 1.8M446.9 455.7l-2.4 -0.8M444.5 454.9l1.2 0.2M445.7 455.1l1.2 0.2M410.9 475.8l1.3 2.5M412.2 478.4l-0.3 0.9M411.9 479.2l-0.3 0.9M409.7 467.1l-1.1 -1.8M408.6 465.3l-2.0 0.2M406.6 465.5l-2.0 0.2M407.0 470.8l-1.6 1.4M405.4 472.2l-1.2 -1.7M404.2 470.5l-1.2 -1.7M422.9 473.5l2.4 1.4M425.3 474.8l0.0 -0.9M425.3 473.9l0.0 -0.9M421.2 466.5l-0.6 1.3M420.7 467.8l-0.1 2.0M420.6 469.7l-0.1 2.0M421.5 472.7l-1.2 0.9M420.2 473.6l1.0 -1.7M421.3 471.9l1.0 -1.7M438.1 474.6l-0.7 0.9M437.4 475.4l1.3 -0.4M438.7 475.0l1.3 -0.4M433.2 467.6l-1.6 -2.3M431.6 465.3l-1.4 -1.4M430.1 463.9l-1.4 -1.4M430.6 473.7l-2.6 -1.8M427.9 471.9l-1.6 -1.2M426.3 470.7l-1.6 -1.2M437.0 465.3l-1.8 -2.5M435.2 462.8l-1.7 -0.1M433.4 462.6l-1.7 -0.1M443.4 471.6l-0.7 3.1M442.7 474.7l-1.5 1.4M441.2 476.0l-1.5 1.4M445.0 463.6l2.3 -0.3M447.2 463.3l0.1 0.4M447.3 463.7l0.1 0.4M456.3 468.7l1.9 1.7M458.1 470.4l-0.2 -0.4M457.9 469.9l-0.2 -0.4M456.6 476.3l2.7 1.6M459.3 478.0l1.1 -1.6M460.4 476.4l1.1 -1.6M454.1 472.8l2.9 0.3M457.0 473.2l2.0 -0.4M459.0 472.7l2.0 -0.4M466.0 464.8l1.9 -1.0M467.9 463.8l1.1 -1.5M469.0 462.3l1.1 -1.5M460.0 469.8l2.7 1.2M462.7 471.0l0.5 1.9M463.2 472.9l0.5 1.9M458.0 461.4l-1.5 -2.3M456.5 459.1l-1.1 -1.7M455.5 457.4l-1.1 -1.7M477.6 468.1l-0.1 -1.1M477.4 467.0l-0.7 1.3M476.7 468.3l-0.7 1.3M478.8 469.8l0.6 -0.7M479.4 469.0l0.9 1.4M480.3 470.4l0.9 1.4M479.0 461.9l-0.5 -2.8M478.5 459.1l0.0 -1.4M478.5 457.6l0.0 -1.4M422.0 478.8l-1.7 2.5M420.3 481.4l-1.4 1.5M418.9 482.9l-1.4 1.5M424.9 473.1l0.6 0.9M425.5 474.0l1.7 1.2M427.2 475.2l1.7 1.2M427.6 471.9l2.4 -1.4M430.0 470.4l-0.5 -1.3M429.5 469.1l-0.5 -1.3M434.6 482.0l2.3 -0.0M436.8 481.9l2.0 0.2M438.8 482.1l2.0 0.2M435.5 483.9l0.5 3.2M435.9 487.0l0.2 0.8M436.1 487.8l0.2 0.8M441.2 480.5l1.3 0.9M442.5 481.5l-0.0 1.5M442.5 482.9l-0.0 1.5M436.6 485.6l0.0 2.6M436.7 488.2l0.7 0.4M437.4 488.6l0.7 0.4M444.4 483.7l2.2 -1.8M446.6 481.9l0.5 -1.8M447.1 480.1l0.5 -1.8M443.1 483.8l1.9 0.4M444.9 484.1l1.7 1.0M446.6 485.2l1.7 1.0M442.8 498.9l3.0 0.0M445.8 498.9l1.3 -1.2M447.1 497.7l1.3 -1.2M437.4 495.1l0.7 -3.1M438.1 492.1l1.9 -0.7M440.0 491.4l1.9 -0.7M435.4 496.2l1.5 -1.0M436.8 495.2l0.3 -0.2M437.1 495.0l0.3 -0.2" stroke="#b8b8b8" stroke-width="0.85" stroke-linecap="round" fill="none"/>
<path d="M387.8 365.1h0M391.9 372.5h0M393.9 375.1h0M399.3 372.4h0M403.6 360.4h0M470.8 373.1h0M466.6 374.8h0M389.5 380.9h0M395.8 383.5h0M403.3 381.4h0M405.1 380.3h0M419.3 373.2h0M418.5 377.8h0M419.3 377.5h0M424.0 382.0h0M417.3 379.6h0M436.5 383.1h0M439.8 382.1h0M458.0 386.1h0M469.2 378.5h0M474.0 384.4h0M466.4 385.6h0M469.8 381.9h0M482.1 380.3h0M390.0 388.3h0M383.8 392.1h0M389.3 395.9h0M393.9 391.4h0M391.4 385.1h0M398.5 385.2h0M408.5 388.0h0M407.2 389.6h0M412.8 393.3h0M413.6 385.8h0M419.7 381.2h0M419.9 387.8h0M430.3 388.7h0M439.1 397.1h0M453.8 388.6h0M453.9 384.8h0M464.5 384.4h0M470.2 389.0h0M463.9 388.0h0M463.4 392.0h0M479.7 385.2h0M477.3 387.7h0M482.0 381.6h0M380.6 393.9h0M392.1 401.5h0M389.5 398.9h0M399.6 396.1h0M411.9 402.8h0M414.4 405.6h0M407.2 402.8h0M430.5 397.8h0M439.0 401.4h0M442.6 402.3h0M443.5 397.3h0M442.8 397.5h0M449.4 399.8h0M461.5 404.1h0M456.8 404.7h0M453.9 404.6h0M457.0 398.2h0M474.0 398.9h0M466.7 401.2h0M468.4 393.8h0M480.9 396.5h0M485.2 396.9h0M370.6 402.0h0M373.7 408.5h0M367.6 405.3h0M378.6 410.3h0M393.9 405.7h0M410.9 411.8h0M419.4 415.7h0M415.1 411.9h0M434.6 407.4h0M432.0 408.4h0M439.6 408.5h0M448.3 407.4h0M447.2 404.4h0M442.6 410.1h0M450.6 410.4h0M454.3 411.4h0M463.5 408.9h0M471.1 409.7h0M467.8 402.8h0M471.6 400.6h0M471.7 408.2h0M476.2 403.6h0M477.8 404.9h0M367.6 413.9h0M411.1 414.0h0M422.4 420.0h0M421.9 426.3h0M416.5 420.9h0M423.5 419.5h0M437.7 419.5h0M434.5 412.5h0M431.8 418.5h0M452.2 423.5h0M446.7 423.7h0M461.7 417.8h0M458.2 424.4h0M474.4 417.9h0M471.8 419.0h0M486.1 420.8h0M483.9 420.7h0M397.5 429.5h0M400.0 432.4h0M420.5 435.4h0M421.6 427.7h0M448.2 426.7h0M460.0 427.2h0M455.1 433.0h0M463.4 432.6h0M480.1 429.5h0M473.1 432.6h0M476.9 430.1h0M479.3 436.4h0M371.4 441.5h0M375.3 434.8h0M370.9 431.9h0M378.4 430.1h0M397.7 440.6h0M395.1 444.6h0M401.8 440.0h0M401.5 432.5h0M414.1 432.4h0M410.8 432.3h0M423.9 442.8h0M430.9 434.0h0M429.6 438.2h0M449.5 431.5h0M446.4 437.9h0M460.9 439.1h0M457.4 439.2h0M463.8 435.0h0M464.2 442.7h0M467.4 431.9h0M377.4 447.2h0M387.4 439.3h0M389.8 443.2h0M399.0 451.4h0M399.1 455.3h0M409.8 452.3h0M413.6 454.2h0M415.4 448.9h0M437.6 449.9h0M478.9 455.0h0M371.3 457.7h0M366.6 453.9h0M373.0 450.5h0M373.4 456.3h0M393.2 456.7h0M398.3 451.1h0M415.0 458.2h0M420.7 457.0h0M423.2 456.9h0M429.9 455.1h0M438.0 457.1h0M436.7 463.3h0M452.0 455.7h0M410.1 467.6h0M415.6 471.2h0M421.4 466.1h0M436.9 469.6h0M433.7 468.2h0M431.3 474.2h0M443.6 470.7h0M444.3 463.6h0M465.5 465.1h0M477.6 468.4h0M419.6 471.0h0M434.8 475.9h0M433.9 482.0h0M435.3 483.0h0M440.8 480.3h0M441.8 490.5h0M443.7 484.2h0" stroke="#900000" stroke-width="3.0" stroke-linecap="round" fill="none"/>
<path d="M387.8 365.1h0M391.9 372.5h0M393.9 375.1h0M399.3 372.4h0M403.6 360.4h0M470.8 373.1h0M466.6 374.8h0M389.5 380.9h0M395.8 383.5h0M403.3 381.4h0M405.1 380.3h0M419.3 373.2h0M418.5 377.8h0M419.3 377.5h0M424.0 382.0h0M417.3 379.6h0M436.5 383.1h0M439.8 382.1h0M458.0 386.1h0M469.2 378.5h0M474.0 384.4h0M466.4 385.6h0M469.8 381.9h0M482.1 380.3h0M390.0 388.3h0M383.8 392.1h0M389.3 395.9h0M393.9 391.4h0M391.4 385.1h0M398.5 385.2h0M408.5 388.0h0M407.2 389.6h0M412.8 393.3h0M413.6 385.8h0M419.7 381.2h0M419.9 387.8h0M430.3 388.7h0M439.1 397.1h0M453.8 388.6h0M453.9 384.8h0M464.5 384.4h0M470.2 389.0h0M463.9 388.0h0M463.4 392.0h0M479.7 385.2h0M477.3 387.7h0M482.0 381.6h0M380.6 393.9h0M392.1 401.5h0M389.5 398.9h0M399.6 396.1h0M411.9 402.8h0M414.4 405.6h0M407.2 402.8h0M430.5 397.8h0M439.0 401.4h0M442.6 402.3h0M443.5 397.3h0M442.8 397.5h0M449.4 399.8h0M461.5 404.1h0M456.8 404.7h0M453.9 404.6h0M457.0 398.2h0M474.0 398.9h0M466.7 401.2h0M468.4 393.8h0M480.9 396.5h0M485.2 396.9h0M370.6 402.0h0M373.7 408.5h0M367.6 405.3h0M378.6 410.3h0M393.9 405.7h0M410.9 411.8h0M419.4 415.7h0M415.1 411.9h0M434.6 407.4h0M432.0 408.4h0M439.6 408.5h0M448.3 407.4h0M447.2 404.4h0M442.6 410.1h0M450.6 410.4h0M454.3 411.4h0M463.5 408.9h0M471.1 409.7h0M467.8 402.8h0M471.6 400.6h0M471.7 408.2h0M476.2 403.6h0M477.8 404.9h0M367.6 413.9h0M411.1 414.0h0M422.4 420.0h0M421.9 426.3h0M416.5 420.9h0M423.5 419.5h0M437.7 419.5h0M434.5 412.5h0M431.8 418.5h0M452.2 423.5h0M446.7 423.7h0M461.7 417.8h0M458.2 424.4h0M474.4 417.9h0M471.8 419.0h0M486.1 420.8h0M483.9 420.7h0M397.5 429.5h0M400.0 432.4h0M420.5 435.4h0M421.6 427.7h0M448.2 426.7h0M460.0 427.2h0M455.1 433.0h0M463.4 432.6h0M480.1 429.5h0M473.1 432.6h0M476.9 430.1h0M479.3 436.4h0M371.4 441.5h0M375.3 434.8h0M370.9 431.9h0M378.4 430.1h0M397.7 440.6h0M395.1 444.6h0M401.8 440.0h0M401.5 432.5h0M414.1 432.4h0M410.8 432.3h0M423.9 442.8h0M430.9 434.0h0M429.6 438.2h0M449.5 431.5h0M446.4 437.9h0M460.9 439.1h0M457.4 439.2h0M463.8 435.0h0M464.2 442.7h0M467.4 431.9h0M377.4 447.2h0M387.4 439.3h0M389.8 443.2h0M399.0 451.4h0M399.1 455.3h0M409.8 452.3h0M413.6 454.2h0M415.4 448.9h0M437.6 449.9h0M478.9 455.0h0M371.3 457.7h0M366.6 453.9h0M373.0 450.5h0M373.4 456.3h0M393.2 456.7h0M398.3 451.1h0M415.0 458.2h0M420.7 457.0h0M423.2 456.9h0M429.9 455.1h0M438.0 457.1h0M436.7 463.3h0M452.0 455.7h0M410.1 467.6h0M415.6 471.2h0M421.4 466.1h0M436.9 469.6h0M433.7 468.2h0M431.3 474.2h0M443.6 470.7h0M444.3 463.6h0M465.5 465.1h0M477.6 468.4h0M419.6 471.0h0M434.8 475.9h0M433.9 482.0h0M435.3 483.0h0M440.8 480.3h0M441.8 490.5h0M443.7 484.2h0" stroke="#ee1515" stroke-width="2.25" stroke-linecap="round" fill="none"/>
<path d="M386.5 365.8h0M394.8 371.9h0M404.2 365.0h0M466.9 372.0h0M393.7 383.0h0M406.9 381.1h0M418.1 377.6h0M420.9 378.4h0M440.6 383.1h0M444.0 379.0h0M459.6 381.7h0M469.9 382.6h0M480.5 382.5h0M377.5 390.4h0M386.9 391.8h0M394.0 386.7h0M410.5 389.2h0M422.4 384.9h0M429.1 389.2h0M439.7 392.9h0M454.1 389.0h0M465.5 388.3h0M478.4 383.9h0M378.9 397.7h0M392.7 398.3h0M402.6 399.0h0M411.7 402.3h0M428.6 402.0h0M439.1 400.1h0M445.8 396.8h0M457.3 402.9h0M469.5 397.7h0M481.8 399.0h0M371.6 404.4h0M382.8 411.7h0M392.8 408.0h0M408.5 407.8h0M417.0 411.7h0M435.3 409.6h0M445.0 406.2h0M450.1 411.6h0M467.2 407.4h0M474.3 404.3h0M371.9 415.2h0M390.5 420.2h0M404.8 421.3h0M414.5 416.6h0M421.1 421.7h0M435.7 416.5h0M448.1 421.7h0M457.9 419.7h0M474.7 416.4h0M486.6 422.9h0M399.0 428.4h0M407.0 423.9h0M418.6 431.2h0M429.9 425.7h0M443.7 427.6h0M456.6 428.8h0M465.2 429.3h0M477.3 432.1h0M371.3 436.9h0M375.2 433.5h0M395.3 440.3h0M403.8 435.8h0M414.6 433.8h0M425.1 438.4h0M432.3 437.7h0M449.2 436.2h0M461.6 439.0h0M467.7 436.5h0M479.8 435.9h0M374.1 450.6h0M389.5 443.3h0M397.2 451.7h0M409.7 452.1h0M415.6 451.9h0M427.0 451.0h0M438.1 450.7h0M477.7 451.4h0M371.1 454.6h0M375.2 459.3h0M395.4 452.9h0M416.5 459.0h0M427.8 456.3h0M436.5 461.6h0M451.2 453.7h0M410.8 470.8h0M420.3 470.7h0M435.0 471.6h0M442.2 466.2h0M453.5 472.2h0M461.1 465.2h0M480.0 467.2h0M423.4 473.6h0M436.2 480.3h0M441.2 485.8h0M438.6 495.7h0" stroke="#8a8a4a" stroke-width="2.2" stroke-linecap="round" fill="none"/>
<path d="M35.5 394L28 393.4M35.5 394L36 387.6M35.5 394L38.6 391M35.5 394L42.4 396.1M35.5 394L33 397.6M35.5 394L34.9 401.4" stroke="#1a7a1a" stroke-width="1.8" stroke-linecap="round" fill="none"/>
<path d="M35.5 394L28 393.4M35.5 394L36 387.6M35.5 394L38.6 391M35.5 394L42.4 396.1M35.5 394L33 397.6M35.5 394L34.9 401.4" stroke="#3ee03e" stroke-width="1.1" stroke-linecap="round" fill="none"/>
<path d="M28 393.4h0M36 387.6h0M38.6 391h0M42.4 396.1h0M33 397.6h0M34.9 401.4h0" stroke="#1a9a1a" stroke-width="2.6" stroke-linecap="round"/>
<path d="M28 393.4h0M36 387.6h0M38.6 391h0M42.4 396.1h0M33 397.6h0M34.9 401.4h0" stroke="#44ee44" stroke-width="1.8" stroke-linecap="round"/>
<circle cx="35.5" cy="394" r="1.5" fill="url(#gP)"/>
<circle cx="41.3" cy="401.4" r="1.5" fill="url(#gP)"/>
<circle cx="48.8" cy="378.5" r="2.24" fill="url(#gO)"/>
<circle cx="43.4" cy="379.6" r="2.46" fill="url(#gC)"/>
<circle cx="45.6" cy="382.2" r="2.69" fill="url(#gC)"/>
<circle cx="40.2" cy="372.7" r="3.14" fill="url(#gF)"/>
<circle cx="47.2" cy="373.2" r="3.14" fill="url(#gF)"/>
<circle cx="39.7" cy="380.7" r="2.91" fill="url(#gF)"/>
<circle cx="50.4" cy="386" r="2.58" fill="url(#gO)"/>
<circle cx="56.2" cy="389.2" r="2.35" fill="url(#gO)"/>
<circle cx="47" cy="386" r="3.25" fill="url(#gC)"/>
<circle cx="51.5" cy="387.5" r="3.25" fill="url(#gC)"/>
<circle cx="49.3" cy="391.8" r="3.47" fill="url(#gC)"/>
<circle cx="54.1" cy="392.9" r="3.47" fill="url(#gC)"/>
<circle cx="48.2" cy="398.2" r="3.47" fill="url(#gC)"/>
<circle cx="56.2" cy="397.2" r="3.47" fill="url(#gC)"/>
<circle cx="50.9" cy="401.4" r="3.47" fill="url(#gC)"/>
<circle cx="55.7" cy="402" r="3.47" fill="url(#gC)"/>
<circle cx="53.6" cy="408.9" r="2.46" fill="url(#gN)"/>
<circle cx="49.8" cy="411.6" r="3.36" fill="url(#gO)"/>
<circle cx="58.4" cy="412.1" r="3.36" fill="url(#gO)"/>
<circle cx="58.7" cy="418.6" r="3.36" fill="url(#gL)"/>
<circle cx="66" cy="421.3" r="3.14" fill="url(#gO)"/>
<circle cx="69.7" cy="422.9" r="3.14" fill="url(#gO)"/>
<circle cx="69.2" cy="426.6" r="2.58" fill="url(#gN)"/>
<circle cx="71.3" cy="432" r="3.47" fill="url(#gC)"/>
<circle cx="76.6" cy="430.9" r="3.47" fill="url(#gC)"/>
<circle cx="69.2" cy="436.2" r="3.47" fill="url(#gC)"/>
<circle cx="78.8" cy="436.2" r="3.47" fill="url(#gC)"/>
<circle cx="71.3" cy="442.6" r="3.47" fill="url(#gC)"/>
<circle cx="77.2" cy="442.1" r="3.47" fill="url(#gC)"/>
<circle cx="79.8" cy="452.8" r="2.8" fill="url(#gC)"/>
<circle cx="84.1" cy="455.4" r="2.8" fill="url(#gC)"/>
<circle cx="80.9" cy="448" r="3.36" fill="url(#gO)"/>
<circle cx="74" cy="453.8" r="3.14" fill="url(#gO)"/>
<circle cx="89.9" cy="452.2" r="3.14" fill="url(#gF)"/>
<circle cx="83.7" cy="461.1" r="3.02" fill="url(#gF)"/>
<circle cx="88.7" cy="459.2" r="3.14" fill="url(#gF)"/>
<circle cx="114.8" cy="442.4" r="3.14" fill="url(#gO)"/>
<circle cx="107.9" cy="449.9" r="2.8" fill="url(#gO)"/>
<circle cx="111.6" cy="446.8" r="2.46" fill="url(#gN)"/>
<circle cx="111.5" cy="453.8" r="2.91" fill="url(#gC)"/>
<circle cx="116.5" cy="455" r="2.91" fill="url(#gC)"/>
<circle cx="114" cy="459" r="2.91" fill="url(#gC)"/>
<circle cx="119.5" cy="460" r="2.91" fill="url(#gC)"/>
<circle cx="125.3" cy="462.9" r="2.8" fill="url(#gC)"/>
<circle cx="119.1" cy="463.5" r="2.58" fill="url(#gO)"/>
<circle cx="129.7" cy="460.4" r="3.36" fill="url(#gO)"/>
<circle cx="124.7" cy="458" r="2.8" fill="url(#gF)"/>
<circle cx="132.1" cy="464.2" r="3.02" fill="url(#gF)"/>
<circle cx="123.4" cy="468.5" r="3.14" fill="url(#gF)"/>
<circle cx="106.1" cy="468.5" r="2.8" fill="url(#gF)"/>
<circle cx="112.3" cy="469.8" r="3.14" fill="url(#gF)"/>
<circle cx="114.8" cy="474.1" r="2.8" fill="url(#gF)"/>
<circle cx="63.4" cy="469.3" r="3.36" fill="url(#gL)"/>
<circle cx="106.1" cy="479.7" r="3.14" fill="url(#gO)"/>
<circle cx="103.6" cy="479.7" r="3.14" fill="url(#gC)"/>
<circle cx="99.5" cy="481.5" r="3.14" fill="url(#gC)"/>
<circle cx="95" cy="483" r="3.14" fill="url(#gC)"/>
<circle cx="100" cy="485.5" r="3.14" fill="url(#gC)"/>
<circle cx="95.5" cy="487.5" r="3.14" fill="url(#gC)"/>
<circle cx="92" cy="485.5" r="3.14" fill="url(#gC)"/>
<circle cx="87.4" cy="491.5" r="2.46" fill="url(#gN)"/>
<circle cx="88.7" cy="493.4" r="2.8" fill="url(#gO)"/>
<circle cx="84.3" cy="496.5" r="3.14" fill="url(#gO)"/>
<circle cx="376.8" cy="377.4" r="2.16" fill="url(#gO)"/>
<circle cx="379.3" cy="377.4" r="3.02" fill="url(#gO)"/>
<circle cx="388.6" cy="372.4" r="3.02" fill="url(#gO)"/>
<circle cx="384.9" cy="378.6" r="3.24" fill="url(#gC)"/>
<circle cx="389.8" cy="377.4" r="3.24" fill="url(#gC)"/>
<circle cx="386.1" cy="383.6" r="3.02" fill="url(#gO)"/>
<circle cx="394.2" cy="381.1" r="3.02" fill="url(#gO)"/>
<circle cx="389.8" cy="396" r="2.16" fill="url(#gO)"/>
<circle cx="388.6" cy="391" r="2.38" fill="url(#gF)"/>
<circle cx="393.6" cy="387.9" r="2.7" fill="url(#gP)"/>
<circle cx="398.5" cy="384.8" r="3.02" fill="url(#gF)"/>
<circle cx="401" cy="392.3" r="2.7" fill="url(#gO)"/>
<circle cx="402.3" cy="397.2" r="2.7" fill="url(#gC)"/>
<circle cx="407.2" cy="399.1" r="2.7" fill="url(#gO)"/>
<circle cx="381.1" cy="401.6" r="3.24" fill="url(#gL)"/>
<circle cx="384.9" cy="405.3" r="3.02" fill="url(#gO)"/>
<circle cx="394.8" cy="404.1" r="3.02" fill="url(#gO)"/>
<circle cx="393" cy="411.5" r="3.46" fill="url(#gL)"/>
<circle cx="402.3" cy="413.4" r="3.02" fill="url(#gF)"/>
<circle cx="389.8" cy="419.6" r="3.02" fill="url(#gF)"/>
<circle cx="398.5" cy="417.7" r="3.24" fill="url(#gO)"/>
<circle cx="474.3" cy="361" r="3.24" fill="url(#gO)"/>
<circle cx="487.3" cy="363.8" r="3.24" fill="url(#gO)"/>
<circle cx="475.7" cy="366.5" r="3.24" fill="url(#gC)"/>
<circle cx="481.2" cy="369.3" r="3.24" fill="url(#gC)"/>
<circle cx="471.6" cy="370.7" r="3.02" fill="url(#gO)"/>
<circle cx="482.6" cy="374.8" r="3.02" fill="url(#gO)"/>
<circle cx="477.1" cy="377.5" r="2.7" fill="url(#gP)"/>
<circle cx="474.3" cy="377.5" r="3.02" fill="url(#gF)"/>
<circle cx="481.2" cy="378.9" r="2.7" fill="url(#gF)"/>
<circle cx="468.8" cy="380.3" r="3.02" fill="url(#gO)"/>
<circle cx="478.5" cy="384.4" r="3.02" fill="url(#gO)"/>
<circle cx="470.2" cy="387.2" r="3.24" fill="url(#gC)"/>
<circle cx="475.7" cy="388.6" r="3.24" fill="url(#gC)"/>
<circle cx="464.7" cy="391.3" r="3.02" fill="url(#gO)"/>
<circle cx="475.7" cy="394.1" r="3.02" fill="url(#gO)"/>
<circle cx="481.2" cy="390" r="2.81" fill="url(#gO)"/>
<circle cx="457.8" cy="426" r="3.24" fill="url(#gO)"/>
<circle cx="457.8" cy="432.1" r="3.24" fill="url(#gC)"/>
<circle cx="460.8" cy="437.4" r="3.24" fill="url(#gC)"/>
<circle cx="465.3" cy="435.1" r="3.02" fill="url(#gO)"/>
<circle cx="451.7" cy="435.1" r="3.24" fill="url(#gO)"/>
<circle cx="444.2" cy="442.7" r="3.24" fill="url(#gO)"/>
<circle cx="457.8" cy="442.7" r="2.7" fill="url(#gO)"/>
<circle cx="451.7" cy="442.7" r="2.7" fill="url(#gP)"/>
<circle cx="446.4" cy="440.4" r="2.92" fill="url(#gF)"/>
<circle cx="455.5" cy="444.9" r="3.24" fill="url(#gF)"/>
<circle cx="442.7" cy="449.5" r="3.24" fill="url(#gC)"/>
<circle cx="445.7" cy="454" r="3.24" fill="url(#gC)"/>
<circle cx="438.9" cy="451" r="3.24" fill="url(#gO)"/>
<circle cx="450.2" cy="451.7" r="2.7" fill="url(#gO)"/>
<circle cx="443.4" cy="459.3" r="2.7" fill="url(#gO)"/>
<circle cx="437.4" cy="460" r="3.56" fill="url(#gL)"/>
<circle cx="445.7" cy="467.6" r="3.24" fill="url(#gL)"/>
<circle cx="383.9" cy="454.9" r="3.24" fill="url(#gL)"/>
<circle cx="432.8" cy="464.6" r="3.24" fill="url(#gO)"/>
<circle cx="432.1" cy="471.4" r="3.24" fill="url(#gC)"/>
<circle cx="437.4" cy="475.9" r="3.24" fill="url(#gC)"/>
<circle cx="426" cy="472.9" r="3.24" fill="url(#gO)"/>
<circle cx="441.1" cy="473.6" r="3.02" fill="url(#gO)"/>
<circle cx="426.4" cy="481.2" r="3.02" fill="url(#gO)"/>
<circle cx="435.1" cy="481.2" r="3.24" fill="url(#gO)"/>
<circle cx="425.3" cy="482.7" r="2.7" fill="url(#gP)"/>
<circle cx="427.6" cy="479.7" r="3.24" fill="url(#gF)"/>
<circle cx="417.6" cy="488.6" r="3.24" fill="url(#gC)"/>
<circle cx="421.5" cy="492.5" r="3.24" fill="url(#gC)"/>
<circle cx="410.3" cy="488.6" r="3.24" fill="url(#gO)"/>
<circle cx="426.8" cy="489.5" r="3.24" fill="url(#gO)"/>
<circle cx="419.1" cy="498.8" r="3.24" fill="url(#gO)"/>
<circle cx="420" cy="481.2" r="3.02" fill="url(#gO)"/>
</svg></body></html>
